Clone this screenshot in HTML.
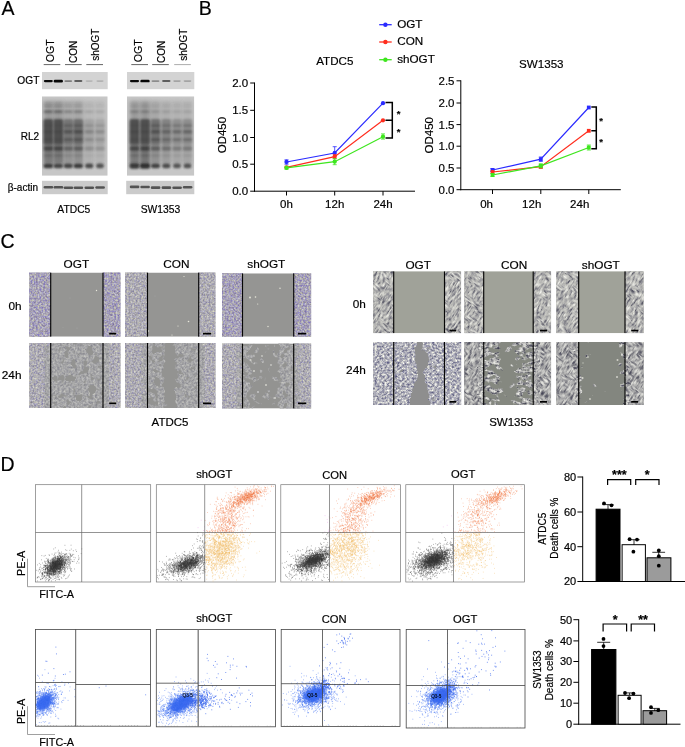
<!DOCTYPE html>
<html lang="en"><head><meta charset="utf-8"><title>Figure</title>
<style>
html,body{margin:0;padding:0;background:#fff;}
body{width:685px;height:747px;overflow:hidden;}
svg{display:block;will-change:transform;font-family:'Liberation Sans', sans-serif;}
text{stroke:#000;stroke-width:.18px}
</style></head><body>
<svg width="685" height="747" viewBox="0 0 685 747">
<rect width="685" height="747" fill="#fff"/>
<defs>
<filter id="b05" x="-50%" y="-50%" width="200%" height="200%"><feGaussianBlur stdDeviation="0.5"/></filter>
<filter id="b08" x="-50%" y="-50%" width="200%" height="200%"><feGaussianBlur stdDeviation="0.8"/></filter>
<filter id="b12" x="-50%" y="-50%" width="200%" height="200%"><feGaussianBlur stdDeviation="1.2"/></filter>
<filter id="b2" x="-50%" y="-50%" width="200%" height="200%"><feGaussianBlur stdDeviation="2.0"/></filter>
<filter id="b3" x="-50%" y="-50%" width="200%" height="200%"><feGaussianBlur stdDeviation="3.0"/></filter>
<filter id="txA" x="0" y="0" width="100%" height="100%" color-interpolation-filters="sRGB">
<feTurbulence type="fractalNoise" baseFrequency="0.55" numOctaves="2" seed="3"/>
<feColorMatrix type="matrix" values="0.52 0 0 0 0.395  0.6 0 0 0 0.335  0.14 0.34 0 0 0.480  0 0 0 0 1"/>
</filter>
<filter id="txAg" x="0" y="0" width="100%" height="100%" color-interpolation-filters="sRGB">
<feTurbulence type="fractalNoise" baseFrequency="0.55" numOctaves="2" seed="17"/>
<feColorMatrix type="matrix" values="0.48 0 0 0 0.440  0.5 0 0 0 0.422  0.26 0.22 0 0 0.465  0 0 0 0 1"/>
</filter>
<filter id="txS" x="0" y="0" width="100%" height="100%" color-interpolation-filters="sRGB">
<feTurbulence type="fractalNoise" baseFrequency="0.30 0.40" numOctaves="3" seed="5"/>
<feColorMatrix type="matrix" values="1 0 0 0 0  1 0 0 0 0  1 0 0 0 0  0 0 0 0 1"/><feComponentTransfer><feFuncR type="table" tableValues="0.27 0.27 0.31 0.42 0.58 0.71 0.80 0.88 0.94 0.98 1.00"/><feFuncG type="table" tableValues="0.27 0.27 0.31 0.42 0.58 0.71 0.80 0.88 0.94 0.98 1.00"/><feFuncB type="table" tableValues="0.33 0.33 0.37 0.46 0.60 0.70 0.78 0.86 0.92 0.96 0.98"/></feComponentTransfer>
</filter>
<filter id="txS2" x="0" y="0" width="100%" height="100%" color-interpolation-filters="sRGB">
<feTurbulence type="fractalNoise" baseFrequency="0.40 0.50" numOctaves="3" seed="9"/>
<feColorMatrix type="matrix" values="1.0 0 0 0 0.190  1.0 0 0 0 0.190  0.7 0.08 0 0 0.340  0 0 0 0 1"/>
</filter>
<filter id="txS3" x="0" y="0" width="100%" height="100%" color-interpolation-filters="sRGB">
<feTurbulence type="fractalNoise" baseFrequency="0.30 0.40" numOctaves="3" seed="19"/>
<feColorMatrix type="matrix" values="1 0 0 0 0  1 0 0 0 0  1 0 0 0 0  0 0 0 0 1"/><feComponentTransfer><feFuncR type="table" tableValues="0.25 0.25 0.29 0.38 0.53 0.67 0.78 0.86 0.93 0.97 1.00"/><feFuncG type="table" tableValues="0.25 0.25 0.29 0.38 0.53 0.67 0.78 0.86 0.93 0.97 1.00"/><feFuncB type="table" tableValues="0.31 0.31 0.35 0.43 0.55 0.67 0.77 0.84 0.91 0.95 0.98"/></feComponentTransfer>
</filter>
<filter id="stS1" x="0" y="0" width="100%" height="100%" color-interpolation-filters="sRGB">
<feTurbulence type="fractalNoise" baseFrequency="0.17 0.55" numOctaves="2" seed="5"/>
<feColorMatrix type="matrix" values="1 0 0 0 0  1 0 0 0 0  1 0 0 0 0  0 0 0 0 1"/><feComponentTransfer><feFuncR type="table" tableValues="0.27 0.27 0.31 0.42 0.58 0.71 0.80 0.88 0.94 0.98 1.00"/><feFuncG type="table" tableValues="0.27 0.27 0.31 0.42 0.58 0.71 0.80 0.88 0.94 0.98 1.00"/><feFuncB type="table" tableValues="0.33 0.33 0.37 0.46 0.60 0.70 0.78 0.86 0.92 0.96 0.98"/></feComponentTransfer>
</filter>
<filter id="stS3" x="0" y="0" width="100%" height="100%" color-interpolation-filters="sRGB">
<feTurbulence type="fractalNoise" baseFrequency="0.17 0.55" numOctaves="2" seed="19"/>
<feColorMatrix type="matrix" values="1 0 0 0 0  1 0 0 0 0  1 0 0 0 0  0 0 0 0 1"/><feComponentTransfer><feFuncR type="table" tableValues="0.25 0.25 0.29 0.38 0.53 0.67 0.78 0.86 0.93 0.97 1.00"/><feFuncG type="table" tableValues="0.25 0.25 0.29 0.38 0.53 0.67 0.78 0.86 0.93 0.97 1.00"/><feFuncB type="table" tableValues="0.31 0.31 0.35 0.43 0.55 0.67 0.77 0.84 0.91 0.95 0.98"/></feComponentTransfer>
</filter>
<filter id="stS1b" x="0" y="0" width="100%" height="100%" color-interpolation-filters="sRGB">
<feTurbulence type="fractalNoise" baseFrequency="0.09 0.12" numOctaves="1" seed="3" result="m"/>
<feColorMatrix in="m" type="matrix" values="0 0 0 0 0  0 0 0 0 0  0 0 0 0 0  0 0 0 9 -4.5" result="mask"/>
<feTurbulence type="fractalNoise" baseFrequency="0.17 0.55" numOctaves="2" seed="8" result="t"/>
<feColorMatrix in="t" type="matrix" values="1 0 0 0 0  1 0 0 0 0  1 0 0 0 0  0 0 0 0 1"/><feComponentTransfer result="tc"><feFuncR type="table" tableValues="0.27 0.27 0.31 0.42 0.58 0.71 0.80 0.88 0.94 0.98 1.00"/><feFuncG type="table" tableValues="0.27 0.27 0.31 0.42 0.58 0.71 0.80 0.88 0.94 0.98 1.00"/><feFuncB type="table" tableValues="0.33 0.33 0.37 0.46 0.60 0.70 0.78 0.86 0.92 0.96 0.98"/></feComponentTransfer>
<feComposite in="tc" in2="mask" operator="in"/>
</filter>
<filter id="stS3b" x="0" y="0" width="100%" height="100%" color-interpolation-filters="sRGB">
<feTurbulence type="fractalNoise" baseFrequency="0.09 0.12" numOctaves="1" seed="13" result="m"/>
<feColorMatrix in="m" type="matrix" values="0 0 0 0 0  0 0 0 0 0  0 0 0 0 0  0 0 0 9 -4.5" result="mask"/>
<feTurbulence type="fractalNoise" baseFrequency="0.17 0.55" numOctaves="2" seed="28" result="t"/>
<feColorMatrix in="t" type="matrix" values="1 0 0 0 0  1 0 0 0 0  1 0 0 0 0  0 0 0 0 1"/><feComponentTransfer result="tc"><feFuncR type="table" tableValues="0.25 0.25 0.29 0.38 0.53 0.67 0.78 0.86 0.93 0.97 1.00"/><feFuncG type="table" tableValues="0.25 0.25 0.29 0.38 0.53 0.67 0.78 0.86 0.93 0.97 1.00"/><feFuncB type="table" tableValues="0.31 0.31 0.35 0.43 0.55 0.67 0.77 0.84 0.91 0.95 0.98"/></feComponentTransfer>
<feComposite in="tc" in2="mask" operator="in"/>
</filter>
<filter id="covA" x="0" y="0" width="100%" height="100%" color-interpolation-filters="sRGB">
<feColorMatrix in="SourceGraphic" type="matrix" values="0 0 0 0 0  0 0 0 0 0  0 0 0 0 0  1 0 0 0 0" result="cv"/>
<feTurbulence type="fractalNoise" baseFrequency="0.17" numOctaves="2" seed="21" result="m"/>
<feComposite in="m" in2="cv" operator="arithmetic" k1="0" k2="1" k3="0.6" k4="-0.3" result="c"/>
<feColorMatrix in="c" type="matrix" values="0 0 0 0 0  0 0 0 0 0  0 0 0 0 0  0 0 0 9 -4.5" result="mask"/>
<feTurbulence type="fractalNoise" baseFrequency="0.45" numOctaves="2" seed="4" result="t"/>
<feColorMatrix in="t" type="matrix" values="0.36 0 0 0 0.468  0.36 0 0 0 0.468  0.3 0.04 0 0 0.485  0 0 0 0 1" result="tc"/>
<feComposite in="tc" in2="mask" operator="in"/>
</filter>
<filter id="covS" x="0" y="0" width="100%" height="100%" color-interpolation-filters="sRGB">
<feColorMatrix in="SourceGraphic" type="matrix" values="0 0 0 0 0  0 0 0 0 0  0 0 0 0 0  1 0 0 0 0" result="cv"/>
<feTurbulence type="fractalNoise" baseFrequency="0.13 0.17" numOctaves="2" seed="52" result="m"/>
<feComposite in="m" in2="cv" operator="arithmetic" k1="0" k2="1" k3="0.6" k4="-0.3" result="c"/>
<feColorMatrix in="c" type="matrix" values="0 0 0 0 0  0 0 0 0 0  0 0 0 0 0  0 0 0 9 -4.5" result="mask"/>
<feTurbulence type="fractalNoise" baseFrequency="0.30 0.40" numOctaves="3" seed="12" result="t"/>
<feColorMatrix in="t" type="matrix" values="1 0 0 0 0  1 0 0 0 0  1 0 0 0 0  0 0 0 0 1"/><feComponentTransfer result="tc"><feFuncR type="table" tableValues="0.25 0.25 0.29 0.38 0.53 0.67 0.78 0.86 0.93 0.97 1.00"/><feFuncG type="table" tableValues="0.25 0.25 0.29 0.38 0.53 0.67 0.78 0.86 0.93 0.97 1.00"/><feFuncB type="table" tableValues="0.31 0.31 0.35 0.43 0.55 0.67 0.77 0.84 0.91 0.95 0.98"/></feComponentTransfer>
<feComposite in="tc" in2="mask" operator="in"/>
</filter>
<filter id="covS2" x="0" y="0" width="100%" height="100%" color-interpolation-filters="sRGB">
<feColorMatrix in="SourceGraphic" type="matrix" values="0 0 0 0 0  0 0 0 0 0  0 0 0 0 0  1 0 0 0 0" result="cv"/>
<feTurbulence type="fractalNoise" baseFrequency="0.16 0.2" numOctaves="2" seed="31" result="m"/>
<feComposite in="m" in2="cv" operator="arithmetic" k1="0" k2="1" k3="0.6" k4="-0.3" result="c"/>
<feColorMatrix in="c" type="matrix" values="0 0 0 0 0  0 0 0 0 0  0 0 0 0 0  0 0 0 9 -4.5" result="mask"/>
<feTurbulence type="fractalNoise" baseFrequency="0.40 0.50" numOctaves="3" seed="9" result="t"/>
<feColorMatrix in="t" type="matrix" values="1.0 0 0 0 0.190  1.0 0 0 0 0.190  0.7 0.08 0 0 0.340  0 0 0 0 1" result="tc"/>
<feComposite in="tc" in2="mask" operator="in"/>
</filter>
</defs>
<text x="1.50" y="15.30" font-size="19.5" text-anchor="start" fill="#000">A</text>
<line x1="43.70" y1="64.60" x2="60.30" y2="64.60" stroke="#222" stroke-width="0.7"/>
<line x1="65.00" y1="64.60" x2="81.70" y2="64.60" stroke="#222" stroke-width="0.7"/>
<line x1="86.30" y1="64.60" x2="103.00" y2="64.60" stroke="#222" stroke-width="0.7"/>
<line x1="131.30" y1="64.60" x2="148.00" y2="64.60" stroke="#222" stroke-width="0.7"/>
<line x1="152.20" y1="64.60" x2="168.80" y2="64.60" stroke="#222" stroke-width="0.7"/>
<line x1="174.20" y1="64.60" x2="190.80" y2="64.60" stroke="#888" stroke-width="0.7"/>
<text transform="translate(54.00 62.30) rotate(-90)" font-size="10.6" text-anchor="start" fill="#000">OGT</text>
<text transform="translate(77.40 63.00) rotate(-90)" font-size="10" text-anchor="start" fill="#000">CON</text>
<text transform="translate(99.20 60.80) rotate(-90)" font-size="10" text-anchor="start" fill="#000">shOGT</text>
<rect x="42" y="72" width="65.7" height="17.2" fill="#d3d3d3"/>
<rect x="43.8" y="79.95" width="9.0" height="2.30" rx="1.2" fill="#050505" opacity="0.95" filter="url(#b05)"/>
<rect x="53.7" y="79.80" width="9.2" height="2.60" rx="1.2" fill="#050505" opacity="0.97" filter="url(#b05)"/>
<rect x="64.4" y="80.20" width="7.8" height="1.80" rx="1.2" fill="#050505" opacity="0.4" filter="url(#b05)"/>
<rect x="74.2" y="80.10" width="8.2" height="2.00" rx="1.2" fill="#050505" opacity="0.55" filter="url(#b05)"/>
<rect x="85.6" y="80.30" width="7.2" height="1.60" rx="1.2" fill="#050505" opacity="0.13" filter="url(#b05)"/>
<rect x="96.4" y="80.30" width="7.2" height="1.60" rx="1.2" fill="#050505" opacity="0.15" filter="url(#b05)"/>
<clipPath id="clipRL42"><rect x="42" y="96.3" width="65.7" height="79.5"/></clipPath>
<g clip-path="url(#clipRL42)">
<rect x="42" y="96.3" width="65.7" height="79.5" fill="#c7c7c7"/>
<rect x="43.6" y="101" width="9.4" height="64" fill="#333" opacity="0.30" filter="url(#b2)"/>
<rect x="43.6" y="143" width="9.4" height="20" fill="#333" opacity="0.30" filter="url(#b12)"/>
<rect x="43.4" y="119" width="9.8" height="25.5" rx="2" fill="#4c4c4c" opacity="0.93" filter="url(#b12)"/>
<rect x="43.8" y="102.5" width="9.0" height="1.4" rx="1" fill="#262626" opacity="0.16" filter="url(#b08)"/>
<rect x="43.8" y="104.9" width="9.0" height="1.8" rx="1" fill="#262626" opacity="0.22" filter="url(#b08)"/>
<rect x="43.8" y="110.5" width="9.0" height="2.4" rx="1" fill="#262626" opacity="0.46" filter="url(#b08)"/>
<rect x="43.8" y="124.2" width="9.0" height="2.8" rx="1" fill="#262626" opacity="0.11" filter="url(#b08)"/>
<rect x="43.8" y="129.9" width="9.0" height="3.6" rx="1" fill="#262626" opacity="0.17" filter="url(#b08)"/>
<rect x="43.8" y="138.3" width="9.0" height="2.8" rx="1" fill="#262626" opacity="0.15" filter="url(#b08)"/>
<rect x="43.8" y="146.3" width="9.0" height="4.4" rx="1" fill="#262626" opacity="0.62" filter="url(#b08)"/>
<rect x="43.8" y="154.0" width="9.0" height="3.0" rx="1" fill="#262626" opacity="0.18" filter="url(#b08)"/>
<rect x="53.6" y="101" width="9.4" height="64" fill="#333" opacity="0.30" filter="url(#b2)"/>
<rect x="53.6" y="143" width="9.4" height="20" fill="#333" opacity="0.30" filter="url(#b12)"/>
<rect x="53.4" y="119" width="9.8" height="25.5" rx="2" fill="#4c4c4c" opacity="0.93" filter="url(#b12)"/>
<rect x="53.8" y="102.5" width="9.0" height="1.4" rx="1" fill="#262626" opacity="0.16" filter="url(#b08)"/>
<rect x="53.8" y="104.9" width="9.0" height="1.8" rx="1" fill="#262626" opacity="0.22" filter="url(#b08)"/>
<rect x="53.8" y="110.5" width="9.0" height="2.4" rx="1" fill="#262626" opacity="0.46" filter="url(#b08)"/>
<rect x="53.8" y="124.2" width="9.0" height="2.8" rx="1" fill="#262626" opacity="0.11" filter="url(#b08)"/>
<rect x="53.8" y="129.9" width="9.0" height="3.6" rx="1" fill="#262626" opacity="0.17" filter="url(#b08)"/>
<rect x="53.8" y="138.3" width="9.0" height="2.8" rx="1" fill="#262626" opacity="0.15" filter="url(#b08)"/>
<rect x="53.8" y="146.3" width="9.0" height="4.4" rx="1" fill="#262626" opacity="0.62" filter="url(#b08)"/>
<rect x="53.8" y="154.0" width="9.0" height="3.0" rx="1" fill="#262626" opacity="0.18" filter="url(#b08)"/>
<rect x="63.6" y="101" width="9.4" height="64" fill="#333" opacity="0.20" filter="url(#b2)"/>
<rect x="63.6" y="143" width="9.4" height="20" fill="#333" opacity="0.16" filter="url(#b12)"/>
<rect x="63.4" y="119" width="9.8" height="25.5" rx="2" fill="#4c4c4c" opacity="0.54" filter="url(#b12)"/>
<rect x="63.8" y="102.5" width="9.0" height="1.4" rx="1" fill="#262626" opacity="0.11" filter="url(#b08)"/>
<rect x="63.8" y="104.9" width="9.0" height="1.8" rx="1" fill="#262626" opacity="0.15" filter="url(#b08)"/>
<rect x="63.8" y="110.5" width="9.0" height="2.4" rx="1" fill="#262626" opacity="0.30" filter="url(#b08)"/>
<rect x="63.8" y="124.2" width="9.0" height="2.8" rx="1" fill="#262626" opacity="0.29" filter="url(#b08)"/>
<rect x="63.8" y="129.9" width="9.0" height="3.6" rx="1" fill="#262626" opacity="0.42" filter="url(#b08)"/>
<rect x="63.8" y="138.3" width="9.0" height="2.8" rx="1" fill="#262626" opacity="0.38" filter="url(#b08)"/>
<rect x="63.8" y="146.3" width="9.0" height="4.4" rx="1" fill="#262626" opacity="0.44" filter="url(#b08)"/>
<rect x="63.8" y="154.0" width="9.0" height="3.0" rx="1" fill="#262626" opacity="0.12" filter="url(#b08)"/>
<rect x="73.6" y="101" width="9.4" height="64" fill="#333" opacity="0.22" filter="url(#b2)"/>
<rect x="73.6" y="143" width="9.4" height="20" fill="#333" opacity="0.18" filter="url(#b12)"/>
<rect x="73.4" y="119" width="9.8" height="25.5" rx="2" fill="#4c4c4c" opacity="0.61" filter="url(#b12)"/>
<rect x="73.8" y="102.5" width="9.0" height="1.4" rx="1" fill="#262626" opacity="0.12" filter="url(#b08)"/>
<rect x="73.8" y="104.9" width="9.0" height="1.8" rx="1" fill="#262626" opacity="0.16" filter="url(#b08)"/>
<rect x="73.8" y="110.5" width="9.0" height="2.4" rx="1" fill="#262626" opacity="0.33" filter="url(#b08)"/>
<rect x="73.8" y="124.2" width="9.0" height="2.8" rx="1" fill="#262626" opacity="0.31" filter="url(#b08)"/>
<rect x="73.8" y="129.9" width="9.0" height="3.6" rx="1" fill="#262626" opacity="0.46" filter="url(#b08)"/>
<rect x="73.8" y="138.3" width="9.0" height="2.8" rx="1" fill="#262626" opacity="0.41" filter="url(#b08)"/>
<rect x="73.8" y="146.3" width="9.0" height="4.4" rx="1" fill="#262626" opacity="0.48" filter="url(#b08)"/>
<rect x="73.8" y="154.0" width="9.0" height="3.0" rx="1" fill="#262626" opacity="0.13" filter="url(#b08)"/>
<rect x="84.5" y="101" width="9.4" height="64" fill="#333" opacity="0.09" filter="url(#b2)"/>
<rect x="84.5" y="143" width="9.4" height="20" fill="#333" opacity="0.05" filter="url(#b12)"/>
<rect x="84.3" y="119" width="9.8" height="25.5" rx="2" fill="#4c4c4c" opacity="0.19" filter="url(#b12)"/>
<rect x="84.7" y="102.5" width="9.0" height="1.4" rx="1" fill="#262626" opacity="0.05" filter="url(#b08)"/>
<rect x="84.7" y="104.9" width="9.0" height="1.8" rx="1" fill="#262626" opacity="0.07" filter="url(#b08)"/>
<rect x="84.7" y="110.5" width="9.0" height="2.4" rx="1" fill="#262626" opacity="0.14" filter="url(#b08)"/>
<rect x="84.7" y="124.2" width="9.0" height="2.8" rx="1" fill="#262626" opacity="0.17" filter="url(#b08)"/>
<rect x="84.7" y="129.9" width="9.0" height="3.6" rx="1" fill="#262626" opacity="0.25" filter="url(#b08)"/>
<rect x="84.7" y="138.3" width="9.0" height="2.8" rx="1" fill="#262626" opacity="0.22" filter="url(#b08)"/>
<rect x="84.7" y="146.3" width="9.0" height="4.4" rx="1" fill="#262626" opacity="0.24" filter="url(#b08)"/>
<rect x="84.7" y="154.0" width="9.0" height="3.0" rx="1" fill="#262626" opacity="0.05" filter="url(#b08)"/>
<rect x="95.3" y="101" width="9.4" height="64" fill="#333" opacity="0.08" filter="url(#b2)"/>
<rect x="95.3" y="143" width="9.4" height="20" fill="#333" opacity="0.04" filter="url(#b12)"/>
<rect x="95.1" y="119" width="9.8" height="25.5" rx="2" fill="#4c4c4c" opacity="0.16" filter="url(#b12)"/>
<rect x="95.5" y="102.5" width="9.0" height="1.4" rx="1" fill="#262626" opacity="0.04" filter="url(#b08)"/>
<rect x="95.5" y="104.9" width="9.0" height="1.8" rx="1" fill="#262626" opacity="0.06" filter="url(#b08)"/>
<rect x="95.5" y="110.5" width="9.0" height="2.4" rx="1" fill="#262626" opacity="0.12" filter="url(#b08)"/>
<rect x="95.5" y="124.2" width="9.0" height="2.8" rx="1" fill="#262626" opacity="0.15" filter="url(#b08)"/>
<rect x="95.5" y="129.9" width="9.0" height="3.6" rx="1" fill="#262626" opacity="0.22" filter="url(#b08)"/>
<rect x="95.5" y="138.3" width="9.0" height="2.8" rx="1" fill="#262626" opacity="0.20" filter="url(#b08)"/>
<rect x="95.5" y="146.3" width="9.0" height="4.4" rx="1" fill="#262626" opacity="0.22" filter="url(#b08)"/>
<rect x="95.5" y="154.0" width="9.0" height="3.0" rx="1" fill="#262626" opacity="0.05" filter="url(#b08)"/>
<rect x="43.5" y="163.5" width="9.6" height="4.8" rx="2.2" fill="#262626" opacity="0.86" filter="url(#b08)"/>
<rect x="53.6" y="163.5" width="9.4" height="4.8" rx="2.2" fill="#262626" opacity="0.8" filter="url(#b08)"/>
<rect x="63.8" y="163.5" width="9.0" height="4.8" rx="2.2" fill="#262626" opacity="0.8" filter="url(#b08)"/>
<rect x="73.6" y="163.5" width="9.4" height="4.8" rx="2.2" fill="#262626" opacity="0.86" filter="url(#b08)"/>
<rect x="85.1" y="163.5" width="8.2" height="4.8" rx="2.2" fill="#262626" opacity="0.78" filter="url(#b08)"/>
<rect x="96.1" y="163.5" width="7.8" height="4.8" rx="2.2" fill="#262626" opacity="0.72" filter="url(#b08)"/>
</g>
<rect x="42" y="180.8" width="65.7" height="13.4" fill="#cbcbcb"/>
<rect x="43.6" y="185.9" width="9.6" height="2.6" rx="1.2" fill="#2c2c2c" opacity="0.74" filter="url(#b05)"/>
<rect x="53.6" y="186.0" width="9.6" height="2.6" rx="1.2" fill="#2c2c2c" opacity="0.74" filter="url(#b05)"/>
<rect x="63.6" y="186.4" width="9.6" height="2.6" rx="1.2" fill="#2c2c2c" opacity="0.74" filter="url(#b05)"/>
<rect x="73.6" y="186.4" width="9.6" height="2.6" rx="1.2" fill="#2c2c2c" opacity="0.74" filter="url(#b05)"/>
<rect x="84.5" y="186.4" width="9.6" height="2.6" rx="1.2" fill="#2c2c2c" opacity="0.74" filter="url(#b05)"/>
<rect x="95.3" y="186.2" width="9.6" height="2.6" rx="1.2" fill="#2c2c2c" opacity="0.74" filter="url(#b05)"/>
<text x="73.80" y="213.00" font-size="10.3" text-anchor="middle" fill="#000">ATDC5</text>
<text transform="translate(142.40 62.30) rotate(-90)" font-size="10.6" text-anchor="start" fill="#000">OGT</text>
<text transform="translate(165.00 63.00) rotate(-90)" font-size="10" text-anchor="start" fill="#000">CON</text>
<text transform="translate(186.80 60.80) rotate(-90)" font-size="10" text-anchor="start" fill="#000">shOGT</text>
<rect x="127" y="72" width="67.30000000000001" height="17.2" fill="#d3d3d3"/>
<rect x="129.9" y="79.95" width="9.2" height="2.30" rx="1.2" fill="#050505" opacity="0.95" filter="url(#b05)"/>
<rect x="140.4" y="79.85" width="9.2" height="2.50" rx="1.2" fill="#050505" opacity="0.97" filter="url(#b05)"/>
<rect x="151.5" y="80.20" width="8.0" height="1.80" rx="1.2" fill="#050505" opacity="0.33" filter="url(#b05)"/>
<rect x="162.1" y="80.10" width="8.4" height="2.00" rx="1.2" fill="#050505" opacity="0.55" filter="url(#b05)"/>
<rect x="173.2" y="80.30" width="7.6" height="1.60" rx="1.2" fill="#050505" opacity="0.22" filter="url(#b05)"/>
<rect x="183.6" y="80.30" width="7.8" height="1.60" rx="1.2" fill="#050505" opacity="0.22" filter="url(#b05)"/>
<clipPath id="clipRL127"><rect x="127" y="96.3" width="67.30000000000001" height="79.5"/></clipPath>
<g clip-path="url(#clipRL127)">
<rect x="127" y="96.3" width="67.30000000000001" height="79.5" fill="#c7c7c7"/>
<rect x="129.8" y="101" width="9.4" height="64" fill="#333" opacity="0.30" filter="url(#b2)"/>
<rect x="129.8" y="143" width="9.4" height="20" fill="#333" opacity="0.30" filter="url(#b12)"/>
<rect x="129.6" y="119" width="9.8" height="25.5" rx="2" fill="#4c4c4c" opacity="0.93" filter="url(#b12)"/>
<rect x="130.0" y="102.5" width="9.0" height="1.4" rx="1" fill="#262626" opacity="0.06" filter="url(#b08)"/>
<rect x="130.0" y="104.9" width="9.0" height="1.8" rx="1" fill="#262626" opacity="0.10" filter="url(#b08)"/>
<rect x="130.0" y="110.5" width="9.0" height="2.4" rx="1" fill="#262626" opacity="0.25" filter="url(#b08)"/>
<rect x="130.0" y="124.2" width="9.0" height="2.8" rx="1" fill="#262626" opacity="0.11" filter="url(#b08)"/>
<rect x="130.0" y="129.9" width="9.0" height="3.6" rx="1" fill="#262626" opacity="0.17" filter="url(#b08)"/>
<rect x="130.0" y="138.3" width="9.0" height="2.8" rx="1" fill="#262626" opacity="0.15" filter="url(#b08)"/>
<rect x="130.0" y="146.3" width="9.0" height="4.4" rx="1" fill="#262626" opacity="0.62" filter="url(#b08)"/>
<rect x="130.0" y="154.0" width="9.0" height="3.0" rx="1" fill="#262626" opacity="0.18" filter="url(#b08)"/>
<rect x="140.3" y="101" width="9.4" height="64" fill="#333" opacity="0.32" filter="url(#b2)"/>
<rect x="140.3" y="143" width="9.4" height="20" fill="#333" opacity="0.34" filter="url(#b12)"/>
<rect x="140.1" y="119" width="9.8" height="25.5" rx="2" fill="#4c4c4c" opacity="0.93" filter="url(#b12)"/>
<rect x="140.5" y="102.5" width="9.0" height="1.4" rx="1" fill="#262626" opacity="0.06" filter="url(#b08)"/>
<rect x="140.5" y="104.9" width="9.0" height="1.8" rx="1" fill="#262626" opacity="0.11" filter="url(#b08)"/>
<rect x="140.5" y="110.5" width="9.0" height="2.4" rx="1" fill="#262626" opacity="0.27" filter="url(#b08)"/>
<rect x="140.5" y="124.2" width="9.0" height="2.8" rx="1" fill="#262626" opacity="0.11" filter="url(#b08)"/>
<rect x="140.5" y="129.9" width="9.0" height="3.6" rx="1" fill="#262626" opacity="0.17" filter="url(#b08)"/>
<rect x="140.5" y="138.3" width="9.0" height="2.8" rx="1" fill="#262626" opacity="0.15" filter="url(#b08)"/>
<rect x="140.5" y="146.3" width="9.0" height="4.4" rx="1" fill="#262626" opacity="0.66" filter="url(#b08)"/>
<rect x="140.5" y="154.0" width="9.0" height="3.0" rx="1" fill="#262626" opacity="0.19" filter="url(#b08)"/>
<rect x="150.8" y="101" width="9.4" height="64" fill="#333" opacity="0.21" filter="url(#b2)"/>
<rect x="150.8" y="143" width="9.4" height="20" fill="#333" opacity="0.18" filter="url(#b12)"/>
<rect x="150.6" y="119" width="9.8" height="25.5" rx="2" fill="#4c4c4c" opacity="0.59" filter="url(#b12)"/>
<rect x="151.0" y="102.5" width="9.0" height="1.4" rx="1" fill="#262626" opacity="0.04" filter="url(#b08)"/>
<rect x="151.0" y="104.9" width="9.0" height="1.8" rx="1" fill="#262626" opacity="0.07" filter="url(#b08)"/>
<rect x="151.0" y="110.5" width="9.0" height="2.4" rx="1" fill="#262626" opacity="0.17" filter="url(#b08)"/>
<rect x="151.0" y="124.2" width="9.0" height="2.8" rx="1" fill="#262626" opacity="0.31" filter="url(#b08)"/>
<rect x="151.0" y="129.9" width="9.0" height="3.6" rx="1" fill="#262626" opacity="0.44" filter="url(#b08)"/>
<rect x="151.0" y="138.3" width="9.0" height="2.8" rx="1" fill="#262626" opacity="0.40" filter="url(#b08)"/>
<rect x="151.0" y="146.3" width="9.0" height="4.4" rx="1" fill="#262626" opacity="0.47" filter="url(#b08)"/>
<rect x="151.0" y="154.0" width="9.0" height="3.0" rx="1" fill="#262626" opacity="0.13" filter="url(#b08)"/>
<rect x="161.6" y="101" width="9.4" height="64" fill="#333" opacity="0.17" filter="url(#b2)"/>
<rect x="161.6" y="143" width="9.4" height="20" fill="#333" opacity="0.13" filter="url(#b12)"/>
<rect x="161.4" y="119" width="9.8" height="25.5" rx="2" fill="#4c4c4c" opacity="0.43" filter="url(#b12)"/>
<rect x="161.8" y="102.5" width="9.0" height="1.4" rx="1" fill="#262626" opacity="0.03" filter="url(#b08)"/>
<rect x="161.8" y="104.9" width="9.0" height="1.8" rx="1" fill="#262626" opacity="0.06" filter="url(#b08)"/>
<rect x="161.8" y="110.5" width="9.0" height="2.4" rx="1" fill="#262626" opacity="0.14" filter="url(#b08)"/>
<rect x="161.8" y="124.2" width="9.0" height="2.8" rx="1" fill="#262626" opacity="0.24" filter="url(#b08)"/>
<rect x="161.8" y="129.9" width="9.0" height="3.6" rx="1" fill="#262626" opacity="0.35" filter="url(#b08)"/>
<rect x="161.8" y="138.3" width="9.0" height="2.8" rx="1" fill="#262626" opacity="0.32" filter="url(#b08)"/>
<rect x="161.8" y="146.3" width="9.0" height="4.4" rx="1" fill="#262626" opacity="0.39" filter="url(#b08)"/>
<rect x="161.8" y="154.0" width="9.0" height="3.0" rx="1" fill="#262626" opacity="0.10" filter="url(#b08)"/>
<rect x="172.3" y="101" width="9.4" height="64" fill="#333" opacity="0.14" filter="url(#b2)"/>
<rect x="172.3" y="143" width="9.4" height="20" fill="#333" opacity="0.09" filter="url(#b12)"/>
<rect x="172.1" y="119" width="9.8" height="25.5" rx="2" fill="#4c4c4c" opacity="0.32" filter="url(#b12)"/>
<rect x="172.5" y="102.5" width="9.0" height="1.4" rx="1" fill="#262626" opacity="0.03" filter="url(#b08)"/>
<rect x="172.5" y="104.9" width="9.0" height="1.8" rx="1" fill="#262626" opacity="0.05" filter="url(#b08)"/>
<rect x="172.5" y="110.5" width="9.0" height="2.4" rx="1" fill="#262626" opacity="0.11" filter="url(#b08)"/>
<rect x="172.5" y="124.2" width="9.0" height="2.8" rx="1" fill="#262626" opacity="0.26" filter="url(#b08)"/>
<rect x="172.5" y="129.9" width="9.0" height="3.6" rx="1" fill="#262626" opacity="0.37" filter="url(#b08)"/>
<rect x="172.5" y="138.3" width="9.0" height="2.8" rx="1" fill="#262626" opacity="0.34" filter="url(#b08)"/>
<rect x="172.5" y="146.3" width="9.0" height="4.4" rx="1" fill="#262626" opacity="0.33" filter="url(#b08)"/>
<rect x="172.5" y="154.0" width="9.0" height="3.0" rx="1" fill="#262626" opacity="0.08" filter="url(#b08)"/>
<rect x="182.8" y="101" width="9.4" height="64" fill="#333" opacity="0.14" filter="url(#b2)"/>
<rect x="182.8" y="143" width="9.4" height="20" fill="#333" opacity="0.10" filter="url(#b12)"/>
<rect x="182.6" y="119" width="9.8" height="25.5" rx="2" fill="#4c4c4c" opacity="0.34" filter="url(#b12)"/>
<rect x="183.0" y="102.5" width="9.0" height="1.4" rx="1" fill="#262626" opacity="0.03" filter="url(#b08)"/>
<rect x="183.0" y="104.9" width="9.0" height="1.8" rx="1" fill="#262626" opacity="0.05" filter="url(#b08)"/>
<rect x="183.0" y="110.5" width="9.0" height="2.4" rx="1" fill="#262626" opacity="0.12" filter="url(#b08)"/>
<rect x="183.0" y="124.2" width="9.0" height="2.8" rx="1" fill="#262626" opacity="0.27" filter="url(#b08)"/>
<rect x="183.0" y="129.9" width="9.0" height="3.6" rx="1" fill="#262626" opacity="0.39" filter="url(#b08)"/>
<rect x="183.0" y="138.3" width="9.0" height="2.8" rx="1" fill="#262626" opacity="0.35" filter="url(#b08)"/>
<rect x="183.0" y="146.3" width="9.0" height="4.4" rx="1" fill="#262626" opacity="0.34" filter="url(#b08)"/>
<rect x="183.0" y="154.0" width="9.0" height="3.0" rx="1" fill="#262626" opacity="0.08" filter="url(#b08)"/>
<rect x="129.5" y="163.0" width="10.0" height="5.8" rx="2.2" fill="#262626" opacity="0.86" filter="url(#b08)"/>
<rect x="139.9" y="163.0" width="10.2" height="5.8" rx="2.2" fill="#262626" opacity="0.92" filter="url(#b08)"/>
<rect x="151.0" y="163.5" width="9.0" height="4.8" rx="2.2" fill="#262626" opacity="0.82" filter="url(#b08)"/>
<rect x="162.2" y="163.5" width="8.2" height="4.8" rx="2.2" fill="#262626" opacity="0.76" filter="url(#b08)"/>
<rect x="173.1" y="163.5" width="7.8" height="4.8" rx="2.2" fill="#262626" opacity="0.7" filter="url(#b08)"/>
<rect x="183.6" y="163.5" width="7.8" height="4.8" rx="2.2" fill="#262626" opacity="0.72" filter="url(#b08)"/>
</g>
<rect x="126.2" y="180.8" width="68.10000000000001" height="13.4" fill="#cbcbcb"/>
<rect x="129.8" y="185.6" width="9.6" height="2.6" rx="1.2" fill="#2c2c2c" opacity="0.74" filter="url(#b05)"/>
<rect x="140.3" y="185.7" width="9.6" height="2.6" rx="1.2" fill="#2c2c2c" opacity="0.74" filter="url(#b05)"/>
<rect x="150.8" y="186.3" width="9.6" height="2.6" rx="1.2" fill="#2c2c2c" opacity="0.74" filter="url(#b05)"/>
<rect x="161.6" y="186.3" width="9.6" height="2.6" rx="1.2" fill="#2c2c2c" opacity="0.74" filter="url(#b05)"/>
<rect x="172.3" y="186.4" width="9.6" height="2.6" rx="1.2" fill="#2c2c2c" opacity="0.74" filter="url(#b05)"/>
<rect x="182.8" y="185.9" width="9.6" height="2.6" rx="1.2" fill="#2c2c2c" opacity="0.74" filter="url(#b05)"/>
<text x="160.40" y="213.00" font-size="10.3" text-anchor="middle" fill="#000">SW1353</text>
<text x="39.40" y="84.30" font-size="10.2" text-anchor="end" fill="#000">OGT</text>
<text x="39.20" y="140.20" font-size="10" text-anchor="end" fill="#000">RL2</text>
<text x="38.00" y="190.80" font-size="10" text-anchor="end" fill="#000">β-actin</text>
<text x="198.70" y="15.20" font-size="19.5" text-anchor="start" fill="#000">B</text>
<line x1="379.20" y1="24.70" x2="391.70" y2="24.70" stroke="#2b2bff" stroke-width="1.3"/>
<circle cx="385.4" cy="24.7" r="2.2" fill="#2b2bff"/>
<text x="397.20" y="27.90" font-size="11.7" text-anchor="start" fill="#000">OGT</text>
<line x1="379.20" y1="42.00" x2="391.70" y2="42.00" stroke="#ff2d1e" stroke-width="1.3"/>
<circle cx="385.4" cy="42.0" r="2.2" fill="#ff2d1e"/>
<text x="397.20" y="45.20" font-size="11.7" text-anchor="start" fill="#000">CON</text>
<line x1="379.20" y1="59.70" x2="391.70" y2="59.70" stroke="#3ee61e" stroke-width="1.3"/>
<circle cx="385.4" cy="59.7" r="2.2" fill="#3ee61e"/>
<text x="397.20" y="62.90" font-size="11.7" text-anchor="start" fill="#000">shOGT</text>
<line x1="254.50" y1="82.50" x2="254.50" y2="191.70" stroke="#000" stroke-width="1"/>
<line x1="254.00" y1="191.20" x2="415.00" y2="191.20" stroke="#000" stroke-width="1"/>
<line x1="250.20" y1="83.00" x2="254.50" y2="83.00" stroke="#000" stroke-width="1"/>
<text x="248.20" y="87.00" font-size="11.5" text-anchor="end" fill="#000">2.0</text>
<line x1="250.20" y1="110.30" x2="254.50" y2="110.30" stroke="#000" stroke-width="1"/>
<text x="248.20" y="114.30" font-size="11.5" text-anchor="end" fill="#000">1.5</text>
<line x1="250.20" y1="137.50" x2="254.50" y2="137.50" stroke="#000" stroke-width="1"/>
<text x="248.20" y="141.50" font-size="11.5" text-anchor="end" fill="#000">1.0</text>
<line x1="250.20" y1="164.20" x2="254.50" y2="164.20" stroke="#000" stroke-width="1"/>
<text x="248.20" y="168.20" font-size="11.5" text-anchor="end" fill="#000">0.5</text>
<line x1="250.20" y1="191.20" x2="254.50" y2="191.20" stroke="#000" stroke-width="1"/>
<text x="248.20" y="195.20" font-size="11.5" text-anchor="end" fill="#000">0.0</text>
<line x1="286.50" y1="191.20" x2="286.50" y2="195.50" stroke="#000" stroke-width="1"/>
<text x="286.50" y="208.10" font-size="11.5" text-anchor="middle" fill="#000">0h</text>
<line x1="334.70" y1="191.20" x2="334.70" y2="195.50" stroke="#000" stroke-width="1"/>
<text x="334.70" y="208.10" font-size="11.5" text-anchor="middle" fill="#000">12h</text>
<line x1="383.00" y1="191.20" x2="383.00" y2="195.50" stroke="#000" stroke-width="1"/>
<text x="383.00" y="208.10" font-size="11.5" text-anchor="middle" fill="#000">24h</text>
<text transform="translate(226.20 135.10) rotate(-90)" font-size="11.5" text-anchor="middle" fill="#000">OD450</text>
<text x="334.80" y="65.00" font-size="11.6" text-anchor="middle" fill="#000">ATDC5</text>
<polyline points="286.5,162.0 334.7,153.0 383.0,103.2" fill="none" stroke="#2b2bff" stroke-width="1.2"/>
<line x1="286.50" y1="159.80" x2="286.50" y2="164.20" stroke="#2b2bff" stroke-width="0.8"/>
<line x1="284.50" y1="159.80" x2="288.50" y2="159.80" stroke="#2b2bff" stroke-width="0.8"/>
<line x1="284.50" y1="164.20" x2="288.50" y2="164.20" stroke="#2b2bff" stroke-width="0.8"/>
<circle cx="286.5" cy="162.0" r="2.15" fill="#2b2bff"/>
<line x1="334.70" y1="146.70" x2="334.70" y2="153.00" stroke="#2b2bff" stroke-width="0.8"/>
<line x1="332.70" y1="146.70" x2="336.70" y2="146.70" stroke="#2b2bff" stroke-width="0.8"/>
<circle cx="334.7" cy="153.0" r="2.15" fill="#2b2bff"/>
<circle cx="383.0" cy="103.2" r="2.15" fill="#2b2bff"/>
<polyline points="286.5,167.4 334.7,156.7 383.0,120.3" fill="none" stroke="#ff2d1e" stroke-width="1.2"/>
<circle cx="286.5" cy="167.4" r="2.15" fill="#ff2d1e"/>
<line x1="334.70" y1="154.70" x2="334.70" y2="158.70" stroke="#ff2d1e" stroke-width="0.8"/>
<line x1="332.70" y1="154.70" x2="336.70" y2="154.70" stroke="#ff2d1e" stroke-width="0.8"/>
<line x1="332.70" y1="158.70" x2="336.70" y2="158.70" stroke="#ff2d1e" stroke-width="0.8"/>
<circle cx="334.7" cy="156.7" r="2.15" fill="#ff2d1e"/>
<circle cx="383.0" cy="120.3" r="2.15" fill="#ff2d1e"/>
<polyline points="286.5,167.8 334.7,161.7 383.0,136.7" fill="none" stroke="#3ee61e" stroke-width="1.2"/>
<line x1="286.50" y1="166.30" x2="286.50" y2="169.30" stroke="#3ee61e" stroke-width="0.8"/>
<line x1="284.50" y1="166.30" x2="288.50" y2="166.30" stroke="#3ee61e" stroke-width="0.8"/>
<line x1="284.50" y1="169.30" x2="288.50" y2="169.30" stroke="#3ee61e" stroke-width="0.8"/>
<circle cx="286.5" cy="167.8" r="2.15" fill="#3ee61e"/>
<line x1="334.70" y1="158.70" x2="334.70" y2="164.70" stroke="#3ee61e" stroke-width="0.8"/>
<line x1="332.70" y1="158.70" x2="336.70" y2="158.70" stroke="#3ee61e" stroke-width="0.8"/>
<line x1="332.70" y1="164.70" x2="336.70" y2="164.70" stroke="#3ee61e" stroke-width="0.8"/>
<circle cx="334.7" cy="161.7" r="2.15" fill="#3ee61e"/>
<line x1="383.00" y1="133.90" x2="383.00" y2="139.10" stroke="#3ee61e" stroke-width="0.8"/>
<line x1="381.00" y1="133.90" x2="385.00" y2="133.90" stroke="#3ee61e" stroke-width="0.8"/>
<line x1="381.00" y1="139.10" x2="385.00" y2="139.10" stroke="#3ee61e" stroke-width="0.8"/>
<circle cx="383.0" cy="136.7" r="2.15" fill="#3ee61e"/>
<path d="M385.5 102.6H392.3V137.9H385.5M385.5 120.3H392.3" fill="none" stroke="#000" stroke-width="1.5"/>
<text x="398.60" y="117.05" font-size="9.5" text-anchor="middle" fill="#000" font-weight="bold">*</text>
<text x="398.60" y="134.50" font-size="9.5" text-anchor="middle" fill="#000" font-weight="bold">*</text>
<line x1="460.80" y1="80.30" x2="460.80" y2="190.20" stroke="#000" stroke-width="1"/>
<line x1="460.30" y1="189.70" x2="620.80" y2="189.70" stroke="#000" stroke-width="1"/>
<line x1="456.50" y1="80.80" x2="460.80" y2="80.80" stroke="#000" stroke-width="1"/>
<text x="454.50" y="84.80" font-size="11.5" text-anchor="end" fill="#000">2.5</text>
<line x1="456.50" y1="103.00" x2="460.80" y2="103.00" stroke="#000" stroke-width="1"/>
<text x="454.50" y="107.00" font-size="11.5" text-anchor="end" fill="#000">2.0</text>
<line x1="456.50" y1="124.60" x2="460.80" y2="124.60" stroke="#000" stroke-width="1"/>
<text x="454.50" y="128.60" font-size="11.5" text-anchor="end" fill="#000">1.5</text>
<line x1="456.50" y1="146.20" x2="460.80" y2="146.20" stroke="#000" stroke-width="1"/>
<text x="454.50" y="150.20" font-size="11.5" text-anchor="end" fill="#000">1.0</text>
<line x1="456.50" y1="168.00" x2="460.80" y2="168.00" stroke="#000" stroke-width="1"/>
<text x="454.50" y="172.00" font-size="11.5" text-anchor="end" fill="#000">0.5</text>
<line x1="456.50" y1="189.70" x2="460.80" y2="189.70" stroke="#000" stroke-width="1"/>
<text x="454.50" y="193.70" font-size="11.5" text-anchor="end" fill="#000">0.0</text>
<line x1="492.50" y1="189.70" x2="492.50" y2="194.00" stroke="#000" stroke-width="1"/>
<text x="493.00" y="208.10" font-size="11.5" text-anchor="end" fill="#000">0h</text>
<line x1="540.80" y1="189.70" x2="540.80" y2="194.00" stroke="#000" stroke-width="1"/>
<text x="541.30" y="208.10" font-size="11.5" text-anchor="end" fill="#000">12h</text>
<line x1="588.80" y1="189.70" x2="588.80" y2="194.00" stroke="#000" stroke-width="1"/>
<text x="589.30" y="208.10" font-size="11.5" text-anchor="end" fill="#000">24h</text>
<text transform="translate(432.80 135.25) rotate(-90)" font-size="11.5" text-anchor="middle" fill="#000">OD450</text>
<text x="541.30" y="67.50" font-size="11.6" text-anchor="middle" fill="#000">SW1353</text>
<polyline points="492.5,170.0 540.8,159.2 588.8,107.5" fill="none" stroke="#2b2bff" stroke-width="1.2"/>
<line x1="492.50" y1="168.50" x2="492.50" y2="171.50" stroke="#2b2bff" stroke-width="0.8"/>
<line x1="490.50" y1="168.50" x2="494.50" y2="168.50" stroke="#2b2bff" stroke-width="0.8"/>
<line x1="490.50" y1="171.50" x2="494.50" y2="171.50" stroke="#2b2bff" stroke-width="0.8"/>
<rect x="490.6" y="168.1" width="3.8" height="3.8" fill="#2b2bff"/>
<line x1="540.80" y1="157.00" x2="540.80" y2="161.40" stroke="#2b2bff" stroke-width="0.8"/>
<line x1="538.80" y1="157.00" x2="542.80" y2="157.00" stroke="#2b2bff" stroke-width="0.8"/>
<line x1="538.80" y1="161.40" x2="542.80" y2="161.40" stroke="#2b2bff" stroke-width="0.8"/>
<rect x="538.9" y="157.3" width="3.8" height="3.8" fill="#2b2bff"/>
<rect x="586.9" y="105.6" width="3.8" height="3.8" fill="#2b2bff"/>
<polyline points="492.5,172.0 540.8,166.7 588.8,130.8" fill="none" stroke="#ff2d1e" stroke-width="1.2"/>
<rect x="490.6" y="170.1" width="3.8" height="3.8" fill="#ff2d1e"/>
<line x1="540.80" y1="165.10" x2="540.80" y2="168.30" stroke="#ff2d1e" stroke-width="0.8"/>
<line x1="538.80" y1="165.10" x2="542.80" y2="165.10" stroke="#ff2d1e" stroke-width="0.8"/>
<line x1="538.80" y1="168.30" x2="542.80" y2="168.30" stroke="#ff2d1e" stroke-width="0.8"/>
<rect x="538.9" y="164.8" width="3.8" height="3.8" fill="#ff2d1e"/>
<rect x="586.9" y="128.9" width="3.8" height="3.8" fill="#ff2d1e"/>
<polyline points="492.5,175.0 540.8,165.8 588.8,147.5" fill="none" stroke="#3ee61e" stroke-width="1.2"/>
<line x1="492.50" y1="173.50" x2="492.50" y2="176.50" stroke="#3ee61e" stroke-width="0.8"/>
<line x1="490.50" y1="173.50" x2="494.50" y2="173.50" stroke="#3ee61e" stroke-width="0.8"/>
<line x1="490.50" y1="176.50" x2="494.50" y2="176.50" stroke="#3ee61e" stroke-width="0.8"/>
<rect x="490.6" y="173.1" width="3.8" height="3.8" fill="#3ee61e"/>
<line x1="540.80" y1="163.80" x2="540.80" y2="167.80" stroke="#3ee61e" stroke-width="0.8"/>
<line x1="538.80" y1="163.80" x2="542.80" y2="163.80" stroke="#3ee61e" stroke-width="0.8"/>
<line x1="538.80" y1="167.80" x2="542.80" y2="167.80" stroke="#3ee61e" stroke-width="0.8"/>
<rect x="538.9" y="163.9" width="3.8" height="3.8" fill="#3ee61e"/>
<line x1="588.80" y1="145.00" x2="588.80" y2="150.00" stroke="#3ee61e" stroke-width="0.8"/>
<line x1="586.80" y1="145.00" x2="590.80" y2="145.00" stroke="#3ee61e" stroke-width="0.8"/>
<line x1="586.80" y1="150.00" x2="590.80" y2="150.00" stroke="#3ee61e" stroke-width="0.8"/>
<rect x="586.9" y="145.6" width="3.8" height="3.8" fill="#3ee61e"/>
<path d="M591.3 106.9H596.3V148.7H591.3M591.3 130.8H596.3" fill="none" stroke="#000" stroke-width="1.5"/>
<text x="601.20" y="124.45" font-size="9.5" text-anchor="middle" fill="#000" font-weight="bold">*</text>
<text x="601.20" y="145.15" font-size="9.5" text-anchor="middle" fill="#000" font-weight="bold">*</text>
<text x="0.40" y="248.20" font-size="19.5" text-anchor="start" fill="#000">C</text>
<clipPath id="mc1"><rect x="29.2" y="272.5" width="91.30" height="64.20"/></clipPath>
<g clip-path="url(#mc1)">
<rect x="29.2" y="272.5" width="91.30" height="64.20" fill="#959593"/>
<rect x="29.2" y="272.5" width="21.50" height="64.20" filter="url(#txA)"/>
<rect x="103.0" y="272.5" width="17.50" height="64.20" filter="url(#txA)"/>
<circle cx="96.5" cy="290.5" r="0.7" fill="#e8e8dc"/>
<circle cx="70" cy="298" r="0.5" fill="#a5a5a5"/>
<circle cx="77" cy="328" r="0.5" fill="#a8a8a8"/>
<circle cx="63" cy="327.5" r="0.5" fill="#a0a0a0"/>
<line x1="50.70" y1="272.50" x2="50.70" y2="336.70" stroke="#050505" stroke-width="1.15"/>
<line x1="103.00" y1="272.50" x2="103.00" y2="336.70" stroke="#050505" stroke-width="1.15"/>
<rect x="109.2" y="332.8" width="7.0" height="1.7" fill="#000"/>
</g>
<clipPath id="mc2"><rect x="125.0" y="272.5" width="90.50" height="64.20"/></clipPath>
<g clip-path="url(#mc2)">
<rect x="125.0" y="272.5" width="90.50" height="64.20" fill="#959593"/>
<rect x="125.0" y="272.5" width="22.50" height="64.20" filter="url(#txAg)"/>
<rect x="198.7" y="272.5" width="16.80" height="64.20" filter="url(#txAg)"/>
<circle cx="184" cy="276.5" r="0.6" fill="#e8e8dc"/>
<circle cx="188.5" cy="321.5" r="0.8" fill="#e8e8dc"/>
<circle cx="178" cy="326" r="0.6" fill="#e8e8dc"/>
<circle cx="172" cy="335" r="0.6" fill="#e8e8dc"/>
<circle cx="148.5" cy="331" r="0.7" fill="#e8e8dc"/>
<circle cx="155" cy="296" r="0.5" fill="#a5a5a5"/>
<line x1="147.50" y1="272.50" x2="147.50" y2="336.70" stroke="#050505" stroke-width="1.15"/>
<line x1="198.70" y1="272.50" x2="198.70" y2="336.70" stroke="#050505" stroke-width="1.15"/>
<rect x="203.0" y="332.8" width="8.2" height="1.7" fill="#000"/>
</g>
<clipPath id="mc3"><rect x="222.0" y="273.3" width="89.20" height="63.40"/></clipPath>
<g clip-path="url(#mc3)">
<rect x="222.0" y="273.3" width="89.20" height="63.40" fill="#959593"/>
<rect x="222.0" y="273.3" width="20.50" height="63.40" filter="url(#txA)"/>
<rect x="293.7" y="273.3" width="17.50" height="63.40" filter="url(#txA)"/>
<circle cx="280" cy="288.3" r="0.7" fill="#e8e8dc"/>
<circle cx="250" cy="297.5" r="0.9" fill="#e8e8dc"/>
<circle cx="255.5" cy="297" r="0.8" fill="#e8e8dc"/>
<circle cx="257.7" cy="304" r="0.6" fill="#e8e8dc"/>
<circle cx="268" cy="326.5" r="0.7" fill="#e8e8dc"/>
<line x1="242.50" y1="273.30" x2="242.50" y2="336.70" stroke="#050505" stroke-width="1.15"/>
<line x1="293.70" y1="273.30" x2="293.70" y2="336.70" stroke="#050505" stroke-width="1.15"/>
<rect x="298.0" y="332.8" width="8.2" height="1.7" fill="#000"/>
</g>
<clipPath id="mc4"><rect x="29.2" y="343.0" width="91.30" height="65.00"/></clipPath>
<g clip-path="url(#mc4)">
<rect x="29.2" y="343.0" width="91.30" height="65.00" fill="#939391"/>
<rect x="29.2" y="343.0" width="21.50" height="65.00" filter="url(#txAg)"/>
<rect x="103.0" y="343.0" width="17.50" height="65.00" filter="url(#txAg)"/>
<g filter="url(#covA)"><rect x="44.7" y="337.0" width="64.3" height="77.0" fill="#000"/><rect x="44.7" y="337.0" width="64.3" height="77.0" fill="rgb(224,224,224)"/><ellipse cx="90.0" cy="350.9" rx="2.9" ry="4.4" fill="rgb(33,33,33)" filter="url(#b08)"/><ellipse cx="74.0" cy="361.9" rx="2.6" ry="2.4" fill="rgb(33,33,33)" filter="url(#b08)"/><ellipse cx="71.1" cy="378.2" rx="4.4" ry="3.4" fill="rgb(33,33,33)" filter="url(#b08)"/><ellipse cx="92.2" cy="388.9" rx="3.2" ry="5.2" fill="rgb(33,33,33)" filter="url(#b08)"/><ellipse cx="61.9" cy="376.8" rx="2.0" ry="2.0" fill="rgb(33,33,33)" filter="url(#b08)"/><ellipse cx="96.6" cy="359.7" rx="2.4" ry="2.4" fill="rgb(33,33,33)" filter="url(#b08)"/><ellipse cx="86.4" cy="369.9" rx="2.6" ry="2.6" fill="rgb(33,33,33)" filter="url(#b08)"/><ellipse cx="79.1" cy="398.4" rx="2.8" ry="2.0" fill="rgb(33,33,33)" filter="url(#b08)"/><ellipse cx="66.0" cy="356.1" rx="1.8" ry="2.8" fill="rgb(33,33,33)" filter="url(#b08)"/></g>
<line x1="50.70" y1="343.00" x2="50.70" y2="408.00" stroke="#050505" stroke-width="1.15"/>
<line x1="103.00" y1="343.00" x2="103.00" y2="408.00" stroke="#050505" stroke-width="1.15"/>
<rect x="109.2" y="402.5" width="7.0" height="1.7" fill="#000"/>
</g>
<clipPath id="mc5"><rect x="125.0" y="343.0" width="90.50" height="65.00"/></clipPath>
<g clip-path="url(#mc5)">
<rect x="125.0" y="343.0" width="90.50" height="65.00" fill="#939391"/>
<rect x="125.0" y="343.0" width="22.50" height="65.00" filter="url(#txAg)"/>
<rect x="198.7" y="343.0" width="16.80" height="65.00" filter="url(#txAg)"/>
<g filter="url(#covA)"><rect x="141.5" y="337.0" width="63.2" height="77.0" fill="#000"/><rect x="141.5" y="337.0" width="28.0" height="77.0" fill="rgb(191,191,191)" filter="url(#b12)"/><rect x="173.0" y="337.0" width="31.7" height="77.0" fill="rgb(224,224,224)" filter="url(#b12)"/><path d="M166.1 335.1L173.1 335.1L174.9 355.5L176.4 376.0L174.3 393.5L177.2 411.0L166.7 411.0L165.0 393.5L163.5 373.0L165.3 355.5Z" fill="rgb(11,11,11)" filter="url(#b08)"/><ellipse cx="154.5" cy="349.7" rx="2.5" ry="4.0" fill="rgb(93,93,93)" filter="url(#b08)"/><ellipse cx="157.4" cy="381.8" rx="2.5" ry="5.0" fill="rgb(85,85,85)" filter="url(#b08)"/><ellipse cx="152.1" cy="400.8" rx="3.0" ry="3.0" fill="rgb(93,93,93)" filter="url(#b08)"/></g>
<line x1="147.50" y1="343.00" x2="147.50" y2="408.00" stroke="#050505" stroke-width="1.15"/>
<line x1="198.70" y1="343.00" x2="198.70" y2="408.00" stroke="#050505" stroke-width="1.15"/>
<rect x="203.0" y="402.5" width="8.2" height="1.7" fill="#000"/>
</g>
<clipPath id="mc6"><rect x="222.0" y="343.4" width="89.20" height="65.20"/></clipPath>
<g clip-path="url(#mc6)">
<rect x="222.0" y="343.4" width="89.20" height="65.20" fill="#939391"/>
<rect x="222.0" y="343.4" width="20.50" height="65.20" filter="url(#txAg)"/>
<rect x="293.7" y="343.4" width="17.50" height="65.20" filter="url(#txAg)"/>
<g filter="url(#covA)"><rect x="236.5" y="337.4" width="63.2" height="77.2" fill="#000"/><rect x="236.5" y="337.0" width="63.2" height="77.0" fill="rgb(78,78,78)"/><rect x="236.5" y="337.0" width="15.0" height="77.0" fill="rgb(169,169,169)" filter="url(#b2)"/><rect x="278.0" y="337.0" width="21.7" height="77.0" fill="rgb(200,200,200)" filter="url(#b2)"/><ellipse cx="262.0" cy="352.0" rx="5.0" ry="4.0" fill="rgb(140,140,140)" filter="url(#b2)"/><ellipse cx="270.0" cy="392.0" rx="6.0" ry="4.0" fill="rgb(133,133,133)" filter="url(#b2)"/></g>
<circle cx="250.5" cy="360" r="1.0" fill="#cfcfc8"/>
<circle cx="254" cy="371" r="1.0" fill="#d2d2cc"/>
<circle cx="262" cy="356" r="0.9" fill="#cacac4"/>
<circle cx="266" cy="385" r="1.0" fill="#d0d0ca"/>
<circle cx="258" cy="392" r="0.9" fill="#cccccc"/>
<circle cx="271" cy="365" r="0.9" fill="#c8c8c4"/>
<circle cx="275" cy="398" r="1.0" fill="#d0d0cc"/>
<circle cx="247" cy="384" r="0.9" fill="#c8c8c8"/>
<line x1="242.50" y1="343.40" x2="242.50" y2="408.60" stroke="#050505" stroke-width="1.15"/>
<line x1="293.70" y1="343.40" x2="293.70" y2="408.60" stroke="#050505" stroke-width="1.15"/>
<rect x="298.0" y="402.5" width="8.2" height="1.7" fill="#000"/>
</g>
<text x="76.40" y="268.00" font-size="11.8" text-anchor="middle" fill="#000">OGT</text>
<text x="176.30" y="268.00" font-size="11.8" text-anchor="middle" fill="#000">CON</text>
<text x="266.30" y="268.00" font-size="11.8" text-anchor="middle" fill="#000">shOGT</text>
<text x="21.50" y="310.00" font-size="11.8" text-anchor="end" fill="#000">0h</text>
<text x="21.50" y="378.70" font-size="11.8" text-anchor="end" fill="#000">24h</text>
<text x="170.00" y="426.40" font-size="11.5" text-anchor="middle" fill="#000">ATDC5</text>
<clipPath id="mc7"><rect x="373.2" y="271.2" width="88.00" height="62.00"/></clipPath>
<g clip-path="url(#mc7)">
<rect x="373.2" y="271.2" width="88.00" height="62.00" fill="#a0a299"/>
<clipPath id="mc8"><rect x="373.20" y="271.2" width="20.50" height="62.00"/></clipPath>
<g clip-path="url(#mc8)">
<rect x="338.4" y="257.2" width="90" height="90" transform="rotate(-58 383.4 302.2)" filter="url(#stS1)"/>
<rect x="338.4" y="257.2" width="90" height="90" transform="rotate(40 383.4 302.2)" filter="url(#stS1b)"/>
</g>
<clipPath id="mc9"><rect x="444.50" y="271.2" width="16.70" height="62.00"/></clipPath>
<g clip-path="url(#mc9)">
<rect x="407.9" y="257.2" width="90" height="90" transform="rotate(-58 452.9 302.2)" filter="url(#stS1)"/>
<rect x="407.9" y="257.2" width="90" height="90" transform="rotate(40 452.9 302.2)" filter="url(#stS1b)"/>
</g>
<line x1="393.70" y1="271.20" x2="393.70" y2="333.20" stroke="#050505" stroke-width="1.15"/>
<line x1="444.50" y1="271.20" x2="444.50" y2="333.20" stroke="#050505" stroke-width="1.15"/>
<rect x="449.5" y="329.7" width="6.7" height="1.7" fill="#000"/>
</g>
<clipPath id="mc10"><rect x="464.2" y="271.2" width="87.00" height="62.00"/></clipPath>
<g clip-path="url(#mc10)">
<rect x="464.2" y="271.2" width="87.00" height="62.00" fill="#a0a299"/>
<clipPath id="mc11"><rect x="464.20" y="271.2" width="19.50" height="62.00"/></clipPath>
<g clip-path="url(#mc11)">
<rect x="428.9" y="257.2" width="90" height="90" transform="rotate(-58 473.9 302.2)" filter="url(#stS1)"/>
<rect x="428.9" y="257.2" width="90" height="90" transform="rotate(40 473.9 302.2)" filter="url(#stS1b)"/>
</g>
<clipPath id="mc12"><rect x="533.20" y="271.2" width="18.00" height="62.00"/></clipPath>
<g clip-path="url(#mc12)">
<rect x="497.2" y="257.2" width="90" height="90" transform="rotate(-58 542.2 302.2)" filter="url(#stS1)"/>
<rect x="497.2" y="257.2" width="90" height="90" transform="rotate(40 542.2 302.2)" filter="url(#stS1b)"/>
</g>
<line x1="483.70" y1="271.20" x2="483.70" y2="333.20" stroke="#050505" stroke-width="1.15"/>
<line x1="533.20" y1="271.20" x2="533.20" y2="333.20" stroke="#050505" stroke-width="1.15"/>
<rect x="540.0" y="329.7" width="7.0" height="1.7" fill="#000"/>
</g>
<clipPath id="mc13"><rect x="556.2" y="271.2" width="87.50" height="62.00"/></clipPath>
<g clip-path="url(#mc13)">
<rect x="556.2" y="271.2" width="87.50" height="62.00" fill="#a0a299"/>
<clipPath id="mc14"><rect x="556.20" y="271.2" width="22.50" height="62.00"/></clipPath>
<g clip-path="url(#mc14)">
<rect x="522.5" y="257.2" width="90" height="90" transform="rotate(-58 567.5 302.2)" filter="url(#stS1)"/>
<rect x="522.5" y="257.2" width="90" height="90" transform="rotate(40 567.5 302.2)" filter="url(#stS1b)"/>
</g>
<clipPath id="mc15"><rect x="625.00" y="271.2" width="18.70" height="62.00"/></clipPath>
<g clip-path="url(#mc15)">
<rect x="589.4" y="257.2" width="90" height="90" transform="rotate(-58 634.4 302.2)" filter="url(#stS1)"/>
<rect x="589.4" y="257.2" width="90" height="90" transform="rotate(40 634.4 302.2)" filter="url(#stS1b)"/>
</g>
<line x1="578.70" y1="271.20" x2="578.70" y2="333.20" stroke="#050505" stroke-width="1.15"/>
<line x1="625.00" y1="271.20" x2="625.00" y2="333.20" stroke="#050505" stroke-width="1.15"/>
<rect x="631.2" y="329.7" width="6.8" height="1.7" fill="#000"/>
</g>
<clipPath id="mc16"><rect x="373.2" y="342.0" width="88.00" height="63.00"/></clipPath>
<g clip-path="url(#mc16)">
<rect x="373.2" y="342.0" width="88.00" height="63.00" fill="#8e8e8e"/>
<rect x="373.2" y="342.0" width="20.50" height="63.00" filter="url(#txS2)"/>
<rect x="444.5" y="342.0" width="16.70" height="63.00" filter="url(#txS2)"/>
<g filter="url(#covS2)"><rect x="387.7" y="336.0" width="62.8" height="75.0" fill="#000"/><rect x="387.7" y="336.0" width="62.8" height="75.0" fill="rgb(255,255,255)"/><path d="M416.1 339.4L416.5 347.3L415.8 355.1L416.1 362.1L418.3 370.9L418.4 376.2L415.2 383.2L412.3 391.0L410.2 398.0L409.9 405.9L429.7 405.9L429.2 398.0L427.9 391.0L425.8 383.2L423.5 376.2L423.7 370.9L427.5 363.0L427.9 356.9L424.2 350.8L421.1 347.3L421.3 339.4Z" fill="rgb(0,0,0)" filter="url(#b08)"/></g>
<line x1="393.70" y1="342.00" x2="393.70" y2="405.00" stroke="#050505" stroke-width="1.15"/>
<line x1="444.50" y1="342.00" x2="444.50" y2="405.00" stroke="#050505" stroke-width="1.15"/>
<rect x="449.5" y="401.0" width="6.7" height="1.7" fill="#000"/>
</g>
<clipPath id="mc17"><rect x="464.2" y="342.0" width="87.00" height="63.00"/></clipPath>
<g clip-path="url(#mc17)">
<rect x="464.2" y="342.0" width="87.00" height="63.00" fill="#858880"/>
<clipPath id="mc18"><rect x="464.20" y="342.0" width="19.50" height="63.00"/></clipPath>
<g clip-path="url(#mc18)">
<rect x="428.9" y="328.5" width="90" height="90" transform="rotate(-58 473.9 373.5)" filter="url(#stS3)"/>
<rect x="428.9" y="328.5" width="90" height="90" transform="rotate(40 473.9 373.5)" filter="url(#stS3b)"/>
</g>
<clipPath id="mc19"><rect x="533.20" y="342.0" width="18.00" height="63.00"/></clipPath>
<g clip-path="url(#mc19)">
<rect x="497.2" y="328.5" width="90" height="90" transform="rotate(-58 542.2 373.5)" filter="url(#stS3)"/>
<rect x="497.2" y="328.5" width="90" height="90" transform="rotate(40 542.2 373.5)" filter="url(#stS3b)"/>
</g>
<g filter="url(#covS)"><rect x="477.7" y="336.0" width="61.5" height="75.0" fill="#000"/><rect x="477.7" y="336.0" width="61.5" height="75.0" fill="rgb(50,50,50)"/><rect x="477.7" y="336.0" width="24.0" height="75.0" fill="rgb(156,156,156)" filter="url(#b2)"/><rect x="515.0" y="336.0" width="24.2" height="75.0" fill="rgb(165,165,165)" filter="url(#b2)"/><ellipse cx="512.0" cy="350.0" rx="6.0" ry="6.0" fill="rgb(140,140,140)" filter="url(#b2)"/><ellipse cx="503.0" cy="388.0" rx="5.0" ry="5.0" fill="rgb(114,114,114)" filter="url(#b2)"/></g>
<line x1="483.70" y1="342.00" x2="483.70" y2="405.00" stroke="#050505" stroke-width="1.15"/>
<line x1="533.20" y1="342.00" x2="533.20" y2="405.00" stroke="#050505" stroke-width="1.15"/>
<rect x="540.0" y="401.0" width="7.0" height="1.7" fill="#000"/>
</g>
<clipPath id="mc20"><rect x="556.2" y="342.0" width="87.50" height="63.00"/></clipPath>
<g clip-path="url(#mc20)">
<rect x="556.2" y="342.0" width="87.50" height="63.00" fill="#83867f"/>
<clipPath id="mc21"><rect x="556.20" y="342.0" width="22.50" height="63.00"/></clipPath>
<g clip-path="url(#mc21)">
<rect x="522.5" y="328.5" width="90" height="90" transform="rotate(-58 567.5 373.5)" filter="url(#stS3)"/>
<rect x="522.5" y="328.5" width="90" height="90" transform="rotate(40 567.5 373.5)" filter="url(#stS3b)"/>
</g>
<clipPath id="mc22"><rect x="625.00" y="342.0" width="18.70" height="63.00"/></clipPath>
<g clip-path="url(#mc22)">
<rect x="589.4" y="328.5" width="90" height="90" transform="rotate(-58 634.4 373.5)" filter="url(#stS3)"/>
<rect x="589.4" y="328.5" width="90" height="90" transform="rotate(40 634.4 373.5)" filter="url(#stS3b)"/>
</g>
<g filter="url(#covS)"><rect x="572.7" y="336.0" width="58.3" height="75.0" fill="#000"/><rect x="572.7" y="336.0" width="58.3" height="75.0" fill="rgb(19,19,19)"/><rect x="572.7" y="336.0" width="10.0" height="75.0" fill="rgb(114,114,114)" filter="url(#b2)"/><rect x="620.0" y="336.0" width="11.0" height="75.0" fill="rgb(121,121,121)" filter="url(#b2)"/></g>
<circle cx="582.5" cy="378" r="1.1" fill="#d8d8d0"/>
<circle cx="588" cy="357" r="0.9" fill="#c0c2ba"/>
<circle cx="617.5" cy="360" r="1.0" fill="#d0d0c8"/>
<circle cx="617" cy="377" r="1.0" fill="#cfcfc8"/>
<circle cx="590" cy="399" r="1.0" fill="#c8c8c0"/>
<circle cx="583" cy="363" r="0.8" fill="#b8bab2"/>
<line x1="578.70" y1="342.00" x2="578.70" y2="405.00" stroke="#050505" stroke-width="1.15"/>
<line x1="625.00" y1="342.00" x2="625.00" y2="405.00" stroke="#050505" stroke-width="1.15"/>
<rect x="631.2" y="401.0" width="6.8" height="1.7" fill="#000"/>
</g>
<text x="418.20" y="269.20" font-size="11.8" text-anchor="middle" fill="#000">OGT</text>
<text x="514.10" y="269.20" font-size="11.8" text-anchor="middle" fill="#000">CON</text>
<text x="600.80" y="269.20" font-size="11.8" text-anchor="middle" fill="#000">shOGT</text>
<text x="365.80" y="307.50" font-size="11.8" text-anchor="end" fill="#000">0h</text>
<text x="365.80" y="374.30" font-size="11.8" text-anchor="end" fill="#000">24h</text>
<text x="511.20" y="426.40" font-size="11.5" text-anchor="middle" fill="#000">SW1353</text>
<text x="0.60" y="471.20" font-size="19.5" text-anchor="start" fill="#000">D</text>
<clipPath id="q3_35"><rect x="35.5" y="532.5" width="46.2" height="49.5"/></clipPath>
<clipPath id="q3_156"><rect x="156.3" y="532.5" width="48.4" height="49.5"/></clipPath>
<clipPath id="q3_280"><rect x="280.8" y="532.5" width="48.7" height="49.5"/></clipPath>
<clipPath id="q3_405"><rect x="405.8" y="532.5" width="47.7" height="49.5"/></clipPath>
<rect x="35.5" y="484.7" width="115.2" height="97.3" fill="#fff" stroke="#777" stroke-width="0.7"/>
<ellipse cx="56.0" cy="565.3" rx="7.2" ry="3.6" transform="rotate(-38 56.0 565.3)" fill="#3a3a3a" opacity="0.45" filter="url(#b2)" clip-path="url(#q3_35)"/>
<path d="M37.1 564.9h.7m-1.4 5.4h.7m.8 .7h.7m-1.5 6.1h.7m-.5 .4h.7m-1.2 .5h.7m-.5 2.9h.7m1.2-17.5h.7m-.6 4.5h.7m-.8 1.5h.7m-.7 .2h.7m-.3 3.5h.7m-1.8 3.6h.7m-.1 .5h.7m2-21.6h.7m-1.2 4.2h.7m-1.3 4.9h.7m-.9 2.3h.7m.7 1.1h.7m-.5 .4h.7m-1.9 1.4h.7m-.9 1.2h.7m-1 1h.7m.9 .6h.7m-.6 .5h.7m-1 .3h.7m-.3 .3h.7m-1.7 1.2h.7m.3 .8h.7m-1.6 .9h.7m.1 1.9h.7m-2.4 .5h.7m.7 .1h.7m-1.9 .4h.7m2.7-23.5h.7m-2.2 6.9h.7m.8 1.9h.7m-.9 .5h.7m-.5 1.5h.7m-.6 .5h.7m-1.4 .3h.7m-.3 .1h.7m-.8 1.6h.7m-.8 .2h.7m-1.5 .8h.7m.3 1h.7m-1.4 .9h.7m-1.2 .5h.7m-.6 .4h.7m.7 .3h.7m-2.2 .2h.7m-.8 .3h.7m-.6 .4h.7m-1 .1h.7m.7 .4h.7m-2.1 1.1h.7m.6 .3h.7m-.8 1.3h.7m-1.5 .5h.7m-.7 .3h.7m1.8-23h.7m.3 3h.7m-2.4 2.8h.7m.6 .2h.7m-1.7 .7h.7m.1 .9h.7m-1 .3h.7m-.9 2h.7m-.3 0h.7m-1.9 .2h.7m.1 .1h.7m-.4 0h.7m-.2 .1h.7m-1.9 .4h.7m-.1 .3h.7m-.4 .2h.7m-.3 .2h.7m-1.5 .1h.7m.1 .3h.7m-.6 .8h.7m-1.3 .6h.7m-.5 0h.7m-1.1 .4h.7m-.7 .1h.7m-.7 .1h.7m-.8 .3h.7m-.6 .2h.7m-.4 0h.7m-1.6 .1h.7m.4 .6h.7m-1.3 .8h.7m-.8 .2h.7m-.8 .3h.7m-1.1 .7h.7m.4 0h.7m-1.6 .1h.7m-.6 0h.7m-1.1 .2h.7m0 .2h.7m-.7 .2h.7m-1.6 2.5h.7m1 0h.7m-2.1 .5h.7m-1 0h.7m-.6 .2h.7m1.1 .7h.7m-1.5 .2h.7m-1 .8h.7m-.8 1h.7m0 1.8h.7m1.5-21.8h.7m-1.1 .8h.7m-.3 .5h.7m-1.1 .5h.7m-.2 .3h.7m-1.7 .2h.7m.4 .2h.7m-1.1 1.2h.7m-.4 .1h.7m-1.9 .9h.7m.3 .6h.7m-1 .5h.7m-1.6 .4h.7m.7 0h.7m-2 .1h.7m.5 .1h.7m-1.8 .2h.7m-.2 .3h.7m-.2 .1h.7m-.5 .4h.7m-1.1 .2h.7m-1.5 .5h.7m-.7 .2h.7m-.1 .3h.7m-.1 0h.7m-.9 0h.7m-1.1 .2h.7m-1 0h.7m-1.1 .3h.7m0 .2h.7m-.6 0h.7m-1.1 .1h.7m-.3 .1h.7m-.2 .2h.7m-1.8 .1h.7m-.5 .2h.7m-.9 0h.7m-.4 .1h.7m-.2 0h.7m-1.1 .6h.7m-.4 .1h.7m-1 .1h.7m0 0h.7m-1.2 .3h.7m-.7 .3h.7m-.2 .7h.7m-1.7 0h.7m.3 .1h.7m-1.1 .2h.7m-.4 .2h.7m-.6 .1h.7m-2.2 .2h.7m-.4 .1h.7m-.3 .3h.7m.3 .1h.7m-1.8 .2h.7m-1.3 .1h.7m.6 0h.7m-1.9 0h.7m.3 .1h.7m-.4 .2h.7m-1.3 .2h.7m-.9 0h.7m-.7 .2h.7m-.1 0h.7m-.7 0h.7m-2.1 .2h.7m1.1 .4h.7m-1.5 0h.7m-1.5 .7h.7m.1 0h.7m-.3 .2h.7m-.8 .2h.7m-.1 .3h.7m-2.1 .1h.7m.3 .5h.7m-2.1 1.7h.7m.5 .9h.7m-1.7 .7h.7m1.7-24.6h.7m-.2 .6h.7m-1.8 3.9h.7m-.3 1h.7m.7 .1h.7m-2.1 .6h.7m-1.1 .5h.7m-.3 .5h.7m-1 .1h.7m.6 .5h.7m-.3 .1h.7m-1.6 0h.7m.1 0h.7m-2.2 0h.7m-.7 .3h.7m.6 .1h.7m-1.6 .3h.7m.5 .1h.7m-.8 .1h.7m-1.5 .5h.7m-.3 .6h.7m-.4 .3h.7m-.8 .4h.7m-1 .2h.7m-1.8 .1h.7m.2 0h.7m-.7 .2h.7m0 0h.7m-.6 .2h.7m-1.2 .1h.7m-.4 .4h.7m-.7 .2h.7m-2 .1h.7m-1 0h.7m-.2 0h.7m-1 .1h.7m.4 0h.7m-.3 .1h.7m-.6 0h.7m-2.2 .6h.7m.8 0h.7m-1.2 .2h.7m-.2 .1h.7m-.8 0h.7m-.6 0h.7m-2 .1h.7m-.4 .3h.7m-.6 0h.7m0 .2h.7m-1.7 .5h.7m.3 .2h.7m-.8 .3h.7m-1.5 .1h.7m-.2 .1h.7m-1.6 0h.7m-.8 0h.7m-.7 .1h.7m.9 0h.7m-2.4 .1h.7m-.3 .1h.7m-.4 .1h.7m-1.2 .1h.7m.3 .1h.7m-.8 .1h.7m-.2 .2h.7m-.9 .2h.7m-1.1 .1h.7m-.5 0h.7m-.5 0h.7m-2.1 .2h.7m-.1 .1h.7m.1 .1h.7m-1.8 .3h.7m.3 0h.7m-1.4 0h.7m-1.2 .1h.7m.9 0h.7m-1.7 .4h.7m-.9 .2h.7m.2 .3h.7m-.5 .3h.7m-.7 .2h.7m-1.3 0h.7m-1 .1h.7m-.1 0h.7m-1.8 .2h.7m-.1 .1h.7m-1.1 .1h.7m-.2 .1h.7m-.1 .2h.7m-2.4 .1h.7m1.2 .4h.7m-1.7 0h.7m-.7 .1h.7m-.2 .3h.7m-1.6 .7h.7m-.5 .4h.7m.1 .1h.7m-.9 0h.7m-.7 .1h.7m-2 .7h.7m.3 .1h.7m-.9 .3h.7m0 .1h.7m-.6 .3h.7m-.4 0h.7m-2.2 1.3h.7m.1 .7h.7m-.7 0h.7m-1.3 .1h.7m-1.1 .9h.7m-.9 .1h.7m3-26.7h.7m-1.1 5h.7m-.2 .6h.7m-2.4 .4h.7m.6 .1h.7m-.2 .2h.7m-.8 .6h.7m-1.1 .1h.7m-1.9 .2h.7m.9 .5h.7m-1 .3h.7m-2 0h.7m0 .2h.7m-.2 .1h.7m-.7 .3h.7m-.6 .9h.7m-2.1 .1h.7m.8 .1h.7m-.6 0h.7m-1.4 .1h.7m-1 .1h.7m-1.3 0h.7m1 .1h.7m-.9 0h.7m-1.9 .1h.7m-.5 .1h.7m-1 .1h.7m.4 0h.7m-1 .4h.7m-1.3 0h.7m.3 .4h.7m-.5 .3h.7m-2.3 0h.7m-.5 .1h.7m0 0h.7m.2 .1h.7m-1.7 .2h.7m-.1 0h.7m-2.1 0h.7m-.8 .1h.7m.9 0h.7m-1.4 .2h.7m.1 .1h.7m-1.4 .1h.7m-1.1 0h.7m.2 .1h.7m-2 0h.7m-.7 .1h.7m0 .2h.7m-.6 .1h.7m-.9 0h.7m.1 .1h.7m-.7 .2h.7m-1.5 0h.7m-1.2 0h.7m-.9 .2h.7m.8 .1h.7m-.9 .1h.7m-.9 .1h.7m-.9 0h.7m-.4 .1h.7m-1.2 0h.7m-.6 .1h.7m-1.2 .1h.7m-.6 .2h.7m.3 0h.7m-1 .2h.7m-.4 0h.7m-2.1 .1h.7m-.1 0h.7m.1 .1h.7m-.9 0h.7m-1.6 0h.7m0 .2h.7m-.2 0h.7m-1.5 .1h.7m-.6 0h.7m-1.2 .1h.7m.6 0h.7m-2.3 .2h.7m.7 0h.7m-1.9 .1h.7m-.5 .1h.7m-.1 0h.7m-.2 .1h.7m-.4 .1h.7m-1.2 0h.7m-.4 .2h.7m-1.5 .1h.7m-1 0h.7m-1.3 .1h.7m-.4 0h.7m.7 .1h.7m-1.9 .1h.7m.2 .1h.7m-2 .1h.7m-.6 .1h.7m-.1 .3h.7m-1.1 .1h.7m-.7 0h.7m-.7 .4h.7m.3 0h.7m-.9 .1h.7m-.5 0h.7m-.5 .2h.7m-2 .1h.7m-.1 .2h.7m-1 .3h.7m-.1 .5h.7m-.7 .1h.7m-1.9 .3h.7m-.6 .5h.7m.7 0h.7m-.8 .1h.7m-.7 .1h.7m-1.1 .1h.7m-1 .1h.7m.4 0h.7m-1.9 .3h.7m.6 .2h.7m-1.6 .1h.7m-.9 .1h.7m-1.4 0h.7m.3 .4h.7m-.2 .5h.7m-1.1 2.5h.7m-1.8 .5h.7m.3 2.3h.7m1.6-31.9h.7m-.5 6.4h.7m-1.1 2h.7m-1.7 .8h.7m.4 .2h.7m-.4 .1h.7m-1.1 .1h.7m-1.9 .2h.7m-.7 .6h.7m.4 .1h.7m-.2 .1h.7m-1.8 .1h.7m-.6 .1h.7m-.2 .4h.7m-.5 .1h.7m-1.2 .4h.7m-.6 .2h.7m-1.3 .1h.7m-.1 .1h.7m-.1 .3h.7m-1 0h.7m-1.5 .2h.7m-1 .1h.7m.9 .2h.7m-2.4 0h.7m0 .1h.7m.1 0h.7m-.6 .2h.7m-2.2 0h.7m-.2 .1h.7m-.2 0h.7m-1 .1h.7m-.8 0h.7m-.7 0h.7m.4 .1h.7m-1 0h.7m-.9 0h.7m-2 .1h.7m-.2 0h.7m.3 0h.7m-.7 .1h.7m-2 0h.7m.5 .1h.7m-.6 0h.7m-.7 0h.7m-1.5 .1h.7m.2 0h.7m-1 0h.7m-.2 0h.7m-2.2 .1h.7m-.2 0h.7m-1 0h.7m-.2 .1h.7m-1.4 0h.7m-.8 0h.7m-.7 0h.7m-.7 .3h.7m.9 0h.7m-1.8 0h.7m.1 0h.7m-.7 .1h.7m-.4 0h.7m-2.4 0h.7m-.3 .1h.7m-.6 0h.7m.6 0h.7m-1.4 .2h.7m-.5 0h.7m-1.5 0h.7m0 0h.7m-1 0h.7m-.3 .2h.7m-.4 .1h.7m-.6 .1h.7m-.8 0h.7m-.7 0h.7m-.5 .1h.7m-1.4 0h.7m-.9 .1h.7m-1.1 .1h.7m-.3 0h.7m0 0h.7m-2.3 .1h.7m-.4 .1h.7m-.9 .1h.7m-.8 0h.7m.4 .1h.7m-1.6 0h.7m.1 0h.7m0 .1h.7m-.9 0h.7m-.6 0h.7m-.6 .2h.7m-.8 0h.7m-1.2 0h.7m-1.8 .2h.7m.7 0h.7m-.3 .1h.7m-2.2 0h.7m-.1 .1h.7m-.2 0h.7m-1 0h.7m-1.3 0h.7m-.9 .1h.7m0 0h.7m-1.7 .1h.7m-.8 0h.7m-.4 0h.7m-.7 .1h.7m-.4 .2h.7m0 0h.7m-.6 .2h.7m-1.3 0h.7m-.6 0h.7m-1.4 .2h.7m-.7 .1h.7m-.1 0h.7m.1 .1h.7m-.6 0h.7m-1 .1h.7m-1.8 0h.7m.5 .1h.7m-.9 .1h.7m-.3 0h.7m-1.1 .1h.7m-1.4 0h.7m-.5 0h.7m-.5 0h.7m-.9 .1h.7m0 .1h.7m-1 0h.7m-.4 .1h.7m-1.8 .1h.7m.1 .1h.7m-.5 0h.7m-1.8 0h.7m.8 .1h.7m-1.3 0h.7m-.9 0h.7m-.8 .2h.7m-.1 0h.7m-.3 .1h.7m-2.4 .1h.7m.4 .1h.7m-.1 0h.7m-1.6 0h.7m-1.3 .1h.7m-.3 .1h.7m0 0h.7m-.5 .1h.7m-2 0h.7m.2 0h.7m-1.2 .1h.7m-1.2 .1h.7m.3 0h.7m-.6 0h.7m-1.4 0h.7m-1.3 0h.7m-.4 0h.7m-1.1 0h.7m-.1 .3h.7m-.1 0h.7m-1.3 .1h.7m-.7 0h.7m.3 .2h.7m-1.9 0h.7m.6 .2h.7m-1.2 .1h.7m-1.8 .1h.7m-.4 0h.7m-1 .1h.7m-.6 0h.7m-.5 .1h.7m-.3 .1h.7m-.7 0h.7m-1 0h.7m-.7 0h.7m.2 .2h.7m-1.4 0h.7m-.7 .4h.7m0 0h.7m-.8 0h.7m-.5 .1h.7m-1.6 .1h.7m-.9 .1h.7m.1 .1h.7m-1 0h.7m-1.3 .1h.7m-.5 .1h.7m-.6 .1h.7m0 0h.7m-.4 .2h.7m-2.3 .1h.7m.6 .1h.7m-1.2 0h.7m-.5 0h.7m-.9 .1h.7m.4 0h.7m-1.4 .1h.7m-.8 .1h.7m-1.5 .1h.7m-.2 0h.7m-.5 .1h.7m0 0h.7m-1.9 .1h.7m.6 0h.7m-1 0h.7m-1.3 .5h.7m-.5 .3h.7m-1.6 0h.7m.6 .1h.7m-1.4 .6h.7m-.5 0h.7m-.3 .1h.7m-1.4 .1h.7m.3 .1h.7m-.5 0h.7m-1.2 .2h.7m-.7 .5h.7m-.6 .3h.7m-.7 0h.7m-1.6 .2h.7m-.8 .6h.7m-.4 1.1h.7m-.8 2.3h.7m1.5-31.5h.7m0 5.1h.7m-1.8 .3h.7m-1.2 1.3h.7m.2 1.4h.7m-.6 1.1h.7m-1.1 0h.7m-.6 .2h.7m-1.1 .1h.7m-.2 .2h.7m-.5 .2h.7m-.9 .6h.7m-.3 .3h.7m-1.4 .1h.7m.5 0h.7m-.6 .2h.7m-1.1 .4h.7m-1.5 .1h.7m-1 .4h.7m-.6 .3h.7m.1 0h.7m-1.8 .2h.7m-.7 .1h.7m1.1 .1h.7m-1.9 .3h.7m-.4 0h.7m.2 .2h.7m-1.2 0h.7m-.3 0h.7m-.7 .2h.7m-.7 .1h.7m-2.1 .1h.7m-1.1 0h.7m.2 .1h.7m.1 0h.7m-1.4 0h.7m-1.7 .1h.7m0 0h.7m.3 0h.7m-.6 .1h.7m-1.2 .1h.7m-1.9 0h.7m1 .1h.7m-1.6 .1h.7m.1 0h.7m-1.2 .1h.7m0 .1h.7m-1.5 .1h.7m-1.6 .1h.7m.5 0h.7m-1.4 0h.7m-.7 .1h.7m.1 .2h.7m-1.6 0h.7m.3 .1h.7m-.5 0h.7m-1.2 0h.7m-.4 0h.7m-.7 .1h.7m-.9 0h.7m-.5 .1h.7m-1.5 0h.7m-1 .1h.7m.3 0h.7m-1.2 .1h.7m-.5 0h.7m-.9 0h.7m-.2 .1h.7m-.8 .1h.7m-1.3 0h.7m-.4 .3h.7m-.8 0h.7m-1.2 0h.7m-1.1 .1h.7m-.5 .1h.7m.8 0h.7m-1.1 0h.7m-.6 .1h.7m-.7 0h.7m-1.8 .1h.7m-.2 0h.7m-1.6 0h.7m0 0h.7m-1.1 0h.7m.6 .1h.7m-1.5 0h.7m-.4 .1h.7m-.9 0h.7m-.5 0h.7m0 0h.7m-2.2 0h.7m.5 0h.7m-.8 .1h.7m-.2 .1h.7m-2.2 0h.7m.1 .1h.7m-1.2 0h.7m-.4 0h.7m-.1 .1h.7m-1.2 0h.7m-.5 .1h.7m-.4 0h.7m-1.2 0h.7m-.2 .1h.7m-.4 0h.7m-2.2 0h.7m.3 .1h.7m-.7 0h.7m-1 0h.7m-.8 0h.7m-.1 0h.7m-1.7 0h.7m-1.2 0h.7m-.5 .1h.7m-.1 .1h.7m-.6 0h.7m-.2 .1h.7m-2.1 0h.7m.3 0h.7m-1.8 .1h.7m0 0h.7m-.7 .1h.7m-.7 0h.7m.3 0h.7m-1.2 0h.7m-.9 .1h.7m-1.2 0h.7m-.3 0h.7m-.3 0h.7m-1.1 .1h.7m.2 0h.7m-1.5 0h.7m-.6 0h.7m-.4 .1h.7m-1.2 .1h.7m-.5 0h.7m-.1 0h.7m-.6 0h.7m-.9 0h.7m-1.5 .1h.7m-.1 0h.7m-1.9 0h.7m-.5 0h.7m-1.1 0h.7m.9 0h.7m-1.9 .1h.7m-.6 .1h.7m.7 .1h.7m-1.5 0h.7m-1.4 .1h.7m.3 0h.7m-.9 0h.7m-1.6 0h.7m.8 .1h.7m-2.5 0h.7m-.5 0h.7m.3 0h.7m-1.8 .1h.7m1.1 .1h.7m-1.4 .1h.7m-1.5 0h.7m-.7 .1h.7m.5 0h.7m-1.6 .2h.7m-.6 0h.7m-.7 .2h.7m-.4 0h.7m-.9 0h.7m-1 .2h.7m-1 0h.7m-.7 0h.7m-.9 .1h.7m.3 0h.7m-.5 0h.7m-1.4 0h.7m.1 .1h.7m-1.7 0h.7m-.1 0h.7m.1 .1h.7m-.6 0h.7m-2.3 0h.7m.5 .3h.7m-1.9 0h.7m-.2 0h.7m-1.3 .1h.7m.7 .1h.7m-1.5 0h.7m.3 .1h.7m-.7 0h.7m-1.5 0h.7m-.7 .2h.7m-.9 0h.7m-.5 0h.7m-.9 0h.7m-1.5 .1h.7m1.1 0h.7m-1 .3h.7m-.9 0h.7m-1.8 .4h.7m-.2 0h.7m-1.3 0h.7m-.3 0h.7m-.6 .1h.7m.2 .2h.7m-.4 .1h.7m-2.3 0h.7m-.8 .1h.7m-.5 .1h.7m0 .2h.7m-.9 0h.7m-.9 .1h.7m-.8 .1h.7m.2 0h.7m-1.1 .2h.7m-1.2 .1h.7m-1.2 .2h.7m-.6 0h.7m.9 .1h.7m-2.2 0h.7m-.7 0h.7m-.9 .1h.7m-.3 0h.7m.8 .2h.7m-1.6 0h.7m-1 .1h.7m-.3 0h.7m-1.6 0h.7m.5 .1h.7m-.8 .2h.7m-.6 .1h.7m-.6 0h.7m-.8 .2h.7m-.8 .1h.7m-.7 .3h.7m-2 .1h.7m0 .2h.7m-1.2 0h.7m.4 .7h.7m-.9 .2h.7m-1.3 .5h.7m-.1 .2h.7m-.4 0h.7m-2.1 .2h.7m-.1 .1h.7m-1.2 .3h.7m.9 .7h.7m-1.5 .9h.7m0 1.5h.7m-.9 .2h.7m-2 .2h.7m.4 2.2h.7m1.8-28.6h.7m-1.1 4.2h.7m-.7 .2h.7m-.5 .1h.7m-.4 .2h.7m-2 .2h.7m.6 .8h.7m-1.7 0h.7m-.3 .2h.7m-.4 .2h.7m-.8 .4h.7m-.9 .1h.7m-.4 0h.7m-1 .1h.7m-1.8 .4h.7m.3 0h.7m-1.3 .1h.7m.2 .2h.7m-.3 .1h.7m-.6 .1h.7m-1.4 .1h.7m-.3 .3h.7m-1.5 .1h.7m.1 0h.7m-1.1 .2h.7m-.8 .1h.7m-.3 0h.7m-.5 .1h.7m-1.9 0h.7m.2 .1h.7m-.3 .1h.7m-1.4 .2h.7m0 0h.7m-.6 .2h.7m-1.5 .1h.7m-.7 0h.7m-1.5 0h.7m-.5 .1h.7m-1.1 .1h.7m.8 0h.7m-1.7 0h.7m.4 0h.7m-.5 .1h.7m-1.2 0h.7m-.4 0h.7m-2.4 .1h.7m1.1 .1h.7m-.6 .1h.7m-2.6 0h.7m.3 .1h.7m0 0h.7m-1.6 .1h.7m-.1 0h.7m-2.1 .2h.7m.9 0h.7m-1.6 .1h.7m-.1 .1h.7m-1.9 0h.7m.3 0h.7m-.6 .1h.7m0 0h.7m-1.5 .1h.7m-1.8 .1h.7m.3 .2h.7m-1.3 .1h.7m0 0h.7m-1.8 .1h.7m.8 .1h.7m-1.4 0h.7m-.5 .1h.7m-.3 .3h.7m-1.1 .2h.7m-1.3 0h.7m.5 0h.7m-2.1 0h.7m-.5 .1h.7m-.6 0h.7m-.8 0h.7m-.9 .1h.7m.9 0h.7m-1.1 0h.7m-1.2 .1h.7m.3 0h.7m-1.3 0h.7m-.1 0h.7m-2.5 0h.7m.2 .1h.7m-1.5 .1h.7m.2 0h.7m-1.3 .1h.7m-.4 0h.7m-.3 0h.7m0 .2h.7m-2.3 0h.7m.5 0h.7m-.9 0h.7m-1.6 .2h.7m-1 0h.7m-.1 .2h.7m-.1 0h.7m-1.5 .1h.7m-.7 .1h.7m-1.2 .1h.7m-.1 0h.7m-.8 0h.7m-.3 0h.7m-.2 .1h.7m-.7 0h.7m-.4 .1h.7m-1.4 0h.7m-1 .1h.7m-.7 0h.7m-.6 0h.7m-1.4 0h.7m-.5 .1h.7m.7 0h.7m-2.2 .1h.7m-.9 0h.7m-.2 .1h.7m-.7 0h.7m.5 0h.7m-2.3 0h.7m-.4 .1h.7m-.9 .1h.7m-.6 .1h.7m-.6 .1h.7m.5 0h.7m-.6 .1h.7m-1.2 0h.7m-1.9 .1h.7m-.3 0h.7m-.8 0h.7m-.6 .1h.7m-.3 0h.7m-.1 .1h.7m-1.2 0h.7m-.6 0h.7m-1.6 .1h.7m.3 .1h.7m0 0h.7m-2 .1h.7m.7 .1h.7m-1.7 0h.7m-.4 0h.7m-1.5 .2h.7m.3 .1h.7m-2.1 0h.7m.3 0h.7m-1.2 0h.7m.5 .4h.7m-1.3 0h.7m-1.6 0h.7m.9 0h.7m-2.3 .1h.7m.2 .1h.7m-.9 0h.7m-.9 0h.7m-.6 .1h.7m-.8 0h.7m.5 .1h.7m-2 .1h.7m-.1 .2h.7m-.2 0h.7m-1.8 .1h.7m-1.1 0h.7m.9 .2h.7m-1.7 0h.7m.2 0h.7m-.6 .1h.7m-2.2 .1h.7m.5 0h.7m-2 .3h.7m-.2 .1h.7m-1.4 0h.7m-.3 .1h.7m.7 .1h.7m-2 .1h.7m-.9 0h.7m0 .1h.7m-1.5 .1h.7m.5 0h.7m-1.2 .2h.7m-1.3 .6h.7m.2 .2h.7m-1 .2h.7m-.1 .3h.7m-1.6 .2h.7m.1 .8h.7m-2.1 .1h.7m0 .5h.7m-1 .1h.7m.8 .2h.7m-1.7 .2h.7m-1.5 .7h.7m0 0h.7m.3 .5h.7m-.6 .1h.7m-1.6 1.1h.7m-.9 .7h.7m-.7 .8h.7m-.8 2h.7m.7-29.1h.7m0 2.1h.7m-.1 .7h.7m-.8 .5h.7m-1.9 .4h.7m1.1 .9h.7m-2 .2h.7m.3 .3h.7m-1.3 0h.7m-.7 .7h.7m-1 .2h.7m.3 .6h.7m-2.2 .2h.7m-.5 .5h.7m.5 .4h.7m-1.2 .2h.7m-.1 .3h.7m-1.5 0h.7m-1 0h.7m-1.2 0h.7m-.7 .1h.7m.7 0h.7m-.9 .2h.7m-1.4 .1h.7m-.5 0h.7m.1 .1h.7m-2.1 .1h.7m.1 .1h.7m-.3 0h.7m-.9 .2h.7m-.7 0h.7m-1.9 0h.7m-.2 .1h.7m.2 0h.7m-1.3 .2h.7m-.7 .2h.7m0 .1h.7m-1.7 .2h.7m.7 .2h.7m-1.3 0h.7m-.4 .1h.7m-1.5 0h.7m-.6 .1h.7m-.2 0h.7m-1 .1h.7m-1 0h.7m.4 .4h.7m-1.9 .1h.7m-.6 0h.7m-.4 .4h.7m-1.5 0h.7m.5 0h.7m-2 .1h.7m-.8 .1h.7m.4 .1h.7m-1.7 .1h.7m-.1 0h.7m-.5 0h.7m-1 .1h.7m-1 .1h.7m.6 .1h.7m-.9 0h.7m-.8 0h.7m-.9 .1h.7m-1.3 0h.7m.3 .1h.7m-.5 0h.7m-1.1 .2h.7m-1.3 .1h.7m-1.2 .1h.7m.2 0h.7m-1.8 .1h.7m.7 .3h.7m-1 0h.7m-.9 .1h.7m-.9 0h.7m-.7 .1h.7m-.7 0h.7m-1.1 .1h.7m-.5 0h.7m.5 .1h.7m-.9 0h.7m-1.2 .1h.7m-1.8 0h.7m-.7 .1h.7m.4 .1h.7m-1.1 .1h.7m0 .1h.7m-1.3 0h.7m-1 0h.7m-.4 .1h.7m-1.2 .1h.7m-.8 0h.7m.3 0h.7m-1.7 0h.7m.6 .1h.7m-1.1 0h.7m-.8 0h.7m-.4 0h.7m-1.3 0h.7m-.9 0h.7m-1 .1h.7m-.1 0h.7m-.4 0h.7m.1 .1h.7m-1.6 0h.7m-.1 .1h.7m-.5 0h.7m-.8 .2h.7m-1.8 0h.7m-1.1 .1h.7m-.8 .1h.7m.5 0h.7m-1.1 0h.7m-1 0h.7m-.8 .1h.7m-.9 .2h.7m-.6 .1h.7m.6 .2h.7m-1.3 .1h.7m-1.7 0h.7m.5 0h.7m-1 .1h.7m-1.4 .1h.7m.7 0h.7m-.8 .1h.7m-.7 .1h.7m-.7 .1h.7m-2.1 .1h.7m.3 .1h.7m-.2 .1h.7m-1.7 0h.7m-1.3 .2h.7m-.4 0h.7m.3 .3h.7m-1.1 0h.7m.2 0h.7m-2.6 .1h.7m.1 .1h.7m.2 .2h.7m-1.7 .2h.7m.5 .1h.7m-.9 .1h.7m-1.8 .1h.7m-.3 0h.7m-1 .1h.7m-.6 .2h.7m-1.4 0h.7m.8 .1h.7m-1.9 0h.7m-.4 .1h.7m-.6 .1h.7m-.3 .1h.7m-1.4 0h.7m-1 0h.7m1 .1h.7m-1.9 .2h.7m.4 .1h.7m-1.4 0h.7m-.9 .1h.7m-.1 .1h.7m-1.1 .2h.7m-1.7 .2h.7m.5 .6h.7m-.3 .1h.7m-.5 .4h.7m-1.7 .4h.7m-1.5 .1h.7m-.3 .2h.7m-.3 0h.7m-.5 .1h.7m-1.2 .1h.7m-.5 0h.7m-1.2 0h.7m-.8 .1h.7m.1 .1h.7m-.5 .3h.7m-1.6 .5h.7m.5 .4h.7m-.5 0h.7m-.9 .1h.7m-1.3 .2h.7m-.8 .4h.7m-1.2 2.1h.7m.4 .3h.7m-1.8 1.2h.7m-.3 1.5h.7m-.8 .5h.7m-.2 .2h.7m1.4-27.6h.7m-1.4 1.3h.7m.6 .3h.7m-1.5 .7h.7m-.9 1.6h.7m-1.1 .1h.7m-.8 .3h.7m-.8 0h.7m.3 .2h.7m-1.5 .2h.7m.1 .4h.7m-1.7 .2h.7m-.7 .1h.7m-.1 0h.7m-1.1 .1h.7m.2 .1h.7m-1.1 0h.7m-1.4 .3h.7m.2 .1h.7m-.2 0h.7m-2.1 .4h.7m0 .3h.7m-.8 .1h.7m-.9 .2h.7m-.4 .5h.7m-.1 .1h.7m-1.5 0h.7m.5 .2h.7m-1.8 .1h.7m-.7 0h.7m-.2 .1h.7m-.7 .1h.7m-1.7 .3h.7m.5 0h.7m-2.2 .1h.7m.9 .1h.7m-.9 .1h.7m-1.6 .1h.7m-.5 .1h.7m-1.1 0h.7m.3 .1h.7m-1.7 0h.7m.4 .1h.7m-.5 .1h.7m-2.3 .1h.7m-.2 0h.7m.1 .1h.7m-1.4 0h.7m-1.3 .1h.7m-.4 .1h.7m.9 .3h.7m-.8 .1h.7m-2 0h.7m0 .1h.7m-.7 .1h.7m-.1 0h.7m-.7 .1h.7m-1.5 .1h.7m-1.6 .1h.7m.6 0h.7m-.8 0h.7m-1.9 .1h.7m.4 .1h.7m-.6 .1h.7m-.6 .2h.7m-1.3 .1h.7m-.4 .1h.7m-.2 .1h.7m-1.7 .2h.7m-.8 0h.7m-1.1 0h.7m-.6 .1h.7m.8 0h.7m-2.4 0h.7m-.1 .2h.7m0 0h.7m-.7 .1h.7m-1.4 .1h.7m.4 .1h.7m-.5 0h.7m-1.9 0h.7m-1 .1h.7m-1 0h.7m-.1 0h.7m-.2 0h.7m-1.5 .2h.7m-.6 0h.7m.1 .1h.7m-1.6 0h.7m0 .1h.7m-1.6 .2h.7m1 0h.7m-1.8 .1h.7m-1.1 0h.7m-1.1 0h.7m-.5 .1h.7m1 .1h.7m-1.5 0h.7m-.1 .2h.7m-1.8 .3h.7m.2 0h.7m-1.7 .1h.7m.3 .1h.7m-1.4 .1h.7m-.9 0h.7m-.8 .1h.7m-1.1 .7h.7m-.8 0h.7m-.1 0h.7m-.3 .1h.7m-1.7 0h.7m-.4 .2h.7m.2 .1h.7m-1.7 .2h.7m-.8 .1h.7m-.5 0h.7m.3 .1h.7m-.1 .1h.7m-1.7 .3h.7m.3 0h.7m-2.6 0h.7m-.6 .2h.7m-.7 .1h.7m-.5 .1h.7m-.3 .7h.7m-1.1 .4h.7m-.3 0h.7m-.2 .3h.7m-1.3 .2h.7m-.4 .2h.7m-1.2 .1h.7m.3 .5h.7m-2.1 .3h.7m-.5 .1h.7m-.2 .5h.7m-.7 .2h.7m-.2 .7h.7m-1.9 .1h.7m.5 .3h.7m-1.2 1.2h.7m-.5 3.2h.7m-.1 .9h.7m1.3-24.8h.7m-1.4 2.1h.7m-1.3 .2h.7m.9 .6h.7m-2.5 .1h.7m1 .1h.7m-2 0h.7m-.7 .2h.7m-.7 .6h.7m-.1 .1h.7m.1 .2h.7m-1.2 .5h.7m-1.1 .4h.7m-1.2 0h.7m-.8 0h.7m-.5 .4h.7m-.8 .1h.7m-.8 .1h.7m.2 .3h.7m-.9 .1h.7m-1.4 .5h.7m.3 .1h.7m-1.2 .2h.7m-.3 .3h.7m-1.3 0h.7m-.9 .2h.7m-.6 .1h.7m.7 0h.7m-2.1 0h.7m.5 .1h.7m-1.7 .1h.7m-1.4 .1h.7m.3 .3h.7m-1.5 .2h.7m.7 .2h.7m-1.6 .1h.7m-.8 .3h.7m-.1 .3h.7m-1.2 .2h.7m-.9 .1h.7m.7 0h.7m-.8 .1h.7m-1.2 .3h.7m-1.9 .1h.7m-.3 .2h.7m-.3 .3h.7m-1.4 .6h.7m.9 0h.7m-1.9 0h.7m-.9 0h.7m0 .1h.7m-1.6 .1h.7m.9 .2h.7m-2.5 .1h.7m-.4 .2h.7m-1 .5h.7m1.2 0h.7m-1.7 .1h.7m0 .3h.7m-2.3 .2h.7m.1 .3h.7m-.8 .3h.7m.1 .2h.7m-1.9 .1h.7m.9 0h.7m-1.5 0h.7m-.2 .3h.7m-.6 .2h.7m-2.1 .3h.7m-.6 .5h.7m-1 .4h.7m.1 .1h.7m-.1 .3h.7m-.3 0h.7m-2.4 .4h.7m0 1.9h.7m.2 .3h.7m-1.7 2.7h.7m-.4 1.4h.7m.8-30.8h.7m-.3 4.5h.7m0 3.8h.7m-1.1 .7h.7m-.3 .2h.7m-2.1 .2h.7m-.5 0h.7m-.6 .4h.7m-.7 .1h.7m.4 1.2h.7m-.8 .1h.7m-2.1 .4h.7m-.2 .7h.7m.1 .1h.7m-1.6 .2h.7m.5 .9h.7m-2 .1h.7m.5 .2h.7m-2 .1h.7m.5 .1h.7m-1.1 .2h.7m-1.8 .2h.7m.1 .3h.7m.2 .1h.7m-1.5 .7h.7m-.6 .1h.7m-1 0h.7m-.9 .6h.7m-.6 .4h.7m-.4 .3h.7m-.4 .1h.7m-1.7 0h.7m-.5 .1h.7m-.7 .2h.7m-.7 .1h.7m-.1 .3h.7m-1.5 .2h.7m-.3 .2h.7m-.1 .2h.7m-.2 0h.7m-1.8 .2h.7m-.8 0h.7m-.9 .5h.7m-.7 .6h.7m.8 .2h.7m-2.6 0h.7m-.7 .1h.7m-.7 .1h.7m-.4 .1h.7m.3 .6h.7m-1.3 .9h.7m-.9 .9h.7m-.1 .2h.7m-1.5 .4h.7m.2 .5h.7m-1.3 .9h.7m-1.3 .6h.7m-.4 .1h.7m.5 .5h.7m-.9 .8h.7m-2 .2h.7m.3 .2h.7m-1.2 2h.7m-1 1.4h.7m.3 3.1h.7m.6-28.3h.7m-.8 3.3h.7m-.3 1.6h.7m.4 1.3h.7m-1 .1h.7m-1.8 .3h.7m.7 .1h.7m-.7 .3h.7m-1.2 .2h.7m-1 .4h.7m.1 1.1h.7m-1.1 .3h.7m-1.4 .4h.7m.1 .1h.7m-2.3 .1h.7m-.5 .1h.7m-.7 .3h.7m.6 .5h.7m-1.3 .7h.7m-1.2 .4h.7m.6 .8h.7m-1.6 .1h.7m-.8 .9h.7m0 .3h.7m-2 .8h.7m-.1 1.7h.7m.1 .3h.7m-2.2 .5h.7m.5 .8h.7m-.9 .9h.7m-.1 8.1h.7m-1.8 1.2h.7m2.3-28h.7m-1.4 2.9h.7m.2 1.4h.7m-1.8 1.9h.7m.5 .7h.7m-1.5 .9h.7m.2 0h.7m-2.5 .2h.7m.5 1.3h.7m-1.5 .2h.7m-.5 .7h.7m-.4 .4h.7m0 .2h.7m-2.2 .8h.7m1 .1h.7m-2 .5h.7m-.2 .4h.7m0 .4h.7m-2.2 1.2h.7m.5 .1h.7m-1.4 .3h.7m-.8 .8h.7m-.6 1.1h.7m.4 .2h.7m-1.8 1.3h.7m-.3 6.6h.7m-1.9 1.1h.7m2-30.9h.7m-.5 3.9h.7m-1.2 4.9h.7m-1 .4h.7m1 1h.7m-2.3 .1h.7m.8 .3h.7m-1.3 .3h.7m-.9 .1h.7m-1.5 0h.7m-.8 3.5h.7m.1 .1h.7m.4 1.6h.7m-.7 .1h.7m-2.3 1.5h.7m-.2 5.6h.7m-1.1 .3h.7m-.6 .5h.7m-1 1.2h.7m.6 .5h.7m-1.1 .2h.7m1.1-20.6h.7m-1.3 3.7h.7m.4 0h.7m-.6 2.9h.7m-.4 2.4h.7m-.9 1.9h.7m1.2-11.7h.7m-1.3 7.9h.7m-1.5 11.2h.7m1.3-17.5h.7m.4 9.9h.7m-1.5 1.8h.7m1-7.3h.7m-.2 1.9h.7m-.7 1.2h.7m-1 .7h.7m-.4 3.3h.7m2.2-14.1h.7m-1.4 4.7h.7" stroke="#3c3c3c" stroke-width="0.7" fill="none" opacity="0.75"/>
<line x1="81.70" y1="484.70" x2="81.70" y2="582.00" stroke="#666" stroke-width="0.7"/>
<line x1="35.50" y1="532.50" x2="150.70" y2="532.50" stroke="#666" stroke-width="0.7"/>
<rect x="156.3" y="484.7" width="119.2" height="97.3" fill="#fff" stroke="#777" stroke-width="0.7"/>
<ellipse cx="187.5" cy="563.7" rx="10.0" ry="3.6" transform="rotate(-20 187.5 563.7)" fill="#3a3a3a" opacity="0.3" filter="url(#b2)" clip-path="url(#q3_156)"/>
<path d="M157.5 569.4h.7m-.8 6.2h.7m-.9 1.8h.7m1.1-16h.7m-1.6 9.6h.7m.5 4.2h.7m-1.8 3.6h.7m2.2-11.3h.7m-.5 2.9h.7m-1.2 1.3h.7m-1.2 .8h.7m.8 1.4h.7m-1.2 1.4h.7m0-13.3h.7m.9 1.7h.7m-2.1 5.3h.7m.1 .3h.7m-1.6 .8h.7m.2 .2h.7m-.7 1h.7m-.3 2.6h.7m-1.2 .4h.7m-1.5 .4h.7m-.1 0h.7m-1 .7h.7m.5 1.4h.7m1.6-14.6h.7m-2.4 1.9h.7m-.1 1h.7m-1 .2h.7m-.8 4.6h.7m.3 .5h.7m-.9 4.3h.7m-.7 2.5h.7m-1.7 0h.7m.9 2h.7m-1.4 .4h.7m.2-23.2h.7m-.5 7.2h.7m-.8 .5h.7m.5 1.3h.7m-1.3 .1h.7m-1 1.3h.7m-1.1 1.3h.7m.5 .1h.7m0 1h.7m-2.3 .3h.7m-.2 .6h.7m-.8 1.6h.7m-.2 .2h.7m-.4 .4h.7m-1.6 .2h.7m-.8 .5h.7m-1.1 4.8h.7m.3 1.5h.7m1.1-20.3h.7m.2 .1h.7m-.9 1h.7m-1.9 0h.7m.6 3.3h.7m-.8 .5h.7m-.4 .7h.7m-2.2 .2h.7m.1 .4h.7m-.5 .3h.7m-1.9 .9h.7m1 .2h.7m-1.5 .4h.7m-1.1 .3h.7m-.3 .7h.7m-1.5 0h.7m.7 .5h.7m-1.2 .8h.7m-.9 .9h.7m-.8 1.2h.7m-1.6 2.7h.7m.3 .2h.7m-.8 3.3h.7m-1.6 2.4h.7m3.2-20.4h.7m-1.3 3h.7m-.7 .3h.7m-.5 1.6h.7m-1.5 1h.7m-.9 1.5h.7m-.7 .6h.7m0 1h.7m-1 0h.7m-1.5 1.6h.7m-.1 .2h.7m-.5 .3h.7m-1.2 .5h.7m-.3 .3h.7m-.1 0h.7m-1.6 .6h.7m-.1 .4h.7m-.1 .5h.7m-.5 2.1h.7m.9-15.8h.7m-1.8 .5h.7m0 1.3h.7m0 1h.7m-.7 .3h.7m-1.2 1.2h.7m-.4 .6h.7m-2 .2h.7m.4 .6h.7m-1.8 0h.7m-.3 .3h.7m-1 .1h.7m0 .3h.7m-1.3 .2h.7m-.8 .1h.7m-.3 0h.7m-.2 .4h.7m-.1 1.1h.7m-1.6 0h.7m-.1 .2h.7m-1.7 .2h.7m0 .1h.7m-1.9 .7h.7m-.1 .7h.7m-1.3 .4h.7m.1 .8h.7m-.5 .3h.7m-.4 .1h.7m-.6 .2h.7m-1.6 .1h.7m.3 .5h.7m-1.9 0h.7m-.4 .3h.7m-.5 .3h.7m-.1 .3h.7m-.9 .1h.7m-1.2 .6h.7m.1 1.4h.7m-1.9 .2h.7m.2 .2h.7m-.9 1h.7m-.6 3.3h.7m1.5-26.3h.7m-1.7 4.6h.7m.1 .8h.7m-1.2 2.5h.7m-.4 1.7h.7m-.5 .6h.7m-1.3 .3h.7m.3 .5h.7m-2.2 0h.7m1 .3h.7m-2.2 .3h.7m.3 0h.7m-.2 .1h.7m-2 .1h.7m.6 .3h.7m-1 .2h.7m-1.9 0h.7m-.8 .1h.7m.2 .4h.7m-1.5 .5h.7m.1 .4h.7m-1.2 .1h.7m-1.3 .2h.7m1.1 0h.7m-1.9 1.2h.7m-1.3 .3h.7m.1 .2h.7m-.1 .2h.7m-1.9 0h.7m0 .3h.7m-1.6 .1h.7m-.7 .5h.7m-.1 .2h.7m-1 .1h.7m.7 .2h.7m-1.6 .5h.7m-.6 .2h.7m-1.2 .7h.7m.6 0h.7m-1 1.5h.7m-1.5 2.9h.7m.8-20.8h.7m0 1.3h.7m-.9 1h.7m-.1 1.1h.7m-.6 1.9h.7m-1.3 .3h.7m.5 .2h.7m-1.8 .5h.7m.1 .5h.7m-1.3 .7h.7m-1.4 0h.7m-.4 .1h.7m-1.2 0h.7m.5 .3h.7m-.9 .7h.7m-.6 .7h.7m-.6 0h.7m-.7 .7h.7m-1.1 .3h.7m-1.2 .2h.7m-1 .1h.7m-.6 .4h.7m-.1 .2h.7m.1 0h.7m-.9 .1h.7m-1.8 .2h.7m-.8 .2h.7m-.2 .4h.7m.1 .2h.7m-1.4 .2h.7m-.8 .3h.7m-.6 .3h.7m-1.5 .1h.7m.4 .2h.7m-1.8 .1h.7m.8 .3h.7m-.3 0h.7m-.9 .1h.7m-.5 1h.7m-.9 .2h.7m-.9 .4h.7m-1.7 .2h.7m-.3 .2h.7m.1 0h.7m-2.3 .2h.7m.4 .2h.7m-.9 .1h.7m-.6 1h.7m-.7 1.1h.7m-1.4 6h.7m.1 .7h.7m1.1-25.2h.7m-1.2 1h.7m.4 .7h.7m-.4 1.5h.7m-2.1 .2h.7m-.1 1.9h.7m0 .7h.7m-.7 .1h.7m-1.8 .8h.7m.3 .1h.7m-1.8 .1h.7m-1.1 .1h.7m-.1 .1h.7m.4 .1h.7m-2.1 .1h.7m0 .1h.7m-1.3 .1h.7m.1 .1h.7m-.4 .4h.7m-.8 .4h.7m-2.3 .2h.7m1.1 .2h.7m-1.7 .1h.7m-1.1 .5h.7m-1 .1h.7m-.5 0h.7m0 .1h.7m-.5 0h.7m-1.2 0h.7m.3 .1h.7m-.7 0h.7m-.5 .1h.7m-1.7 .1h.7m-1.4 .1h.7m.4 .1h.7m-.8 0h.7m-1.5 0h.7m-.8 .1h.7m-.2 .1h.7m.1 .1h.7m-1.4 .1h.7m-.7 .1h.7m-.2 0h.7m-.4 .2h.7m-1.6 .1h.7m-.9 .2h.7m-.4 .1h.7m-1.3 .2h.7m-1 .1h.7m.6 .1h.7m-1.9 0h.7m.9 0h.7m-2 .9h.7m.6 .1h.7m-2.1 .3h.7m-.1 0h.7m-1.2 .1h.7m.8 0h.7m-1.8 .1h.7m-1 .2h.7m.6 .1h.7m-.6 .1h.7m-2.1 0h.7m.7 0h.7m-.9 .1h.7m-2 .4h.7m-.7 .1h.7m-.9 .3h.7m.7 .1h.7m-2.2 .2h.7m-.2 .6h.7m-1.1 .4h.7m.9 .2h.7m-1.6 .1h.7m-1.3 .8h.7m-.1 .1h.7m-.8 1.1h.7m-1 .1h.7m-1.2 .6h.7m-.3 .5h.7m-.8 1.3h.7m-.7 .2h.7m.5 2.3h.7m-.4 1.1h.7m1.3-26.5h.7m-.7 2.6h.7m-1.9 1.3h.7m.3 1h.7m-1.3 .2h.7m-.3 .9h.7m-.6 0h.7m-1.5 .4h.7m.1 .2h.7m-1 .7h.7m-1.1 0h.7m-1.2 .6h.7m-.7 .2h.7m-.9 .3h.7m-.7 .3h.7m-.6 0h.7m.8 .3h.7m-2 0h.7m-.3 0h.7m-1.4 .4h.7m.2 .4h.7m-1.6 .1h.7m.5 0h.7m-.7 .1h.7m-.4 .1h.7m-.6 .1h.7m-.6 0h.7m-1.9 .1h.7m-.5 .1h.7m.4 .4h.7m-1.9 .2h.7m.5 .1h.7m-2.1 0h.7m-.3 0h.7m-1.5 0h.7m.5 .1h.7m-.3 .1h.7m-2.2 0h.7m.3 .2h.7m-.9 .2h.7m-1.6 .2h.7m0 .1h.7m-.5 0h.7m-.9 0h.7m-.1 .1h.7m-1 0h.7m-1 0h.7m-1.1 .2h.7m-1 .1h.7m.2 0h.7m-1.5 .2h.7m-.3 .3h.7m-1.1 .1h.7m.1 0h.7m-.3 .1h.7m-1.1 .1h.7m-1.3 .2h.7m-.4 0h.7m0 .2h.7m-.7 0h.7m-1.2 .1h.7m.2 .1h.7m-1.5 .1h.7m-1.7 .1h.7m.3 0h.7m-1.1 .1h.7m-.7 .1h.7m-.7 0h.7m.4 0h.7m-1.1 .2h.7m-1.5 .2h.7m.5 .1h.7m-1.2 .1h.7m-1.2 0h.7m-1 0h.7m.2 .1h.7m-.3 0h.7m-.8 .1h.7m-.7 .2h.7m-1.5 .6h.7m-1.4 0h.7m.2 .2h.7m-1.5 0h.7m.1 0h.7m-.7 .1h.7m-1.7 .2h.7m.3 .1h.7m-.4 0h.7m-2 .1h.7m1.2 .3h.7m-1.8 .1h.7m.2 .3h.7m-1 .1h.7m-1.7 .4h.7m-.9 .1h.7m.8 .3h.7m-.8 .1h.7m-1.4 .4h.7m.2 2.1h.7m-1.8 .8h.7m-.3 1.8h.7m-.7 4.1h.7m-.9 .1h.7m2.3-29.2h.7m-1 2.9h.7m-.9 .2h.7m-.2 0h.7m-2.5 2.2h.7m-.2 .5h.7m.6 1.1h.7m-2.2 .2h.7m-.8 .5h.7m-1 .2h.7m-.6 1.3h.7m.4 .3h.7m-1.1 0h.7m-.2 .2h.7m-.4 .4h.7m-.6 0h.7m-.5 .2h.7m-.9 .5h.7m-.7 .2h.7m-2.2 0h.7m0 .1h.7m-.3 .1h.7m-.4 0h.7m-2.3 .1h.7m-.2 0h.7m.3 .1h.7m-1.4 .1h.7m.2 0h.7m-.7 .1h.7m-2.1 0h.7m-1 .3h.7m.6 .1h.7m-.7 0h.7m-1 .3h.7m-.2 0h.7m-.9 0h.7m-.4 0h.7m-.5 0h.7m-2.4 .1h.7m1.1 0h.7m-1.1 .1h.7m-.8 0h.7m-1.3 0h.7m.2 0h.7m-2.4 .1h.7m.1 .1h.7m-.9 0h.7m-.4 .1h.7m-.4 .3h.7m-1.3 .1h.7m.4 0h.7m-.6 .1h.7m-1.1 .1h.7m-.4 0h.7m-1 .6h.7m-.5 .1h.7m-.6 .1h.7m-1.5 .1h.7m-1.3 0h.7m.9 .2h.7m-1.4 0h.7m-.4 .2h.7m-2 .1h.7m.1 0h.7m-.4 .3h.7m-1.1 .2h.7m-1.2 0h.7m.3 .2h.7m-.2 .2h.7m-1.8 .1h.7m.3 .1h.7m-1.5 0h.7m-1.1 .1h.7m-.3 0h.7m-1.4 0h.7m-.1 .1h.7m-1.1 .1h.7m-1.2 .3h.7m-.7 .1h.7m.9 .2h.7m-1.7 0h.7m-.7 .1h.7m.4 .2h.7m-1.7 .3h.7m-.8 .2h.7m0 0h.7m-1.8 .2h.7m.9 .2h.7m-1.3 0h.7m0 .3h.7m-1.6 .2h.7m-1.1 .1h.7m-.6 .3h.7m-1.1 0h.7m.2 .1h.7m-.9 .2h.7m-1.4 .2h.7m-.6 .3h.7m-.2 .5h.7m-.6 .4h.7m-.7 .7h.7m-1.3 .1h.7m-.6 .1h.7m-.5 .9h.7m-1 .1h.7m-1 .5h.7m1 .1h.7m-1.4 1.7h.7m-.4 2.5h.7m.4-26.9h.7m-.1 3.5h.7m0 .1h.7m-2 .1h.7m-1 .1h.7m.9 .8h.7m-1.3 .7h.7m-1.7 .4h.7m.2 .6h.7m-.4 .2h.7m-1.2 0h.7m-.2 .3h.7m-.7 .7h.7m-1.4 0h.7m-.9 .1h.7m-1.2 0h.7m.8 .1h.7m-.3 .5h.7m-1.4 .2h.7m0 .3h.7m-1.1 .1h.7m-1.1 0h.7m-1.4 0h.7m.1 0h.7m-.6 .3h.7m-.3 .1h.7m-.7 .1h.7m-1.1 .1h.7m-1.7 0h.7m-.6 0h.7m.4 0h.7m-1.4 .1h.7m-1.1 0h.7m-.4 .4h.7m.5 .1h.7m-.9 0h.7m-1.9 .3h.7m-.9 .1h.7m.7 0h.7m-.6 0h.7m-1.1 0h.7m-.5 .1h.7m-1.1 .1h.7m-.3 .1h.7m-1.7 .2h.7m-1.3 .1h.7m-.3 0h.7m-.5 .1h.7m.3 .1h.7m-.5 0h.7m-1 .1h.7m-1.8 0h.7m.1 .2h.7m-1.7 .1h.7m-.2 0h.7m.2 0h.7m-1.4 .1h.7m.2 .1h.7m-1.7 .2h.7m-.6 0h.7m-1.2 0h.7m.5 .2h.7m-.4 .1h.7m-2.5 0h.7m-.5 .1h.7m-.1 .2h.7m0 .2h.7m-2.3 .1h.7m.6 0h.7m-1.8 .2h.7m-.9 0h.7m0 0h.7m0 .1h.7m-1.3 0h.7m.4 0h.7m-2.6 0h.7m-.2 0h.7m.6 0h.7m-1.6 .1h.7m.1 0h.7m-1.5 .1h.7m0 0h.7m-1 .1h.7m-.9 0h.7m.1 0h.7m-1 .4h.7m-.9 0h.7m-.2 0h.7m-2.4 .1h.7m.3 .1h.7m-.2 0h.7m-.5 0h.7m-2 0h.7m0 0h.7m-1 .1h.7m-1.3 0h.7m-.4 .1h.7m.4 .1h.7m-.7 .1h.7m-1.6 .1h.7m-1.4 0h.7m-.3 0h.7m-.8 .1h.7m-.9 .1h.7m.2 0h.7m-1.8 .1h.7m.8 .2h.7m-.5 0h.7m-1.8 .1h.7m.4 .1h.7m-1.7 0h.7m.4 .1h.7m-.8 0h.7m-.6 0h.7m-1.6 .1h.7m-.2 0h.7m-.9 .1h.7m-1.9 .4h.7m-.4 .1h.7m-.2 0h.7m-1 .1h.7m.5 0h.7m-2 .1h.7m.6 .1h.7m-2.4 .1h.7m.6 .1h.7m-.6 .2h.7m-1.7 0h.7m-.4 .2h.7m-1.4 0h.7m.5 .1h.7m-2 .1h.7m.2 .2h.7m.2 .6h.7m-2.2 .3h.7m-.2 .1h.7m-.9 .1h.7m-.2 .2h.7m0 .1h.7m-2 1.4h.7m-.9 .1h.7m.1 .7h.7m-1.3 .5h.7m-1.1 .9h.7m-.6 1.1h.7m.9 3.6h.7m1.2-24.5h.7m-1.4 .8h.7m-.3 .6h.7m-1.3 1h.7m-1 .2h.7m-1 0h.7m.9 .4h.7m-1.2 0h.7m-1.4 .6h.7m.2 .5h.7m-1.1 0h.7m-1.6 .2h.7m.8 .2h.7m-1.2 .2h.7m-.5 .4h.7m-.2 .1h.7m-2.1 .1h.7m.4 .1h.7m-.4 .3h.7m-1.6 0h.7m-.9 .1h.7m-.4 0h.7m-.4 .1h.7m-1.3 0h.7m.3 .3h.7m-1 .3h.7m-.8 .1h.7m-1.9 .3h.7m.5 0h.7m-1.4 0h.7m-.9 .1h.7m-.6 0h.7m.3 .2h.7m-.5 0h.7m-.6 .1h.7m-2.1 .2h.7m-1.1 .1h.7m.5 0h.7m-.9 .1h.7m-1.3 .2h.7m-.1 .1h.7m-.3 .1h.7m-.9 0h.7m-.5 .1h.7m-.9 .1h.7m-.9 .1h.7m-.6 0h.7m-.6 0h.7m-.7 .1h.7m-.2 .1h.7m-1.4 0h.7m-.4 .3h.7m-2 .1h.7m.8 .1h.7m-1.7 .1h.7m.2 0h.7m-1.4 0h.7m-1.1 .3h.7m.7 0h.7m-1.2 .1h.7m-1.4 .2h.7m-1.2 0h.7m.1 0h.7m0 0h.7m-.9 .1h.7m-1.1 0h.7m-1.4 .1h.7m-.9 .3h.7m.5 0h.7m-1.3 .1h.7m.4 .1h.7m-2 .2h.7m0 0h.7m-1.6 .1h.7m.4 .1h.7m-.2 .1h.7m-2.1 .2h.7m-.2 0h.7m-1.6 .2h.7m.3 .1h.7m-.6 .1h.7m0 0h.7m-2.5 .2h.7m.3 0h.7m-.5 .1h.7m-1.3 .1h.7m-.1 .2h.7m-1.8 .2h.7m-.6 .1h.7m.3 0h.7m-1.8 .3h.7m-.3 .1h.7m-1 0h.7m-.9 .1h.7m.7 .2h.7m-.6 .1h.7m-1.4 .2h.7m-1.6 .1h.7m-.6 0h.7m.2 .2h.7m-.4 0h.7m-1.3 .3h.7m-1.4 .4h.7m.7 .1h.7m-.7 .1h.7m-.6 .2h.7m-.8 .2h.7m-.4 .6h.7m-2 .2h.7m.7 .3h.7m-.9 .4h.7m-1.7 .2h.7m.5 .1h.7m-2.2 .5h.7m.9 .6h.7m-.7 0h.7m-.9 1.4h.7m-1.9 2.7h.7m-.3 2.6h.7m1.7-27.4h.7m-1.1 1.4h.7m.3 .3h.7m-1.9 1.5h.7m.1 .4h.7m-1.5 .1h.7m-.3 .6h.7m-1.5 .6h.7m.2 0h.7m-.2 .9h.7m-.6 .2h.7m-1.2 .2h.7m-1.3 0h.7m-.4 0h.7m-.4 .5h.7m-.6 .2h.7m-.7 .2h.7m-.3 .3h.7m-1.3 .1h.7m-1.6 .2h.7m.7 0h.7m-.7 .3h.7m-2.3 .1h.7m-.1 0h.7m-1 0h.7m-.9 .2h.7m.8 .1h.7m-.6 0h.7m-1.3 .2h.7m-.5 .1h.7m-.2 .2h.7m-.7 .4h.7m-.8 0h.7m-2.2 .1h.7m.3 .3h.7m-.2 .2h.7m-2 .3h.7m-.4 0h.7m.3 .1h.7m-1.2 .1h.7m-.9 0h.7m.1 .1h.7m-1.1 .1h.7m-.4 .2h.7m-.6 0h.7m-2 0h.7m.6 0h.7m-2.4 0h.7m.5 0h.7m-1.2 .2h.7m.2 .1h.7m-.6 0h.7m-2.4 .1h.7m1 0h.7m-1.3 0h.7m-.5 0h.7m-1.7 0h.7m-.5 .1h.7m.4 .2h.7m-2.3 0h.7m.3 0h.7m-1.3 .1h.7m-.3 .1h.7m-.7 .2h.7m-.6 .1h.7m-.7 0h.7m-.1 0h.7m-1.6 .2h.7m-1.4 0h.7m0 .2h.7m-.6 0h.7m-1.3 0h.7m-.5 .1h.7m.5 .1h.7m-.7 .1h.7m-2.2 .3h.7m-.5 .1h.7m-.7 0h.7m-.8 0h.7m-.7 0h.7m-.3 .1h.7m-.6 0h.7m-.9 0h.7m-.6 0h.7m-.9 .1h.7m-.1 .3h.7m.1 .2h.7m-1.8 .3h.7m-.8 .1h.7m-.3 .1h.7m-.7 .3h.7m-1.2 0h.7m-.1 0h.7m-1.6 .2h.7m.2 .1h.7m-.7 .2h.7m-1.3 .5h.7m.6 .3h.7m-.9 0h.7m-1 .1h.7m-.8 .1h.7m-1.8 .1h.7m.6 0h.7m-1.1 .1h.7m-.9 0h.7m.3 0h.7m-1 .4h.7m-.8 .2h.7m-.7 .1h.7m-.8 0h.7m-.7 .1h.7m-.6 0h.7m-1.7 .3h.7m-.3 1.2h.7m-1 .2h.7m-.1 .2h.7m-1.5 .2h.7m-.5 .2h.7m-.2 .7h.7m-1.5 .1h.7m2.2-22.3h.7m0 5.5h.7m-2 .6h.7m-1.2 .3h.7m-.7 .1h.7m.3 .4h.7m-.3 .1h.7m-1.1 .3h.7m-.1 .7h.7m-.7 .5h.7m-.9 0h.7m-1.4 .2h.7m.2 .5h.7m-2.1 0h.7m.7 .2h.7m-1.1 .4h.7m-.8 .1h.7m-.9 .1h.7m-.8 0h.7m.1 0h.7m-2.2 .1h.7m.6 0h.7m-2.1 .1h.7m1 0h.7m-1 .1h.7m-.3 .1h.7m-1.3 .1h.7m-.5 .1h.7m-1.8 .2h.7m-.1 0h.7m-1.2 0h.7m.1 .2h.7m-1 0h.7m-.7 0h.7m.2 .1h.7m-1.4 0h.7m-.7 .1h.7m-.5 .2h.7m-1.5 0h.7m-.5 .1h.7m-.3 .2h.7m-1.5 0h.7m.8 .2h.7m-2.6 .1h.7m-.4 0h.7m-.9 .1h.7m-.3 .2h.7m0 .2h.7m-1.2 .1h.7m-.7 0h.7m-.1 .1h.7m-2 .1h.7m.5 .1h.7m-1.6 .2h.7m-.8 0h.7m-.7 .1h.7m-.3 0h.7m-.6 .1h.7m-.4 0h.7m-1.5 0h.7m.3 0h.7m-.2 .1h.7m-.5 .1h.7m-.7 .1h.7m-1.1 .1h.7m-1.6 .1h.7m-1 0h.7m-.2 0h.7m-.5 .1h.7m-.6 0h.7m-.1 .2h.7m-1.7 0h.7m-1.4 0h.7m.1 0h.7m-1.5 .1h.7m0 .2h.7m.4 0h.7m-2.5 .4h.7m.6 .2h.7m-1.5 0h.7m-.1 0h.7m-.9 .1h.7m-.2 .1h.7m-1.4 0h.7m.4 .1h.7m-1.8 0h.7m-.5 .3h.7m0 .1h.7m-1.3 .1h.7m.2 0h.7m-1.4 0h.7m-1.2 .1h.7m-.2 0h.7m-.6 .1h.7m-.8 0h.7m-1.8 .3h.7m-.3 .2h.7m.6 0h.7m-1.1 .2h.7m-1.9 .1h.7m.8 .1h.7m-1.4 .2h.7m-1.1 .1h.7m-.4 0h.7m-1 .2h.7m-1.3 .1h.7m1.1 0h.7m-2.5 .3h.7m0 .2h.7m-.3 .2h.7m-.8 .5h.7m-1.5 .2h.7m-.3 .8h.7m.6 .1h.7m-2.6 .7h.7m.7 .4h.7m-1 .1h.7m-.4 .1h.7m-1 .3h.7m-1.5 .1h.7m0 1h.7m0 5h.7m1.4-33.2h.7m-2.4 1.7h.7m.3 2.3h.7m-.6 4.7h.7m-1.6 .2h.7m.3 .8h.7m-.3 .5h.7m-1.1 0h.7m-1.2 .4h.7m0 .3h.7m-.4 .7h.7m-2.3 .1h.7m0 .1h.7m-1.6 .6h.7m-.4 .6h.7m.1 .4h.7m-.1 .2h.7m-1.6 0h.7m-.7 0h.7m-.4 .1h.7m-.5 0h.7m-1.2 .1h.7m-1.1 0h.7m-.6 0h.7m-.5 0h.7m-1.4 .4h.7m.1 0h.7m-.7 .2h.7m-.3 .2h.7m-.8 0h.7m-.3 .1h.7m-.8 .1h.7m-1.1 0h.7m-.4 .1h.7m-.1 .6h.7m-1.7 0h.7m.3 0h.7m-.8 .1h.7m-2.5 .1h.7m-.4 0h.7m-.7 0h.7m-1 .9h.7m-.7 0h.7m.3 0h.7m-.2 .1h.7m-1.6 0h.7m-1.2 .1h.7m.1 0h.7m-.5 .1h.7m-.8 0h.7m-1 .1h.7m-.4 .2h.7m0 .4h.7m-1.4 .1h.7m-1.2 0h.7m-.3 .1h.7m-1 0h.7m-1.2 .2h.7m.5 .2h.7m-2 0h.7m-.6 .2h.7m-.3 .1h.7m-.4 .1h.7m.2 .1h.7m-2 0h.7m.1 .2h.7m-1.2 .1h.7m-.4 0h.7m-1.4 .1h.7m.2 .1h.7m-.1 .1h.7m-2.5 .1h.7m0 .1h.7m0 .1h.7m-.6 .1h.7m-.7 .1h.7m-1 0h.7m-1.9 .2h.7m.4 .1h.7m-1.3 .1h.7m-.5 .1h.7m0 0h.7m-.8 .1h.7m-1.7 0h.7m.7 0h.7m-2.4 .3h.7m.9 .1h.7m-.6 .3h.7m-.5 .1h.7m-1.8 .2h.7m-.7 .1h.7m-.8 0h.7m.2 .2h.7m-.9 .1h.7m-1.5 .2h.7m-.4 .2h.7m0 0h.7m-1.2 .1h.7m-.1 1.1h.7m-.5 .2h.7m-2 0h.7m-1 .4h.7m.5 .2h.7m-1.1 .5h.7m-1.4 0h.7m-.4 .6h.7m-.8 1.1h.7m.5 1.3h.7m-2.5 2.4h.7m.5 .5h.7m-.9 0h.7m-1.2 2.1h.7m.4 .6h.7m.2-25.5h.7m.5 1.4h.7m-2.3 .6h.7m.8 .1h.7m-1.7 .8h.7m-.8 .9h.7m.3 .8h.7m-.8 .5h.7m-.9 .3h.7m-.2 .6h.7m-1.4 .2h.7m-1 .2h.7m.4 0h.7m-1.7 .1h.7m.4 .1h.7m-.7 .4h.7m-1.7 .1h.7m0 0h.7m-1.1 .1h.7m-.3 .2h.7m-.7 .1h.7m-1.5 .1h.7m-.4 .3h.7m0 .2h.7m-1.6 .2h.7m-.4 .2h.7m-1.8 .2h.7m-.7 .1h.7m.7 .1h.7m-2.1 0h.7m.2 .1h.7m-1.1 0h.7m-.9 .1h.7m-.4 .1h.7m-.6 .1h.7m-.5 .2h.7m-.4 .2h.7m-.5 .1h.7m-.3 .1h.7m-1.4 .1h.7m-.8 .1h.7m-.1 0h.7m-1.7 .1h.7m.2 .1h.7m-2.2 .1h.7m-.3 .1h.7m-1 0h.7m1 0h.7m-2.4 0h.7m0 .2h.7m-.4 0h.7m-.2 .1h.7m-2.1 .1h.7m-1 0h.7m.9 .1h.7m-1.2 .1h.7m-1 0h.7m-.1 .2h.7m-1 0h.7m-.3 0h.7m-2.1 .1h.7m-.2 .2h.7m-.3 0h.7m-1.6 .3h.7m-.3 0h.7m.5 .1h.7m-1.5 0h.7m-1.6 0h.7m1 .3h.7m-2.4 .1h.7m.9 .1h.7m-.6 0h.7m-1.7 .4h.7m.3 .3h.7m-1 .1h.7m-.6 0h.7m-1.6 .1h.7m-1.3 0h.7m1.2 .2h.7m-1.9 .1h.7m-1.3 .3h.7m0 .1h.7m-1 .1h.7m-.2 .3h.7m-.7 .2h.7m-1.3 .4h.7m.2 .1h.7m-1.3 .1h.7m-.2 .4h.7m-.8 0h.7m-.7 .4h.7m-1.4 0h.7m.7 2.3h.7m-.9 3.8h.7m-1.8 3.7h.7m1.8-45.1h.7m.1 3.4h.7m-2.4 3h.7m.5 .5h.7m-1.1 2.1h.7m-.6 6.7h.7m-1.6 4.2h.7m-.3 0h.7m-.7 .5h.7m-.5 .4h.7m-.2 1.3h.7m-.2 0h.7m-1.9 .2h.7m.4 0h.7m-1.4 .1h.7m-1.1 .3h.7m-.5 .1h.7m-.3 .1h.7m-.2 .1h.7m-1.5 .1h.7m.3 0h.7m-2.1 .1h.7m-.5 .2h.7m-1 .1h.7m0 .1h.7m-1.3 0h.7m-.5 .2h.7m0 .1h.7m-2 .1h.7m0 .7h.7m.2 .1h.7m-1.6 0h.7m-.3 .1h.7m-1.4 0h.7m-.5 .1h.7m-1 .5h.7m.1 .2h.7m-.4 .4h.7m-.9 .3h.7m-1.8 .2h.7m.4 .1h.7m-1 .3h.7m-.4 .2h.7m-1.7 .1h.7m0 0h.7m.1 .3h.7m-2.1 0h.7m.4 .7h.7m-.6 .1h.7m-.7 0h.7m-.5 0h.7m-2.2 .2h.7m-.6 .1h.7m-.6 .1h.7m.2 .1h.7m-1.1 0h.7m-1.3 .1h.7m-.3 .2h.7m0 0h.7m-1.2 .1h.7m-1.3 .2h.7m-.1 .1h.7m-.4 .4h.7m-1.9 0h.7m-.5 .1h.7m-.4 .2h.7m-1.1 .1h.7m-.3 .1h.7m.6 .2h.7m-2 .1h.7m-1 0h.7m0 .2h.7m.2 .3h.7m-1.3 .7h.7m-.9 .2h.7m-.3 0h.7m-2 .2h.7m.3 .1h.7m-1.2 .6h.7m-.6 0h.7m.5 .7h.7m-1.2 1.2h.7m-1.3 .5h.7m-1.2 2.7h.7m-.7 2.9h.7m.5 .9h.7m1.1-33.8h.7m-.3 4.7h.7m-1.5 1.3h.7m-.7 1h.7m-1 .5h.7m-.3 1.8h.7m-1 4.1h.7m0 .7h.7m-.2 1h.7m-1.7 0h.7m-1.4 .2h.7m.5 .6h.7m-.3 .5h.7m-1.5 0h.7m-1.2 .1h.7m-1.1 .1h.7m-.4 .7h.7m-1.1 .1h.7m.8 .4h.7m-.6 0h.7m-1.6 .1h.7m.2 .1h.7m-1.9 .9h.7m-1.1 .2h.7m1.2 0h.7m-2.1 .2h.7m-1.2 .1h.7m0 .3h.7m-.9 .6h.7m-1 0h.7m1 0h.7m-2.3 .2h.7m.3 .1h.7m-2 .8h.7m.2 .1h.7m-.5 .3h.7m-1.2 .6h.7m-1.1 .4h.7m-.7 .2h.7m.7 .7h.7m-1.8 .8h.7m-.5 .4h.7m-.6 .3h.7m.1 1.7h.7m-2.3 .1h.7m0 .4h.7m.1 .6h.7m-.9 1h.7m-1.2 .8h.7m-.3 .9h.7m-1.1 7.1h.7m.9-40.8h.7m-1 .6h.7m-.6 2.4h.7m1 .6h.7m-1.7 5.4h.7m-1.5 1.5h.7m-.1 .3h.7m-.8 1.3h.7m-.1 .3h.7m-.5 .1h.7m-.8 2.3h.7m-.3 2.9h.7m-1.9 .2h.7m.3 .1h.7m-1.4 .2h.7m-.6 .1h.7m-1.6 .4h.7m1.1 .1h.7m-1.2 .5h.7m-.2 0h.7m-.9 .1h.7m-.8 .3h.7m-1.9 .1h.7m-1 .3h.7m.9 .1h.7m-1.3 .1h.7m-1.4 .1h.7m-1 .1h.7m-.7 1.3h.7m.4 .7h.7m-1.8 .3h.7m.5 .3h.7m0 .2h.7m-1.8 .4h.7m-1.2 .3h.7m-.3 .1h.7m-.2 .9h.7m-1.4 .1h.7m.1 .7h.7m-1.6 .9h.7m-.2 1.9h.7m-.8 .7h.7m-1.2 .4h.7m-1 1h.7m-.2 1.7h.7m.7 2.9h.7m-2.6 .8h.7m-.6 3.9h.7m1.5-43.8h.7m.5 .1h.7m-2.2 1.6h.7m-.7 5.2h.7m-.1 .1h.7m-1.3 1.5h.7m1 .3h.7m-1 1.3h.7m-2 1.7h.7m.2 .3h.7m-.4 1h.7m-1 .7h.7m-.9 .1h.7m-1.1 3.3h.7m-.7 .6h.7m.4 .8h.7m-1.7 1.3h.7m-.9 .8h.7m-.6 .5h.7m-.9 .6h.7m-.5 .4h.7m-.3 .5h.7m.3 .2h.7m-1.3 .4h.7m0 .5h.7m-2.5 .2h.7m.1 .4h.7m-1.2 .6h.7m-.9 .2h.7m-.1 .2h.7m-.9 1h.7m-.3 .3h.7m-1.2 .1h.7m-.7 1.3h.7m-.9 0h.7m.9 .4h.7m-1.1 .3h.7m-.4 .1h.7m-1.6 .2h.7m-.9 .2h.7m0 1.2h.7m-1.1 0h.7m-1.5 1.2h.7m.3 .4h.7m-.9 2h.7m-.1 1.3h.7m-2.1 1h.7m.3 .1h.7m-.4 .5h.7m-.8 2.1h.7m.5-29.8h.7m-.9 6.6h.7m-.8 1.3h.7m-.5 4.4h.7m-.9 .2h.7m-.4 .2h.7m-1 .9h.7m-.7 1.3h.7m-.9 .3h.7m-.8 .8h.7m-.7 .4h.7m-.5 .8h.7m-.6 .8h.7m-.6 1.3h.7m-.4 .5h.7m-1.1 3.1h.7m-.9 .8h.7m-.6 1.2h.7m-.8 .6h.7m-.1 .7h.7m-1.4 1.6h.7m-.1 1h.7" stroke="#3c3c3c" stroke-width="0.7" fill="none" opacity="0.75"/>
<path d="M204.8 535.1h.7m-.6 .6h.7m.1 .1h.7m-1.1 .7h.7m-1.3 1h.7m.2 4.4h.7m-1.1 .1h.7m-.9 .8h.7m-.8 0h.7m.2 1.4h.7m-1.3 1.6h.7m0 .1h.7m-1.7 1.4h.7m.1 1.4h.7m-1.2 .3h.7m-.8 .4h.7m.1 .5h.7m-1 .3h.7m-.6 2.5h.7m-.5 .3h.7m-.8 1.4h.7m-1.5 .2h.7m.2 .6h.7m-1.6 1.2h.7m-.6 .4h.7m.1 .1h.7m-1 .7h.7m-.9 0h.7m-.3 1.6h.7m-.9 .5h.7m-1.4 .2h.7m-.9 .8h.7m.1 3.2h.7m-.3 5.7h.7m-1.8 .1h.7m-.1 2.3h.7m.1-37.5h.7m.4 .4h.7m-.7 2.5h.7m-1.4 .3h.7m-1 .7h.7m-.4 2.3h.7m0 .7h.7m-1.6 1.4h.7m.5 .2h.7m-1.5 2.1h.7m-.7 0h.7m-1.1 .8h.7m.7 1.6h.7m-1.7 1.6h.7m.1 .2h.7m-2.2 .2h.7m0 .6h.7m-.1 .3h.7m-1.6 .1h.7m-.3 .8h.7m-1.1 .2h.7m-1.2 1.5h.7m1 .5h.7m-1.3 1h.7m-.6 .5h.7m-1 1.6h.7m-1.3 .1h.7m.9 .1h.7m-1.9 .2h.7m-.9 .1h.7m-.9 .3h.7m.3 .5h.7m-.7 .2h.7m-.4 .7h.7m-1.8 .6h.7m-.8 .2h.7m-1.1 .1h.7m1 .3h.7m-.5 0h.7m-1 .2h.7m-.4 0h.7m-.9 .1h.7m-1.8 .1h.7m-1.3 .3h.7m1.2 .3h.7m-2.3 0h.7m-.7 1.2h.7m-.7 .1h.7m.3 2h.7m-.6 .3h.7m-1.6 2h.7m-1.2 1.1h.7m.2 .4h.7m-.3 3.8h.7m-1.2 3.2h.7m-1.2 .2h.7m-.6 3.9h.7m1.5-45.1h.7m0 .1h.7m-.7 .3h.7m-.3 3.2h.7m-1.8 .4h.7m-.4 0h.7m-.7 .3h.7m-.4 .3h.7m-.3 1.7h.7m-1.6 .1h.7m.4 3.4h.7m-.9 .7h.7m-1.4 .7h.7m-1 .1h.7m-1 .1h.7m.8 .7h.7m-2.5 .2h.7m1.1 .2h.7m-.9 .7h.7m-1.7 0h.7m-.7 1.1h.7m.5 .5h.7m-.9 .5h.7m-1.6 .3h.7m.2 .2h.7m-1.7 0h.7m-.5 .3h.7m-.4 .1h.7m-1.4 1.2h.7m.3 .1h.7m-.4 .1h.7m-2.2 .2h.7m1 0h.7m-2.3 .2h.7m.2 .6h.7m-1.2 .9h.7m-.1 .1h.7m-1 .2h.7m-1.5 .8h.7m-.1 1.6h.7m-.9 .1h.7m-.8 .3h.7m-.8 .8h.7m-.8 .1h.7m.8 .1h.7m-1.3 .3h.7m-1.1 .1h.7m-.4 0h.7m-.9 .4h.7m.3 .4h.7m-1.3 .4h.7m-.8 .4h.7m-.5 .1h.7m-.3 .7h.7m-.8 .3h.7m-1.7 .1h.7m-.5 .2h.7m-.9 .6h.7m-1.3 .8h.7m-.5 0h.7m-.6 .2h.7m.5 1.2h.7m-.9 .1h.7m-1.6 .3h.7m-.7 .5h.7m-.7 .1h.7m-1.1 5.7h.7m2.8-37.4h.7m-1.6 1.7h.7m-.7 .9h.7m.3 1.7h.7m-1 1.5h.7m-1 .3h.7m-1.4 .9h.7m-1.1 .3h.7m.6 2.7h.7m-1.5 .8h.7m-.7 1.8h.7m-.9 .2h.7m.2 .1h.7m-.8 .3h.7m-.5 .6h.7m-2 .6h.7m.4 1.4h.7m-1.4 .3h.7m-.7 .1h.7m-.7 .7h.7m-.6 .2h.7m.3 .3h.7m-1.3 0h.7m.2 .4h.7m-1.3 .6h.7m-1 .5h.7m-1.3 .1h.7m.6 .1h.7m-1.7 .1h.7m-.4 .3h.7m.3 .6h.7m-1.3 .4h.7m-1.4 .3h.7m.4 1.1h.7m-1.9 .2h.7m-.1 .2h.7m-.6 0h.7m-1.4 .8h.7m.5 .3h.7m-.8 2.3h.7m-.5 .2h.7m-2 .1h.7m-.4 .3h.7m-1.5 .1h.7m.8 1.2h.7m-.3 .2h.7m-.9 .6h.7m-1.4 .5h.7m-.7 .3h.7m-.5 0h.7m-.2 .3h.7m-.9 .5h.7m-.5 .7h.7m-1.3 1h.7m-.6 .5h.7m-1 .1h.7m-1 .5h.7m-.5 1.4h.7m-1.4 .1h.7m.4 .5h.7m-.9 .2h.7m.2 .8h.7m-1.6 .4h.7m-.6 1.2h.7m-.4 .1h.7m-.3 .2h.7m-.7 1.5h.7m-.1-37.3h.7m-.6 .9h.7m.4 0h.7m-.9 1.6h.7m-1.5 .3h.7m-.2 .2h.7m-1.4 .5h.7m.3 0h.7m-1.6 .1h.7m.5 .1h.7m-1.1 .3h.7m-.5 .1h.7m-.5 .5h.7m-2.4 .2h.7m.8 .1h.7m-1.1 .9h.7m-.9 .5h.7m-1.5 .6h.7m.2 1h.7m-1.7 .8h.7m1.1 .3h.7m-1.5 0h.7m.1 1.1h.7m-2.1 .4h.7m.7 .3h.7m-.9 .6h.7m-2.2 0h.7m-.3 .4h.7m.6 .3h.7m-.7 .4h.7m-1.4 .2h.7m-1.2 0h.7m-1.1 0h.7m-.4 1.3h.7m.1 .1h.7m-.9 .3h.7m-1.7 .5h.7m-.7 .1h.7m.8 .7h.7m-1 .5h.7m-1.7 0h.7m.9 .6h.7m-1.2 .2h.7m-.5 0h.7m-.9 .2h.7m-.7 .3h.7m-.8 .3h.7m-1.5 .3h.7m-.4 .3h.7m.4 .1h.7m-.7 .1h.7m-1.3 .1h.7m-.2 .8h.7m-1.8 .2h.7m-.6 1.2h.7m.1 1.4h.7m-2 .1h.7m0 .3h.7m-.6 1.3h.7m-.4 1.1h.7m-1.4 0h.7m-.2 .2h.7m-.6 2.7h.7m-.5 .3h.7m-2 .2h.7m.3 .1h.7m-1.4 .5h.7m-.8 .8h.7m-.8 1.7h.7m-.3 .1h.7m-.1 .8h.7m-.7 .4h.7m-1.9 .1h.7m.9 .4h.7m-.8 .2h.7m-1.1 .1h.7m-1.7 .8h.7m-.5 3.2h.7m-.6 .7h.7m.1 1.6h.7m-2 .8h.7m-.7 .4h.7m-.3 1.8h.7m-.4 2.9h.7m1.4-48.5h.7m-.8 0h.7m-1.1 .9h.7m.7 .3h.7m-.5 1.1h.7m-1.9 .5h.7m-.7 .3h.7m.2 .4h.7m-1.5 .2h.7m-1.1 .8h.7m-1 2.5h.7m.2 .5h.7m-1.4 0h.7m.3 .1h.7m-1.4 .4h.7m.1 0h.7m-1.8 .2h.7m.2 .6h.7m-.2 .1h.7m-1.8 0h.7m.6 .1h.7m-1.9 .3h.7m-.8 .4h.7m-1.1 .1h.7m-.6 .1h.7m-.9 .1h.7m.5 0h.7m-.4 .1h.7m-.8 .5h.7m-2 .1h.7m-.6 .1h.7m.6 .2h.7m-2 .3h.7m-1 .4h.7m-.4 .2h.7m.3 .1h.7m-.8 .1h.7m-.2 .2h.7m-1.1 .4h.7m-1.4 1h.7m.2 0h.7m-2.1 .3h.7m-.4 .3h.7m-1.1 .5h.7m.3 .4h.7m-1.7 .4h.7m-.6 .3h.7m-.6 .4h.7m0 1.1h.7m-.1 .1h.7m-2.1 .1h.7m-.4 .2h.7m-1.1 .2h.7m.7 .7h.7m-.2 .2h.7m-1 .4h.7m-1.9 .6h.7m-1 .1h.7m.6 .7h.7m-.8 .2h.7m-.1 .2h.7m-1.7 .2h.7m.1 0h.7m-1.9 .1h.7m-.5 .4h.7m-1.3 0h.7m.7 0h.7m-2 .2h.7m-.5 .5h.7m-.2 1.6h.7m0 .6h.7m-1.4 .2h.7m-1.5 .2h.7m.7 .3h.7m-1.6 .2h.7m.3 1.1h.7m-1.2 .2h.7m-.1 .3h.7m-1.6 1.2h.7m0 2.1h.7m-2 .2h.7m.8 .6h.7m-1.4 .2h.7m-1.1 0h.7m-.9 .2h.7m-.1 .6h.7m-1.3 .3h.7m0 0h.7m-1.5 .2h.7m-1 .3h.7m-.4 .7h.7m0 .5h.7m-1.3 .5h.7m.6 2.3h.7m-2.1 .2h.7m.2 .4h.7m-.8 .4h.7m-1 4h.7m-.7 .3h.7m-.1 4.4h.7m-1.6 .4h.7m2.7-46.9h.7m-2.4 1h.7m-.9 .2h.7m.5 .4h.7m-.7 .3h.7m-.4 .2h.7m-1.5 .1h.7m-1.2 .1h.7m1 1h.7m-1.3 .4h.7m-.1 .7h.7m-1.8 0h.7m-1.2 1.2h.7m.9 1.7h.7m-2.4 1.1h.7m.6 .1h.7m-2 .3h.7m-.6 0h.7m-.1 .6h.7m-1.2 1.5h.7m.7 1h.7m-1.1 .1h.7m-1.2 .1h.7m-1.2 .6h.7m-.1 .4h.7m-.6 .3h.7m-.8 .2h.7m-1.3 .4h.7m-.8 .2h.7m.2 .6h.7m-1.6 .1h.7m.3 .1h.7m-1.3 .4h.7m-.6 .9h.7m-.1 .7h.7m-.7 .3h.7m-.9 .3h.7m0 0h.7m-1.2 .1h.7m-.6 .1h.7m-2.2 .3h.7m.9 .3h.7m-2.2 .1h.7m-.2 0h.7m-.5 .5h.7m-.3 .1h.7m-.9 .1h.7m-1.4 .2h.7m-.5 .5h.7m.7 .1h.7m-1.1 .5h.7m-.8 .2h.7m-1.1 .5h.7m.2 .3h.7m-2 .2h.7m.3 .1h.7m-1.8 .4h.7m.3 .4h.7m-1.9 .2h.7m-.2 .4h.7m.1 .3h.7m-1 .1h.7m-1.9 0h.7m.4 .4h.7m-.4 .3h.7m-.6 0h.7m-.4 0h.7m-1.7 .6h.7m-.8 .1h.7m-1.4 .5h.7m.5 0h.7m-1.4 1.4h.7m-.3 .1h.7m-1.1 .4h.7m.4 .6h.7m-2 .1h.7m-1 1h.7m1 .1h.7m-1.8 .8h.7m-1.1 .4h.7m-.1 .6h.7m-.4 .2h.7m-1.1 .3h.7m-1.2 .7h.7m-.7 .5h.7m-.8 1.1h.7m1 .5h.7m-2.5 0h.7m-.2 .9h.7m-1 .8h.7m.6 .4h.7m-2 .1h.7m0 1.9h.7m-1.3 1.4h.7m2.8-39h.7m-2.3 1.6h.7m-.1 .7h.7m-.2 .4h.7m-1.1 .1h.7m-.2 .4h.7m-.9 0h.7m-1.5 .2h.7m.7 0h.7m-1.6 .3h.7m-1 .3h.7m-.1 .2h.7m-1.3 .1h.7m-1.3 .2h.7m.1 .1h.7m-1.2 .1h.7m-1.1 .7h.7m-.2 2.3h.7m.5 .6h.7m-1.6 .5h.7m-1.5 .1h.7m-.3 .2h.7m.5 .2h.7m-1.8 .1h.7m0 .1h.7m0 .1h.7m-2.5 0h.7m-.5 0h.7m.4 .1h.7m-2 .6h.7m.7 0h.7m-.9 .1h.7m-.1 .4h.7m-1.3 .2h.7m-1.3 .1h.7m.5 0h.7m-1.8 .3h.7m-.1 .6h.7m-1 .1h.7m-1.2 .2h.7m.6 .6h.7m-2.1 .2h.7m-.5 0h.7m-1 .2h.7m-.1 .3h.7m-.3 .2h.7m-.5 .4h.7m-2.1 0h.7m.4 .1h.7m-1.6 .4h.7m.8 0h.7m-1.8 .2h.7m-.1 .1h.7m-1.3 .4h.7m-.2 0h.7m-1.5 .1h.7m-.3 .1h.7m-.9 .3h.7m.5 .4h.7m-.7 0h.7m-2.3 0h.7m.4 .5h.7m-2.1 .3h.7m.6 .1h.7m-1.4 .1h.7m-.1 .3h.7m-1.9 .3h.7m.2 .6h.7m-.6 .4h.7m-1.5 .6h.7m.2 .3h.7m-.7 .2h.7m-.9 .1h.7m-.4 0h.7m-1.6 .1h.7m-.2 0h.7m.3 0h.7m-1.8 .5h.7m-.2 .3h.7m-1.6 .2h.7m.3 .1h.7m-1.3 .1h.7m.3 .2h.7m-.7 .3h.7m-2 .1h.7m-.8 .3h.7m-.3 .4h.7m.4 .2h.7m-1.9 .1h.7m-.9 .9h.7m.3 .3h.7m-.5 .4h.7m-1.5 0h.7m-.1 .1h.7m-1.4 1.2h.7m-1.4 .2h.7m-.7 .3h.7m0 .2h.7m-1.2 .2h.7m.9 0h.7m-2.2 .4h.7m.2 .6h.7m-.1 .3h.7m-1.9 .6h.7m-.4 1.8h.7m-1.5 0h.7m.5 0h.7m-.2 .3h.7m-1.2 .9h.7m-1.1 .9h.7m.2 .9h.7m-1.3 1.4h.7m-.1 3.6h.7m-2.3 3.8h.7m.4 .2h.7m-.8 1.6h.7m-1 .3h.7m1.2-45.4h.7m-.4 .4h.7m-1.7 .6h.7m.4 .1h.7m-1.2 .5h.7m-.5 .1h.7m-.2 .3h.7m-.3 1.8h.7m-2 1.2h.7m.3 .1h.7m-1.3 .7h.7m-.7 1.5h.7m-1.3 .5h.7m-.1 .8h.7m-1.3 .3h.7m.8 .1h.7m-2.3 .4h.7m-.6 1h.7m-1 0h.7m1 0h.7m-1 .1h.7m-1.9 .1h.7m-.5 .9h.7m-.2 .2h.7m-.1 .2h.7m-2.2 .2h.7m-.1 .3h.7m.5 .4h.7m-.9 0h.7m-1.8 .1h.7m-.1 .1h.7m-1 .1h.7m.4 .3h.7m-1 .1h.7m-.7 .7h.7m-1.7 .1h.7m-1.1 .6h.7m-.4 .2h.7m.2 .4h.7m-.5 .5h.7m-.7 .3h.7m-.4 .5h.7m-1.4 .1h.7m-1.3 .4h.7m.3 .3h.7m-.8 1h.7m-1.2 .3h.7m.1 0h.7m-1 .3h.7m-.8 .3h.7m-2 0h.7m-.3 .6h.7m-.2 .6h.7m-1.7 .1h.7m.2 .1h.7m-.9 .2h.7m-.9 .2h.7m-.1 .1h.7m-1 .1h.7m-.6 .3h.7m-.8 .3h.7m0 .9h.7m-.7 0h.7m-1.7 1.2h.7m.5 .4h.7m-2.4 0h.7m1.2 .1h.7m-1.1 .3h.7m-1.8 .1h.7m.4 .5h.7m-.4 .1h.7m-1 .9h.7m-1.7 .1h.7m-.4 0h.7m.4 .2h.7m-1.9 .1h.7m-.3 .3h.7m-.1 .2h.7m-.8 0h.7m-1.4 .2h.7m-1.5 .3h.7m-.6 0h.7m-.9 .9h.7m1.1 .2h.7m-1.9 .5h.7m-.5 .1h.7m.2 .2h.7m-2.1 .5h.7m.1 .9h.7m-.1 .2h.7m-2.2 .1h.7m-.2 .5h.7m-.1 1.6h.7m-1.5 .1h.7m.5 .4h.7m-1.3 .7h.7m-.4 .3h.7m-2.1 .4h.7m.5 .2h.7m-1.7 1.3h.7m-.8 3.6h.7m.1 4.9h.7m2.3-45.6h.7m-1.6 .7h.7m-.8 .4h.7m-.7 .5h.7m.1 .3h.7m-1.8 .1h.7m.4 .9h.7m-.9 .2h.7m-.6 .2h.7m-1.6 .2h.7m-.5 .4h.7m-.1 1.7h.7m-1.5 .2h.7m-.9 2.4h.7m-.2 .3h.7m-.8 0h.7m-.9 .1h.7m-1.2 .1h.7m-.5 .1h.7m-.1 0h.7m0 .3h.7m-1.7 .2h.7m.4 .1h.7m-.6 .1h.7m-1.8 .5h.7m-.8 .8h.7m-1.2 .2h.7m-.4 .8h.7m-.2 .1h.7m-.2 .4h.7m-2 .3h.7m.1 .3h.7m-.7 .1h.7m-.2 .2h.7m-.5 0h.7m-1.4 .2h.7m-.8 .2h.7m-1.6 .2h.7m-.1 .5h.7m-.6 .1h.7m-.6 .7h.7m.1 .5h.7m-2.3 .6h.7m.4 .1h.7m-1.5 .8h.7m.9 .2h.7m-2 .1h.7m.4 .5h.7m-1.9 1h.7m-.1 .6h.7m-1.7 0h.7m-.2 .2h.7m-1 .3h.7m.1 .1h.7m-1.5 .2h.7m-1 .2h.7m-.4 .2h.7m-.8 0h.7m.5 .1h.7m-2.1 0h.7m-.3 .2h.7m-.3 .2h.7m-.9 .3h.7m.3 0h.7m-1.1 1h.7m-1.7 .1h.7m.3 .2h.7m-.6 .4h.7m-2 .4h.7m-.5 .9h.7m.7 .3h.7m-2.1 .4h.7m1 .1h.7m-2.6 .5h.7m-.5 .1h.7m.9 .1h.7m-1.5 .4h.7m-.8 .1h.7m.1 .1h.7m-1.6 1.5h.7m-.9 .6h.7m-.5 .3h.7m.3 .2h.7m-.8 .2h.7m-2.2 .1h.7m.6 .5h.7m-.9 .8h.7m-.7 .9h.7m-1.8 .5h.7m-.8 .5h.7m-.5 .4h.7m-.2 .6h.7m-1.1 1.1h.7m-1 3.7h.7m.3 1h.7m-.7 .7h.7m-1.6 .7h.7m0 0h.7m.3 1.2h.7m-1.6 .8h.7m-1.4 2.3h.7m2.7-44.3h.7m-1.7 .5h.7m-1.1 1.2h.7m0 1.8h.7m-.4 .6h.7m-2 .7h.7m-.4 .2h.7m.6 .1h.7m-1.5 .2h.7m.1 .2h.7m-.8 .2h.7m-.9 .3h.7m-.7 .1h.7m-1 .5h.7m-1.7 .8h.7m.6 .1h.7m-.4 .2h.7m-1.2 .1h.7m-.1 .1h.7m-2 .1h.7m-.3 .7h.7m-1 .3h.7m.2 0h.7m-.2 .6h.7m-1.1 0h.7m-1.6 .1h.7m.5 .1h.7m-1.4 .8h.7m-1.1 .1h.7m-.6 .1h.7m.3 .4h.7m-1.4 0h.7m-1 .2h.7m0 .1h.7m-1.8 .6h.7m.2 .1h.7m-.1 .1h.7m-.9 .2h.7m-.7 .4h.7m-1.6 .2h.7m-.7 .4h.7m-1.2 .1h.7m-.7 .1h.7m-.1 .1h.7m-1.2 .7h.7m.4 .4h.7m-1.6 .1h.7m-.1 .1h.7m-1.5 .1h.7m-1 .5h.7m.4 .1h.7m-.7 .1h.7m-1 .1h.7m-.7 .1h.7m-.6 .5h.7m-1 .2h.7m-.9 .8h.7m-.8 .2h.7m.4 0h.7m-2.1 .2h.7m.9 .3h.7m-1.2 .4h.7m-.6 .3h.7m-1.1 0h.7m-.4 .4h.7m-.6 .4h.7m-1.1 0h.7m-1.1 .1h.7m-.1 .2h.7m-1 .1h.7m-1 .1h.7m-.2 .4h.7m-1.3 .2h.7m-.7 0h.7m-1.1 .6h.7m1.1 .2h.7m-2.2 .1h.7m.6 .7h.7m-1.1 .1h.7m-1.8 .1h.7m-.3 .4h.7m.2 .5h.7m-.4 .3h.7m-2.1 .1h.7m.2 .6h.7m-1.8 .4h.7m.2 .7h.7m-1.3 .5h.7m0 1.3h.7m-.3 .9h.7m-1.5 .1h.7m.1 .2h.7m-.7 .3h.7m-1.5 .8h.7m-1.2 .1h.7m.6 .1h.7m-1.9 .3h.7m-.4 .7h.7m-1.3 1.7h.7m-.4 0h.7m-.2 1.2h.7m-1 1h.7m.7 .4h.7m-1.5 3.1h.7m.1 .2h.7m.4-38h.7m-.9 .3h.7m.4 .2h.7m-1.8 .1h.7m-.3 .4h.7m0 .3h.7m-1.4 1h.7m-1.9 1.1h.7m0 .4h.7m-.5 .7h.7m0 .1h.7m-.9 .6h.7m-.5 .2h.7m-2.3 .6h.7m-.3 0h.7m-1.1 .1h.7m.3 .4h.7m-1.4 .3h.7m-.2 .3h.7m.2 0h.7m-2.1 .2h.7m-.1 .3h.7m-.2 .5h.7m-.2 .5h.7m-.7 .7h.7m-2 .2h.7m.1 .4h.7m-.5 .2h.7m-2.2 .9h.7m0 .2h.7m0 .4h.7m-2.1 .2h.7m.5 .3h.7m-.3 .2h.7m-2.4 .1h.7m-.3 0h.7m.7 .8h.7m-1.5 .3h.7m-.9 .3h.7m-.7 .2h.7m-1.2 .1h.7m.6 .1h.7m-.4 .2h.7m-2.2 0h.7m-.5 .3h.7m-.9 .2h.7m.8 .4h.7m-2.6 .8h.7m.8 0h.7m-.8 .2h.7m-1.6 .1h.7m-1 0h.7m.6 0h.7m-1.9 1.5h.7m-.1 .2h.7m0 .1h.7m-1.7 0h.7m-1.1 .2h.7m-.8 .1h.7m0 .2h.7m-1.3 .4h.7m-.9 .1h.7m.5 0h.7m-.6 .7h.7m-.1 .2h.7m-2.6 .2h.7m.2 .1h.7m-1.5 1h.7m1 .7h.7m-1.8 .1h.7m-.5 1.3h.7m-1.6 .2h.7m-.5 1.2h.7m.5 .3h.7m-.2 .7h.7m-1.7 .2h.7m-.5 .3h.7m-1.2 .2h.7m-.5 .1h.7m-.8 .5h.7m-1.4 .1h.7m.6 0h.7m-1.4 .2h.7m-1.1 .3h.7m-.9 .5h.7m-.1 .9h.7m.6 .2h.7m-.8 .1h.7m-1.9 .4h.7m-.8 .2h.7m-.3 .2h.7m-1.3 2h.7m-.4 .3h.7m-1.2 1.5h.7m.1 8.5h.7m-.4 2.1h.7m1.1-46h.7m-1.3 1.1h.7m-.7 .7h.7m.5 .1h.7m-.8 .1h.7m-.6 .8h.7m-1.6 1.5h.7m-.5 .4h.7m-.2 .3h.7m-.8 .3h.7m-.1 .7h.7m-.9 .3h.7m-1.1 .1h.7m-.7 .6h.7m-1.1 .9h.7m-.1 .4h.7m-1.5 .3h.7m-.2 .3h.7m-1.5 .1h.7m.2 .1h.7m-2 .3h.7m-.5 .5h.7m-.1 1h.7m-.6 .3h.7m-.7 .2h.7m.1 .3h.7m-1.8 .3h.7m-1.3 .5h.7m.4 .2h.7m-1.1 0h.7m-1.3 .1h.7m-.5 .5h.7m-.2 .1h.7m.3 .2h.7m-2.3 .5h.7m.8 .1h.7m-1.1 .5h.7m-2 .6h.7m-.6 0h.7m-.1 .2h.7m0 .4h.7m-1.7 .4h.7m.3 .4h.7m-1.4 .2h.7m-.6 .1h.7m-.2 .2h.7m-1.5 0h.7m.2 .4h.7m-1.1 1.1h.7m-1.6 .8h.7m.3 .2h.7m-1 .1h.7m-.7 0h.7m-.3 .1h.7m-1.1 0h.7m-1.3 .1h.7m.2 .3h.7m-.6 0h.7m-.5 .2h.7m-.9 .2h.7m-1.6 .1h.7m.4 .8h.7m-1.9 .4h.7m-.3 .3h.7m-.6 .7h.7m-.7 .1h.7m-1.2 1.3h.7m-.9 .7h.7m-.4 .1h.7m-.5 .2h.7m.2 .3h.7m-.2 .6h.7m-1.1 .8h.7m-1 .1h.7m-.5 .8h.7m-2.1 1.2h.7m.2 .7h.7m-.4 1.3h.7m-.6 .1h.7m-.9 .7h.7m-.3 4.2h.7m-1.9 6.3h.7m1.6-41.1h.7m.5 .4h.7m-1.5 .8h.7m-.9 .5h.7m-1 0h.7m0 0h.7m-1.1 .7h.7m-1.2 .4h.7m.8 .8h.7m-1.7 .9h.7m.3 .3h.7m-1.2 1.7h.7m-2 0h.7m.9 .5h.7m-2 0h.7m0 .4h.7m.1 .2h.7m-2.3 .2h.7m-.3 .4h.7m0 .4h.7m-.8 .3h.7m-.8 .2h.7m-1.2 0h.7m-1.2 .2h.7m-.4 .2h.7m-.3 .3h.7m.1 .2h.7m-1.3 .2h.7m.2 .1h.7m-2.4 1.1h.7m.1 .8h.7m-.2 .4h.7m-2 0h.7m.5 .3h.7m-.8 .2h.7m-1.7 .1h.7m0 .4h.7m0 1.4h.7m-1.5 .5h.7m-.4 .5h.7m-1.5 .1h.7m-.4 .9h.7m-.4 .3h.7m-.1 0h.7m-2.2 .1h.7m1.1 .4h.7m-1.6 .9h.7m-.2 .5h.7m-1.2 .6h.7m.2 .1h.7m-1.9 .3h.7m-.8 1.4h.7m-.3 .4h.7m-.5 .8h.7m-1.6 .2h.7m.1 .6h.7m-.8 .2h.7m-.9 .5h.7m-1.3 .1h.7m.8 .3h.7m-.7 1.1h.7m-1.7 .1h.7m-.1 .7h.7m-1.7 .9h.7m.8 .5h.7m-1.4 0h.7m-.9 .4h.7m-.8 .2h.7m.3 .4h.7m-2.1 .3h.7m-.4 1.5h.7m-1.4 2.6h.7m0 2.8h.7m-1.3 .5h.7m.3 2.5h.7m.7-40.7h.7m-.6 1h.7m-.4 .3h.7m-1.6 .4h.7m.3 .4h.7m-.1 1.8h.7m-1 .9h.7m-1.1 .6h.7m-1.3 .1h.7m-.1 .2h.7m.2 .1h.7m-1.3 .4h.7m0 .5h.7m-1.7 .1h.7m-.2 .4h.7m-1 .4h.7m-.2 .5h.7m-1.6 1.3h.7m.5 .5h.7m-2.2 .7h.7m-.7 0h.7m-.4 .2h.7m-.9 .7h.7m-.7 0h.7m.2 .9h.7m-2 .2h.7m.4 1.7h.7m-1.8 .1h.7m0 .5h.7m-.7 .4h.7m-1.3 .4h.7m.5 .2h.7m-.7 1.5h.7m-1 .6h.7m-.7 .2h.7m-1.8 0h.7m1.1 .1h.7m-1.3 .3h.7m-.1 0h.7m-.8 .5h.7m-1.2 .3h.7m-1.4 1.5h.7m.1 .1h.7m-.5 1.4h.7m-.3 .9h.7m-1.1 .5h.7m-1.8 .2h.7m-.8 .1h.7m-.6 .2h.7m.2 .6h.7m-.6 .3h.7m-.9 1.3h.7m-1.5 .3h.7m.2 0h.7m-1.5 .5h.7m.7 .5h.7m-.9 1.2h.7m-1.1 1.3h.7m-.9 1h.7m-1.2 0h.7m-.6 1.4h.7m-.1 8.9h.7m-1.4 1.4h.7m-1.1 .6h.7m2.1-42.9h.7m-1.1 2h.7m-1 .5h.7m-.6 .4h.7m.7 1.6h.7m-2.4 0h.7m.3 .2h.7m-.6 .1h.7m-1.5 .1h.7m-.2 .6h.7m-1.1 1.1h.7m-.6 .8h.7m-1 1.6h.7m-.4 .4h.7m-.5 .1h.7m-1.5 2h.7m.7 .3h.7m-.7 .3h.7m-1.9 .3h.7m.4 .3h.7m-.8 .5h.7m-1.4 .6h.7m-.6 0h.7m-.4 1.1h.7m0 .8h.7m-.7 .4h.7m-1 .1h.7m-.7 .4h.7m-1.8 .1h.7m-.6 .2h.7m.4 .1h.7m-.8 .5h.7m-.4 .5h.7m-1 1.1h.7m-1.4 .5h.7m-.7 .1h.7m-.6 .8h.7m-.1 0h.7m-1.3 .7h.7m-1.1 2.1h.7m-1 .1h.7m-.7 .7h.7m.2 1.1h.7m-.2 3.6h.7m-1.1 .7h.7m-1.2 4.1h.7m0 3.7h.7m-1.3 1.3h.7m2.1-38.9h.7m-2.1 1.8h.7m.5 .4h.7m-1.3 .2h.7m0 .1h.7m-1.8 1.2h.7m-.6 .7h.7m-.3 .1h.7m.4 1.2h.7m-1.9 .7h.7m-.4 1.1h.7m-.2 .4h.7m-1.6 .1h.7m.1 1.3h.7m-.5 .5h.7m-1.7 .1h.7m0 1.1h.7m0 1.5h.7m-2.4 .1h.7m.1 .1h.7m-.9 .9h.7m-1.5 .6h.7m0 .4h.7m.4 .8h.7m-2 .2h.7m-1 3h.7m.6 .2h.7m-1.1 .2h.7m-1.3 1.7h.7m0 .2h.7m-.4 .7h.7m-.6 .3h.7m-.5 1.6h.7m-1.6 .5h.7m0 2.1h.7m-1.4 7.9h.7m.1 .8h.7m-.5 5.3h.7m-2.5 6.8h.7m3.1-45.6h.7m-2.4 3.4h.7m.4 1.1h.7m-1.2 0h.7m-1.2 .3h.7m.2 .9h.7m-.5 .1h.7m-.8 .7h.7m-1.1 2.7h.7m-1.6 1.4h.7m-.7 1h.7m.2 .4h.7m0 .6h.7m-2.2 .4h.7m-.5 .3h.7m.4 .1h.7m-.5 0h.7m-2 2.2h.7m-.1 .4h.7m-1.1 1.2h.7m-.2 .5h.7m-.6 .9h.7m-1.1 8.3h.7m-.6 .7h.7m-1.3 6.7h.7m-.7 1.5h.7m1.4-34.8h.7m-.9 6h.7m.4 1h.7m-.6 .1h.7m-1.4 0h.7m-1 .9h.7m-.2 1.4h.7m.1 3.8h.7m-.9 .6h.7m-1.8 .1h.7m-.4 6.5h.7m-1 5.7h.7m1.7-27.1h.7m0 .2h.7m-1.6 2h.7m-.4 .8h.7m-1.1 .3h.7m-.5 4.2h.7m-.3 4.4h.7m.1 12.6h.7m-1.6 1h.7m-1.6 7.5h.7m1.1 7.5h.7m-1.5 1.8h.7m.4-39.4h.7m-.5 5.4h.7m-.1 24.4h.7m-.1 3.2h.7m.6-30.9h.7m-.2 .9h.7m-.8 2.6h.7m1.4-7.5h.7m-.8 6.6h.7m-1.8 1.4h.7m-.2 .6h.7m-1 4.1h.7m1.2-14.3h.7m.3 7.8h.7m2.5 .1h.7m1.4 11.4h.7m2-1.7h.7" stroke="#f3bb62" stroke-width="0.7" fill="none" opacity="0.72"/>
<path d="M204.8 520.4h.7m1.6-7.9h.7m-.7 12.2h.7m0 .9h.7m-2 4.8h.7m-.8 .4h.7m.1 .6h.7m-.4 .5h.7m1.7-27.6h.7m-1.2 18.1h.7m-1.2 1h.7m-.4 1.1h.7m-1 6.6h.7m.3 .1h.7m-1.2 .3h.7m-1.2 .7h.7m2.1-16.1h.7m-1 2.1h.7m-2.1 9.9h.7m.6 1.8h.7m-.9 .2h.7m-.1 .3h.7m-.5 1h.7m-.7 .7h.7m.6-20.8h.7m-.9 9.5h.7m-1.4 .5h.7m.7 1h.7m-1 .8h.7m-1.2 1.7h.7m-1.4 4.4h.7m.5 1.3h.7m-1.7 1.1h.7m2.6-30.1h.7m-.6 .3h.7m-2.1 2.6h.7m.6 .7h.7m-.5 3.8h.7m-.7 2.8h.7m-1.8 .1h.7m-.7 1.8h.7m-.4 .1h.7m-1.4 1.7h.7m.2 1h.7m-1.6 .3h.7m-.8 .2h.7m-.3 1.6h.7m.1 1.5h.7m-1 .3h.7m-1.3 .1h.7m.6 .2h.7m-1.4 .7h.7m-.6 .1h.7m-.4 2.9h.7m-1.5 .6h.7m.1 .3h.7m-2.2 .9h.7m-.5 1h.7m-.4 .5h.7m-.5 .6h.7m0 1.8h.7m-.8 .3h.7m-.6 .6h.7m-1.9 .2h.7m-.2 .1h.7m-.2 1.1h.7m.9-35.1h.7m-.8 1.1h.7m-.5 .9h.7m0 .2h.7m-1.1 6.9h.7m-1.6 .8h.7m-.9 .9h.7m-.4 1.2h.7m-1.1 .2h.7m.2 1.9h.7m-.6 1.8h.7m-1 1.3h.7m-1 1.4h.7m-.1 .4h.7m-1.7 2.2h.7m1.1 1.6h.7m-.8 .8h.7m-2 .9h.7m.2 1.1h.7m-1.8 1.2h.7m-1 1.8h.7m1 1h.7m-1 3h.7m-.8 .5h.7m-.1 .9h.7m-1.2 .4h.7m-1 0h.7m.6-28h.7m.3 1.7h.7m-.4 4.4h.7m-1.6 .3h.7m-1.3 .7h.7m-.9 .1h.7m.2 .3h.7m-.7 1.5h.7m-1.1 .8h.7m-1.2 .1h.7m-.7 1.1h.7m.2 1.4h.7m-.9 .2h.7m-.2 .9h.7m-1.3 .2h.7m-1.1 .3h.7m.8 1.6h.7m-2.1 .5h.7m.1 1.8h.7m-.9 3.2h.7m-.3 .7h.7m-2 .3h.7m.3 .9h.7m-1 1.4h.7m-1.3 .1h.7m-.2 .1h.7m-.7 .9h.7m0 .1h.7m-1.6 .6h.7m.4 .8h.7m-.3 .2h.7m-.7 .1h.7m-1.8 1.1h.7m1.6-32.9h.7m-.8 .4h.7m-1.5 3.7h.7m.3 1.2h.7m-1.4 .9h.7m-1.1 .7h.7m.9 1.9h.7m-1.9 .1h.7m-1.1 .4h.7m-.2 .2h.7m-.8 .3h.7m-.6 1.3h.7m-.7 .1h.7m.6 .2h.7m-1.8 .7h.7m-1.5 1.2h.7m.8 .4h.7m-.5 .3h.7m-1 .6h.7m-.3 2.2h.7m-2.1 .4h.7m.7 0h.7m-2 1.6h.7m-1 .8h.7m.6 .1h.7m-.7 1.1h.7m-2.1 0h.7m-.7 .1h.7m.9 1.1h.7m-.8 .3h.7m-2 .2h.7m-.6 1.1h.7m.8 1.4h.7m-1.6 .5h.7m-.2 .1h.7m-.5 .1h.7m-1.1 .1h.7m-.9 .9h.7m-1.6 .4h.7m-.3 .9h.7m.3 .2h.7m-.5 .3h.7m-1.6 .1h.7m-.9 .1h.7m-1.4 .8h.7m1 .2h.7m-1 .9h.7m-.6 .3h.7m-.3 .1h.7m-2.5 1.7h.7m0 .5h.7m1.4-32.4h.7m-1.3 .9h.7m.8 .6h.7m-2.5 .2h.7m-.5 3.8h.7m-.7 2.6h.7m-.4 0h.7m.1 0h.7m-.7 .1h.7m-1.2 1h.7m-.5 1.5h.7m-.6 .3h.7m-1.8 .6h.7m.2 .2h.7m.2 .5h.7m-.9 .2h.7m-1.3 .3h.7m-1.7 .2h.7m.4 0h.7m-.6 .1h.7m-.1 2.2h.7m-.9 1.3h.7m-2.2 1h.7m.7 .3h.7m-2.1 .7h.7m.8 .5h.7m-.6 .1h.7m-.9 .1h.7m-2.1 .1h.7m-.3 .8h.7m-.4 .2h.7m-.5 .1h.7m.2 .7h.7m-2.4 .1h.7m.7 .7h.7m-1.6 .1h.7m-.2 .6h.7m-1.3 .4h.7m-.1 .3h.7m-.8 1.9h.7m0 .9h.7m-1 .3h.7m-1.2 1.8h.7m-.9 .2h.7m-.9 0h.7m-1.2 1.3h.7m.8 .2h.7m-2.2 .6h.7m.7 .2h.7m-1.6 0h.7m.4 .1h.7m-1.9 .2h.7m-1.1 .7h.7m3-38.8h.7m-1.4 3h.7m-1.8 2.5h.7m1.1 3.5h.7m-1.8 4.1h.7m-.3 1h.7m-.7 .4h.7m0 .5h.7m-.7 .2h.7m-.6 .2h.7m-1.5 .6h.7m-.2 .1h.7m-.6 .1h.7m-.5 .5h.7m-1.7 2.6h.7m-.8 .5h.7m-1 0h.7m-.6 1.1h.7m-.8 .1h.7m.4 1.4h.7m-1 .2h.7m-1.5 .3h.7m-.8 1.4h.7m-.1 .3h.7m-1 .2h.7m.2 .1h.7m-2.2 .2h.7m.7 .3h.7m-.3 .7h.7m-2.2 .2h.7m-.7 .1h.7m-.2 1.4h.7m-.4 .6h.7m-1.2 .1h.7m-.9 1h.7m.2 .3h.7m-.9 1h.7m-1.5 .6h.7m.1 .1h.7m-.4 .5h.7m-.9 .2h.7m-.6 .5h.7m-.3 1.1h.7m-.7 .7h.7m-2.1 .6h.7m.7 0h.7m-2.3 1h.7m.2 .7h.7m-.5 .1h.7m-.9 .1h.7m-.1 .5h.7m-1 .3h.7m-.4 .7h.7m-2.3 .6h.7m.6 0h.7m-2.1 .4h.7m.6 0h.7m-1.5 0h.7m2.6-37.7h.7m-.7 3.2h.7m-2.5 4.1h.7m.9 .3h.7m-1.7 .4h.7m.5 1.2h.7m-2.1 .8h.7m-.9 .5h.7m-.6 .6h.7m.2 .3h.7m-.4 .2h.7m-1.1 1.3h.7m-1.4 1.5h.7m.6 .5h.7m-.6 .1h.7m-.9 .2h.7m-1.4 1.1h.7m-1.5 .5h.7m1.1 .3h.7m-1.1 .1h.7m-.5 1.3h.7m-1.7 .7h.7m.5 1h.7m-1.7 .3h.7m.2 1.1h.7m-1.8 .4h.7m-1.4 .8h.7m1.1 .5h.7m-.6 1.7h.7m-2.5 .7h.7m-.8 .3h.7m.7 .5h.7m-.4 .3h.7m-.9 .3h.7m-.5 .5h.7m-.8 .2h.7m-1.2 0h.7m-1.4 .3h.7m-1 2.9h.7m.4 .1h.7m-.4 .9h.7m-.5 .3h.7m-1.5 .1h.7m-1.5 .3h.7m-.4 1.2h.7m.3 .5h.7m-.8 .3h.7m-.1 .2h.7m-.8 .1h.7m-1.8 0h.7m-1 .5h.7m-.9 .4h.7m-.2 .1h.7m.3 .6h.7m-2 .2h.7m-.9 .6h.7m.2 .2h.7m2.1-39.8h.7m-1.1 3.5h.7m-1.8 2h.7m0 .8h.7m0 1h.7m-2 .8h.7m-.6 .9h.7m-1.2 .2h.7m0 .1h.7m.4 .2h.7m-1.3 .9h.7m-.6 .1h.7m-.3 .9h.7m-.8 .6h.7m-.7 .1h.7m-1.4 1.1h.7m-.8 .7h.7m-.5 1h.7m-.3 .1h.7m-1.3 .6h.7m-.6 .5h.7m-1.1 1.3h.7m.6 .2h.7m-2 .3h.7m.3 0h.7m-.5 .6h.7m-1.4 .7h.7m-.8 .3h.7m-1.4 .8h.7m-1 .9h.7m.2 .3h.7m-.1 .2h.7m-.3 .4h.7m-1.1 2h.7m-2 1.4h.7m.4 0h.7m-1.7 .8h.7m.4 .4h.7m-1.9 .1h.7m.4 .1h.7m-.8 .4h.7m-.2 .4h.7m-1.8 .2h.7m-.6 .1h.7m-.1 .2h.7m-1.6 .4h.7m-.2 .1h.7m-1 .8h.7m.4 .2h.7m-.8 1h.7m-.9 .2h.7m-.6 .3h.7m-.3 .1h.7m-1.6 .2h.7m-1.3 0h.7m.4 .2h.7m-1.2 .9h.7m-1.4 1.9h.7m-.7 .5h.7m.5 1.1h.7m-.6 .2h.7m-1.1 .4h.7m-.8 .7h.7m-.3 1.2h.7m-.8 .6h.7m-1.4 .1h.7m-.5 0h.7m1.2-39.3h.7m-.2 .4h.7m-1 3h.7m-1.4 1.8h.7m-.4 1h.7m-1.1 .4h.7m0 .9h.7m-1.1 0h.7m-.3 .9h.7m-1 .7h.7m-1.1 .2h.7m.4 1.6h.7m-1.2 .6h.7m-.1 .7h.7m-.8 .9h.7m-.5 .5h.7m-.9 .6h.7m-.5 .1h.7m-.5 .1h.7m-1.1 .2h.7m-.6 .1h.7m-.4 .8h.7m-2.1 .4h.7m-.5 .4h.7m.2 .4h.7m-1.3 .1h.7m-1.2 1.2h.7m-.3 .1h.7m-.1 .1h.7m-.4 .7h.7m-2.2 0h.7m-.2 .3h.7m.2 1.2h.7m-1.3 0h.7m-1 .6h.7m-.2 .2h.7m.1 .5h.7m-1.1 1.1h.7m-.7 .1h.7m-.7 .1h.7m-.9 .7h.7m-.7 .7h.7m-1.2 .3h.7m-.4 .1h.7m-1.8 .5h.7m.4 .9h.7m-.5 0h.7m-.1 2.2h.7m-2.2 .4h.7m-.5 .6h.7m-1.3 .1h.7m-.1 0h.7m-1.3 .5h.7m1.1 .5h.7m-1.6 2.1h.7m.2 .8h.7m-1.4 1.5h.7m-.6 .1h.7m-1.9 .5h.7m-.6 0h.7m0 .5h.7m-.1 .3h.7m-1.6 1.4h.7m-.2 .4h.7m.1 .3h.7m-1.4 .7h.7m-1.2 .3h.7m.2 .4h.7m1.6-37.9h.7m-.7 1.8h.7m-.7 .9h.7m-.7 .1h.7m-2 .2h.7m-1.1 .4h.7m-.2 1.4h.7m.6 .3h.7m-.9 1.6h.7m-1.4 .3h.7m0 0h.7m-.5 .6h.7m-1.1 .1h.7m-1.7 .2h.7m-.1 .1h.7m-.6 .2h.7m-1.6 .1h.7m.3 .6h.7m-.5 .1h.7m-.3 .1h.7m-1.4 0h.7m-1.3 .5h.7m.1 .5h.7m-.8 .2h.7m-.8 0h.7m-1.6 .4h.7m-.6 .1h.7m.5 .1h.7m-1 .2h.7m-1.2 .2h.7m-1.2 .2h.7m.2 .1h.7m-.4 .4h.7m-.9 .1h.7m-1 .1h.7m-.4 .2h.7m-1.7 .8h.7m-.8 1.7h.7m1 .4h.7m-1.4 .5h.7m-1.2 .1h.7m-.5 .1h.7m-1.1 .8h.7m.1 .1h.7m-.4 .1h.7m-.7 1.2h.7m-1.9 .2h.7m-1 1.8h.7m-.2 1.9h.7m-.2 0h.7m-1.2 .3h.7m-1 1.1h.7m-.1 1.2h.7m-1.5 0h.7m.2 .3h.7m-1.6 .5h.7m-.4 1h.7m.2 .5h.7m-.7 .9h.7m-2 .4h.7m0 .4h.7m-1.1 .9h.7m-.3 0h.7m-.6 .8h.7m-.3 .2h.7m-.8 .3h.7m-.2 .1h.7m-1.2 .2h.7m-1.5 0h.7m.9 .1h.7m-.9 1.4h.7m-1.4 1.1h.7m-.4 .6h.7m-1.2 2.5h.7m-.2 .1h.7m.7-44.3h.7m-.3 3.8h.7m-.1 5.2h.7m-1.4 .5h.7m-.5 .3h.7m-1.8 0h.7m-.5 .5h.7m-.3 1.4h.7m.2 .1h.7m-.4 .2h.7m-2.6 0h.7m.1 .2h.7m-.3 .1h.7m-.9 .8h.7m.1 1.8h.7m-2.3 .2h.7m.3 .1h.7m-1.2 .3h.7m.1 .1h.7m-1.4 0h.7m-1.1 .1h.7m.7 .5h.7m-1.9 .2h.7m.6 .3h.7m-1.2 .7h.7m-1.9 2.1h.7m1 .3h.7m-1.6 .1h.7m-.9 .3h.7m-1.5 0h.7m.6 .4h.7m-1.6 .7h.7m.4 .3h.7m-1.2 1.6h.7m-1.6 .5h.7m-.2 .1h.7m-.8 .5h.7m.6 2.3h.7m-1.3 .3h.7m-.2 .4h.7m-1.7 .7h.7m-.8 .3h.7m-.6 1.4h.7m.5 .2h.7m-1.8 1h.7m-1.3 2.3h.7m.2 1.4h.7m-1.4 .6h.7m.2 1h.7m-1.9 .1h.7m-.2 .4h.7m0 .1h.7m-.8 1.3h.7m-1.6 0h.7m-.8 .7h.7m-.9 .2h.7m.2 .4h.7m-1 1.4h.7m-1.2 1.8h.7m-.2 1.1h.7m1.6-42.4h.7m-.1 1.9h.7m-.9 2.4h.7m-.8 1.3h.7m-.5 .2h.7m-1.4 1.8h.7m-.3 .3h.7m-.7 .5h.7m0 .3h.7m-.8 .2h.7m-2.2 .7h.7m1 0h.7m-1.3 .5h.7m-.5 .3h.7m-.5 .2h.7m-.7 .7h.7m-1.7 .2h.7m-.6 0h.7m-.5 .2h.7m-.1 .2h.7m-1.4 .2h.7m-.4 .1h.7m-1.5 .1h.7m-.6 .3h.7m.1 0h.7m-1.1 .4h.7m-.7 0h.7m0 .3h.7m-1.2 .4h.7m.1 .4h.7m-.7 .4h.7m-2.1 .2h.7m-1 .1h.7m.9 .4h.7m-1.5 .1h.7m-.2 0h.7m-.6 .4h.7m-1.1 .1h.7m-1.7 .3h.7m-.6 .1h.7m-.8 .5h.7m.9 .5h.7m-.6 0h.7m-1.9 0h.7m.2 .9h.7m-.7 .3h.7m-1.2 0h.7m-.8 1.7h.7m-.7 4h.7m-.3 .1h.7m-1.9 1.4h.7m-.6 3.3h.7m.1 .5h.7m-1.3 .3h.7m0 .4h.7m-1.4 .2h.7m-.5 .7h.7m-.4 2h.7m-1.4 1.2h.7m.6 1.6h.7m-2.2 1.2h.7m.3 4.8h.7m2.1-38.9h.7m-1 .3h.7m-1.7 1.5h.7m-1.1 .5h.7m-.3 .2h.7m0 .3h.7m-1.8 .4h.7m-.8 2.1h.7m.6 .1h.7m-.9 .5h.7m-1.9 0h.7m.3 .3h.7m.2 .8h.7m-2.2 .1h.7m.4 .1h.7m-1.2 .2h.7m-.6 .6h.7m-.2 0h.7m-1.5 0h.7m.1 .4h.7m-.6 .2h.7m-2.3 .3h.7m1 0h.7m-2.1 .3h.7m.4 .1h.7m-1.4 .3h.7m-1.5 0h.7m1.1 .5h.7m-1.5 0h.7m-1.1 .3h.7m.4 .1h.7m-1 .2h.7m-.5 .2h.7m-.6 .2h.7m-2.3 .2h.7m-.8 0h.7m.7 .4h.7m-1.5 .1h.7m-.5 .4h.7m-1.5 .1h.7m-.5 .3h.7m-.2 0h.7m.5 .1h.7m-2.3 .4h.7m-.4 .1h.7m0 .2h.7m-1.5 .2h.7m-.6 .8h.7m.4 .1h.7m-1.3 .1h.7m-1.5 1.1h.7m.3 .5h.7m-.1 1.8h.7m-1.4 1.6h.7m-1.6 .2h.7m.1 .8h.7m-1.2 .6h.7m.2 1.8h.7m-1 1h.7m-.3 1.5h.7m-1.6 0h.7m-1.1 .5h.7m-.7 3.3h.7m.9 .3h.7m-1.8 .5h.7m.3 3.6h.7m-1.7 .5h.7m-.9 1.2h.7m1.5-32.9h.7m-.6 .5h.7m.1 .1h.7m-1.7 .1h.7m-.6 .6h.7m-1.5 .3h.7m.2 .1h.7m.3 .3h.7m-2.5 .3h.7m0 .2h.7m-.2 .1h.7m-1.6 .5h.7m-.9 .1h.7m.8 .6h.7m-1.6 0h.7m.4 .2h.7m-1 0h.7m-2.3 .3h.7m0 .2h.7m.3 0h.7m-1.8 .4h.7m-.1 .3h.7m-.2 0h.7m-1.7 0h.7m.5 .3h.7m-2.3 .2h.7m.5 .1h.7m-2 .1h.7m-.3 .1h.7m-.6 .5h.7m-.1 .1h.7m-2 .3h.7m-.6 .2h.7m.7 .4h.7m-1.9 .3h.7m-.1 0h.7m-.1 0h.7m-.8 .1h.7m-2 .1h.7m1.1 .2h.7m-2.4 0h.7m.1 .1h.7m.1 .3h.7m-1.8 .2h.7m.3 .2h.7m-1.8 .4h.7m-1.1 .3h.7m-.3 .6h.7m.1 .2h.7m-1.1 1.8h.7m-1.7 .7h.7m-.1 .1h.7m-.4 3.3h.7m-.4 7.8h.7m-1.6 .8h.7m.4 5.7h.7m-.2 0h.7m-2.5 .4h.7m1 2.9h.7m-1.1 2.2h.7m-.2 .7h.7m-2.1 .9h.7m.9-39.5h.7m.8 .3h.7m-.6 1h.7m-1.9 .8h.7m0 .6h.7m-1.8 .3h.7m0 .8h.7m-1.1 .1h.7m.3 .1h.7m-.3 .2h.7m-1.9 .1h.7m-1.2 0h.7m-.2 .4h.7m-.4 .1h.7m-.2 .1h.7m-1.9 .2h.7m.2 .1h.7m-.2 .2h.7m-2.2 0h.7m1.1 .1h.7m-2.4 .1h.7m-.2 .6h.7m-.6 .3h.7m-.6 .2h.7m-.1 .2h.7m-1.6 .1h.7m-.2 0h.7m-.9 .1h.7m-.7 .4h.7m.3 0h.7m-1.1 .3h.7m-1.2 .2h.7m.2 0h.7m-2.1 .7h.7m-1.2 .6h.7m-.3 .4h.7m-.3 .6h.7m-1 .1h.7m-1.2 .6h.7m.3 0h.7m.2 .2h.7m-.8 .8h.7m-.6 .5h.7m-.9 2.1h.7m-1.7 .7h.7m.3 .3h.7m-2.3 .6h.7m0 .2h.7m-.3 .4h.7m-1.6 2.8h.7m-.1 1.9h.7m-1.3 2.2h.7m.4 1.1h.7m-1.1 2h.7m-1.6 .8h.7m1 2.6h.7m-2.4 9.8h.7m2.3-42.3h.7m-.4 1.2h.7m-1.4 .1h.7m.3 .3h.7m-2.2 .8h.7m0 .5h.7m.1 .6h.7m-1.2 .4h.7m-1.2 0h.7m-.8 .1h.7m-1.3 0h.7m1.1 .4h.7m-1.6 .1h.7m-.1 .2h.7m-2.1 .1h.7m-.3 .3h.7m.4 .1h.7m-1.5 0h.7m-.1 .1h.7m-1 .2h.7m-.6 .3h.7m0 .2h.7m-1.4 .1h.7m-1.6 0h.7m-1 .2h.7m.8 .3h.7m-1.8 .2h.7m-.5 .1h.7m-1 .1h.7m.1 .5h.7m.1 .1h.7m-1 .1h.7m-2 0h.7m-.8 .1h.7m.8 .2h.7m-1.8 .2h.7m0 .3h.7m-.3 0h.7m-2 .3h.7m.1 0h.7m-1.1 .1h.7m-.7 .1h.7m-1.3 0h.7m-.7 .1h.7m.7 0h.7m-1.9 .3h.7m-.8 .1h.7m.3 .1h.7m-.1 .2h.7m-.7 .1h.7m-2.6 .4h.7m-.3 .1h.7m-.9 0h.7m-.1 .1h.7m-.3 .2h.7m-.5 .4h.7m-.7 .2h.7m-1.3 .1h.7m.4 0h.7m-1.8 .5h.7m-1.2 .3h.7m.2 .6h.7m-1.7 1.2h.7m0 5.5h.7m-.7 .8h.7m0 2.5h.7m-2.3 .5h.7m.9 3.7h.7m-1.5 14h.7m1.3-43h.7m-.1 1.6h.7m-1.4 .7h.7m-1.1 1.5h.7m-.3 .4h.7m-.5 .6h.7m-1.3 .1h.7m-.2 .4h.7m-.7 .1h.7m-1 .2h.7m-.7 .4h.7m-1.2 .3h.7m.4 .7h.7m-1.5 0h.7m.5 .3h.7m-2.2 0h.7m.2 .1h.7m-.1 0h.7m-.8 .1h.7m-1.1 .2h.7m.1 .1h.7m-2.4 .1h.7m.8 0h.7m-.6 0h.7m-2.4 .1h.7m1.1 .1h.7m-1.6 .1h.7m-1.4 .1h.7m.4 .2h.7m-.1 .1h.7m-.7 0h.7m-1.8 .5h.7m-1.2 .1h.7m-.3 0h.7m0 .1h.7m-.7 .2h.7m-.7 .1h.7m-1.7 .1h.7m-.1 0h.7m-.8 0h.7m-.6 .1h.7m-.7 .2h.7m.2 0h.7m-2.1 .1h.7m.6 .3h.7m-1.2 .2h.7m-1.4 0h.7m-1.1 .3h.7m-.2 .2h.7m-.5 .4h.7m-.4 0h.7m-1.3 .2h.7m-1 .2h.7m-.8 .4h.7m1 .1h.7m-2.6 .1h.7m-.1 .2h.7m-1.1 .1h.7m.9 .4h.7m-1.4 .9h.7m-1.8 .3h.7m1.2 .2h.7m-.8 .7h.7m-1.6 .4h.7m-1.1 .2h.7m-.2 .5h.7m-1.5 .3h.7m.3 7.8h.7m-.2 4.4h.7m-2.1 11.9h.7m2.4-39.7h.7m-1.5 1.3h.7m-.3 .7h.7m.2 .7h.7m-1 .3h.7m-1.9 .1h.7m-.5 .5h.7m-1.1 .1h.7m.4 .6h.7m-1.4 .3h.7m-1.1 0h.7m.9 .2h.7m-1.3 .1h.7m-1.5 0h.7m-.8 0h.7m.4 .1h.7m-2.1 .2h.7m.2 .2h.7m-1.6 .2h.7m-.7 .1h.7m.4 .1h.7m.1 .1h.7m-1.3 .1h.7m-.8 .1h.7m-1.7 .1h.7m.2 0h.7m0 .5h.7m-1.2 .3h.7m-.2 .2h.7m-.7 .1h.7m-.8 .1h.7m-1.3 .1h.7m-1.6 .3h.7m.5 0h.7m-1.7 .3h.7m-.2 .2h.7m-.5 0h.7m-1.4 .4h.7m.2 .2h.7m-1.8 .1h.7m-.6 0h.7m.5 .1h.7m-1.2 0h.7m-1.7 .1h.7m.8 .1h.7m-1 .1h.7m-1 .6h.7m-.2 .1h.7m-2.1 .1h.7m1.1 .4h.7m-1.3 .3h.7m-1.5 .1h.7m-.7 .2h.7m.3 .3h.7m-1.4 0h.7m-1.4 .1h.7m1.1 .1h.7m-1 1.1h.7m-1.3 0h.7m-.9 0h.7m.5 1h.7m-1.3 0h.7m-.1 1.3h.7m-1.9 3.3h.7m.2 1h.7m-1.6 8.7h.7m-1.3 11.6h.7m1.2-41.8h.7m1.2 2.3h.7m-1.7 .9h.7m-.2 .2h.7m-1.9 .7h.7m-.7 .6h.7m-.3 .1h.7m-.8 .2h.7m.1 0h.7m-1.6 .7h.7m.7 .1h.7m-1.3 .2h.7m-1.2 .1h.7m.1 .5h.7m-1.4 .2h.7m-1.5 .3h.7m-.6 0h.7m.9 .3h.7m-1.1 .1h.7m-.8 .1h.7m-.1 0h.7m-2.2 .2h.7m.8 0h.7m-1.6 0h.7m-.4 .1h.7m-1.9 .1h.7m.8 .2h.7m-2 0h.7m.6 .3h.7m-1.2 .1h.7m-1.4 .1h.7m-.1 .5h.7m-1.4 .1h.7m0 .1h.7m-.5 .1h.7m.1 0h.7m-2.1 0h.7m.3 .2h.7m-.9 0h.7m-.5 .3h.7m-.9 .1h.7m-1.9 .1h.7m-.7 0h.7m.5 .2h.7m-.1 .2h.7m-1.9 .1h.7m-.5 .4h.7m-1.6 .7h.7m1.1 .6h.7m-1.8 0h.7m.1 0h.7m-1.5 .1h.7m-1.1 0h.7m-.4 .5h.7m.4 0h.7m-1.7 .7h.7m-1.3 0h.7m0 .4h.7m-1.5 .3h.7m1.2 2.4h.7m-2.6 20.1h.7m2.3-37.6h.7m-.3 1.2h.7m-.6 1.8h.7m-.4 .3h.7m-1.5 1h.7m-1.2 1h.7m.3 .5h.7m-.9 .5h.7m-.5 0h.7m-.6 .2h.7m-.5 .1h.7m-1 .4h.7m-1.5 .1h.7m-.4 0h.7m.1 .4h.7m-1.4 0h.7m-.8 0h.7m-.7 .1h.7m-1.2 0h.7m-.4 .1h.7m-.9 0h.7m-1.1 .5h.7m-.7 0h.7m-.8 .1h.7m.1 .1h.7m.1 .8h.7m-2.1 .4h.7m-.2 .3h.7m-1 .2h.7m-1.1 0h.7m-.4 .4h.7m-.2 .1h.7m-.5 1.1h.7m-1 .4h.7m.4 .1h.7m-2.5 .1h.7m-.5 .1h.7m.6 1.4h.7m-2 .5h.7m0 .2h.7m-1.2 .2h.7m-1 1.1h.7m-.5 1h.7m-.7 1.8h.7m-.1 5.5h.7m-.8 .1h.7m-.6 5.6h.7m.4-30.2h.7m.3 2.8h.7m-.1 1h.7m-1.2 .1h.7m-1.6 .9h.7m-1 .5h.7m.8 0h.7m-.3 0h.7m-2.3 .7h.7m-.5 .4h.7m.5 0h.7m-2 0h.7m.1 .8h.7m-1.8 .7h.7m-.7 .1h.7m.7 1h.7m-2.1 .2h.7m-.7 .1h.7m.5 0h.7m-1.6 .4h.7m.3 .1h.7m-1.8 .1h.7m.7 .1h.7m-1 .8h.7m-.3 .1h.7m-1.6 .1h.7m-1.1 .1h.7m-.2 0h.7m-1.6 .2h.7m-.6 .1h.7m.3 0h.7m-1.3 .4h.7m.4 .5h.7m-.5 2.8h.7m-2.2 0h.7m1.9-14.8h.7m-.8 2.7h.7m-1.1 .3h.7m-.9 .4h.7m-.3 .8h.7m-1.1 .9h.7m.4 .2h.7m-1.5 .1h.7m-1.3 .4h.7m.6 .5h.7m-.3 .1h.7m-2.3 0h.7m-.2 .3h.7m-.1 .2h.7m-1.9 .2h.7m-.4 0h.7m.5 .2h.7m-.4 0h.7m-1.3 .4h.7m-.8 0h.7m-1.7 1.1h.7m.4 .5h.7m-.9 1h.7m-.8 .6h.7m-.7 .2h.7m-1.4 .5h.7m-.7 1.2h.7m-.2 .1h.7m.2 5.4h.7m.3-17.5h.7m-1.3 .3h.7m.8 2h.7m-2.2 .9h.7m-.2 .2h.7m.1 .6h.7m-1.2 .1h.7m-.9 0h.7m.3 .8h.7m-1.4 .1h.7m-1.2 1h.7m-.8 .4h.7m-.4 .4h.7m.1 .3h.7m-.4 .7h.7m-.5 1h.7m-1 .6h.7m-2.1 1h.7m-.3 1.2h.7m-.6 .6h.7m-.7 .4h.7m-.9 .3h.7m1.6-11.8h.7m-.7 1.7h.7m.3 1h.7m-2.4 .6h.7m-.8 .6h.7m-.5 .2h.7m-.9 .4h.7m-.4 .2h.7m-.2 0h.7m-.9 .1h.7m-.3 .3h.7m-.1 2.6h.7m-.7 .4h.7m-1.5 .3h.7m.2 9.7h.7m1.1-16h.7m-.3 1.1h.7m-2.5 .6h.7m.1 .1h.7m-.2 1.7h.7m0-6.4h.7m.5 .4h.7m-1.1 .1h.7m-.8 .5h.7m-.6 1.1h.7m-1.3 .4h.7m.9 .1h.7m-2 1.3h.7m-.5 .5h.7m-.9 .6h.7m-1.2 2.3h.7m-.8 1.9h.7m.6 3.4h.7m.9-12.5h.7m0 1.7h.7m-2.3 2.4h.7m.9 2h.7m-2.1 .9h.7m4.1-8.3h.7m-.5 .7h.7m-1.9 4.6h.7m2.6-4.8h.7" stroke="#f16a30" stroke-width="0.7" fill="none" opacity="0.6"/>
<path d="M197.7 527.6h.7m2.4-7.4h.7m1.5 10.3h.7m.4-3.7h.7" stroke="#e070e0" stroke-width="0.7" fill="none" opacity="0.6"/>
<line x1="204.70" y1="484.70" x2="204.70" y2="582.00" stroke="#666" stroke-width="0.7"/>
<line x1="156.30" y1="532.50" x2="275.50" y2="532.50" stroke="#666" stroke-width="0.7"/>
<rect x="280.8" y="484.7" width="119.7" height="97.3" fill="#fff" stroke="#777" stroke-width="0.7"/>
<ellipse cx="313.0" cy="560.3" rx="9.4" ry="3.8" transform="rotate(-25 313.0 560.3)" fill="#3a3a3a" opacity="0.45" filter="url(#b2)" clip-path="url(#q3_280)"/>
<path d="M281.8 563.2h.7m.7 4.1h.7m.7-4.7h.7m-1 5.8h.7m.4 6.3h.7m-.7 1h.7m.9-24h.7m-1.6 9.7h.7m.7 3.4h.7m-2 2.4h.7m-.9 9.3h.7m.4 .8h.7m1.3-22.9h.7m-.1 10.8h.7m-.6 .2h.7m-2.1 .3h.7m.8 1.2h.7m-1.5 4.8h.7m-1 1.5h.7m-.9 .1h.7m.3 1.3h.7m-.9 1.5h.7m-1.4 2.9h.7m1.4-22.5h.7m0 7.7h.7m-2 .2h.7m.3 .1h.7m-1.9 1.8h.7m.1 3.7h.7m0 .3h.7m-1.7 3.9h.7m.2 .9h.7m-.3 2.1h.7m-1.3 1h.7m-1.5 2h.7m1.4-24.4h.7m.2 2.7h.7m-1.1 7.2h.7m-1.6 1.6h.7m-.5 .8h.7m-.2 .8h.7m-.7 .2h.7m-.8 .7h.7m.3 2.2h.7m-1.5 4.2h.7m-1.4 1.3h.7m1.7-22.4h.7m0 1.2h.7m-.9 1.4h.7m-.1 .8h.7m-.7 1.2h.7m-1.1 0h.7m-1 1.4h.7m-.8 .5h.7m.3 1.5h.7m-1.2 1.4h.7m-.3 0h.7m-1.9 .4h.7m.5 .7h.7m-.6 .2h.7m-2.2 .2h.7m-.9 .1h.7m-.6 1.9h.7m-1 .7h.7m.5 1h.7m-1.4 .4h.7m-.8 1h.7m.7 2.9h.7m-1.1 .9h.7m-1.9 .6h.7m.5 3.4h.7m.9-28.9h.7m-1.7 1.6h.7m.9 3.6h.7m-.9 1.2h.7m-1.4 3.1h.7m-1 .1h.7m.6 .3h.7m-.8 1.2h.7m-.4 .6h.7m-2.5 .1h.7m1 .9h.7m-.8 .2h.7m-2.3 0h.7m0 1.8h.7m-.2 .4h.7m-1.7 .1h.7m-.5 .2h.7m.3 0h.7m-.8 .3h.7m-.4 .1h.7m-1.1 .3h.7m-.1 .4h.7m-.8 0h.7m-.9 .2h.7m-1.6 0h.7m-.1 .1h.7m-1 .2h.7m-.5 .6h.7m-.8 .1h.7m-.1 .2h.7m-.8 .4h.7m-1.6 .9h.7m-1 .1h.7m.5 .2h.7m-2.1 .1h.7m.3 .9h.7m-.2 .1h.7m-.8 .1h.7m-.7 .1h.7m-.5 .5h.7m-2.2 .4h.7m-.4 3.3h.7m1-24.6h.7m.9 .4h.7m-2.1 6.2h.7m0 .3h.7m0 .2h.7m-1.7 .7h.7m-1.2 .6h.7m-.9 .9h.7m.8 0h.7m-.9 1.3h.7m-.6 0h.7m-1 .4h.7m-1 1h.7m-1.3 .4h.7m.7 1.3h.7m-1.1 0h.7m-1.5 0h.7m-.7 .2h.7m-.6 .3h.7m.1 0h.7m-2.2 .5h.7m.6 .1h.7m-1.2 .6h.7m.4 .1h.7m-.9 .8h.7m-1.4 0h.7m-.6 0h.7m-1.4 .3h.7m-1 .1h.7m.7 .1h.7m-1 .2h.7m-1.1 .7h.7m-.7 .7h.7m-1.2 .3h.7m.7 .2h.7m-1.5 .3h.7m-1 .1h.7m.3 1.6h.7m-.8 .7h.7m-.8 .9h.7m-1 .2h.7m-.5 5.7h.7m1.2-24.6h.7m-.2 .9h.7m-1 1.1h.7m-1.9 .1h.7m-.2 .6h.7m0 .8h.7m-1 .4h.7m-1.3 .3h.7m-.7 .4h.7m.4 .6h.7m-2.1 .5h.7m.8 .6h.7m-1.3 .5h.7m-1.3 0h.7m-.7 .4h.7m.2 .9h.7m-.6 .2h.7m-.3 0h.7m-2.3 .1h.7m-.5 .3h.7m.3 .1h.7m-.7 0h.7m-.5 .3h.7m-1.8 .3h.7m-.2 .3h.7m-.4 .2h.7m-1.2 .2h.7m0 0h.7m-1.5 .3h.7m-.5 0h.7m-1.7 .1h.7m1.2 .1h.7m-2.4 .1h.7m-.1 .1h.7m-1 .3h.7m-.9 .1h.7m.2 .1h.7m-.2 .2h.7m-2.1 .1h.7m-.9 .4h.7m-.1 0h.7m-1 .1h.7m-.4 0h.7m.2 .1h.7m-1.2 .1h.7m0 .1h.7m-2.4 .6h.7m-.3 .1h.7m-1 .3h.7m.5 1.3h.7m-1.3 .1h.7m-1 .2h.7m-1.1 .2h.7m-.3 .2h.7m-.2 0h.7m-.9 .3h.7m-.5 .2h.7m.2 0h.7m-.8 .2h.7m-.6 .1h.7m-1.5 0h.7m-.2 .2h.7m-1.1 .2h.7m-1 .5h.7m-1.6 0h.7m.5 1.5h.7m-.9 .5h.7m-.5 .2h.7m-.3 .3h.7m-.7 .8h.7m-1.2 1.2h.7m-.5 5.1h.7m.4-31.3h.7m-.3 5.3h.7m.1 .1h.7m-1.4 .1h.7m-.2 .2h.7m-2 0h.7m.4 2.2h.7m-1.5 .3h.7m-.8 .5h.7m.1 .3h.7m-1.5 .2h.7m.3 1.1h.7m-.6 .3h.7m-.9 0h.7m-.9 .7h.7m-1.7 0h.7m.1 0h.7m-.2 .7h.7m-1.5 .1h.7m-1.2 0h.7m.7 .3h.7m-.3 .2h.7m-.8 .1h.7m-1.2 .1h.7m-.4 .2h.7m-2.2 .4h.7m.1 .1h.7m-.7 0h.7m.1 .2h.7m-1.9 0h.7m.4 .2h.7m-1.3 0h.7m-.3 .1h.7m-1.5 .2h.7m.5 0h.7m-.9 .1h.7m-1 .1h.7m-1.4 .1h.7m-1 .4h.7m.1 0h.7m-.2 .3h.7m-2 .2h.7m1 .2h.7m-1.2 0h.7m-2.1 .1h.7m.6 0h.7m-.3 .1h.7m-1.8 .1h.7m-.8 .1h.7m-.3 .2h.7m.2 .1h.7m-1.8 .1h.7m-.4 0h.7m-1.5 .1h.7m.9 .1h.7m-.8 .1h.7m-1.9 0h.7m.5 .2h.7m-1.9 0h.7m-.2 .1h.7m-.4 .4h.7m-1.3 .2h.7m.4 0h.7m-2 .3h.7m-1.1 .3h.7m-.4 .1h.7m-.7 .1h.7m.2 .2h.7m-.9 .4h.7m-.7 .6h.7m-1.1 .3h.7m-.7 .9h.7m-1.2 .4h.7m-.3 .8h.7m-1.2 1.8h.7m1 .7h.7m-.8 .5h.7m-2.4 1.1h.7m.1 2.4h.7m1.9-25.7h.7m-.6 .7h.7m-1.7 2.1h.7m.6 .4h.7m-.8 .7h.7m-1.3 .2h.7m-.5 .1h.7m-1.8 0h.7m0 .3h.7m-.7 .4h.7m-.5 .5h.7m.1 .2h.7m-2.2 0h.7m-.1 .2h.7m.2 .3h.7m-2 .5h.7m-.4 .2h.7m-1.1 .1h.7m.6 .1h.7m-2 0h.7m-1.1 .3h.7m.6 .5h.7m-1.6 .4h.7m.2 .2h.7m-1.2 .2h.7m-.2 .1h.7m-.2 .1h.7m-1.6 0h.7m.2 .2h.7m-2 0h.7m.4 .2h.7m-1.3 .1h.7m-.3 .2h.7m-1.8 .4h.7m-.1 .2h.7m-.8 .2h.7m-1.2 .1h.7m.2 0h.7m-1.2 .1h.7m-.3 .1h.7m-.3 .1h.7m-.8 0h.7m-2 .1h.7m.9 0h.7m-2.5 .1h.7m1 .2h.7m-.7 .1h.7m-1 .1h.7m-.8 .2h.7m-.1 0h.7m-1 .2h.7m-1.8 0h.7m-.3 .1h.7m-.6 0h.7m0 0h.7m-2.2 0h.7m.9 .1h.7m-2 .1h.7m-.4 0h.7m-1 .1h.7m-.8 .1h.7m-.2 0h.7m-.5 .3h.7m-1.6 .2h.7m.4 0h.7m-2 .1h.7m.5 .1h.7m-.6 .1h.7m-1.2 .1h.7m-.6 0h.7m-1.5 .1h.7m.1 .3h.7m-1.3 0h.7m-.9 0h.7m-.8 .2h.7m1 0h.7m-.8 .1h.7m-1.9 0h.7m-.8 .1h.7m-.5 .1h.7m.4 0h.7m-.8 .4h.7m-.7 0h.7m-.4 .2h.7m-2.4 0h.7m.4 .2h.7m-.2 .2h.7m-1.3 .2h.7m0 .2h.7m-1.4 .2h.7m-.3 .1h.7m-1.9 .6h.7m.7 .1h.7m-1 .3h.7m-1.3 1.2h.7m-.9 .4h.7m.6 .6h.7m-1.1 .5h.7m-2 0h.7m.5 2h.7m-.9 .6h.7m-.3 1.8h.7m-.5 4.1h.7m.9-33.5h.7m-1.7 1.3h.7m-.8 2h.7m.6 .3h.7m-.4 .6h.7m-2.1 .3h.7m-.9 .2h.7m-.3 1.6h.7m-.6 2.1h.7m-.7 .6h.7m.1 0h.7m-.6 .1h.7m-.8 .8h.7m-1 0h.7m-1 .6h.7m-1.1 .1h.7m-1.3 .1h.7m.7 0h.7m-1.7 .4h.7m.6 .1h.7m-.8 .1h.7m-1.9 .2h.7m.8 .2h.7m-1.3 .2h.7m-.8 .1h.7m-.8 .2h.7m-1.3 .2h.7m-1 0h.7m.7 .2h.7m-1.7 .1h.7m-1.3 .1h.7m-.3 .4h.7m-.2 .1h.7m-.4 0h.7m-.6 .1h.7m-.8 .1h.7m-.3 .2h.7m-1.7 .1h.7m-1.3 .1h.7m1.1 0h.7m-1.5 .1h.7m-.2 0h.7m-.6 .5h.7m-.9 0h.7m-1.8 0h.7m.4 0h.7m-.3 .2h.7m-1.2 0h.7m-.5 0h.7m-1.7 0h.7m-.6 .1h.7m-.2 0h.7m.1 0h.7m-1.8 0h.7m-.3 0h.7m-1.1 0h.7m-1.4 .1h.7m-.3 .2h.7m-.3 .1h.7m-1.6 0h.7m1.1 0h.7m-1.5 .1h.7m-1.6 0h.7m.8 0h.7m-1.8 .2h.7m-.1 .2h.7m-.4 0h.7m-.7 0h.7m-2.1 .1h.7m.8 0h.7m-1 0h.7m-.4 0h.7m-.4 0h.7m-1.5 0h.7m-1 .1h.7m-.9 .1h.7m-1.1 .1h.7m-.2 .2h.7m-1.2 .1h.7m.3 .1h.7m-1.8 0h.7m.9 0h.7m-1.9 .2h.7m0 .1h.7m-1.2 .1h.7m.3 0h.7m-.8 .1h.7m-1.8 .2h.7m.1 0h.7m-.6 .2h.7m-.2 0h.7m-.7 .1h.7m-2.2 0h.7m-.8 .1h.7m-.4 .2h.7m-.8 .1h.7m.5 .1h.7m-1.2 .2h.7m-.9 .2h.7m-.8 0h.7m-.9 .4h.7m-1.1 .2h.7m-.8 .1h.7m.2 .1h.7m-1.6 .2h.7m-.8 .2h.7m.5 .1h.7m-1 .2h.7m-1.1 .4h.7m-.6 .2h.7m-1 .1h.7m.1 .4h.7m-1.1 .1h.7m-.6 .4h.7m-1.2 .1h.7m-.6 .1h.7m-.9 .1h.7m-.1 .3h.7m-.7 0h.7m.3 .1h.7m-1.9 .1h.7m-.4 .7h.7m-1.6 .1h.7m.6 .1h.7m-1.1 .1h.7m-.8 0h.7m-1.2 .1h.7m-.1 .6h.7m-.8 .2h.7m-1 .5h.7m-1 .2h.7m-.5 .7h.7m.6 1.1h.7m-.6 1.3h.7m-1.7 3.2h.7m-1.5 1.2h.7m1 .4h.7m.6-29.5h.7m-.3 .4h.7m-.9 .1h.7m-.8 1.4h.7m-1 1.3h.7m-.8 .4h.7m-.5 .1h.7m-.1 .9h.7m-.8 .7h.7m-.3 .3h.7m-2.3 .2h.7m1 .2h.7m-2.3 .1h.7m-.3 0h.7m.1 .4h.7m-.3 .1h.7m-1.2 0h.7m-.5 .1h.7m-.7 .3h.7m-1.4 .1h.7m-.2 0h.7m-.4 .3h.7m-1.3 0h.7m0 .1h.7m-.6 .3h.7m-1.5 .1h.7m-.3 .1h.7m-1.4 .1h.7m-1.5 .1h.7m-.4 .2h.7m.2 0h.7m-.7 .1h.7m-1.6 0h.7m.7 0h.7m-1.9 .1h.7m.7 .2h.7m-.9 0h.7m-1.1 0h.7m-1.4 .1h.7m-.7 .1h.7m-.7 .1h.7m-1.1 .1h.7m-.2 0h.7m.2 0h.7m-.7 .1h.7m-1.6 0h.7m-.8 .1h.7m.2 .2h.7m-1.5 .1h.7m-.3 0h.7m-.5 0h.7m-.1 0h.7m-2.4 .1h.7m.3 0h.7m-.6 .1h.7m-1.2 .1h.7m.1 0h.7m-1.6 0h.7m0 .2h.7m-.5 0h.7m-2.3 .1h.7m1.1 0h.7m-2.1 .1h.7m-1.1 0h.7m.3 0h.7m-1.7 0h.7m1.2 0h.7m-1.7 .1h.7m-.8 .1h.7m-.7 0h.7m-.5 .1h.7m-1.4 .1h.7m.4 .1h.7m-.5 .1h.7m-2.2 0h.7m.6 0h.7m-1.5 .1h.7m.3 0h.7m-1.9 0h.7m-.1 .1h.7m-.4 .1h.7m-.6 0h.7m-1.2 .1h.7m-.5 0h.7m-1.3 0h.7m.3 .1h.7m-1.6 0h.7m.6 0h.7m-2.2 .2h.7m.8 0h.7m-1 .2h.7m-2.3 0h.7m1.1 .1h.7m-1.4 .1h.7m-1.1 0h.7m-.2 0h.7m0 .1h.7m-1.5 0h.7m-.4 0h.7m-.9 .1h.7m-1.3 0h.7m-.1 0h.7m-1.3 .1h.7m0 0h.7m-1.5 0h.7m-.8 0h.7m-1.1 0h.7m1 .1h.7m-1 .1h.7m-2.1 0h.7m-.4 0h.7m.2 0h.7m-.2 .2h.7m-1.6 0h.7m-.3 0h.7m-.7 .1h.7m-.8 0h.7m-1.8 .1h.7m.7 .2h.7m-1.8 .2h.7m-.3 .2h.7m-1.2 .1h.7m.7 .1h.7m-1.6 0h.7m.4 0h.7m-1.6 0h.7m-1 .1h.7m.4 0h.7m-2.1 0h.7m.5 .1h.7m-1.9 0h.7m.2 .1h.7m-.8 .1h.7m-.4 .1h.7m-1.8 0h.7m.7 0h.7m-2.4 .1h.7m.4 .1h.7m-1.3 .2h.7m-.9 .1h.7m.1 .2h.7m-.6 0h.7m-.6 .2h.7m-1.6 .1h.7m-.9 0h.7m.6 .2h.7m-1.4 0h.7m-.2 .1h.7m-1.6 0h.7m-.6 .1h.7m-.6 .6h.7m-.7 .1h.7m-1.3 0h.7m-.3 .2h.7m.7 0h.7m-2.3 .1h.7m.4 0h.7m-1.1 0h.7m-.3 .1h.7m-.5 0h.7m-.9 0h.7m-.7 .3h.7m-1.9 0h.7m-.5 .1h.7m-.9 .9h.7m-.1 .1h.7m.3 0h.7m-.7 .9h.7m-1.8 .8h.7m-.5 .2h.7m-1.4 .3h.7m0 .6h.7m.3 .6h.7m-2.2 .7h.7m-.7 2.2h.7m1.9-28.7h.7m-1.1 3.2h.7m0 1h.7m-1.3 .1h.7m.6 .4h.7m-2.4 2.2h.7m1 .1h.7m-1.2 .5h.7m-.3 .3h.7m-.7 .1h.7m-1.6 .6h.7m-1 .1h.7m.3 .4h.7m-.9 .2h.7m-1.2 .4h.7m.3 .1h.7m-1.6 .1h.7m-1.7 .1h.7m.7 .1h.7m-.2 0h.7m-1 .4h.7m-2.2 0h.7m.2 0h.7m-.8 .2h.7m-1.6 .3h.7m-.3 0h.7m0 .4h.7m-1.2 0h.7m.6 .2h.7m-1.5 .3h.7m-1.6 0h.7m.8 .1h.7m-2.4 0h.7m0 .1h.7m-1.4 .1h.7m-.2 0h.7m-.2 .1h.7m-1.4 .1h.7m.8 0h.7m-1 0h.7m-.4 .1h.7m-2.4 0h.7m-.5 .1h.7m.2 .2h.7m-1.8 .1h.7m1.1 0h.7m-1.5 0h.7m-.2 .1h.7m-1.8 .1h.7m.1 0h.7m-.3 .1h.7m-1.8 0h.7m-.6 .1h.7m.2 .1h.7m-.6 0h.7m-2.2 .2h.7m.4 0h.7m-.4 0h.7m-1.7 0h.7m-.7 .1h.7m.3 .1h.7m-.8 0h.7m-2.2 .2h.7m.1 0h.7m-1.1 .2h.7m.2 0h.7m-.1 0h.7m-1.5 .1h.7m-1.1 0h.7m-.4 0h.7m-.2 .2h.7m-.6 0h.7m-2.1 0h.7m.8 0h.7m-1.6 .1h.7m-1.1 0h.7m-1.1 .1h.7m.8 0h.7m-1.5 .1h.7m-.2 .1h.7m-.7 0h.7m-.1 0h.7m-.7 .1h.7m-.8 0h.7m-.5 .1h.7m-1.2 .2h.7m-.4 0h.7m-1.3 0h.7m-1.4 .2h.7m.1 .1h.7m-1.5 0h.7m.5 0h.7m-1.9 0h.7m-.8 .1h.7m-.6 .1h.7m.3 .1h.7m-1.5 .2h.7m-.3 0h.7m-.4 .1h.7m-1.3 0h.7m-.3 .1h.7m-1.8 .1h.7m-.5 .2h.7m-.1 .1h.7m.4 0h.7m-1.8 .1h.7m-.8 0h.7m.1 .1h.7m-2 0h.7m.7 0h.7m-1.6 .1h.7m-.7 0h.7m-.1 0h.7m-.6 .2h.7m-1.4 0h.7m-.5 0h.7m-.4 0h.7m-.1 .1h.7m-1.9 .1h.7m.3 0h.7m-1.6 0h.7m-.8 .1h.7m.3 .1h.7m-1.8 .2h.7m.3 .1h.7m-1.8 .1h.7m.3 .1h.7m-1.2 .1h.7m-.7 .1h.7m-.2 0h.7m-.7 .1h.7m-.5 0h.7m-1.5 .1h.7m-.9 .1h.7m-.1 .1h.7m-1.9 .1h.7m1 .1h.7m-1.5 .1h.7m-.2 .1h.7m-.3 0h.7m-2 0h.7m-.1 .1h.7m-1.6 .1h.7m-.1 0h.7m-1.3 0h.7m-.6 .3h.7m-.1 0h.7m-.5 .9h.7m-.6 .1h.7m-1.3 .1h.7m-.4 .1h.7m-1.3 .2h.7m-.5 .1h.7m-.7 .4h.7m-.1 .3h.7m-1 .1h.7m.2 0h.7m-1.4 0h.7m-.6 .2h.7m-1.8 .1h.7m.7 .3h.7m-.2 0h.7m-.9 .1h.7m-1.1 .4h.7m-.9 .2h.7m-1.7 .5h.7m.4 .4h.7m-1.7 .1h.7m.3 .2h.7m-1.1 .1h.7m-.3 .4h.7m-.5 .1h.7m-1.7 .1h.7m-1.1 .5h.7m.5 .2h.7m-1.2 .2h.7m.3 .5h.7m-1.5 .2h.7m0 .4h.7m-2 1.1h.7m.4 2.1h.7m0-25.2h.7m-.7 1.7h.7m-.6 .4h.7m-.1 .5h.7m-.4 0h.7m-.7 .9h.7m-.4 .2h.7m-.4 0h.7m-1.9 .7h.7m.7 .1h.7m-2.2 0h.7m-.6 .1h.7m0 0h.7m-.3 0h.7m-.6 .1h.7m-.7 0h.7m-1.2 .1h.7m-.1 .1h.7m-.9 0h.7m-1 .1h.7m-.3 .5h.7m-1.4 0h.7m.2 .1h.7m-1.2 .3h.7m-.6 .1h.7m-1.3 .1h.7m-.1 0h.7m-1.6 .1h.7m-1 0h.7m.2 .1h.7m-.9 .1h.7m-.5 .3h.7m-.6 0h.7m-1.4 0h.7m-.5 .1h.7m-.8 0h.7m-1.3 .1h.7m-.5 0h.7m.7 .1h.7m-1.5 0h.7m-1.1 0h.7m-1.2 .1h.7m-.7 .1h.7m.9 0h.7m-2 .1h.7m-.4 0h.7m-1.2 0h.7m.9 .3h.7m-2.1 .1h.7m.4 0h.7m-.6 0h.7m-.5 0h.7m-1.9 .1h.7m-1.2 0h.7m-.3 .1h.7m-.8 .1h.7m-.9 0h.7m.6 .1h.7m-.8 0h.7m-1.2 0h.7m-.5 0h.7m-.7 .1h.7m-1.6 0h.7m.3 0h.7m-1.6 .1h.7m-.1 0h.7m.1 0h.7m-.7 0h.7m-.9 0h.7m-.4 .1h.7m-1.7 .1h.7m0 0h.7m-1.9 0h.7m-.7 .1h.7m-.1 0h.7m-.6 0h.7m-1.2 0h.7m-.8 .1h.7m.5 .1h.7m-2.2 0h.7m-.3 .1h.7m-1.1 .1h.7m-.5 0h.7m-.7 0h.7m-.5 .1h.7m.2 .1h.7m-.9 .1h.7m-1.7 0h.7m-.2 .1h.7m-.8 .1h.7m0 0h.7m-1.9 0h.7m-.4 0h.7m-.7 .1h.7m-.2 .1h.7m.3 .1h.7m-1.9 0h.7m-1 0h.7m.4 .1h.7m-1.4 0h.7m.1 0h.7m-1.1 .2h.7m-.5 .1h.7m-1.5 0h.7m-1.1 0h.7m-.8 .1h.7m1.1 .1h.7m-1.3 0h.7m0 .1h.7m-2.1 0h.7m.1 0h.7m-.9 .1h.7m-.9 0h.7m-.7 .2h.7m-1.5 .1h.7m-.7 0h.7m.2 .1h.7m-.4 0h.7m-1.4 0h.7m-.4 .1h.7m-1.4 0h.7m-.2 .1h.7m-.4 0h.7m-1.1 0h.7m-1.2 .1h.7m-.4 .1h.7m-1 .2h.7m-.3 .1h.7m.4 0h.7m-1.1 0h.7m-.1 .1h.7m-1.3 0h.7m-.6 0h.7m-.2 .2h.7m-2.4 0h.7m0 .3h.7m-1.1 .4h.7m-.2 0h.7m-1.4 0h.7m.4 0h.7m-.6 .1h.7m-.9 .1h.7m0 0h.7m-2.5 .3h.7m.6 .2h.7m-2 0h.7m-.1 0h.7m.3 .1h.7m-1.7 .1h.7m-.2 .1h.7m-.7 .2h.7m-.1 .2h.7m-2.4 0h.7m-.3 .1h.7m-.9 .1h.7m-.8 .2h.7m.4 0h.7m-.8 .2h.7m-.9 .1h.7m.1 .2h.7m-1.6 .5h.7m-1.3 0h.7m.5 .1h.7m-1.3 .1h.7m-1.2 0h.7m-.8 .1h.7m.7 .3h.7m-1.3 2.3h.7m-.2 1.2h.7m-1.2 .4h.7m-.4 1.3h.7m-1.7 1.1h.7m.8 1.2h.7m-.8 1.4h.7m-2.5 4.7h.7m2.7-32.7h.7m-1.2 1.3h.7m-1.2 1.2h.7m-1.1 1.5h.7m.3 0h.7m-1 .2h.7m-1.2 .5h.7m.4 .1h.7m-.1 .1h.7m-1.6 .7h.7m-.4 0h.7m-.2 .4h.7m-.7 0h.7m-.6 .3h.7m-.9 .2h.7m-1.4 .1h.7m-1.3 0h.7m.8 .2h.7m-1.1 .1h.7m-.4 .2h.7m-.7 .1h.7m-.8 .1h.7m-1.2 .1h.7m-.6 0h.7m-.8 .1h.7m-1 0h.7m-.4 0h.7m-.3 .3h.7m-.8 .2h.7m-2 0h.7m-.9 0h.7m-.2 .1h.7m-1.2 .1h.7m.9 0h.7m-1.4 0h.7m-.6 0h.7m-.5 .3h.7m-1.5 .1h.7m-.7 .1h.7m-.8 .2h.7m-1 0h.7m-.7 .1h.7m.2 .2h.7m-.8 0h.7m0 .2h.7m-1 0h.7m-.1 0h.7m-1 .1h.7m-.9 .1h.7m-.4 .1h.7m-1.8 0h.7m-.1 .1h.7m-.4 0h.7m-1.4 .1h.7m-.8 0h.7m-1 .1h.7m-.2 0h.7m-.5 .3h.7m-1.3 0h.7m.5 .2h.7m-.8 .1h.7m-1.6 0h.7m-1 .1h.7m-.1 .1h.7m-.9 0h.7m-.4 .2h.7m-.9 0h.7m-.5 .1h.7m-.8 0h.7m-1.6 0h.7m.1 .1h.7m-.5 0h.7m-.2 0h.7m-1.5 .1h.7m-.5 0h.7m-.4 .1h.7m-1.3 0h.7m.3 .1h.7m-.4 0h.7m-1.6 0h.7m-.2 .1h.7m-.3 0h.7m-2.2 0h.7m.6 .1h.7m-2 0h.7m-.9 0h.7m0 0h.7m-1.2 .1h.7m-.5 0h.7m-.8 .1h.7m-.9 0h.7m.2 0h.7m-.6 .1h.7m-.9 0h.7m-1.4 0h.7m-.7 .1h.7m-.5 0h.7m-1 .1h.7m.2 .1h.7m-.4 0h.7m-1.6 .2h.7m-1 .1h.7m.1 0h.7m-.9 .1h.7m0 0h.7m-.5 .2h.7m-.8 0h.7m-2.1 0h.7m.7 .1h.7m-2 .2h.7m-.1 0h.7m-1.7 0h.7m.2 0h.7m-.7 0h.7m-1.2 .2h.7m-1 0h.7m-.2 .1h.7m.6 0h.7m-1.2 .1h.7m-.5 0h.7m-2.3 0h.7m-.1 .1h.7m0 .2h.7m-.2 0h.7m-1.1 0h.7m-1.6 .1h.7m.5 .2h.7m-1.9 0h.7m.6 0h.7m-2.1 0h.7m.2 .1h.7m-.4 0h.7m-.4 0h.7m-2 .1h.7m-.9 .1h.7m-.9 0h.7m.1 0h.7m-1.1 .1h.7m-.2 0h.7m-.4 0h.7m-1.3 .2h.7m-1.5 0h.7m.3 0h.7m-1.3 .5h.7m-.9 0h.7m-.2 .1h.7m-.1 .1h.7m-.7 0h.7m-.1 0h.7m-2.5 0h.7m.9 0h.7m-1 .2h.7m-.5 0h.7m-1.4 0h.7m-1.3 .1h.7m0 .1h.7m-1.3 0h.7m.6 .1h.7m-2.3 .1h.7m1 .1h.7m-1.1 .1h.7m-.7 .4h.7m-1.6 .4h.7m.4 .1h.7m-2.2 .1h.7m.5 0h.7m-.9 .1h.7m-1 0h.7m-1.5 .1h.7m.3 0h.7m.1 0h.7m-1.1 .1h.7m-2.1 .3h.7m-.1 .5h.7m.1 .1h.7m-.2 .1h.7m-.9 .1h.7m-1.4 .1h.7m-.9 0h.7m-.8 1.2h.7m0 .2h.7m-1.8 .3h.7m.5 .1h.7m-2.2 .1h.7m-.6 1h.7m-.1 .2h.7m0 .1h.7m-2.1 1.2h.7m-.1 1.7h.7m-.2 5.8h.7m1.4-27.9h.7m-1.6 .2h.7m-.3 1h.7m.1 .4h.7m-1.9 .2h.7m.1 .5h.7m-.5 0h.7m-.8 .3h.7m-.8 .1h.7m-.3 .2h.7m-1.6 .4h.7m-.2 0h.7m0 .2h.7m-2.3 .1h.7m.7 .1h.7m-1.7 0h.7m.5 .1h.7m-1.9 0h.7m.6 0h.7m-.7 .1h.7m-2.1 .1h.7m.1 .1h.7m-.7 0h.7m-1 .1h.7m-1.5 .1h.7m0 0h.7m-.6 0h.7m-.4 0h.7m-.3 .3h.7m-.9 .5h.7m-1.3 0h.7m-.1 .1h.7m-2 0h.7m-.8 .2h.7m-.3 0h.7m.6 .2h.7m-1.3 0h.7m-1 0h.7m-.7 .1h.7m.1 .1h.7m-1.9 0h.7m-1.1 0h.7m.4 0h.7m-.8 0h.7m-.7 .1h.7m-1.4 .1h.7m.7 .1h.7m-1.1 0h.7m-.3 0h.7m-1 .3h.7m-2.1 0h.7m-.2 0h.7m0 .3h.7m-.9 0h.7m-.7 0h.7m-.5 .1h.7m-2 0h.7m.5 0h.7m-.7 .1h.7m-1.1 0h.7m.1 .1h.7m-2 0h.7m-.1 .1h.7m-1.5 .1h.7m-.6 .1h.7m-.2 0h.7m-1.4 .1h.7m-.5 0h.7m-.4 0h.7m-.6 0h.7m-.8 .3h.7m-.1 .1h.7m-.2 0h.7m-1.3 .1h.7m-.9 .1h.7m.4 0h.7m-1.5 0h.7m-1.4 0h.7m.5 0h.7m-1.7 0h.7m-.2 .1h.7m0 0h.7m-1.4 .1h.7m-1.8 0h.7m-.7 0h.7m1 .1h.7m-1.7 0h.7m.3 0h.7m-2.1 .2h.7m.4 0h.7m-2.1 0h.7m.6 0h.7m-1.2 0h.7m.1 .1h.7m-1.7 0h.7m.2 0h.7m-1.4 .2h.7m.4 .1h.7m-2.2 0h.7m-.8 0h.7m-.4 .1h.7m-.8 0h.7m-.6 0h.7m-.4 0h.7m-1.3 0h.7m-.7 .2h.7m-.1 .1h.7m-.7 0h.7m.1 .1h.7m-.9 .1h.7m-1.6 0h.7m-.6 0h.7m-.1 .1h.7m-.8 .1h.7m-.7 0h.7m-1.7 .1h.7m.1 .2h.7m-1 0h.7m-1 0h.7m-.9 0h.7m-.7 .1h.7m-.9 .1h.7m-.1 .3h.7m-.3 .1h.7m-.2 .2h.7m-1.1 0h.7m-1.6 .1h.7m-.8 0h.7m-.1 .1h.7m-.8 0h.7m.6 0h.7m-2.2 0h.7m-1 0h.7m.4 .1h.7m-1.6 0h.7m-.3 .1h.7m-.9 0h.7m-1.2 .1h.7m-.3 .5h.7m.5 0h.7m-2.3 .1h.7m-.2 .1h.7m-1.2 .1h.7m-.2 0h.7m-.9 .1h.7m0 .5h.7m-1.5 .1h.7m.5 .3h.7m-2.1 .1h.7m.2 0h.7m.1 .3h.7m-1.1 0h.7m-.8 .4h.7m-.2 .3h.7m-2.3 .1h.7m.7 .3h.7m-.4 .5h.7m-2.4 .1h.7m-.7 0h.7m-.4 .6h.7m.4 0h.7m-1.1 .2h.7m-.7 1h.7m-1.8 1.3h.7m-.6 2.1h.7m1 6h.7m0-29.6h.7m-.1 .9h.7m-1 .9h.7m-.7 .4h.7m.2 .7h.7m-1.9 .1h.7m.6 .2h.7m-1 .4h.7m-1.7 .1h.7m.5 .4h.7m-.7 0h.7m-1.6 .7h.7m-1.4 0h.7m.4 .8h.7m-.6 .8h.7m-.9 0h.7m-.7 .1h.7m-.2 .1h.7m-.6 .1h.7m-.7 0h.7m-.6 .1h.7m-1.5 .1h.7m-1.7 .2h.7m.6 .1h.7m-1.8 0h.7m.9 .1h.7m-1.2 .2h.7m-1.8 0h.7m1 0h.7m-.7 .3h.7m-1 0h.7m-2.1 .1h.7m.1 .2h.7m-1.3 .2h.7m-.5 .3h.7m-1.1 0h.7m-.1 .1h.7m-1.3 .2h.7m1 0h.7m-1.9 .1h.7m.4 .1h.7m-.6 0h.7m-1.9 0h.7m-1.4 .3h.7m.7 0h.7m-.7 .1h.7m-1.4 0h.7m.4 .2h.7m-2.4 0h.7m0 .3h.7m-.7 0h.7m-.5 0h.7m-1.3 .1h.7m.5 .1h.7m-1.8 .1h.7m-.9 0h.7m-.4 0h.7m-.5 .1h.7m-1.4 .1h.7m.5 .1h.7m-.4 .2h.7m-2 0h.7m.3 0h.7m-1.9 0h.7m-.2 .1h.7m-.2 0h.7m-.6 0h.7m-1.7 0h.7m.2 .1h.7m-.2 .1h.7m-1 0h.7m-.1 0h.7m-1.5 0h.7m-.9 0h.7m-1.1 .2h.7m0 .1h.7m-.1 0h.7m-2 0h.7m-.2 0h.7m-1.5 .2h.7m-.3 0h.7m0 .1h.7m-1.1 .2h.7m-.4 .1h.7m-1.9 .1h.7m-.2 .1h.7m-.1 .2h.7m-.3 0h.7m-1.2 0h.7m-.8 0h.7m-.2 .2h.7m-1.3 0h.7m-.6 .1h.7m-.7 0h.7m-.8 .1h.7m-1.4 0h.7m.5 .1h.7m-.1 .1h.7m-1.9 .2h.7m-1.4 0h.7m.6 .2h.7m-1.5 0h.7m.5 0h.7m-1.8 0h.7m-.5 .1h.7m-.8 0h.7m-.8 .1h.7m0 .2h.7m-1.8 0h.7m.5 .1h.7m-2.1 .2h.7m-.6 .2h.7m.6 .1h.7m-1.6 0h.7m-.1 .2h.7m-.7 .2h.7m-.5 .1h.7m-.9 .2h.7m-.6 .1h.7m-.7 .1h.7m-1.5 0h.7m0 0h.7m-1.6 0h.7m.1 .3h.7m.2 .2h.7m-.9 .2h.7m-1 .3h.7m-1.8 0h.7m.2 0h.7m0 .1h.7m-1.7 0h.7m-.4 .3h.7m-1.5 0h.7m-.2 .1h.7m.2 .3h.7m-2.4 1h.7m.8 0h.7m-2.3 0h.7m1.2 .4h.7m-1.8 0h.7m.3 .5h.7m-1.7 .3h.7m-1.4 0h.7m.3 .5h.7m-.7 .3h.7m0 0h.7m-1.8 .4h.7m-.5 1.2h.7m-.9 .1h.7m-1.1 1h.7m-.4 .6h.7m-.6 .3h.7m-1.1 4.3h.7m1.1-32.3h.7m-.3 .9h.7m0 .4h.7m-.2 2.3h.7m-1 .4h.7m-.5 .9h.7m-2.3 1.3h.7m.4 0h.7m.1 .1h.7m-2.3 0h.7m.1 .9h.7m-.7 0h.7m-.3 .7h.7m-2.1 .5h.7m.2 .3h.7m-1.1 .3h.7m-1.3 .1h.7m.8 .1h.7m-1 1h.7m-1.4 .1h.7m0 .3h.7m0 .1h.7m-2.6 .5h.7m-.4 .1h.7m.9 .1h.7m-1.3 0h.7m-1.1 .1h.7m-1.4 .2h.7m.1 0h.7m-1.6 0h.7m-.1 0h.7m-1.4 .1h.7m-.2 .2h.7m.2 0h.7m-1.4 .2h.7m-1.1 .2h.7m-.9 .1h.7m1 .4h.7m-.6 .1h.7m-2.3 0h.7m0 .1h.7m-.7 0h.7m-.3 0h.7m-1.2 .1h.7m-.3 0h.7m-.7 0h.7m-1.7 .4h.7m-.7 0h.7m-.4 0h.7m.4 .1h.7m-1.8 .2h.7m-.6 .1h.7m0 .1h.7m-1.8 .1h.7m-.2 .1h.7m-1.3 0h.7m-.3 .3h.7m.2 .1h.7m-1.6 0h.7m0 .1h.7m-1.4 .1h.7m.3 .2h.7m-.5 .1h.7m-1.1 0h.7m-1.2 0h.7m-.5 .2h.7m-1.2 0h.7m-.5 0h.7m-1 .1h.7m-1 0h.7m.9 .1h.7m-2.4 .1h.7m-.2 .1h.7m.6 .2h.7m-1.9 0h.7m-.5 0h.7m-1.6 0h.7m1.2 .1h.7m-1 .1h.7m-.5 0h.7m-1.6 0h.7m-.9 .1h.7m-.4 0h.7m-1.6 .1h.7m.7 0h.7m-.8 0h.7m-1.7 .1h.7m.5 0h.7m-1.4 0h.7m-1.3 .2h.7m-.2 0h.7m-.1 .2h.7m-.8 .3h.7m-.6 0h.7m-1.2 0h.7m-.2 .1h.7m-1 0h.7m0 .1h.7m-1.1 .1h.7m-1.3 0h.7m-.5 .2h.7m-.3 0h.7m-.5 .2h.7m-2 .3h.7m.4 .1h.7m-1.5 .3h.7m0 .1h.7m-1.4 .1h.7m-.8 .4h.7m-.8 .4h.7m-.9 0h.7m-.6 .4h.7m-1 .4h.7m-.7 .1h.7m0 .1h.7m-1.4 .5h.7m.1 .6h.7m.1 .1h.7m-1.3 .2h.7m-.8 .1h.7m-1.2 .1h.7m-1 .7h.7m-.7 .3h.7m.1 0h.7m-.1 1.3h.7m-.7 .5h.7m-1.2 .1h.7m-1.1 3.6h.7m-.2 8.2h.7m.7-47.1h.7m0 5.6h.7m-.3 3.9h.7m-.8 3.7h.7m-2.2 1.2h.7m1 2.8h.7m-1.6 .7h.7m.4 .1h.7m-2 .4h.7m-.1 .2h.7m-1.7 0h.7m.5 .1h.7m-1.9 .2h.7m-.8 .8h.7m.3 .3h.7m-.4 .7h.7m-2.1 .1h.7m-.6 .1h.7m-.8 .3h.7m-.1 0h.7m-.8 0h.7m-.4 0h.7m.2 .1h.7m-2 .2h.7m-.7 .3h.7m-.6 .1h.7m-.5 .1h.7m-.7 0h.7m-.5 .1h.7m-.4 .1h.7m-.6 .1h.7m-1.8 .2h.7m.3 .1h.7m-1.3 .1h.7m-1.3 0h.7m-.5 .3h.7m-.9 0h.7m.4 0h.7m-.6 .1h.7m-.8 .1h.7m-1.5 .2h.7m-.2 .3h.7m-.1 .1h.7m-.5 0h.7m-2.3 0h.7m1.1 .1h.7m-1.3 .2h.7m-1.3 .4h.7m.2 .3h.7m-1 .2h.7m-.8 .4h.7m-1.6 0h.7m.1 .1h.7m-1.1 .1h.7m-.1 0h.7m-1.5 .2h.7m.1 0h.7m-.7 .1h.7m-1.5 .2h.7m-.4 .5h.7m.1 0h.7m-1.9 .1h.7m-.9 .3h.7m.4 0h.7m-1.4 .1h.7m-.9 0h.7m-.5 .1h.7m-1.1 0h.7m.5 .3h.7m-1.9 .3h.7m.1 .6h.7m-1 .1h.7m-.8 .9h.7m-1 .8h.7m-.8 .7h.7m-.4 .2h.7m-.2 .7h.7m.3 0h.7m-1.6 .7h.7m-1.3 .1h.7m-.9 1.6h.7m-.1 2.3h.7m-.1 4.8h.7m-.8 1.9h.7m-.2 1.4h.7m-2.2 2.9h.7m2.3-42.3h.7m-.5 .8h.7m-.8 .1h.7m-1.8 .1h.7m.9 .3h.7m-.8 5.6h.7m-1 1.8h.7m-.9 .1h.7m-1.5 2h.7m.4 0h.7m-.4 .2h.7m-1.1 .4h.7m-1.4 .2h.7m.2 .6h.7m-1.3 .2h.7m.1 .4h.7m-1.7 .3h.7m-1 0h.7m-.5 0h.7m-1.1 .3h.7m.5 .2h.7m-2.2 0h.7m-.4 .1h.7m-.2 0h.7m-1.6 .1h.7m0 .2h.7m.2 .4h.7m-.9 1h.7m-.4 0h.7m-2 0h.7m.2 .1h.7m-1.8 .1h.7m.8 0h.7m-1.4 0h.7m-.1 0h.7m-1.6 .3h.7m-.9 .2h.7m-.2 0h.7m-.5 .9h.7m-.7 0h.7m0 .1h.7m-2.2 .2h.7m.1 .2h.7m-.3 1h.7m-.5 .1h.7m-2.3 .3h.7m-.8 .2h.7m0 .3h.7m.3 .1h.7m-.9 .3h.7m-.7 0h.7m-1.8 .1h.7m-1.1 .1h.7m-.4 0h.7m0 .4h.7m-1.8 .2h.7m-.2 .4h.7m-.4 0h.7m-1.4 .1h.7m-.8 0h.7m.9 0h.7m-1.2 .1h.7m-1.3 .3h.7m-1.1 .3h.7m0 .5h.7m-1 .3h.7m-.7 .9h.7m-1 .1h.7m.5 .1h.7m-.7 .1h.7m-.5 .7h.7m-1.6 2.2h.7m-1 1.3h.7m-.3 1.5h.7m-1.1 .2h.7m-.7 .2h.7m.7 .1h.7m-1.2 .2h.7m-1.9 2.3h.7m2.4-37.3h.7m-.2 .5h.7m-2.1 .8h.7m.8 1.4h.7m-1.1 6.6h.7m-.9 2.2h.7m-1.7 2.3h.7m.9 .1h.7m-.9 .2h.7m-2 .2h.7m.6 .2h.7m-.6 2.5h.7m-1.3 .4h.7m-.3 .7h.7m-.4 .4h.7m-2.2 .2h.7m-.8 .3h.7m-.1 .3h.7m-.7 .5h.7m-.7 .1h.7m-.1 .1h.7m-1.1 .1h.7m-1.2 0h.7m-.1 .4h.7m-1.2 .1h.7m-.5 .2h.7m-.7 .2h.7m.4 .1h.7m-1.4 .1h.7m0 0h.7m-2.6 0h.7m0 .2h.7m-.6 0h.7m-.3 .5h.7m-1.9 1.1h.7m.9 .4h.7m-2.1 .2h.7m.7 0h.7m-2.3 .4h.7m-.4 .2h.7m0 2.9h.7m-.3 .6h.7m-1.3 .7h.7m-.9 .3h.7m-1.1 .4h.7m-.4 1.8h.7m-.2 .1h.7m-.9 0h.7m.3 .3h.7m-1.9 .1h.7m.2 .2h.7m-1.2 .4h.7m0 0h.7m-2.1 1.1h.7m-.6 1.8h.7m-.4 6.2h.7m-.4 3h.7m1.7-30.6h.7m-1.3 .2h.7m-.4 .4h.7m-.7 1.2h.7m-.7 .2h.7m-1.7 1.2h.7m.1 .1h.7m-.4 1.5h.7m-1.6 .6h.7m0 1.1h.7m-1.2 .2h.7m-1.2 .1h.7m.3 .1h.7m-.7 1h.7m-1.1 0h.7m-.1 .3h.7m-1.8 0h.7m-.2 .1h.7m-.4 .1h.7m-.3 .3h.7m-.6 0h.7m-1.1 1.3h.7m-1.6 .3h.7m-.7 0h.7m.2 1.7h.7m-1.3 .7h.7m-.7 .4h.7m-.5 2.3h.7m-1 1.1h.7m-.2 .1h.7m-.2 1.2h.7m-1 1.1h.7m-.6 .6h.7m-.9 .3h.7m-1.6 12.8h.7" stroke="#3c3c3c" stroke-width="0.7" fill="none" opacity="0.75"/>
<path d="M329.6 534.7h.7m-.4 4.2h.7m-.9 6.5h.7m-.9 .3h.7m-.3 4.8h.7m-.9 .7h.7m-.5 .4h.7m-1.1 .1h.7m-.6 .9h.7m-.8 .4h.7m-.5 .1h.7m-.9 1.3h.7m-.3 2.8h.7m-.7 .5h.7m-.7 13h.7m1.2-36.8h.7m-1.7 1.3h.7m-.1 3.3h.7m-1.4 5.1h.7m-.1 1.5h.7m-1.2 .7h.7m-1.2 1.2h.7m.9 .6h.7m-2 1.5h.7m-.5 .2h.7m-1.4 .4h.7m-.7 .3h.7m.6 .5h.7m-.9 .5h.7m-1.7 .1h.7m-.8 .1h.7m-.8 .4h.7m-.3 .4h.7m-1 .2h.7m-.7 .3h.7m-.4 .4h.7m-.3 .3h.7m-.1 .3h.7m-.4 .2h.7m-2 .2h.7m.3 .3h.7m-.3 .2h.7m-.7 .5h.7m-2.4 3.2h.7m.5 1.7h.7m-1 2.5h.7m-.3 .6h.7m-1.7 .9h.7m.6 .4h.7m-1.9 .8h.7m.5 .9h.7m-1.5 .7h.7m-1 .3h.7m-.7 4.6h.7m-.1 .8h.7m-.4 1.5h.7m1.4-39h.7m-.6 .3h.7m-2 1.7h.7m0 1.2h.7m-.8 2.3h.7m-.4 .1h.7m-2 .2h.7m-.2 .2h.7m-.5 .5h.7m.2 .6h.7m-.9 1.2h.7m-1.3 .1h.7m.4 .7h.7m-1.7 .6h.7m-1.5 .1h.7m.3 1.5h.7m-.5 .2h.7m-2 2.1h.7m1.1 1.2h.7m-1.9 .3h.7m-.9 0h.7m.8 .4h.7m-1.5 .6h.7m-1.5 .4h.7m-.8 .1h.7m-.9 .3h.7m-.1 0h.7m-1 0h.7m-.9 .3h.7m-.4 0h.7m-.5 .5h.7m.5 0h.7m-1.6 .1h.7m.1 .9h.7m-1.1 .2h.7m-1.9 .7h.7m0 .4h.7m-.6 .3h.7m-.2 .5h.7m-1.1 .1h.7m-.1 1h.7m-.8 2h.7m-1.9 0h.7m.1 .6h.7m0 0h.7m-1.1 .7h.7m-.6 1.7h.7m-1.5 .1h.7m.4 1.1h.7m-2.4 .2h.7m.7 1.2h.7m-.6 .9h.7m-1.9 2.2h.7m-.9 .4h.7m.1 1.1h.7m-.2 1.6h.7m-.9 9.8h.7m1.3-46h.7m-.9 .4h.7m-1.4 3.6h.7m-.7 .6h.7m.4 .2h.7m-.8 .3h.7m-.8 0h.7m-1.2 .6h.7m.3 .6h.7m-2 1.4h.7m.2 .4h.7m-1.7 .1h.7m-.5 .8h.7m-1.1 .5h.7m-.5 1.2h.7m-.5 .2h.7m-.6 .2h.7m-1.3 .2h.7m.7 .6h.7m-1 .3h.7m-.4 1.4h.7m-.9 .2h.7m-1.6 .3h.7m.6 0h.7m-1.5 0h.7m.1 1.3h.7m-2.4 .2h.7m.6 1.8h.7m-1.5 .2h.7m-.5 .5h.7m-.6 .3h.7m-.8 .4h.7m-1.1 0h.7m.6 .5h.7m-1.9 .7h.7m-1.1 .9h.7m-.1 1h.7m-.4 .2h.7m-1.6 .9h.7m.6 0h.7m-1.1 1.5h.7m.2 .9h.7m-.6 0h.7m-.8 .4h.7m-1.6 .7h.7m-.8 .8h.7m-.7 1.2h.7m-.9 1.9h.7m.5 1h.7m-.6 1.6h.7m-1.7 .2h.7m-.5 1.9h.7m-1.2 .4h.7m-.9 .9h.7m-.5 4h.7m-.3 3.3h.7m2.2-42.9h.7m-.7 2h.7m-1.8 .3h.7m-.3 .7h.7m-1.2 .5h.7m-.4 0h.7m-.3 .2h.7m-2 .2h.7m1.1 .4h.7m-1.2 .1h.7m-.7 .9h.7m-1.8 1h.7m.6 1h.7m-1 .6h.7m-.6 .1h.7m-1.3 .1h.7m-.3 .1h.7m-1.9 1.7h.7m1 .2h.7m-2 .1h.7m0 1.1h.7m-.9 .1h.7m-1.3 .5h.7m-.4 .9h.7m-.3 .1h.7m-.8 .2h.7m-.6 .9h.7m-1 .3h.7m-1.1 .3h.7m-.7 .9h.7m-.6 0h.7m-.6 .3h.7m-.1 .6h.7m-1.2 1.3h.7m-.2 0h.7m-1.1 .2h.7m-1 .1h.7m-.1 .4h.7m-.5 .2h.7m-1.8 .4h.7m-.8 1h.7m1 .5h.7m-1.8 1.6h.7m-.3 .1h.7m-1.4 .1h.7m.1 .4h.7m0 1.5h.7m-1.4 .8h.7m-1.1 .4h.7m-1.2 .2h.7m.8 .5h.7m-1 .4h.7m-1.7 .6h.7m.6 .6h.7m-.5 .2h.7m-1.9 .2h.7m.2 1.1h.7m-1.1 .2h.7m-.7 2.7h.7m-1.1 1.4h.7m-.7 .3h.7m-1.5 .6h.7m0 4.5h.7m-.7 .3h.7m-.3 2.8h.7m.7-44.6h.7m-.8 .1h.7m.6 .3h.7m-.5 .3h.7m-1.3 .7h.7m-.7 .6h.7m-.1 0h.7m-2.2 .2h.7m.1 2.2h.7m-1.5 .4h.7m.6 1.2h.7m-.5 .8h.7m-1.1 .8h.7m-.9 .3h.7m-1.3 1h.7m-1.3 .6h.7m.6 .8h.7m-.4 .7h.7m-1.6 .2h.7m-1.1 .6h.7m-.8 .4h.7m.9 .5h.7m-1.6 .6h.7m-.2 .1h.7m-1.2 .1h.7m-.2 .1h.7m-.4 .7h.7m-1.2 .3h.7m-1 .1h.7m.2 .7h.7m-1.9 .7h.7m-.1 1.1h.7m-1.8 .2h.7m.1 .2h.7m-1.2 0h.7m-.8 .5h.7m.2 .2h.7m-1 .3h.7m-.6 .2h.7m-1.3 0h.7m.4 .8h.7m-1.5 1.3h.7m-.4 1.4h.7m-.6 .9h.7m-1.4 .2h.7m-1.2 .3h.7m1.1 .1h.7m-1.5 .2h.7m-.6 .1h.7m-1.3 .4h.7m.4 .6h.7m-.8 .2h.7m-.9 .8h.7m-1 2.9h.7m-1.3 .7h.7m.7 1.5h.7m-2.1 2h.7m.6 .4h.7m-.6 .3h.7m-2.1 .5h.7m-1.1 .6h.7m-.2 1.7h.7m-.9 .3h.7m.3 .4h.7m-1.1 .7h.7m.3 .2h.7m-1.8 .4h.7m-.6 2.5h.7m2.1-40.7h.7m-1.1 .1h.7m-.8 1.5h.7m-.7 .3h.7m-1 2.3h.7m-.3 .6h.7m-.9 .9h.7m-.8 1h.7m-.4 .3h.7m-1.2 .3h.7m-.7 2.1h.7m-1.4 1.2h.7m1.1 .9h.7m-2.6 .3h.7m-.6 .5h.7m-.1 0h.7m.4 .1h.7m-2.1 .3h.7m.1 .4h.7m-1.7 .1h.7m-.5 .1h.7m-.4 1.4h.7m-.3 .2h.7m-1.1 .2h.7m-.3 .4h.7m-1.6 .5h.7m.4 .4h.7m-.8 .5h.7m-.9 .1h.7m-.3 .6h.7m-.9 .1h.7m-1 .2h.7m-.9 .1h.7m-.5 .4h.7m-1.6 .7h.7m.9 .7h.7m-.4 .1h.7m-1.5 .2h.7m-1.4 .6h.7m-.6 .5h.7m-.7 .8h.7m-1.2 .2h.7m-.2 .7h.7m-1 .1h.7m.2 1.1h.7m-.6 0h.7m-.9 0h.7m.2 .4h.7m-1.4 1.5h.7m-1.2 .1h.7m-.8 1.5h.7m.6 .2h.7m-2.5 .8h.7m.4 .5h.7m-.4 1.6h.7m-1.4 .4h.7m-.9 .9h.7m-1.2 .9h.7m.8 .7h.7m-1.7 .8h.7m-.6 5.7h.7m0 .1h.7m-1.1 3.9h.7m-.1 3.8h.7m.8-48.4h.7m.1 .1h.7m-2 2.1h.7m.3 .2h.7m-1.9 .6h.7m.8 .4h.7m-1.6 .6h.7m-1.7 0h.7m.7 1.8h.7m-.5 .3h.7m-.8 .7h.7m-.5 .5h.7m-1.2 .5h.7m-1.3 .2h.7m-.8 .4h.7m-1.1 .1h.7m-.8 .2h.7m-.6 .3h.7m.3 .4h.7m0 .2h.7m-2.1 .2h.7m-1 0h.7m.4 .1h.7m-.9 .4h.7m-.1 .6h.7m-.5 .9h.7m-1.7 1.1h.7m.1 0h.7m-1.3 0h.7m.2 .1h.7m-2.6 .1h.7m.8 .1h.7m-.5 .7h.7m-.9 0h.7m-1.5 .1h.7m-1.1 .3h.7m.3 0h.7m-.6 .4h.7m-1.1 .6h.7m-1.5 .5h.7m.6 .1h.7m-.9 .6h.7m-1.1 .1h.7m-1 .4h.7m-.9 .1h.7m-.8 .5h.7m-.5 3.8h.7m.6 .3h.7m-.7 1h.7m-2.4 .6h.7m.7 .3h.7m-.3 1h.7m-1.8 .1h.7m-1.2 1.2h.7m-.6 0h.7m-1 .9h.7m-.7 .4h.7m.9 .4h.7m-1 .2h.7m-1.2 1.4h.7m-.8 .3h.7m-.9 1.3h.7m-.3 1.2h.7m-1 .2h.7m-.6 .6h.7m-.5 .7h.7m.2 .4h.7m-1.8 1.7h.7m-1.4 1.7h.7m.7 1.8h.7m-1.4 .5h.7m-.3 0h.7m-1.8 .4h.7m-.4 3.4h.7m1.7-42.7h.7m-1.2 .1h.7m-.8 .4h.7m-.1 .8h.7m-1.3 .1h.7m.2 1.1h.7m-1.8 .2h.7m-.6 .6h.7m-.1 .1h.7m.2 .3h.7m-.4 .3h.7m-1.7 .7h.7m-1.3 1.5h.7m-.9 .2h.7m-.5 .2h.7m.4 0h.7m-.4 1.1h.7m-.6 1.6h.7m-2 .4h.7m-.7 .9h.7m-.5 .2h.7m-1.2 0h.7m.2 .5h.7m-.3 .6h.7m-1 .6h.7m-1.3 1.9h.7m-.7 0h.7m-1.3 .3h.7m.9 .3h.7m-1.7 .9h.7m-1.2 .2h.7m-.5 .2h.7m.5 1.1h.7m-.4 .3h.7m-1.7 .1h.7m-1 1.5h.7m-.8 .2h.7m-.6 1.1h.7m-1.1 .1h.7m1.1 1.2h.7m-1.3 .1h.7m-1.4 .1h.7m-1 .2h.7m.4 .2h.7m-.5 .5h.7m-1.2 .4h.7m-.9 .3h.7m-.8 2h.7m-1.4 .5h.7m.1 1.8h.7m-1.6 .6h.7m.2 .4h.7m-1.6 .4h.7m1.1 .4h.7m-1 1.1h.7m-1.9 1.9h.7m-.5 .6h.7m-.8 .7h.7m-1 .1h.7m.2 .2h.7m-.4 .7h.7m-1.7 .8h.7m-.2 .4h.7m.3 .6h.7m-1.8 2.9h.7m.2 .9h.7m-1.2 1.2h.7m.8-41.8h.7m.2 1h.7m-.6 .2h.7m-2.2 .1h.7m.6 .1h.7m-.6 .1h.7m-.3 .9h.7m-2 .2h.7m-.7 .9h.7m.4 1.6h.7m-1 1.4h.7m-1.8 1h.7m.3 .8h.7m-.1 .6h.7m-1.8 .2h.7m-1.3 .3h.7m.7 .5h.7m-1.3 .3h.7m-1.4 .2h.7m.7 .7h.7m-1.5 .4h.7m-1.3 .1h.7m-.7 .2h.7m.3 .1h.7m-1.7 .1h.7m-.5 1.1h.7m-.5 .6h.7m-.1 .1h.7m-1.1 .5h.7m-.6 0h.7m.1 .5h.7m-2 .2h.7m-.5 0h.7m-.1 .2h.7m-1.3 .3h.7m-.3 .8h.7m.1 .5h.7m-1.7 .6h.7m.1 .1h.7m-.7 .1h.7m-2.4 .7h.7m-.3 .8h.7m.3 1.1h.7m-.7 .5h.7m-1.2 .1h.7m-.1 .7h.7m-1.9 1.1h.7m-.8 .2h.7m-.2 1h.7m-1 .1h.7m.2 .7h.7m-1.3 .8h.7m-.6 .6h.7m.4 0h.7m-1.6 .5h.7m-1 0h.7m-1.2 .3h.7m.9 .1h.7m-.8 .2h.7m-2 .6h.7m-.3 2.3h.7m-.3 .8h.7m-.5 1.2h.7m-1.8 .5h.7m.9 .7h.7m-2.3 .2h.7m0 .4h.7m-1.7 1.5h.7m-.2 3.4h.7m.1 2.3h.7m-.7 1.2h.7m.1-42.7h.7m.9 1.2h.7m-.7 .6h.7m-.6 .2h.7m-1.5 2.4h.7m-1.2 .1h.7m.1 1h.7m-.3 .1h.7m-2.4 .1h.7m-.7 .1h.7m-.3 .2h.7m.2 .7h.7m-.9 .1h.7m-1 .6h.7m-1.5 1h.7m-.7 .7h.7m.6 .1h.7m-1.6 .5h.7m.8 .1h.7m-1.7 .3h.7m-1.5 .4h.7m.5 .7h.7m-.3 .2h.7m-1.6 .3h.7m-.7 .1h.7m-.4 1h.7m0 1h.7m-2.2 0h.7m.4 .2h.7m-1.7 0h.7m-.7 1.3h.7m.6 .3h.7m-1.5 .1h.7m-1.3 .5h.7m.1 .3h.7m-1.5 0h.7m.4 .3h.7m-.6 .1h.7m-1.3 .2h.7m.3 .5h.7m-.9 .3h.7m-2.2 .2h.7m.8 2.4h.7m-2.3 .1h.7m.7 .1h.7m-.6 .6h.7m-1.9 1h.7m-1.1 .3h.7m.4 .8h.7m-1.5 .4h.7m.2 .2h.7m-.9 1.9h.7m-1 .9h.7m.1 .8h.7m-.9 .2h.7m-1.3 .2h.7m-1.4 .2h.7m-.7 2.8h.7m1.2 .2h.7m-2.5 3.8h.7m.8 1h.7m-.4 2.8h.7m-1.2 .4h.7m-.9 1.3h.7m-1.7 4.3h.7m.4 1.4h.7m0-45.9h.7m-.6 1.2h.7m.8 .9h.7m-2.2 .2h.7m-.2 .3h.7m.5 1.2h.7m-1.6 0h.7m.1 .3h.7m-1.5 .4h.7m-.1 .2h.7m-1.4 0h.7m-.8 .6h.7m-1 .1h.7m-.6 .3h.7m-.8 0h.7m.8 .2h.7m-1.3 .2h.7m-.6 .6h.7m-.3 .5h.7m-1.1 .2h.7m-.4 0h.7m-1.3 .9h.7m-.5 0h.7m-1.1 .1h.7m-.3 .2h.7m-.2 0h.7m-.9 .4h.7m-1.7 0h.7m.1 .8h.7m-1.4 .5h.7m-1.2 1.1h.7m-.3 .2h.7m.3 .9h.7m-.7 0h.7m-.5 .3h.7m-1 .8h.7m-.8 .1h.7m-.4 .2h.7m-1 0h.7m-1.6 .4h.7m-1.2 .8h.7m.7 .6h.7m-1.1 1h.7m-.4 .3h.7m-1.3 .5h.7m-1.1 .2h.7m-.7 0h.7m.3 .6h.7m-.6 .3h.7m-1.6 .2h.7m-.5 .8h.7m.3 .5h.7m-2.2 .2h.7m.4 .9h.7m-.4 .2h.7m-1.8 .2h.7m.5 .1h.7m-1 .1h.7m-.5 .1h.7m-2 .1h.7m.8 .1h.7m-.9 .4h.7m-1.6 0h.7m-1.3 .7h.7m.1 .9h.7m-.1 .4h.7m-1.1 2.3h.7m-1.1 .1h.7m-1 0h.7m.5 1.3h.7m-1.7 .1h.7m-.6 .1h.7m-.1 .7h.7m-1.4 .4h.7m-.8 .9h.7m-.3 2.7h.7m-1.1 .1h.7m-.1 .1h.7m-1.5 .7h.7m-.2 .2h.7m-.2 1.5h.7m-1.8 1.5h.7m.1 .4h.7m-.9 1.5h.7m-1.2 .2h.7m-.5 .8h.7m.2 3.4h.7m1-44h.7m-1.1 1h.7m-1.2 .6h.7m.1 .1h.7m-.8 2.8h.7m-.2 .4h.7m-1.7 .3h.7m-.7 .7h.7m.5 .8h.7m-.8 .3h.7m-.8 .1h.7m-.6 .6h.7m-.4 0h.7m-1.9 .1h.7m-1.2 .2h.7m1 .3h.7m-1.6 .2h.7m-.9 .1h.7m-1.3 .1h.7m-.4 .1h.7m-.4 .6h.7m-.8 1.1h.7m.4 0h.7m-1.9 .7h.7m0 0h.7m0 .4h.7m-2.6 .1h.7m.9 .2h.7m-1.7 .1h.7m-.3 .1h.7m0 1.8h.7m-2.3 .1h.7m0 .4h.7m0 .6h.7m-.9 1.2h.7m-1.3 0h.7m-.4 .4h.7m-.1 .5h.7m-.4 .1h.7m-2.3 .1h.7m.2 0h.7m-1.3 .6h.7m-.5 0h.7m-1.2 .6h.7m-.7 .2h.7m-.7 0h.7m.6 .1h.7m-1 .4h.7m-1.4 .3h.7m.6 .1h.7m-2.6 .7h.7m0 .3h.7m-.9 1.1h.7m-.7 .3h.7m-1.1 .2h.7m.6 2.9h.7m-2 .1h.7m.9 .2h.7m-.9 .1h.7m-1.6 1.6h.7m-1.3 .1h.7m-.5 .1h.7m1 .1h.7m-2.6 1.4h.7m.5 2.1h.7m0 0h.7m-1.9 .3h.7m.4 .2h.7m-2.2 .8h.7m.9 3.8h.7m-1.7 .7h.7m-1.3 .3h.7m-.9 1.7h.7m.5 3.1h.7m-1 3.4h.7m1.2-45.2h.7m-1.3 .1h.7m-.9 .1h.7m.7 .5h.7m-1.6 .1h.7m-.3 .3h.7m-1.1 1.3h.7m-.7 1.9h.7m.3 .2h.7m-1.8 .3h.7m0 .5h.7m-.5 1.6h.7m-.4 .5h.7m-1.8 2.7h.7m-.9 .2h.7m0 .1h.7m-.1 0h.7m-1.8 .1h.7m-.8 .9h.7m-1.2 .3h.7m-.2 0h.7m.7 1h.7m-2.3 .1h.7m-.3 0h.7m0 .2h.7m-.8 0h.7m-.7 .5h.7m-1.7 .7h.7m-.5 .5h.7m-.2 .2h.7m-.5 .9h.7m-1.4 .4h.7m-.6 .3h.7m0 .1h.7m-1.8 1h.7m-.1 .4h.7m-.2 .1h.7m-.8 .9h.7m-.5 .6h.7m-1 .2h.7m-.3 .4h.7m-1.8 .1h.7m-.7 .4h.7m-.6 .4h.7m-1.1 .2h.7m-.1 .5h.7m-.1 .2h.7m-.6 .6h.7m-.3 .1h.7m-2.4 2h.7m-.7 .9h.7m.3 1h.7m-.4 .3h.7m-1 1.8h.7m-1.6 4.6h.7m.2 1.4h.7m.2-34.5h.7m0 .1h.7m.2 .8h.7m-2.2 .4h.7m.6 .5h.7m-2.1 .2h.7m.5 .1h.7m-.2 .8h.7m-2.1 .3h.7m-.3 .3h.7m.4 .7h.7m-.9 .7h.7m-1.1 1.8h.7m0 .2h.7m-1.8 .3h.7m-.4 .2h.7m-1.2 1.2h.7m-.2 .5h.7m-1.1 2.5h.7m-1.3 .7h.7m1.1 .4h.7m-1.6 .1h.7m-1.6 .2h.7m-.7 .6h.7m-.4 .4h.7m-.8 0h.7m-.9 0h.7m.9 .3h.7m-1.1 .3h.7m-1.7 0h.7m.9 .5h.7m-2.3 .1h.7m.9 1.2h.7m-1.9 .7h.7m-.3 .4h.7m-.3 .3h.7m-1.3 1.3h.7m-.8 3.8h.7m-1 0h.7m-.9 2.3h.7m.7 3h.7m-.8 2.6h.7m-.6 .9h.7m-2.1 .8h.7m-.6 .4h.7m-.7 1.3h.7m.7 .2h.7m-1.5 .9h.7m-.9 1h.7m-.2 .5h.7m-1.7 1.1h.7m.2 3.3h.7m1-41.4h.7m-.3 .9h.7m-1.7 1.4h.7m-.1 0h.7m-1.3 0h.7m.8 3h.7m-2.5 .2h.7m1.2 1h.7m-1.5 .1h.7m-.2 .2h.7m-1.9 .7h.7m-.9 1.9h.7m.4 .2h.7m-.1 .7h.7m-1.8 .2h.7m-1.2 1h.7m.7 1.3h.7m-2.2 2.8h.7m.8 1.4h.7m-1.3 .7h.7m-1.8 .9h.7m-.6 0h.7m-.7 .1h.7m1.1 1h.7m-1.2 1h.7m-1.8 2.6h.7m0 1.5h.7m-.2 .6h.7m-.3 .8h.7m-2.4 .6h.7m.2 .7h.7m-.2 3.3h.7m-.8 .7h.7m-1.3 1.3h.7m-1.3 5.3h.7m2.5-37.5h.7m-1.7 .3h.7m.2 .4h.7m-.6 3.2h.7m-2.2 1.3h.7m.2 1.8h.7m-.2 .3h.7m-2 .5h.7m1.1 .8h.7m-.8 .5h.7m-1.2 .3h.7m-1.3 .5h.7m-1.4 .7h.7m.6 1.6h.7m-1.9 .4h.7m.6 .2h.7m-.6 .7h.7m-.4 .4h.7m-1.7 .1h.7m.1 .1h.7m-.6 .3h.7m-1.1 2h.7m-1.1 .6h.7m-.7 .2h.7m.3 .4h.7m-1.1 2.1h.7m-1.1 .6h.7m0 2.2h.7m-2.5 .2h.7m.2 .2h.7m-1.3 1.2h.7m-.2 .2h.7m-1.5 .9h.7m-.7 .7h.7m0 0h.7m-.7 .2h.7m-1.2 3.8h.7m.4 1.6h.7m-1.4 3.2h.7m-.4 2.6h.7m-1.2 6.1h.7m1.2-42.9h.7m-.8 1.4h.7m-.8 .6h.7m.2 .2h.7m-.8 0h.7m-1.1 2.4h.7m.7 .2h.7m-1.2 .3h.7m-.2 .1h.7m-.9 1.5h.7m-2.2 .2h.7m0 .2h.7m-1 .4h.7m-1 .7h.7m0 .8h.7m-1.1 1.5h.7m-.6 .3h.7m-.9 3.2h.7m-.6 1.2h.7m.6 .2h.7m-.7 .8h.7m-1.1 .3h.7m-.4 .6h.7m-.8 1.2h.7m-1.8 0h.7m.5 3.5h.7m-1.5 6.5h.7m.1 16h.7m.6-44.3h.7m-.8 1.3h.7m-.4 2.5h.7m-1.7 .7h.7m.2 6.1h.7m-1.8 .2h.7m-.5 2.5h.7m-.7 .2h.7m-.2 1.1h.7m-.8 .2h.7m-.5 1.4h.7m-.6 1.5h.7m0 .1h.7m-2.4 .3h.7m-.7 .8h.7m-.1 .2h.7m-.5 1.6h.7m-1 3.2h.7m.5 3.9h.7m-1.7 2.3h.7m-.1 .6h.7m.8-31.6h.7m-1.1 6.6h.7m-.1 2.7h.7m-.8 2.2h.7m-.8 .1h.7m-.3 .9h.7m-.7 1.5h.7m-1.4 1.7h.7m.1 1.9h.7m-.7 3.9h.7m-1.9 .2h.7m.7 2h.7m-.8 2.2h.7m-.7 2.7h.7m.6-22.6h.7m-.2 3.1h.7m-1.9 4.7h.7m0 2.4h.7m0 11.2h.7m-.2 3.4h.7m-2.2 2.9h.7m1.2-29.6h.7m.6 31.3h.7m1.3-17.1h.7m3.8-10.7h.7m.5 24.8h.7" stroke="#f3bb62" stroke-width="0.7" fill="none" opacity="0.72"/>
<path d="M329.6 518.1h.7m-.7 10.1h.7m.3 2.5h.7m2.5-21.9h.7m-2.4 8.8h.7m.5 5.5h.7m-.3 4.1h.7m-1.5 2.8h.7m2-13.5h.7m-1.6 7h.7m.1 2.9h.7m-.7 1.7h.7m-.9 1.3h.7m-.6 1.1h.7m-.1-29.6h.7m.4 2.5h.7m-1 8h.7m-.6 10.1h.7m-1 2.7h.7m-.8 1.7h.7m.1 3.4h.7m-1.5 1.3h.7m.6 .5h.7m-1.3 1.4h.7m.5-33.4h.7m.7 9.3h.7m-.8 11.5h.7m-2 1.2h.7m-1 1.2h.7m0 .9h.7m-.6 1.9h.7m.3 1.3h.7m-1.5 .4h.7m-1 0h.7m-.8 3.5h.7m-.8 .3h.7m-.9 .8h.7m1.1-24.3h.7m.2 4.5h.7m-.7 4.2h.7m-.8 3.8h.7m-.6 1.6h.7m0 2.8h.7m-1 1.3h.7m-2.2 .1h.7m.9 .2h.7m-1.7 .7h.7m-.3 2.4h.7m-1.1 .8h.7m.6 .1h.7m-1.8 .5h.7m-1.3 2.2h.7m-.6 .2h.7m2.9-24.9h.7m-1.2 .3h.7m-2 1h.7m.2 3.8h.7m-1 .2h.7m-1.4 .2h.7m1 2.1h.7m-2.4 1.4h.7m0 1.7h.7m-.3 .4h.7m-1 2.4h.7m-1.5 4.2h.7m-.6 .1h.7m.4 .1h.7m-1.1 .7h.7m-.6 2.2h.7m-.4 .2h.7m-.6 .2h.7m-.9 0h.7m0 .1h.7m-1.6 1.5h.7m.1 .2h.7m-1.3 .2h.7m-.1 .6h.7m-.9 .4h.7m-1.4 0h.7m.1 .5h.7m-1.7 0h.7m-.9 .1h.7m2.7-29.2h.7m-1.8 .5h.7m.1 1.2h.7m-2 0h.7m-.6 1.9h.7m.6 .3h.7m-.7 1h.7m-2.3 2.4h.7m1.2 0h.7m-.8 .5h.7m-1.6 .2h.7m-1.3 1.6h.7m-.3 .2h.7m-1.2 .7h.7m.6 .1h.7m-1.5 .1h.7m.2 .6h.7m-1.6 .4h.7m.1 .2h.7m-.5 1.5h.7m-1.4 .2h.7m-.7 1.3h.7m-.5 1.7h.7m-1 0h.7m-.5 1.4h.7m.1 .8h.7m-1 2.4h.7m-1.4 .3h.7m-1.1 .1h.7m.7 .6h.7m-.8 2h.7m-1.6 .5h.7m-.5 0h.7m-1.1 .1h.7m-1.1 .2h.7m.7 1.3h.7m-1.1 .8h.7m-.4 .3h.7m-.8 .4h.7m-1.7 .2h.7m2.2-42.2h.7m-1.4 11h.7m-.4 6.1h.7m-1.6 3.9h.7m.9 2.5h.7m-1.8 1h.7m-.1 .9h.7m-.2 2h.7m-.7 .6h.7m-1.4 .1h.7m-1.3 .1h.7m-.1 0h.7m.1 0h.7m-.9 2h.7m-1.9 .4h.7m.1 .3h.7m-.5 0h.7m-.7 1.1h.7m-1.4 .7h.7m-1.2 .5h.7m-.1 .4h.7m-.2 .6h.7m-.7 0h.7m-.7 1.3h.7m-.5 2h.7m-.7 .4h.7m-.7 .3h.7m-.7 0h.7m-.5 1.7h.7m-1.3 .1h.7m-.7 .5h.7m-.6 .4h.7m-.2 .1h.7m-1.8 1.6h.7m-1.3 .5h.7m-.3 .2h.7m-.4 0h.7m1.8-36.2h.7m-1.6 2.7h.7m-.9 .8h.7m.4 6.3h.7m-1.9 1.7h.7m.7 .5h.7m-2 2.1h.7m.8 2.1h.7m-1 1h.7m-.9 .6h.7m0 .2h.7m-2.2 .4h.7m.8 .8h.7m-2 .5h.7m.7 .5h.7m-1.3 .9h.7m-.6 .8h.7m-1.9 .7h.7m.6 .7h.7m-1 .1h.7m-.7 .5h.7m-1 .2h.7m-.1 1.4h.7m-2.1 .4h.7m.7 2.3h.7m-1.1 .8h.7m-.9 0h.7m-1.1 .4h.7m-1.2 .8h.7m-.1 .3h.7m.4 .2h.7m-1 .5h.7m-1.1 1.4h.7m-1 1.1h.7m.4 .5h.7m-1.2 .1h.7m-1.1 .2h.7m-.4 0h.7m-.7 1h.7m-.7 .8h.7m1.9-39.6h.7m-1.1 1.6h.7m-1.2 1.9h.7m-1.5 1.8h.7m-.6 2.4h.7m-.5 .6h.7m0 1.7h.7m-1 .5h.7m-1.1 1.2h.7m.4 3h.7m-1.9 .6h.7m.5 .4h.7m-1.4 .7h.7m-1 .2h.7m-1.1 .2h.7m0 .1h.7m-.8 .3h.7m-1.4 1h.7m0 0h.7m-.7 .2h.7m-1.3 0h.7m.6 .2h.7m-1.5 .1h.7m-.6 .5h.7m-.1 .1h.7m-1.3 .1h.7m-1.3 1.5h.7m-.6 1.6h.7m.5 2.6h.7m-.3 .3h.7m-.6 .1h.7m-.7 .8h.7m-1.4 1.4h.7m-1.3 .3h.7m-.9 1h.7m.3 .8h.7m-.8 0h.7m-.8 .2h.7m-.4 1.1h.7m-.8 .5h.7m-.4 .3h.7m-.9 .2h.7m-.6 .4h.7m-1.6 .1h.7m.2 .6h.7m-2 .8h.7m0 .1h.7m-1.4 .6h.7m.5 .4h.7m-1.9 .4h.7m.1 .2h.7m-1.4 3.8h.7m2-36.5h.7m-1.6 5h.7m-.8 1h.7m0 .4h.7m-.4 .2h.7m0 .8h.7m-2.1 .3h.7m.2 .1h.7m-1.3 .8h.7m-.2 1.2h.7m-.2 .1h.7m-2 .5h.7m-.2 .8h.7m-.5 .1h.7m-1.5 .3h.7m.3 1.1h.7m-1.1 .6h.7m0 .5h.7m-.8 .7h.7m-.6 .2h.7m-2.1 0h.7m.6 .1h.7m-1.4 .1h.7m-.2 1.3h.7m-.9 1h.7m-1.8 0h.7m-.1 1.7h.7m-1.2 .7h.7m.3 3.3h.7m-1.7 0h.7m-.6 .2h.7m.3 0h.7m-.5 .1h.7m-.2 .2h.7m-1.5 .3h.7m-1.8 .8h.7m.2 .4h.7m.3 2.4h.7m-1.5 0h.7m-.5 .9h.7m-.2 .3h.7m-1 .2h.7m-1.7 1.1h.7m-.8 1.7h.7m.7 1h.7m-2.3 .1h.7m-.9 0h.7m.2 1.1h.7m-.4 .1h.7m0 0h.7m-1 .4h.7m-.8 .9h.7m-2.2 1.2h.7m.3 .3h.7m.7-39.2h.7m.8 6.5h.7m-1.8 .3h.7m-1.3 .5h.7m.5 .7h.7m-.4 .7h.7m-2.1 1.3h.7m.5 .3h.7m-.9 1.3h.7m-.5 0h.7m-1.6 2.9h.7m.3 .9h.7m-1.2 .5h.7m0 0h.7m-1.8 .9h.7m-.7 .1h.7m-1.3 .6h.7m.7 .7h.7m-2.1 1h.7m.8 .2h.7m-.8 2.7h.7m-1.8 .1h.7m-1.1 .4h.7m.7 .2h.7m-1.5 1.9h.7m-1.1 .1h.7m.7 .3h.7m-1.3 0h.7m-1.5 1.6h.7m0 .1h.7m-.9 .1h.7m-.1 .6h.7m-.5 1.1h.7m-1.4 .6h.7m.2 .3h.7m-.8 .3h.7m-1.5 .1h.7m.2 2h.7m-1.4 .3h.7m-1.1 .3h.7m-.5 .8h.7m-1.2 .4h.7m-.1 .4h.7m-.4 .3h.7m-.6 .3h.7m-1.2 1.6h.7m-.3 .7h.7m-.3 .3h.7m-1.2 .3h.7m-.9 1.2h.7m1.9-44.5h.7m-1.2 8.2h.7m-.6 1.5h.7m-.3 .7h.7m-.6 .3h.7m-1.3 1.7h.7m-1.6 .4h.7m1.1 .5h.7m-1.4 .1h.7m0 .7h.7m-2.5 1.5h.7m.2 0h.7m-1.2 .5h.7m0 1.7h.7m-.6 .2h.7m-1.7 .5h.7m-.3 .3h.7m-1 .1h.7m.6 .4h.7m-.9 .6h.7m-1.8 .2h.7m.2 .2h.7m-1.8 .5h.7m-.7 .6h.7m-.1 1.8h.7m.2 .4h.7m-1.5 .9h.7m-1.1 .5h.7m-.3 .1h.7m-1.4 .4h.7m-.1 2.8h.7m-1.4 .1h.7m.6 .2h.7m-.5 .2h.7m-.6 .2h.7m-1.2 .1h.7m-1.1 .3h.7m.4 1h.7m-2.6 1.3h.7m0 4h.7m-.6 .4h.7m-.1 1.5h.7m-2 1.2h.7m-.6 .2h.7m.9 1.2h.7m-1.4 .4h.7m-.4 .9h.7m-1.8 .3h.7m0 1.1h.7m-.2 .5h.7m-.4 .3h.7m-2.5 1.1h.7m1.6-38.4h.7m.8 .6h.7m-2.2 2.8h.7m-.2 .5h.7m-1.2 2.1h.7m0 .9h.7m-1.3 .6h.7m-.5 .5h.7m-.3 1.3h.7m-.2 .8h.7m-2.1 .2h.7m-.5 .1h.7m-.2 .2h.7m.1 .7h.7m-.5 .3h.7m-1.8 1.4h.7m-1.1 .3h.7m-.1 .5h.7m-.7 .7h.7m-.6 .5h.7m-1.3 2.2h.7m-.9 .2h.7m-.1 .3h.7m.3 .2h.7m-2.4 3h.7m.9 .6h.7m-1.4 .3h.7m-1.3 .2h.7m-.9 1.9h.7m-.6 1h.7m-.2 .7h.7m.1 .6h.7m-.6 0h.7m-2.1 .7h.7m-.2 .2h.7m-1.2 1.1h.7m.2 1.5h.7m-1.8 1h.7m.3 .8h.7m-.6 0h.7m-.6 1h.7m-.4 .5h.7m-2.2 1.4h.7m.2 .6h.7m-1.3 1.1h.7m.1 2.1h.7m-1.9 .2h.7m2.5-42.9h.7m-.5 4.4h.7m-.9 1.6h.7m-.6 1.6h.7m-1.6 .2h.7m.3 0h.7m-1.1 .6h.7m-.9 0h.7m-.3 .2h.7m-1.2 .3h.7m-.4 .5h.7m-.4 .4h.7m-1.6 .4h.7m.6 .4h.7m-.6 .2h.7m-1.1 .2h.7m-.3 .1h.7m-1.3 .1h.7m-.5 .2h.7m-.4 .2h.7m-1.8 0h.7m.5 .1h.7m-1.2 .5h.7m-.3 .4h.7m-1.8 .9h.7m-.8 .1h.7m-.9 .3h.7m-.7 .2h.7m-.2 .1h.7m.2 .2h.7m-1.2 0h.7m-.8 .3h.7m-1.7 0h.7m-.7 .1h.7m0 .4h.7m-1.4 .1h.7m.8 .1h.7m-1 .5h.7m-1.7 .3h.7m-.8 .1h.7m.3 0h.7m-1.9 1.3h.7m-.1 0h.7m-.9 .1h.7m-.1 1.5h.7m-.9 0h.7m0 .5h.7m-1.2 .1h.7m-1.5 .2h.7m-.8 .5h.7m.7 1.1h.7m-1.9 .2h.7m.9 .5h.7m-.9 .8h.7m-.9 .7h.7m-.8 .3h.7m-1.4 1.5h.7m.5 1h.7m-1.4 .2h.7m-.9 2.2h.7m-1.4 .6h.7m-.6 .5h.7m-.1 .7h.7m-1.4 .6h.7m.5 .6h.7m-.6 1.2h.7m-1.8 .4h.7m-.1 1h.7m-.2 3h.7m-2.3 3.8h.7m2.9-43.7h.7m-2.2 6.3h.7m.5 1.3h.7m-1.2 1.4h.7m-1 .4h.7m.5 .6h.7m-.9 0h.7m-.9 .8h.7m-1.7 .9h.7m-.6 .1h.7m0 1.8h.7m-1.2 .8h.7m-.4 .2h.7m-1.6 0h.7m.1 .1h.7m-1.3 .1h.7m-.1 .4h.7m.2 .9h.7m-1.4 .4h.7m-1.2 .5h.7m.3 .2h.7m-2 1.4h.7m1 .4h.7m-.9 .9h.7m-1 .1h.7m-1.8 .8h.7m-.3 .1h.7m-.4 1.3h.7m-.3 .5h.7m-1.6 .4h.7m-.6 .3h.7m.2 1.3h.7m-2 .3h.7m1 .1h.7m-.8 .4h.7m-1.7 .6h.7m-.8 .8h.7m.5 0h.7m-1.4 6.1h.7m-1.8 1h.7m-.3 3.7h.7m-.7 .6h.7m.1 1.9h.7m-.8 1h.7m-1 .9h.7m1-35.9h.7m-.7 .3h.7m.6 .7h.7m-.7 .2h.7m-2.4 .8h.7m-.5 .4h.7m-.5 .4h.7m-1.3 .1h.7m.2 0h.7m-.5 .5h.7m-.4 .5h.7m-1.8 .4h.7m.7 .3h.7m-2 .1h.7m-.1 .2h.7m-.7 .1h.7m-.2 0h.7m-2.1 .1h.7m-.4 0h.7m-.9 .1h.7m.7 0h.7m-.4 .1h.7m-1.2 .2h.7m-1.7 0h.7m-.9 0h.7m.9 .1h.7m-1.6 .1h.7m0 .3h.7m-.8 .1h.7m-2 0h.7m-.7 .4h.7m-.9 0h.7m-.3 .2h.7m-.9 .3h.7m.3 .1h.7m-1.1 .1h.7m-1.4 .3h.7m-.4 .2h.7m.5 .3h.7m-.5 .1h.7m-1.5 0h.7m-.3 .2h.7m-2 .2h.7m.6 0h.7m-2.1 0h.7m.3 .1h.7m-1 .1h.7m-.4 .1h.7m-.4 .3h.7m-1.5 .1h.7m-1.1 .8h.7m.8 0h.7m-.8 .1h.7m-2.1 .8h.7m-.5 .3h.7m.7 .1h.7m-.5 5.1h.7m-2 .4h.7m-.8 .3h.7m.5 3.2h.7m-2.2 .4h.7m.3 0h.7m-1 .6h.7m-.6 1.9h.7m-.6 2h.7m-.6 .6h.7m-.4 .9h.7m-2 1.6h.7m-.5 .4h.7m.8 .4h.7m-1.2 5h.7m-.5 4h.7m1.5-42.7h.7m-1 3.6h.7m-2 .4h.7m-.4 1.9h.7m-.9 0h.7m.1 .5h.7m-1 0h.7m-.9 .9h.7m.1 .1h.7m-1.5 .2h.7m.1 .1h.7m-1.5 1.2h.7m.6 .1h.7m-2.2 .3h.7m.7 .3h.7m-1.4 .2h.7m-1.7 .1h.7m.8 .5h.7m-.6 0h.7m-2 .2h.7m-.3 .3h.7m-1.5 0h.7m-.6 .1h.7m-.4 .1h.7m.7 .2h.7m-2.2 0h.7m-.9 .1h.7m.6 .2h.7m-.2 .1h.7m-1.2 0h.7m-1.9 0h.7m-.5 .2h.7m.2 .7h.7m-1.5 1.2h.7m-.7 .5h.7m-.7 .1h.7m-.3 .3h.7m-1.4 .2h.7m.7 .2h.7m-.5 .6h.7m-.6 .1h.7m-2.1 .1h.7m.7 .9h.7m-2 1.4h.7m-.1 1h.7m-1.6 4.1h.7m.5 7.4h.7m-.3 1.6h.7m-1.9 .3h.7m-1.1 3.2h.7m.2 .1h.7m-.6 .9h.7m1.9-33.3h.7m-2.6 .5h.7m-.3 1h.7m.4 .4h.7m-1 .3h.7m-.8 1h.7m-1.6 .2h.7m.2 .4h.7m.1 .1h.7m-1.7 .1h.7m-.9 .2h.7m-.3 0h.7m-.9 .3h.7m-1.3 0h.7m.3 .1h.7m-.4 0h.7m-.8 .3h.7m-2.2 .2h.7m.7 0h.7m-2.1 .1h.7m.9 0h.7m-.6 .5h.7m-.9 0h.7m-.7 .3h.7m-.3 .5h.7m-1.2 .1h.7m-.5 .1h.7m-.6 0h.7m-1.7 .1h.7m-.1 .3h.7m-.2 .4h.7m-2.5 .1h.7m.1 .1h.7m-1.3 .7h.7m-.4 .1h.7m.7 0h.7m-.8 .2h.7m-2.1 .3h.7m.7 .3h.7m-1.3 .3h.7m-.9 1.3h.7m-.8 0h.7m-.3 .2h.7m-1.4 .4h.7m-.4 .4h.7m-1.3 .6h.7m.4 1h.7m-.4 .3h.7m-1.9 .9h.7m-1.1 7.8h.7m-.1 2.4h.7m2.1-26.6h.7m-.3 .1h.7m-2.5 .7h.7m.9 .5h.7m-.9 .4h.7m-1.7 .4h.7m-.2 .7h.7m-1.5 .1h.7m.1 .1h.7m-1.3 .1h.7m.5 1.4h.7m-1.9 .3h.7m.7 .1h.7m-2.3 .7h.7m.7 .1h.7m-1.3 .3h.7m-1.4 .3h.7m-.8 0h.7m.1 .5h.7m-.2 .2h.7m-.6 0h.7m-1 0h.7m-.7 .1h.7m-1.2 0h.7m-1.5 .2h.7m.2 .2h.7m-.3 .3h.7m-.3 .4h.7m-1.4 .1h.7m-.4 .1h.7m-.2 .1h.7m-.9 .2h.7m-2.2 .4h.7m.6 .3h.7m-2.1 .6h.7m1 .2h.7m-1.8 .1h.7m.6 .9h.7m-.8 .7h.7m-1.5 .1h.7m-.5 0h.7m-.3 .9h.7m-.9 .9h.7m-1.9 4.1h.7m.5 4.7h.7m-2 0h.7m-.1 2.8h.7m.1 4.4h.7m1.1-27.7h.7m-1.4 .3h.7m-1.2 .3h.7m.3 0h.7m-1.4 0h.7m-1 .1h.7m.4 .7h.7m-.7 .2h.7m-1.5 .1h.7m-.6 .2h.7m.6 .1h.7m-1.3 .2h.7m-1.1 .2h.7m-.6 .1h.7m-.3 .2h.7m-.9 0h.7m-1 .1h.7m-.9 .5h.7m-1 .1h.7m-1 0h.7m.7 .1h.7m-1.4 .6h.7m.2 .1h.7m-2 .4h.7m-.2 .2h.7m.4 .1h.7m-1.1 .1h.7m-1.7 .1h.7m.5 0h.7m-.9 .5h.7m-1.5 0h.7m.2 .2h.7m-1.6 0h.7m-.4 0h.7m-1.4 .2h.7m.2 .2h.7m-.5 0h.7m-1.6 .3h.7m.3 .2h.7m-2.1 .1h.7m.2 .1h.7m-1.3 1.6h.7m.8 .1h.7m-1.4 2h.7m-.6 11.5h.7m-.9 .5h.7m-1.2 15.9h.7m.7-40.6h.7m.6 1.5h.7m-1.5 .2h.7m.2 .1h.7m-1.2 .8h.7m-.3 .3h.7m-1.2 .7h.7m-1 0h.7m-1.2 .2h.7m-.7 .4h.7m1.2 .3h.7m-1.6 1h.7m-.1 0h.7m-1.9 .2h.7m-1.1 0h.7m1.1 .2h.7m-1.2 0h.7m-.1 .3h.7m-1.8 .1h.7m-.7 .4h.7m-1.5 .1h.7m-.3 .4h.7m-.7 .2h.7m-1.1 .2h.7m-.5 .1h.7m.8 .5h.7m-1.3 .9h.7m-1.4 .5h.7m-1 2.1h.7m.8 1.1h.7m-.8 1.3h.7m-1.7 7.2h.7m1.5-24.5h.7m-.3 .8h.7m-.6 .2h.7m-.9 1h.7m-1.3 1.3h.7m-.9 .1h.7m-.5 .6h.7m-.4 .3h.7m-.2 .2h.7m0 .5h.7m-1.5 .2h.7m-1.3 .2h.7m-.1 .1h.7m-1.5 0h.7m.7 .4h.7m-1.8 .2h.7m-1.1 .4h.7m-.5 .1h.7m-.7 .1h.7m-.1 .7h.7m-1.2 0h.7m0 .1h.7m0 .2h.7m-1.3 0h.7m-.1 .2h.7m-1 .2h.7m-1.7 .1h.7m-.5 .2h.7m.2 .1h.7m-1.1 .1h.7m-.3 .1h.7m-2 .1h.7m-.6 .1h.7m.7 .1h.7m-1.4 .2h.7m-.4 .3h.7m-.5 .1h.7m-.5 .1h.7m-1.1 .3h.7m-1 .1h.7m-1 .1h.7m-1.1 .3h.7m-.3 1.7h.7m0 .3h.7m-1.7 1.2h.7m-1.3 2h.7m2.9-15.2h.7m-.5 .6h.7m-1.4 .4h.7m-.1 2h.7m-1 .7h.7m-1.2 .4h.7m-1.5 0h.7m.2 .1h.7m0 .1h.7m-.5 0h.7m-2.3 .2h.7m.7 .9h.7m-1 .1h.7m-.7 0h.7m-1.7 .3h.7m0 1.1h.7m-.7 .2h.7m-.5 .2h.7m-.6 .1h.7m-1.5 1h.7m.5 .2h.7m-1.4 .1h.7m-.6 .4h.7m-.5 0h.7m-1.4 .6h.7m-.1 .7h.7m-1.8 0h.7m-.2 4.3h.7m1.3-12.9h.7m.3 1.3h.7m-1.7 .3h.7m-.9 .6h.7m-.4 .3h.7m-.3 1.1h.7m-1.9 .2h.7m-.7 .1h.7m.8 .1h.7m-1.6 .2h.7m-.1 .3h.7m-.1 .2h.7m-1.6 .6h.7m-1 .1h.7m-1 .1h.7m-1 .2h.7m.4 2.3h.7m-.3 .5h.7m-.5 2.7h.7m.9-14.1h.7m-.3 2.6h.7m-1.3 .1h.7m-1.4 1.7h.7m.4 0h.7m-1.9 .6h.7m.5 2h.7m-.9 .1h.7m-1.2 .1h.7m0 .4h.7m-.4 1.6h.7m-.6 4.6h.7m1.1-13.2h.7m-2.3 .5h.7m.9 1h.7m-2 .5h.7m-.5 .8h.7m-.8 .8h.7m-.1 1.3h.7m-1.5 1.1h.7m.1 3h.7m-.4 .3h.7m1.3-6.3h.7m-1.7 .6h.7m.7 .6h.7m-2.5 .6h.7m.7 1.5h.7m-2 1h.7m.4 1.3h.7m.7-5.6h.7m-.1 .8h.7m1.1-2.8h.7m-.4 .2h.7m-1.8 1.8h.7m.2 1.5h.7m-1.6 .2h.7m-.2 2.4h.7m-1.4 2.6h.7m3.2-11.3h.7m-2.6 4.4h.7m-.2 .1h.7m-.1 .5h.7m0 0h.7m-.5-2.1h.7m-.5 7.5h.7m3.8-6.8h.7" stroke="#f16a30" stroke-width="0.7" fill="none" opacity="0.6"/>
<path d="M324.7 515.6h.7m-.9 16.3h.7m1.6-12.5h.7m-.4 2.9h.7m1-5.5h.7m-.1 10.4h.7m-1.7 2.8h.7m.1 1.1h.7m-1.7 .3h.7" stroke="#e070e0" stroke-width="0.7" fill="none" opacity="0.6"/>
<line x1="329.50" y1="484.70" x2="329.50" y2="582.00" stroke="#666" stroke-width="0.7"/>
<line x1="280.80" y1="532.50" x2="400.50" y2="532.50" stroke="#666" stroke-width="0.7"/>
<rect x="405.8" y="484.7" width="118.7" height="97.3" fill="#fff" stroke="#777" stroke-width="0.7"/>
<ellipse cx="433.5" cy="560.0" rx="9.4" ry="4.3" transform="rotate(-25 433.5 560.0)" fill="#3a3a3a" opacity="0.5" filter="url(#b2)" clip-path="url(#q3_405)"/>
<path d="M407.9 564h.7m-1.1 1.9h.7m-.4 3.3h.7m-1.9 .2h.7m-.3 1.4h.7m-1.1 1.4h.7m.5 2h.7m-.6 3.9h.7m-.5-18.1h.7m.5 1.2h.7m-1.9 1.5h.7m-.5 .7h.7m.4 2.8h.7m-.4 .7h.7m-2 .4h.7m-.5 1.5h.7m-1.1 1.9h.7m.9 1.8h.7m-1.6 1.9h.7m-.8 5.4h.7m2.4-25.8h.7m-1 6.2h.7m-.7 1.8h.7m-1.8 2.1h.7m-.2 2.7h.7m-1.3 .7h.7m.1 4.2h.7m-1.8 .3h.7m-.5 .5h.7m.2 1.1h.7m-.6 .7h.7m-.1 1.2h.7m-2.2 3.5h.7m2.1-27.2h.7m-.6 2.2h.7m-1.3 3.3h.7m.4 3.4h.7m-2.5 .2h.7m-.1 .4h.7m-1 1.6h.7m.2 .1h.7m-1.3 .3h.7m-.3 .3h.7m0 .6h.7m-2.3 .5h.7m.8 1.7h.7m-1.4 .4h.7m-.2 .2h.7m-1.5 .7h.7m.2 .6h.7m-.4 .1h.7m-.7 .6h.7m-1.8 0h.7m.2 1h.7m-.9 1.7h.7m-.2 .4h.7m-.9 3.8h.7m-.9 .2h.7m-2 5h.7m2.4-26.2h.7m-.8 1.4h.7m-1.7 2.4h.7m.9 .6h.7m-.9 .8h.7m-1.3 .9h.7m0 .7h.7m-.6 .2h.7m-1.1 .5h.7m-.6 .4h.7m-.4 .3h.7m-1 .3h.7m-1.6 .8h.7m-.5 .1h.7m-.2 .7h.7m-1.8 .4h.7m.4 1.1h.7m-1.2 .3h.7m-.6 .1h.7m-.6 .4h.7m-1.4 .8h.7m-.8 .5h.7m-.2 .8h.7m-.9 1.7h.7m-.1 1.6h.7m-1.6 .5h.7m.7 .3h.7m-.8 .4h.7m-1.3 .1h.7m.1 4.6h.7m1.2-30.7h.7m-2.2 4.2h.7m-.2 .4h.7m-.7 4.4h.7m0 .2h.7m-1 1.8h.7m-.2 0h.7m-1 .7h.7m-1.9 .4h.7m-.7 .8h.7m-.4 .4h.7m-.8 .9h.7m.2 .2h.7m-1.8 .2h.7m.6 .8h.7m-1.2 .7h.7m.2 .3h.7m-2.2 .2h.7m.1 .9h.7m0 .7h.7m-1.1 .5h.7m-1.4 .1h.7m.6 .1h.7m-1.3 .5h.7m-1.3 .5h.7m.2 .8h.7m-1.3 1.9h.7m0 1.5h.7m-2 .8h.7m-.1 2.1h.7m-1.2 3.1h.7m1.2-35.9h.7m.5 .6h.7m-2.2 5.4h.7m.9 1.2h.7m-1.5 4.8h.7m-.2 .2h.7m-1.5 .5h.7m.2 .3h.7m-1.9 .1h.7m.4 .3h.7m-.7 .7h.7m-1.6 1.4h.7m0 .5h.7m-.8 1.7h.7m-1.5 0h.7m.5 .2h.7m-1.1 .3h.7m-.5 .2h.7m-1.4 .1h.7m-1.2 .3h.7m-.6 .2h.7m.9 .6h.7m-1.5 .1h.7m-1.5 .4h.7m-.2 1h.7m0 .1h.7m-.9 .1h.7m-.2 .4h.7m-.9 .2h.7m-1.9 0h.7m-.7 0h.7m.7 .2h.7m-2.2 .7h.7m-.9 0h.7m.8 .6h.7m-1 .1h.7m-.1 .5h.7m-1.3 0h.7m-1.5 .2h.7m-.1 .3h.7m-1.6 .2h.7m-.3 .2h.7m-1.1 .5h.7m.8 .2h.7m-1.3 0h.7m-1.6 .1h.7m-.7 .6h.7m.9 1.5h.7m-1.4 .2h.7m-.2 .3h.7m-.5 0h.7m-.7 0h.7m-1.3 .7h.7m-1.4 .7h.7m.1 .1h.7m-1.8 .7h.7m.9 .6h.7m-1.2 .5h.7m0 2.9h.7m.5-24.1h.7m-1.6 .1h.7m.9 .9h.7m-1.6 1.1h.7m-.2 .2h.7m-1.4 .1h.7m-1.2 .5h.7m.5 1.3h.7m-.7 1.2h.7m-.7 .3h.7m-.3 .8h.7m-1.5 .2h.7m-1.5 .1h.7m-.1 .2h.7m-1.2 .6h.7m.2 .4h.7m-1.6 .1h.7m-.5 .4h.7m.2 .6h.7m-.9 .1h.7m-1.6 .1h.7m-.1 .1h.7m-1.1 .1h.7m-.6 .1h.7m-.1 .4h.7m0 0h.7m-2.3 .4h.7m.9 .3h.7m-1 .1h.7m-1.2 .3h.7m-.9 0h.7m-.9 0h.7m-.2 .8h.7m-.9 0h.7m-.6 .1h.7m-.8 .2h.7m-1.3 .1h.7m0 .1h.7m-.4 .2h.7m-2 .3h.7m1 .2h.7m-2.2 .2h.7m.2 .5h.7m-1.3 .5h.7m-.1 .1h.7m-.7 0h.7m0 .2h.7m-2 0h.7m.6 .1h.7m-1.1 0h.7m-1.1 0h.7m-.4 .1h.7m-1.7 .2h.7m.4 .6h.7m-1.9 .2h.7m-.1 .2h.7m-.9 .9h.7m.1 .3h.7m-1.3 .3h.7m0 .2h.7m-1.1 .2h.7m-.7 1h.7m-1 .9h.7m-.5 .9h.7m-1.3 .2h.7m-.2 .2h.7m-1 .3h.7m-.8 .4h.7m-.7 1.2h.7m-.5 1.1h.7m1.5-24.8h.7m-1.6 2.1h.7m-.1 1h.7m-.4 1.1h.7m.2 .5h.7m-1.7 0h.7m.3 .4h.7m-2.3 .5h.7m.4 .5h.7m-1.5 .3h.7m-1.1 .1h.7m.3 .7h.7m-1.7 0h.7m.6 .1h.7m-1.4 .3h.7m0 .3h.7m-1.9 .1h.7m-.4 .4h.7m.2 .3h.7m-1.5 .2h.7m-1.3 0h.7m.7 0h.7m-.5 .1h.7m-1.8 .1h.7m-.9 .1h.7m-.4 .1h.7m-1.3 .1h.7m1.1 .1h.7m-2.6 0h.7m1 .1h.7m-1.9 .1h.7m-.2 0h.7m0 .3h.7m-.5 .4h.7m-1.6 0h.7m-.2 .1h.7m-.4 0h.7m-1.5 .4h.7m-1.3 .3h.7m.1 .2h.7m-1.8 .7h.7m.7 0h.7m-2.2 .4h.7m-.5 .1h.7m.8 .1h.7m-1.6 0h.7m-.9 .2h.7m-.4 .3h.7m-.7 0h.7m-.5 .1h.7m-.5 .4h.7m-.1 .1h.7m-1.6 .2h.7m-.1 .1h.7m-1.1 .1h.7m-1.6 .1h.7m.2 0h.7m-.7 .1h.7m-.5 .1h.7m-.4 .2h.7m-2.3 .3h.7m-.4 .6h.7m-.4 .2h.7m.5 0h.7m-2.5 .3h.7m.9 .4h.7m-1.9 .4h.7m-.8 0h.7m-.5 .2h.7m-.5 .2h.7m-1 .2h.7m.6 .9h.7m-1.4 0h.7m-1.7 .5h.7m.8 .9h.7m-1.3 .1h.7m-1 .3h.7m-.1 0h.7m-1.2 1h.7m-1 .6h.7m-.1 1.1h.7m-1.1 .5h.7m-1 .1h.7m-.5 .2h.7m.5 .5h.7m-.8 1.2h.7m-2.4 1.8h.7m-.3 .9h.7m1-28.7h.7m.1 1.8h.7m.2 .4h.7m-1.3 .8h.7m-1.2 .3h.7m-1.3 .6h.7m.4 .2h.7m-1.9 .1h.7m.6 0h.7m-.8 0h.7m-.3 .8h.7m-1.4 .1h.7m-.6 .3h.7m-.8 .2h.7m.2 .1h.7m-.7 0h.7m-.7 .1h.7m-1.6 .2h.7m-1.4 0h.7m-.8 .2h.7m.6 .3h.7m-1.5 0h.7m.3 .5h.7m-.5 .1h.7m-1.5 .1h.7m-1.1 .5h.7m-.3 .1h.7m-.4 .2h.7m-1.4 .2h.7m.2 0h.7m-1.7 .1h.7m.1 .1h.7m-.9 0h.7m-1.8 .3h.7m1.2 .2h.7m-2.6 .2h.7m.4 .2h.7m-.5 .2h.7m-.6 .1h.7m-.7 0h.7m-.4 .2h.7m-1.6 0h.7m-.9 .1h.7m-1 .1h.7m.9 0h.7m-1.7 0h.7m-.5 .1h.7m-1.4 .1h.7m-.4 0h.7m-.7 .1h.7m-1 .1h.7m-.7 .2h.7m.1 0h.7m-.6 .2h.7m-.4 0h.7m-1.5 .1h.7m-.2 .1h.7m-.2 .1h.7m-.9 0h.7m-1.7 .1h.7m.4 .1h.7m-.8 .1h.7m-2.3 .1h.7m.8 .2h.7m-1.6 .2h.7m-.3 0h.7m-1.1 .2h.7m-.9 .1h.7m.5 0h.7m-2.2 0h.7m.7 .1h.7m-2 0h.7m-.1 .3h.7m-.3 0h.7m-.7 .3h.7m-1.8 .1h.7m-.2 0h.7m-1 .1h.7m-.9 .1h.7m-.2 0h.7m-.9 .1h.7m.2 .1h.7m-1.8 0h.7m.3 .1h.7m-.3 .3h.7m-2.3 .2h.7m-.3 .1h.7m-.9 0h.7m.9 .3h.7m-1.5 .1h.7m.1 0h.7m-1.9 .1h.7m-1.3 .1h.7m1.1 .1h.7m-1.4 .1h.7m-1.3 0h.7m.4 .1h.7m-1.5 .2h.7m.4 .2h.7m-.9 0h.7m-.7 .1h.7m-1.4 .1h.7m-.4 .1h.7m-.6 .2h.7m-.4 .1h.7m-.7 .1h.7m-1.4 0h.7m-1 .3h.7m.4 .1h.7m-2.3 .4h.7m.7 .1h.7m-1.5 0h.7m-1.1 .1h.7m.4 0h.7m-1.1 .3h.7m-1.5 .1h.7m-.4 .1h.7m.4 .1h.7m-.7 .4h.7m-.5 .3h.7m-2.1 .1h.7m.1 .8h.7m-1.8 .3h.7m.7 .1h.7m-1.6 .1h.7m-.6 1.8h.7m0 .6h.7m-.4 .9h.7m-1.2 .1h.7m-1.3 1.3h.7m-.2 1.2h.7m-.1 .1h.7m-.5-27.9h.7m-.7 .2h.7m1.1 .1h.7m-1.7 1.2h.7m0 .1h.7m-1.4 2.8h.7m-.4 .3h.7m.1 .6h.7m-1 .1h.7m-.5 .3h.7m-.8 .3h.7m-2 .3h.7m-.6 0h.7m-.7 .3h.7m0 .1h.7m-.5 .1h.7m-1.4 .4h.7m0 .2h.7m-1.7 0h.7m.8 .5h.7m-2.6 0h.7m.6 .1h.7m-1.3 .1h.7m-.7 .2h.7m.3 0h.7m-2.3 .4h.7m.8 .1h.7m-1.3 .1h.7m-.2 .2h.7m-1.5 0h.7m-.3 .1h.7m-1.8 .1h.7m1.1 0h.7m-2.1 .4h.7m-.3 .1h.7m-.2 0h.7m-.7 .1h.7m-1.7 0h.7m.3 .1h.7m-.9 0h.7m-.6 .2h.7m-.5 .2h.7m-.5 .3h.7m-1.1 .1h.7m-.5 0h.7m-1.8 .1h.7m.1 .1h.7m-.1 .3h.7m-2.1 .1h.7m.8 .1h.7m-.7 .1h.7m-1.3 0h.7m-.4 .2h.7m-.7 .2h.7m-2.2 .1h.7m-.2 0h.7m-1.1 .1h.7m.5 .1h.7m-1.9 0h.7m1.1 .2h.7m-2.4 .1h.7m.1 0h.7m-.1 0h.7m-1.5 .1h.7m-1.2 .1h.7m-.2 .1h.7m-1.1 0h.7m-.6 0h.7m-.5 .1h.7m-.5 0h.7m-.7 0h.7m-.5 0h.7m-.9 0h.7m.1 .1h.7m-1.6 .1h.7m-.7 0h.7m-.4 0h.7m-1.4 .1h.7m.7 0h.7m-.8 .1h.7m-1.4 0h.7m-.3 .2h.7m-1.2 0h.7m-.2 .1h.7m-.5 .1h.7m-1.6 0h.7m.2 0h.7m-1.6 .1h.7m-.2 0h.7m-.9 0h.7m.2 .1h.7m-2.4 .1h.7m.3 0h.7m-.4 .2h.7m-.6 .1h.7m-.8 0h.7m-.3 .2h.7m-2.5 0h.7m-.4 0h.7m.4 0h.7m-.7 .3h.7m-2.1 .4h.7m.2 .1h.7m-1.3 .4h.7m-1.1 0h.7m0 .1h.7m.2 0h.7m-.6 .1h.7m-.9 .2h.7m-.9 0h.7m-.2 .3h.7m-2.1 .1h.7m-.3 0h.7m-1.1 .2h.7m.8 .1h.7m-1.4 .2h.7m-1.9 .2h.7m1.2 .1h.7m-2.2 0h.7m.4 .2h.7m-1.2 .7h.7m-.9 .1h.7m-1.4 0h.7m-.5 0h.7m-.9 .1h.7m-.5 .3h.7m-.9 .1h.7m.5 0h.7m-1.9 .7h.7m.5 .8h.7m-1.9 1.7h.7m1.1 .4h.7m-2 .4h.7m.6 .2h.7m-1.9 .2h.7m-.3 .2h.7m.1 .1h.7m-1.6 .3h.7m.2 .3h.7m-2.4 .2h.7m.2 .8h.7m-.6 .7h.7m-1.6 .7h.7m-.3 2.2h.7m.5 .7h.7m-1.7 1.1h.7m1.7-33.5h.7m-1.4 .3h.7m.6 3.6h.7m-2.5 .1h.7m-.7 .1h.7m0 1h.7m-1.2 .4h.7m.4 .8h.7m-.7 .3h.7m-.5 .1h.7m-1.7 .3h.7m-1.2 .1h.7m-.1 .1h.7m-1.1 .2h.7m.2 .3h.7m-.2 .3h.7m-1.3 .4h.7m-.4 .4h.7m-.5 .2h.7m-2.2 .1h.7m-.7 .1h.7m-.3 0h.7m.4 .7h.7m-2.1 0h.7m-.2 .1h.7m-.1 .2h.7m-.8 0h.7m-1.2 .3h.7m-.2 .1h.7m-.8 .1h.7m-1.1 .1h.7m.5 .1h.7m-1.9 .1h.7m.1 .1h.7m-1.8 .1h.7m-.1 0h.7m-.5 .4h.7m-1.6 .1h.7m.6 0h.7m-1.4 .1h.7m0 .1h.7m-2.1 .1h.7m.4 0h.7m-.6 .2h.7m-.4 0h.7m-1.7 .1h.7m-.2 0h.7m-.7 0h.7m-1.2 .1h.7m.3 0h.7m-1.5 0h.7m-1.4 .3h.7m-.5 .2h.7m-.4 0h.7m.1 .1h.7m-1.9 0h.7m.6 .1h.7m-1.1 0h.7m-1.3 0h.7m-.4 .3h.7m-.1 0h.7m-1.3 .1h.7m-.9 .1h.7m.1 0h.7m-.6 .1h.7m-1.7 .1h.7m-.1 0h.7m-1.3 0h.7m-.8 .1h.7m-.7 0h.7m0 0h.7m-1.4 .1h.7m-1 .2h.7m.5 0h.7m-1.5 .1h.7m-.5 0h.7m-.9 0h.7m.3 0h.7m-.6 .1h.7m-.8 .1h.7m-.5 0h.7m-.7 0h.7m-.6 .1h.7m-1.6 0h.7m-.5 0h.7m0 .1h.7m-.7 .1h.7m-1.9 0h.7m-.8 .1h.7m-.7 0h.7m-.5 0h.7m.2 .1h.7m-.7 0h.7m-1.2 0h.7m-1.7 .1h.7m0 .1h.7m-.8 0h.7m.1 0h.7m-1.1 .1h.7m-1.8 0h.7m-.7 0h.7m.1 .1h.7m-1.3 0h.7m-.8 .1h.7m.4 0h.7m-.3 .4h.7m-1.5 0h.7m-.5 0h.7m-.6 0h.7m-1.4 .1h.7m-1.1 0h.7m1.1 0h.7m-.8 0h.7m-1.5 .1h.7m-1.7 .1h.7m1.2 0h.7m-1.3 0h.7m-2 .3h.7m-.4 0h.7m.2 0h.7m-.8 0h.7m-1.5 .1h.7m.4 .1h.7m-.8 .2h.7m-.7 .1h.7m-.9 0h.7m-.5 0h.7m-1.7 .1h.7m-.1 0h.7m-.1 .1h.7m-1.8 .1h.7m-.8 0h.7m.7 .1h.7m-1.6 .1h.7m-.5 0h.7m0 .2h.7m-2.1 0h.7m-.5 .1h.7m.5 0h.7m-2.2 .1h.7m0 .1h.7m-.2 0h.7m-1.4 .2h.7m.2 .1h.7m-1.1 .2h.7m-1.7 .1h.7m0 .1h.7m-.7 .1h.7m.1 0h.7m-.9 .1h.7m-1.7 0h.7m-1.2 0h.7m1 .2h.7m-.9 0h.7m-1.7 .2h.7m-.9 0h.7m-.8 .1h.7m-.9 0h.7m1.2 .1h.7m-1.4 0h.7m-.3 .1h.7m-.5 .1h.7m-1.7 .1h.7m.2 0h.7m-2.4 .1h.7m1.2 0h.7m-1.9 .2h.7m-.3 .4h.7m-1.5 .2h.7m0 0h.7m-.4 .1h.7m-1.2 .2h.7m.1 .1h.7m-1.6 0h.7m-.7 .2h.7m-1.4 .1h.7m1.1 0h.7m-1.7 .9h.7m-1.5 .3h.7m.8 .1h.7m-1.7 .1h.7m-1.2 .2h.7m1 .2h.7m-1.3 .7h.7m.1 .2h.7m-1.9 .5h.7m-.5 1.4h.7m-.4 .6h.7m-1.2 .8h.7m.1 .8h.7m-1.3 3.9h.7m1.5-32.5h.7m-1.5 1.2h.7m-.6 1.8h.7m-.1 .7h.7m-1.5 0h.7m.4 2.1h.7m-1.8 .1h.7m.1 1h.7m-.9 .6h.7m-.9 .5h.7m-.3 .2h.7m-1.1 .1h.7m-.9 0h.7m.8 .1h.7m-1.4 0h.7m-1 .1h.7m-.7 .2h.7m-.2 .2h.7m-2 0h.7m.6 .2h.7m-1.2 .1h.7m-.5 .6h.7m-.5 .1h.7m-1.5 0h.7m0 .1h.7m-.9 0h.7m-.1 .4h.7m-.7 .1h.7m-1.6 .1h.7m-.4 0h.7m-1.6 .1h.7m-.8 0h.7m.7 0h.7m-2.1 .1h.7m1.1 .1h.7m-.9 .1h.7m-.9 .1h.7m-1.6 .2h.7m.2 .2h.7m-1.1 0h.7m-.9 .1h.7m-.4 0h.7m-1.7 0h.7m-.4 .1h.7m-.6 .1h.7m-1 .1h.7m.4 0h.7m-.5 0h.7m-2.1 0h.7m.7 .1h.7m-.9 0h.7m-.6 .2h.7m-2 0h.7m-.4 .1h.7m.6 0h.7m-1.7 .1h.7m-.5 .1h.7m-1.2 0h.7m-.4 .1h.7m.5 0h.7m-1.1 .1h.7m-1.2 0h.7m0 0h.7m-1.9 0h.7m-.3 .1h.7m-.8 .1h.7m-.3 0h.7m-1.6 0h.7m-.7 .1h.7m.2 .1h.7m-.4 0h.7m-1 0h.7m0 .2h.7m-.9 0h.7m-2 .1h.7m-.2 0h.7m-.9 .1h.7m-.8 .1h.7m-1 0h.7m-.2 0h.7m0 .2h.7m-1.7 .2h.7m.2 0h.7m-1.1 .1h.7m.1 0h.7m-.7 .1h.7m-2.2 0h.7m.9 0h.7m-1.7 .1h.7m-.3 0h.7m-.4 .2h.7m-1.6 .1h.7m-.6 .3h.7m.3 .1h.7m-1.5 0h.7m0 .1h.7m-1.6 0h.7m-.3 .1h.7m-1.1 0h.7m-1.5 .1h.7m.1 0h.7m-1 0h.7m.3 .1h.7m-1 0h.7m-.8 .1h.7m-1.7 0h.7m.3 0h.7m-.4 .1h.7m-.4 0h.7m-1.5 0h.7m0 0h.7m-1.1 0h.7m-1.7 .3h.7m.1 0h.7m-1.4 .1h.7m-.8 0h.7m-.2 0h.7m-.3 0h.7m-1.7 0h.7m.8 .1h.7m-2.3 0h.7m-.3 .1h.7m-.1 0h.7m-.7 0h.7m-.5 .1h.7m-.1 0h.7m-.9 0h.7m-2.1 .1h.7m.6 .1h.7m-.9 0h.7m-1.4 0h.7m.4 .1h.7m-1 0h.7m-1.7 0h.7m-.3 .1h.7m.4 0h.7m-1.2 0h.7m-1.3 .1h.7m-1.1 0h.7m.4 0h.7m-1.6 .1h.7m-.7 .1h.7m-1.3 0h.7m.9 0h.7m-1.8 0h.7m.7 .1h.7m-1 0h.7m-1.2 0h.7m-1.4 .2h.7m.6 .1h.7m-2.3 0h.7m.6 .2h.7m-2.1 0h.7m.3 .2h.7m-1.5 .2h.7m.5 .1h.7m-1.2 0h.7m-.8 .3h.7m-.6 .1h.7m-1 .1h.7m-1 .1h.7m0 .2h.7m-1.6 0h.7m-.7 0h.7m-.7 .1h.7m-.5 0h.7m-.7 0h.7m.8 0h.7m-.8 .1h.7m-1.6 .2h.7m-1.3 0h.7m.9 0h.7m-1.6 0h.7m-.9 0h.7m-.4 .1h.7m-1.4 .1h.7m.8 .1h.7m-1 .2h.7m-1.3 0h.7m.3 0h.7m-.9 .1h.7m-2.2 .2h.7m-.9 .2h.7m.5 .1h.7m-1.2 .1h.7m-.7 .2h.7m-1.2 .1h.7m.1 0h.7m-.9 .6h.7m.1 0h.7m-2.2 .2h.7m.2 0h.7m-.8 .4h.7m-.2 .3h.7m-1.2 .2h.7m-1.5 .2h.7m-.3 .1h.7m-.2 .2h.7m-1 0h.7m.5 .5h.7m-2.5 .3h.7m-.8 .1h.7m.8 .2h.7m-1.2 .9h.7m-1 .4h.7m-.3 .6h.7m0 .1h.7m-1.6 .1h.7m-1.1 .3h.7m-1.1 .3h.7m.8 0h.7m-2 .2h.7m-.8 .9h.7m-.8 2.7h.7m1 .3h.7m-2.2 1.5h.7m-.7 .6h.7m-.2 .2h.7m1-39.9h.7m-.1 5.3h.7m-1.2 3.2h.7m-1 .2h.7m.2 .2h.7m-.6 1.3h.7m-.5 1.1h.7m-.6 .4h.7m-1.1 1.4h.7m-1.6 .4h.7m.8 .3h.7m-.9 .1h.7m-.7 .6h.7m-1.3 0h.7m-.1 .4h.7m-1.9 .2h.7m.2 .1h.7m-.7 .2h.7m-2 .1h.7m-.5 0h.7m-.6 .1h.7m-.2 0h.7m-.3 0h.7m-.8 .2h.7m-.6 .1h.7m-1.6 .1h.7m.9 .1h.7m-1.7 .4h.7m0 .1h.7m-2.1 0h.7m-.4 .1h.7m.4 .2h.7m-1 0h.7m-1.3 .1h.7m-1.2 0h.7m-.2 .1h.7m.1 0h.7m-.6 .1h.7m-1.9 0h.7m-.4 0h.7m.5 .1h.7m-1.3 0h.7m-1.1 .1h.7m-1.2 .2h.7m-.1 0h.7m-1.6 0h.7m0 .3h.7m-1.2 0h.7m-.6 0h.7m-.6 .1h.7m.5 0h.7m-.7 0h.7m-1.4 .1h.7m-1.2 0h.7m-.9 .1h.7m-.7 .1h.7m.7 .1h.7m-.6 0h.7m-1.1 .1h.7m-1.3 .1h.7m-.4 .1h.7m-1.5 .1h.7m.1 0h.7m-.5 .1h.7m-2 0h.7m.2 0h.7m0 .1h.7m-2.1 0h.7m-.7 0h.7m-.4 .1h.7m-1.1 0h.7m.2 0h.7m-1.7 .1h.7m-.7 0h.7m.8 0h.7m-1.7 .1h.7m-.9 0h.7m-.1 .1h.7m-.5 .1h.7m-1.2 .1h.7m.3 0h.7m-.8 .1h.7m-1.2 0h.7m-1.4 .1h.7m.3 0h.7m-.3 0h.7m-2 0h.7m-.6 .1h.7m-1.2 0h.7m.3 .1h.7m-.1 0h.7m-1.6 .1h.7m-1.2 0h.7m-.8 0h.7m.7 0h.7m-2 .3h.7m-.8 0h.7m.4 0h.7m-.7 .1h.7m-1 0h.7m-1.4 .1h.7m-.3 0h.7m-1.3 0h.7m.7 0h.7m-1.6 .1h.7m.3 0h.7m-1.4 .1h.7m-.4 0h.7m-1 .1h.7m-.8 0h.7m-.9 .1h.7m-.3 0h.7m-1.1 .1h.7m-.6 0h.7m-1 0h.7m-.6 0h.7m-.8 .2h.7m-.4 .1h.7m-.5 .1h.7m-.3 0h.7m-1.3 .1h.7m.6 .1h.7m-1.2 0h.7m-1.8 .1h.7m-.1 0h.7m.2 0h.7m-2.3 .1h.7m1 0h.7m-.9 0h.7m-.7 0h.7m-1.6 0h.7m-1.3 .1h.7m1 0h.7m-1.6 .1h.7m-1.2 0h.7m-.4 0h.7m-.6 0h.7m-.1 0h.7m-.3 0h.7m-2.2 .1h.7m-.4 .2h.7m.5 0h.7m-1.9 .2h.7m.3 0h.7m-2 0h.7m.7 .1h.7m-2 0h.7m.2 0h.7m-.2 .2h.7m-2.6 .2h.7m.3 0h.7m-1.7 .1h.7m0 .1h.7m-.7 0h.7m-.3 .1h.7m-1.8 .1h.7m-.7 0h.7m1.2 0h.7m-2.2 .2h.7m.7 0h.7m-1.7 0h.7m-.6 0h.7m-1.6 .1h.7m1.2 .1h.7m-2.2 .1h.7m.4 .1h.7m-1.5 .3h.7m-.6 .2h.7m-.5 0h.7m-1.1 .1h.7m-.9 0h.7m-.5 .1h.7m-.4 0h.7m-1.4 .3h.7m-.2 .1h.7m.5 .1h.7m-.7 .1h.7m-1.3 .2h.7m-.8 0h.7m0 .1h.7m-1.3 0h.7m-.1 0h.7m-2.6 .1h.7m.6 0h.7m-.4 .1h.7m-.5 0h.7m-1.6 .1h.7m.1 0h.7m-2 .5h.7m.7 0h.7m-1.9 .1h.7m.2 .2h.7m-1.1 .3h.7m-.3 0h.7m-1.8 .2h.7m0 0h.7m-1.4 .3h.7m.2 0h.7m-.6 .2h.7m-.7 .1h.7m-2 .1h.7m.1 .1h.7m-.8 .2h.7m-.5 0h.7m-.6 0h.7m-1.1 .2h.7m-.2 0h.7m-1 .2h.7m-.1 .1h.7m-.5 .1h.7m-.8 1.3h.7m-1.7 .1h.7m-.2 1h.7m0 .2h.7m-2.3 2h.7m1 1.1h.7m-2.5 .6h.7m.3 .1h.7m-1.1 1.1h.7m2-31.8h.7m-1.4 4.1h.7m-.8 .2h.7m.6 1.9h.7m-.8 .1h.7m-.8 .7h.7m-2.4 .9h.7m-.1 .2h.7m-.7 0h.7m0 .2h.7m-1.2 .2h.7m-1.5 .1h.7m1 .4h.7m-2.2 .1h.7m.9 .2h.7m-1.7 .4h.7m-1.3 0h.7m-.6 .1h.7m.3 0h.7m-1.5 .3h.7m.4 .1h.7m-1 0h.7m-1.4 .2h.7m-.3 .2h.7m-.3 0h.7m-1.1 .1h.7m-1.3 .2h.7m-.9 0h.7m.8 0h.7m-.7 .1h.7m-2.2 .1h.7m-.8 0h.7m1 0h.7m-.9 .1h.7m-2.2 0h.7m-.5 .3h.7m.8 0h.7m-.8 0h.7m-1.6 0h.7m.4 .1h.7m-1.8 0h.7m-.9 .1h.7m-1.3 .1h.7m-.1 0h.7m.2 .2h.7m-.4 0h.7m-1.9 .1h.7m.3 .1h.7m-1.8 .1h.7m.4 .3h.7m-1.5 0h.7m-.4 .1h.7m.1 .1h.7m-.7 .2h.7m-1.8 0h.7m.1 .1h.7m-1.6 0h.7m-.5 .1h.7m-.3 0h.7m-1.2 .1h.7m-1.2 .1h.7m.3 .1h.7m-.9 .1h.7m-.8 0h.7m-1.2 0h.7m-.2 0h.7m-1.3 .1h.7m.6 0h.7m-.8 .1h.7m-.7 0h.7m-.6 0h.7m-1.7 .2h.7m.3 .1h.7m-1.6 0h.7m-.7 0h.7m.4 0h.7m-2.6 .1h.7m-.2 0h.7m.1 .2h.7m-1.1 .1h.7m-.3 0h.7m-1 .1h.7m-1.7 0h.7m-.1 0h.7m-.3 0h.7m-.3 .1h.7m-1.7 0h.7m.5 .1h.7m-1.4 0h.7m-.2 .1h.7m-.3 .1h.7m-2.1 0h.7m-.2 0h.7m-.1 .1h.7m-.9 0h.7m-.3 .1h.7m-1.1 0h.7m-.2 0h.7m-2.2 .1h.7m.4 .1h.7m-.3 0h.7m-1.2 .1h.7m-1.1 .1h.7m-.2 .1h.7m-1.4 0h.7m.3 0h.7m-1.6 0h.7m.3 .1h.7m-2.2 .1h.7m.7 .1h.7m-2.3 0h.7m.8 0h.7m-1.5 .1h.7m-.1 .1h.7m-1.9 0h.7m1 0h.7m-1.7 0h.7m-.1 0h.7m-1.1 .1h.7m-1.1 0h.7m.2 .2h.7m-.6 .1h.7m-1.3 0h.7m-1.1 0h.7m-1.3 .1h.7m-.2 0h.7m-1 .1h.7m.9 .1h.7m-2.3 0h.7m.3 0h.7m-.4 .1h.7m-1.8 0h.7m-.1 0h.7m-1.2 0h.7m-.3 .2h.7m-1.1 0h.7m-.9 0h.7m-.8 .1h.7m-.7 0h.7m.1 .1h.7m-1.7 0h.7m.2 .1h.7m-1.5 0h.7m.3 0h.7m-1.2 0h.7m-.4 .1h.7m-1.6 .1h.7m.4 .1h.7m-.7 0h.7m-.3 .2h.7m-.9 0h.7m-1.2 0h.7m-.4 .1h.7m-.3 0h.7m-2.2 .1h.7m-.8 0h.7m1.1 .1h.7m-.7 0h.7m-.9 0h.7m-1.2 .1h.7m-.2 .1h.7m-1 0h.7m-.4 .1h.7m-2.1 0h.7m-.5 0h.7m.6 .1h.7m-1.8 0h.7m-1.2 .1h.7m-.5 0h.7m.1 .1h.7m-1.5 0h.7m-.1 .1h.7m.1 0h.7m-.8 .3h.7m-1.8 .1h.7m-.8 0h.7m-.4 .1h.7m-.3 0h.7m-.8 .2h.7m-1.7 .2h.7m.1 0h.7m-1.1 0h.7m-.5 .2h.7m-.5 0h.7m-.8 .1h.7m-.7 .1h.7m-1.4 .1h.7m-.2 0h.7m-.8 .1h.7m-.9 0h.7m1 .3h.7m-.8 .1h.7m-.9 .1h.7m-.9 0h.7m-1 .2h.7m-1.5 .1h.7m-.4 .3h.7m.5 .2h.7m-2 .1h.7m-1.2 0h.7m.7 .3h.7m-1.5 .3h.7m-1.3 .2h.7m1 .3h.7m-.7 .7h.7m-1.6 .4h.7m-1.3 0h.7m-.3 .6h.7m-.9 0h.7m-.7 .8h.7m.6 0h.7m-2.1 .2h.7m.7 1.1h.7m-1.2 2.2h.7m-1.1 .3h.7m.4 .2h.7m-1.8 2.7h.7m-1.5 .7h.7m2.5-31.9h.7m-1 .4h.7m-.1 3.3h.7m-1.5 .7h.7m-.3 .3h.7m-1.2 1h.7m.1 0h.7m-1.2 .4h.7m-.1 0h.7m-1.9 .4h.7m-.9 .1h.7m.3 .3h.7m-1.7 .2h.7m1.1 .2h.7m-2.2 0h.7m-.7 0h.7m-.1 0h.7m.1 .2h.7m-.9 .2h.7m-2.2 .3h.7m-.7 .3h.7m.7 .1h.7m-1.7 .3h.7m-.6 .2h.7m.2 .1h.7m-.5 0h.7m-1.1 0h.7m-.7 .1h.7m-.4 .2h.7m-1.5 .1h.7m-.1 0h.7m-1.1 .4h.7m-1.5 .1h.7m-.4 0h.7m.5 .1h.7m-1.7 0h.7m-.6 .1h.7m-.8 0h.7m-.4 0h.7m-.3 .1h.7m-1.4 .1h.7m.3 0h.7m-.9 0h.7m-1.8 0h.7m-.5 0h.7m-.5 .1h.7m-.9 0h.7m-.9 0h.7m-1.1 .1h.7m.1 0h.7m.3 .1h.7m-1.2 0h.7m-.1 0h.7m-2.4 0h.7m.8 .1h.7m-1.5 .1h.7m-.8 .1h.7m.1 0h.7m-1.4 .1h.7m.3 .1h.7m-1.7 .1h.7m.1 0h.7m-2.3 .1h.7m-.2 .1h.7m.4 0h.7m-2.4 0h.7m-.1 0h.7m-.1 .1h.7m0 .2h.7m-1 0h.7m-2.3 0h.7m.3 .1h.7m-.4 0h.7m-.5 0h.7m-2 0h.7m.7 .1h.7m-2.1 0h.7m.1 .1h.7m-.8 0h.7m.1 0h.7m-1.1 0h.7m-.1 .2h.7m-1.4 .1h.7m-.6 0h.7m-1.1 .1h.7m-1.4 0h.7m0 0h.7m-.3 .5h.7m-1.5 0h.7m.3 .3h.7m-1.1 0h.7m-.2 0h.7m-.6 0h.7m-2.2 .1h.7m0 0h.7m-.6 0h.7m-.7 0h.7m-.7 .2h.7m-.2 0h.7m-1 .2h.7m-1.9 0h.7m-.6 0h.7m0 .1h.7m-1.1 0h.7m.3 0h.7m-.9 0h.7m-.8 .1h.7m-1.8 .1h.7m-.6 .1h.7m-.2 0h.7m-.5 0h.7m-1.5 .1h.7m-.7 .1h.7m.1 .1h.7m-1 0h.7m-.6 0h.7m.1 .1h.7m-.5 0h.7m-1.6 .2h.7m-.5 0h.7m-1.1 .1h.7m.3 .1h.7m-1.2 0h.7m-1 .1h.7m-1.3 .1h.7m.1 0h.7m-1.1 0h.7m0 0h.7m-1.9 .1h.7m.5 .1h.7m-.7 .1h.7m-1.7 0h.7m-.9 0h.7m-.1 .1h.7m-.1 0h.7m-.8 0h.7m-.4 0h.7m-2 0h.7m.8 .1h.7m-1.6 0h.7m0 .1h.7m-1.1 0h.7m-1.5 0h.7m-.4 0h.7m-.8 .1h.7m-.7 0h.7m-1.1 .1h.7m1.1 .1h.7m-.8 .2h.7m-1.4 0h.7m-.4 0h.7m-1.4 0h.7m.1 0h.7m-1.5 .1h.7m-1.1 0h.7m-.6 .1h.7m-.6 0h.7m-.2 0h.7m.1 0h.7m-1.8 .1h.7m-.1 .1h.7m-.9 0h.7m-1.5 .2h.7m-.6 0h.7m-.5 .3h.7m-.7 .1h.7m-.4 0h.7m-.4 .1h.7m-.3 0h.7m-.8 0h.7m-1.8 0h.7m-.7 .2h.7m.8 0h.7m-1.3 .1h.7m-1.6 0h.7m0 .2h.7m-1.5 0h.7m.2 0h.7m-1.8 0h.7m-.5 .1h.7m-.1 0h.7m-.3 0h.7m-.7 .1h.7m-.6 .1h.7m-1.5 .2h.7m-1.2 0h.7m-.4 0h.7m-1 .3h.7m-.5 .1h.7m-.2 0h.7m-.2 .1h.7m-1.4 .2h.7m.1 .1h.7m-.9 .1h.7m-.9 0h.7m-1.1 .3h.7m-.8 0h.7m-.8 .1h.7m-1 .3h.7m1.1 0h.7m-1.3 .2h.7m-1.7 0h.7m-.9 .1h.7m.7 .2h.7m-.7 .3h.7m-1.2 .3h.7m-1.3 .2h.7m.3 .7h.7m-1.4 .2h.7m-.7 .6h.7m-1 .3h.7m-.1 .3h.7m0 .2h.7m-2.2 0h.7m.4 .2h.7m-1 .6h.7m-1.5 1.8h.7m.8 1.3h.7m-1.1 1.3h.7m-1.7 1.9h.7m-.2 2.4h.7m1.6-34.7h.7m-1.7 1h.7m1 2.8h.7m-.6 .1h.7m-1.5 .2h.7m-1.5 .4h.7m1 .6h.7m-1.9 1.3h.7m.1 .5h.7m-1.2 .7h.7m-1.3 .1h.7m.7 .3h.7m-.7 .4h.7m-2 .2h.7m-.2 .5h.7m-1.1 0h.7m-.6 0h.7m-1 .1h.7m.3 .4h.7m-1 0h.7m-.6 .1h.7m-1.7 .1h.7m.1 .2h.7m-.9 .3h.7m-.2 .7h.7m-.8 .1h.7m-1.5 .2h.7m.7 .2h.7m-2 .3h.7m-.2 0h.7m.2 0h.7m-1.9 0h.7m.2 .1h.7m-2.2 .1h.7m.2 .2h.7m-.7 0h.7m-1.1 0h.7m-.9 .2h.7m-1.1 .1h.7m-.6 .1h.7m-.7 0h.7m.2 .1h.7m-.1 0h.7m-1.6 .1h.7m.1 .1h.7m-2.2 .2h.7m.8 .1h.7m-.5 0h.7m-2.3 .1h.7m0 0h.7m-1 .1h.7m-.4 .1h.7m-.5 .2h.7m-.4 .4h.7m-1.7 0h.7m.1 .1h.7m-.8 0h.7m0 0h.7m-.7 .1h.7m-.8 0h.7m-2.1 .1h.7m-.2 0h.7m0 .1h.7m-1.9 .1h.7m.5 0h.7m-.3 0h.7m-1.1 .1h.7m-1.5 0h.7m-1.2 0h.7m.9 .1h.7m-1 .1h.7m-.4 0h.7m-1 .2h.7m-1.9 0h.7m-.3 0h.7m-.3 0h.7m-.1 0h.7m-2.3 .1h.7m-.4 .1h.7m.3 .1h.7m-1.7 0h.7m0 .1h.7m0 0h.7m-1.9 0h.7m-1.1 .1h.7m-.4 0h.7m-.2 .1h.7m-.8 0h.7m.2 0h.7m-2.3 0h.7m-.7 .2h.7m.5 0h.7m-1.7 .2h.7m.4 0h.7m-1.6 .1h.7m0 0h.7m-1.7 0h.7m-.9 .6h.7m-.4 .1h.7m.8 .1h.7m-1.3 0h.7m-.2 0h.7m-1.5 0h.7m-.8 0h.7m.1 .2h.7m-2 .1h.7m-.8 0h.7m-.1 .1h.7m-1.5 .1h.7m.8 .1h.7m-1.3 0h.7m-1.2 0h.7m0 0h.7m-1.5 .1h.7m-.4 .1h.7m-1.2 .1h.7m.8 0h.7m-2 .1h.7m.8 0h.7m-.6 0h.7m-2.4 .1h.7m.7 0h.7m-1.7 .2h.7m.3 0h.7m-.7 .2h.7m-2.1 0h.7m-.8 .1h.7m1 .2h.7m-.7 .1h.7m-1.2 .1h.7m-1.3 0h.7m-.8 .2h.7m-.8 .1h.7m-1 .3h.7m.2 0h.7m-.4 0h.7m-1.8 .3h.7m.9 0h.7m-2.1 0h.7m-.6 .1h.7m-.7 0h.7m0 .2h.7m-.2 0h.7m-2.2 .1h.7m-.9 0h.7m-.3 .1h.7m.1 .2h.7m-1.7 .2h.7m-.7 .2h.7m.3 .1h.7m-.8 .2h.7m-.8 0h.7m-.5 0h.7m-.9 .2h.7m-.4 .5h.7m-1.7 0h.7m-.8 .2h.7m-.8 0h.7m.2 .8h.7m-.7 .8h.7m-1.5 .4h.7m0 0h.7m-.2 .2h.7m-1.6 .3h.7m-.2 .2h.7m-.9 0h.7m-1.1 .1h.7m-.6 .4h.7m-1.3 .3h.7m.4 4.8h.7m1.7-40.2h.7m-1.9 10.1h.7m-.8 2h.7m-.7 1.5h.7m-.5 .6h.7m.6 .1h.7m-2.2 .5h.7m-.8 .1h.7m-.6 .6h.7m.3 .8h.7m-1.1 .2h.7m-.9 .3h.7m.4 .1h.7m-1.9 .3h.7m.7 .1h.7m-1.4 .3h.7m-.2 0h.7m-1.1 .3h.7m-.8 .1h.7m0 .1h.7m-1.1 .1h.7m-1.6 .5h.7m-.5 0h.7m-.1 .4h.7m-1 .1h.7m-1.4 .2h.7m-.7 .2h.7m.7 0h.7m-2.3 0h.7m1 0h.7m-2.4 0h.7m.5 .2h.7m-.5 .4h.7m-.4 0h.7m-1.3 .1h.7m-2 .1h.7m-.6 0h.7m1.1 0h.7m-2.1 .2h.7m.1 0h.7m-2 .1h.7m-.5 .5h.7m-.3 0h.7m.6 .1h.7m-1.4 0h.7m-.7 .1h.7m-.8 0h.7m-1.4 0h.7m.2 .9h.7m-1.8 0h.7m-.6 .1h.7m-.3 0h.7m-.8 0h.7m-.3 0h.7m-1 .1h.7m.2 .2h.7m-.5 .1h.7m-.7 0h.7m-1.9 0h.7m.6 .1h.7m-1.3 .1h.7m-.4 .1h.7m-.4 0h.7m-1.9 .1h.7m-1.3 .1h.7m.6 .2h.7m-.4 0h.7m-.9 .2h.7m-.9 .2h.7m-.9 0h.7m-1.1 .1h.7m-.9 0h.7m.1 0h.7m-.4 .1h.7m-1.6 0h.7m-1 .1h.7m-.6 .1h.7m-.3 .1h.7m-.4 .3h.7m-.3 0h.7m-1.7 .1h.7m0 0h.7m-2 .1h.7m-.7 .1h.7m.7 .1h.7m-1.4 0h.7m-1.2 .1h.7m1 .2h.7m-1.8 0h.7m-.9 .1h.7m-.2 .1h.7m-.4 0h.7m-.8 .1h.7m-.3 .2h.7m-1.3 .1h.7m-.5 .2h.7m-.7 .2h.7m-1.1 0h.7m-1 .1h.7m-1 .2h.7m.4 .2h.7m-2 .1h.7m-.4 .5h.7m.1 0h.7m-.4 .1h.7m-.8 .3h.7m-1.6 .1h.7m-.2 .1h.7m.2 0h.7m-2 0h.7m-.5 .2h.7m-1.4 0h.7m-.4 .2h.7m.8 .1h.7m-1.9 .1h.7m.4 0h.7m-1.2 .3h.7m-1 .3h.7m-1.5 .2h.7m-.6 .1h.7m-.5 .3h.7m.3 .1h.7m-1.4 .4h.7m-.5 0h.7m-1.6 .3h.7m-.2 0h.7m-.3 .3h.7m-.7 0h.7m-.9 .2h.7m.2 .2h.7m-2 .3h.7m-.7 .4h.7m-.8 .8h.7m.1 .4h.7m-1.1 2.9h.7m-1 .4h.7m.3 .2h.7m-.4 1h.7m-2.4 .6h.7m3.1-27.5h.7m-1.8 1.2h.7m-.4 1.7h.7m.1 1.4h.7m-.8 .9h.7m-.8 .7h.7m-.8 .2h.7m-1.4 1.1h.7m-1.3 .2h.7m0 .2h.7m-1.1 .3h.7m-.8 .3h.7m-.8 .1h.7m-1 .2h.7m-.1 0h.7m.5 0h.7m-1.3 0h.7m-.6 .2h.7m-1.4 .2h.7m-1.2 .3h.7m-.7 .1h.7m-.7 .5h.7m-.6 0h.7m1 .1h.7m-.9 .3h.7m-1.3 .1h.7m-1.5 .2h.7m0 .1h.7m-1.6 .1h.7m1.1 .1h.7m-2.4 .1h.7m0 .1h.7m-.9 .2h.7m-1.2 0h.7m0 .1h.7m-1.2 .2h.7m-.7 .2h.7m.6 0h.7m-1.8 .2h.7m-.8 .1h.7m.7 .1h.7m-2.6 .2h.7m.2 .3h.7m-.9 .1h.7m-.1 .1h.7m-1.8 .2h.7m-.7 .2h.7m-.2 0h.7m.5 .3h.7m-1.3 0h.7m-.6 .1h.7m-1.9 .1h.7m-.7 .3h.7m.6 0h.7m-1 0h.7m-.6 .1h.7m-.1 .2h.7m-.9 0h.7m-.6 .2h.7m-2.2 .1h.7m.6 0h.7m-2.1 .1h.7m.7 0h.7m-.8 0h.7m-.4 .1h.7m-1 0h.7m-1.7 .1h.7m-.3 0h.7m.2 .1h.7m-1.9 0h.7m-.1 .1h.7m-1.5 .1h.7m.1 .1h.7m-.5 .2h.7m-1.7 .1h.7m-.9 .5h.7m-.2 .3h.7m-1 .8h.7m.8 0h.7m-1.5 .3h.7m-1.2 .3h.7m-.4 .1h.7m-.8 .1h.7m-1.5 .3h.7m.7 .1h.7m-2.1 .4h.7m.4 .2h.7m0 .2h.7m-.7 .2h.7m-1 .4h.7m-.3 .3h.7m-1.4 .3h.7m-1.4 .1h.7m-.1 .9h.7m-.1 .4h.7m-.7 2.9h.7m-1.2 .3h.7m-1.2 .3h.7m-.2 .3h.7m-1.8 .9h.7m0 2.1h.7m.8-35.3h.7m.3 1.3h.7m-.6 1.4h.7m-1.4 .3h.7m.4 4.1h.7m-2.1 2.3h.7m-.8 1h.7m.5 1.9h.7m-.5 .6h.7m-.9 .4h.7m-1.3 .1h.7m-1.6 .4h.7m1 0h.7m-1.8 .2h.7m-1.2 .1h.7m-.5 .1h.7m-.3 .2h.7m-.4 0h.7m-1.6 .2h.7m.8 0h.7m-.9 .2h.7m-2.1 0h.7m-.5 0h.7m-.4 .1h.7m0 0h.7m-1 .3h.7m.3 .2h.7m-1.9 .1h.7m.2 0h.7m-1.2 .5h.7m-.1 0h.7m-2.2 .2h.7m-.3 0h.7m.1 .4h.7m-.2 .1h.7m-.9 .1h.7m-1 .1h.7m-1.8 0h.7m-.2 .1h.7m.1 0h.7m-1.8 0h.7m-.7 .1h.7m-1.1 .1h.7m.1 0h.7m-.4 .1h.7m-.5 0h.7m-1.2 .7h.7m-.1 .2h.7m-1 .2h.7m-1.8 .3h.7m.6 .1h.7m-.6 0h.7m-2.2 .2h.7m-.3 .1h.7m.5 .2h.7m-.8 0h.7m-1.7 .1h.7m.2 0h.7m-1.6 0h.7m-1.2 .7h.7m-.6 .1h.7m-.7 .4h.7m-.5 .1h.7m-.2 .3h.7m.2 .3h.7m-1.9 0h.7m.6 .1h.7m-1 .1h.7m-1.3 .1h.7m-1.6 .6h.7m-.5 0h.7m-.7 .1h.7m-.4 .1h.7m-.2 .3h.7m-1.7 0h.7m.6 0h.7m-2 .3h.7m.5 .3h.7m-1.8 0h.7m.9 .2h.7m-1 .5h.7m-.6 .1h.7m-.7 .4h.7m-1.8 0h.7m-.8 0h.7m.2 .7h.7m-1.3 .6h.7m-.8 .2h.7m.5 .5h.7m-1.9 1.1h.7m.4 2h.7m-.4 .8h.7m-2.1 .1h.7m-.1 0h.7m-.6 .1h.7m-1.2 .2h.7m-.9 1.1h.7m.7 .1h.7m-2 3.3h.7m1.6-30.4h.7m-1.2 1.2h.7m.4 .9h.7m-1.7 3.6h.7m-.8 1.1h.7m.3 .4h.7m-1 .3h.7m-.1 .4h.7m-2.2 0h.7m.3 .1h.7m-1.5 .1h.7m.1 .1h.7m-.5 1h.7m-1.2 .8h.7m-1 .1h.7m-.9 .5h.7m-.7 .1h.7m-.7 .1h.7m-.1 0h.7m-1.2 .4h.7m-.6 .7h.7m-.9 .1h.7m.1 .1h.7m-1.2 .1h.7m-1.4 .4h.7m.4 0h.7m-.2 .1h.7m-1.4 .2h.7m-1.5 .1h.7m.9 .5h.7m-2.4 1.1h.7m-.2 .1h.7m-.6 .2h.7m-.9 .1h.7m0 .3h.7m-.2 0h.7m-1.3 .3h.7m-1 .1h.7m-1.4 .2h.7m.3 .4h.7m-.6 .1h.7m-.5 .2h.7m-.1 .1h.7m-2 0h.7m-.2 .5h.7m-1 .3h.7m-.2 .9h.7m-.3 .1h.7m-1.1 .1h.7m-.5 .4h.7m-1.6 0h.7m-.9 .8h.7m-.9 .5h.7m-.7 .7h.7m-.2 0h.7m-1 .4h.7m.5 .3h.7m-1.1 .9h.7m-1.5 .6h.7m.1 .7h.7m-1.6 1.2h.7m-.4 .9h.7m-.8 1h.7m2.3-26.1h.7m-1.5 5.5h.7m.3 .9h.7m-2.2 .1h.7m.9 0h.7m-1.9 .5h.7m-.8 .1h.7m-.8 .3h.7m.3 1.2h.7m-1.1 .3h.7m-.4 .6h.7m-1.2 .5h.7m-1.4 .1h.7m.5 .2h.7m-.2 .9h.7m-1.4 .9h.7m-1.3 .4h.7m-.2 1h.7m-1 0h.7m-1.1 .4h.7m0 .1h.7m-1.6 .3h.7m.4 .2h.7m-1.2 .4h.7m-1.3 1.2h.7m-.6 .4h.7m-.2 .8h.7m.5 .2h.7m-2.6 .3h.7m-.2 0h.7m-.8 2.2h.7m.6 2h.7m-2 2.5h.7m-.1 1.7h.7m-1.3 2.4h.7m2.4-33.4h.7m-1.9 3.4h.7m-.3 .6h.7m-1.4 1.7h.7m-.1 0h.7m.3 .6h.7m-.7 0h.7m-.7 .3h.7m-2.3 .2h.7m.2 .1h.7m-1.1 2.9h.7m.2 2.2h.7m-1.9 .1h.7m.8 2h.7m-.6 1.3h.7m-2.2 .5h.7m-.3 0h.7m.4 1.7h.7m-1.9 .2h.7m0 .5h.7m-.4 0h.7m-.8 .5h.7m-1.6 .5h.7m-1.1 .2h.7m.1 .4h.7m.2 .1h.7m-1 .3h.7m-.8 1h.7m-1.8 1.8h.7m-.8 1h.7m-.6 .2h.7m.1 .3h.7m-.7 3.3h.7m-1.8 .4h.7m.7 .8h.7m-1.2 3.1h.7m-.8 1.4h.7m0 2.7h.7m-.3-30h.7m-.7 .2h.7m.1 .8h.7m-.8 .9h.7m-1.4 .1h.7m.3 .5h.7m-1.1 .9h.7m-1.1 .1h.7m.3 .8h.7m-1.4 .2h.7m.1 1.6h.7m-1.2 0h.7m0 .2h.7m-2 .9h.7m-.6 .3h.7m.3 .8h.7m-.8 .2h.7m-.5 .4h.7m-1.6 .3h.7m-.9 .1h.7m.5 1.5h.7m-1.4 3.4h.7m-1.2 1.2h.7m-.2 1h.7m-.7 .1h.7m-.2 .7h.7m-1.5 .1h.7m-1.2 .6h.7m-.4 3.2h.7m.4 .6h.7m-2.1 4h.7" stroke="#3c3c3c" stroke-width="0.7" fill="none" opacity="0.75"/>
<path d="M453.6 546.4h.7m-.4 4.1h.7m-1 12h.7m-.7 2.5h.7m-.7 2.6h.7m1.3-31.4h.7m-2.3 2.1h.7m0 2.1h.7m0 2.4h.7m-1.3 .3h.7m-1 3.8h.7m-.2 .7h.7m-.8 1.4h.7m-1 1h.7m-.7 0h.7m-1.1 .2h.7m.9 1.1h.7m-2 .1h.7m-.2 .6h.7m-.1 1.7h.7m-.4 0h.7m-1.3 .6h.7m-1.7 1h.7m-.9 .6h.7m.7 .1h.7m-1.6 1.3h.7m.1 1h.7m-1 .3h.7m-1.1 .1h.7m-1.3 2h.7m.5 .6h.7m-2 4.2h.7m.7 4.7h.7m-.9 .9h.7m1.9-38.6h.7m-1.6 4.2h.7m-.6 3.6h.7m-.7 4.2h.7m-.6 .1h.7m-.6 .1h.7m-.7 .2h.7m0 .4h.7m-1.7 .3h.7m-.2 .9h.7m-1.2 1h.7m-1.6 1.2h.7m1.2 .3h.7m-1 .3h.7m-.9 .4h.7m-1.6 1.2h.7m-.6 0h.7m.4 .3h.7m-1.9 .6h.7m.7 1.1h.7m-.7 1.4h.7m-2.2 .5h.7m-.5 .6h.7m-.8 1.9h.7m-1.2 .3h.7m-.5 .1h.7m.8 .7h.7m-2.3 2.4h.7m1.1 2.4h.7m-2.6 1.5h.7m.8 1.2h.7m1-29.7h.7m-1.3 .4h.7m-.8 4.4h.7m-.4 1.3h.7m.4 .4h.7m-1.3 6.6h.7m-2 .4h.7m0 .6h.7m-.6 .7h.7m-1.4 .9h.7m-.8 .2h.7m.1 .8h.7m-.6 1h.7m.3 .1h.7m-1.9 .7h.7m-.8 .7h.7m.6 .2h.7m-1.5 .2h.7m-.9 1.4h.7m-1.2 2h.7m-1.1 1.4h.7m.4 2.7h.7m-.3 .1h.7m-.6 .7h.7m-2 .2h.7m.3 2.2h.7m-.6 .8h.7m-.9 2.2h.7m-1.7 1.6h.7m.6 7.3h.7m-2.2 .5h.7m1.4-44.2h.7m.7 1.8h.7m-1.8 .2h.7m.8 2h.7m-2 .1h.7m.4 .4h.7m-1.6 .1h.7m-.1 .1h.7m-.2 1.2h.7m-1.3 .2h.7m-.6 2.3h.7m-1 0h.7m-.3 1.8h.7m-1.1 2h.7m-1.3 .4h.7m-.4 .8h.7m.4 .5h.7m-1.5 .1h.7m-1.8 2h.7m-.2 1.5h.7m-.4 1.1h.7m.4 .2h.7m-.8 .5h.7m-1.2 .3h.7m-.6 0h.7m-.5 .9h.7m-2.1 .8h.7m.4 1.8h.7m-.1 .2h.7m-2.2 2h.7m-.2 .3h.7m-1 1h.7m.3 1.6h.7m-2 0h.7m.5 1.3h.7m-.6 0h.7m-1.3 2.8h.7m-.9 8.3h.7m-.3 4.3h.7m.5-45.6h.7m.6 1.3h.7m-2.2 .8h.7m-.4 2.3h.7m-.5 .2h.7m-1.4 2.1h.7m-.5 0h.7m-.2 .6h.7m-1 1h.7m.2 .6h.7m-1.7 .9h.7m.1 .7h.7m.1 0h.7m-1.2 .2h.7m-1.7 .4h.7m-1 1.4h.7m.5 .2h.7m-1.5 0h.7m.7 .3h.7m-1.2 .2h.7m-2.1 .4h.7m1 .5h.7m-1.8 .4h.7m-.3 .4h.7m0 .3h.7m-1.6 2.6h.7m0 .8h.7m-1 .2h.7m-.9 1.3h.7m-.9 .1h.7m-.6 .5h.7m-1.1 0h.7m.1 .1h.7m-.8 .4h.7m-1 .5h.7m-.6 .1h.7m.2 .7h.7m-2.4 .6h.7m.3 .2h.7m0 1.3h.7m-2.5 .2h.7m.7 .2h.7m-2 .6h.7m.8 0h.7m-.8 .2h.7m-2.2 2.7h.7m.6 .2h.7m-1.2 1.3h.7m-.1 2.3h.7m-1.5 2.1h.7m-.6 3.3h.7m.4 1.7h.7m-2.2 .2h.7m2.1-39h.7m-.8 .2h.7m0 1.2h.7m-2.1 .2h.7m.6 1.4h.7m-.5 .3h.7m-2.2 .3h.7m-.7 .5h.7m.5 .6h.7m-.7 3.5h.7m-.6 2.3h.7m-1.4 .2h.7m-.4 .1h.7m-1.8 .7h.7m.6 .1h.7m-.7 .3h.7m-1.9 .1h.7m-.5 2.6h.7m-.3 1h.7m-.9 .2h.7m-.7 .3h.7m-.3 1.2h.7m-1.1 .1h.7m-.4 .1h.7m-1.3 1.4h.7m-.2 .6h.7m-.9 1.3h.7m-.7 .5h.7m.4 .5h.7m-1.4 .7h.7m.1 7.5h.7m-2 4.4h.7m-.4 .3h.7m-1.5 3.5h.7m-.4 .3h.7m.9-39.8h.7m1 .3h.7m-1.1 .3h.7m-1.7 1.8h.7m.4 1.2h.7m-.5 .3h.7m-1.5 .7h.7m-.8 3h.7m.2 .1h.7m-.5 .9h.7m-1.2 .3h.7m-.6 .5h.7m-.4 .5h.7m-2.2 1h.7m-.9 .2h.7m0 .1h.7m-1.2 .3h.7m1 .7h.7m-.8 .2h.7m-2.4 .1h.7m1 .2h.7m-1.7 .1h.7m.4 0h.7m-2 .8h.7m-1.2 .6h.7m.6 .2h.7m-.7 .8h.7m-1 1.4h.7m-.4 .5h.7m-.9 .3h.7m-1.2 .7h.7m.1 1.1h.7m-.3 .3h.7m-1.5 .2h.7m-1.4 .1h.7m-1 .1h.7m-.3 .5h.7m.1 0h.7m-1.5 .1h.7m-1 .1h.7m-.8 .4h.7m.8 0h.7m-1.2 1.4h.7m-1.4 .7h.7m.4 .6h.7m-.8 .6h.7m-1.2 .3h.7m-.1 .5h.7m-.3 .3h.7m-2.3 1h.7m-.3 2.9h.7m-.1 2.2h.7m-.1 0h.7m-.9 7.7h.7m-1.3 .2h.7m-1.8 3.6h.7m2.3-42.1h.7m-.2 .2h.7m-.7 2h.7m-1.5 .2h.7m-.6 0h.7m-.2 .6h.7m-.8 1.5h.7m-1.6 0h.7m.3 3.9h.7m-1.4 .4h.7m-.9 .9h.7m.1 .2h.7m-1.3 .1h.7m-.4 .5h.7m-.1 .5h.7m-2.1 .3h.7m-.2 .2h.7m.4 .1h.7m-2.1 0h.7m-.1 .7h.7m0 0h.7m-1.7 .6h.7m.6 .1h.7m-2 .9h.7m-.7 .4h.7m-1.3 1.4h.7m1.2 .2h.7m-.9 .7h.7m-2.3 0h.7m.1 .5h.7m-1.3 1.2h.7m.1 .3h.7m-.9 .8h.7m-1.6 .6h.7m0 .1h.7m-.9 .3h.7m-.4 .8h.7m.2 .7h.7m-1.7 1h.7m.2 .2h.7m-1.6 1.4h.7m.2 2.3h.7m-1.3 .9h.7m-.3 .1h.7m-.9 1.1h.7m-1.3 2.3h.7m-.4 1.4h.7m-.3 .2h.7m-1.3 .2h.7m-1.1 7h.7m1.4-40.3h.7m.1 .1h.7m-.6 .4h.7m-1.2 1h.7m-1.2 .1h.7m.3 .4h.7m-2 .8h.7m-.6 1h.7m.3 1.1h.7m-1.4 .8h.7m-.1 .6h.7m-1 .2h.7m.5 .8h.7m-1.5 .1h.7m-.7 1.1h.7m-1.1 1.6h.7m-.2 .3h.7m-.1 .8h.7m-2.2 0h.7m-.4 .2h.7m-.9 .8h.7m.2 1.2h.7m-1.5 .3h.7m-.5 2.3h.7m-.3 .4h.7m-.9 1h.7m.3 .7h.7m-2.2 0h.7m-.9 .6h.7m-.2 .4h.7m.4 .5h.7m-.8 1.9h.7m-2.1 .1h.7m-.1 1.5h.7m-1.3 .3h.7m.1 .6h.7m-1.4 .8h.7m.2 1h.7m-1.9 5.6h.7m.6 .7h.7m-.4 8.4h.7m-2 3.3h.7m2.3-44.6h.7m-.7 .3h.7m-.7 .3h.7m-1.1 2.2h.7m-.6 1.6h.7m-.3 1h.7m-.6 2.9h.7m-1.1 .2h.7m-1.6 4.1h.7m-.3 .5h.7m-1.3 .8h.7m.1 .1h.7m-.1 .5h.7m-1 .3h.7m-1.9 .1h.7m-.4 .3h.7m-.8 .8h.7m.8 .4h.7m-1.7 1.3h.7m.4 .3h.7m-1.2 4.8h.7m-1.6 .4h.7m-.6 .7h.7m-.8 2h.7m-.2 5.8h.7m0 .3h.7m-2.2 1h.7m-.8 2.7h.7m.6 .5h.7m-2 .1h.7m.5 3h.7m-1.9 7.4h.7m2.1-47h.7m-.2 1.2h.7m-1.5 .2h.7m-1.2 0h.7m1.1 1.2h.7m-1.2 .3h.7m-.4 .5h.7m-1.3 2.1h.7m.2 2.1h.7m-2.2 .8h.7m.6 1.6h.7m-1.3 0h.7m-.4 .1h.7m-1.6 .7h.7m.4 .3h.7m-1.8 1.2h.7m.7 .3h.7m-2.5 0h.7m.8 1.5h.7m-1.4 .4h.7m-.4 .3h.7m-.2 .2h.7m-1.9 1.7h.7m-1.2 .1h.7m.3 1h.7m-.9 .2h.7m-.1 1.7h.7m-.3 .3h.7m-.8 .4h.7m-1 .7h.7m-1 1.7h.7m-.8 .5h.7m-1.1 2.2h.7m.5 4.7h.7m-.6 1.5h.7m-2.2 2.1h.7m.7 2.1h.7m-2.4 .5h.7m.8 1.5h.7m1.5-37.1h.7m-2.1 .5h.7m.5 .2h.7m-2 .1h.7m-.8 .9h.7m-.2 .1h.7m-.4 .1h.7m.1 1.7h.7m-2.2 .5h.7m-.1 1.1h.7m-1.1 .4h.7m-.1 .3h.7m-1.5 .5h.7m-.3 1h.7m-.3 2.2h.7m-.8 1h.7m-1.6 .7h.7m-.3 .3h.7m-.8 .8h.7m.4 .5h.7m-1.8 1.7h.7m-.9 0h.7m.3 1.6h.7m-1.4 .3h.7m-.3 .7h.7m-.4 1h.7m-1.6 .4h.7m-.6 .6h.7m-.2 .3h.7m-1.1 .9h.7m-1.1 .8h.7m.9 .3h.7m-1.6 .6h.7m.2 4.8h.7m-1.1 3.3h.7m-2 .1h.7m.7 .8h.7m-1.6 .8h.7m1.4-31.8h.7m-.1 0h.7m-.6 .8h.7m-1.3 .2h.7m.1 .2h.7m-1.5 .6h.7m-.4 2.2h.7m.1 .5h.7m-2.2 .2h.7m.1 1h.7m-1 .6h.7m-.9 .2h.7m.1 1.1h.7m-.4 0h.7m-.5 .4h.7m-2.3 2h.7m.9 .8h.7m-.9 .5h.7m-2.3 .5h.7m-.3 1.5h.7m-.4 .2h.7m-1.4 3.1h.7m.6 .3h.7m-1.2 .3h.7m-1 .1h.7m.4 .1h.7m-1.5 .2h.7m-.1 .4h.7m-2.1 2.6h.7m-.1 0h.7m.2 0h.7m-1.4 1.1h.7m-1.3 1.5h.7m.6 .7h.7m-2.2 .4h.7m0 .5h.7m-.8 .1h.7m.4 1.3h.7m-1.4 5.7h.7m-1.8 3.8h.7m-.7 4h.7m1.8-40.4h.7m.2 5.1h.7m-1.1 .7h.7m.2 .3h.7m-2.6 .2h.7m-.2 .1h.7m.5 .7h.7m-2.3 0h.7m-.5 .4h.7m0 .3h.7m0 .5h.7m-2.4 1h.7m-.3 .6h.7m.8 3h.7m-2.2 1h.7m-.3 .1h.7m-1 .3h.7m.6 2.1h.7m-1.4 1.7h.7m-.8 .3h.7m-1.3 0h.7m-.3 .5h.7m-.1 1h.7m-.3 .4h.7m-.7 .2h.7m-.7 1.5h.7m-2.1 2.2h.7m.7 0h.7m-1.2 .8h.7m-.4 1.3h.7m-2 .4h.7m-.2 .9h.7m-.6 1.9h.7m-.5 .1h.7m-.8 2.9h.7m-1 .1h.7m.3 1.7h.7m0-28.5h.7m-.5 .7h.7m-1.3 .6h.7m-.5 2.4h.7m.8 1.5h.7m-1.3 1.5h.7m-1.7 3h.7m-.1 .6h.7m.5 .1h.7m-2.2 .6h.7m0 .5h.7m-.5 .2h.7m-.2 .1h.7m-2.4 .3h.7m0 2.3h.7m-1 1h.7m-.9 .1h.7m.2 3.5h.7m-1.1 .6h.7m.1 3.8h.7m-.5 1.8h.7m-2.1 2.9h.7m.8 .9h.7m-1.7 4.3h.7m-.9 6.4h.7m.6-41.1h.7m.5 6.8h.7m-1.9 .4h.7m1 3.7h.7m-1.7 .1h.7m0 1.7h.7m-.5 .6h.7m-1.2 2.4h.7m-.4 1.9h.7m-1.7 1.4h.7m.1 4.1h.7m-1.1 .2h.7m-.3 3.5h.7m0 1.5h.7m-2 1.3h.7m-.2 .1h.7m1.2-24.4h.7m-1.6 1.5h.7m-.1 1h.7m-.8 .7h.7m-.4 1.6h.7m-1.5 .4h.7m-.5 1.8h.7m.4 5.4h.7m-1.3 10.4h.7m1.7-30.2h.7m-1.7 1.7h.7m.5 3h.7m-.5 .7h.7m-.9 1.9h.7m-.4 1.5h.7m-1.9 .1h.7m.6 4.1h.7m-1.2 .7h.7m-2 .5h.7m-.5 2.4h.7m.1 3.4h.7m0 .5h.7m-1.4 3.4h.7m.4-20.4h.7m.3 8.7h.7m-1.1 .9h.7m-.2 .8h.7m-.6 2.2h.7m-.4 .8h.7m-.7 1.9h.7m-.8 1.1h.7m-1.4 .3h.7m-.6 3.7h.7m-.6 3.8h.7m1.8-25.5h.7m-.6 8.4h.7m-1.4 5.7h.7m-.3 12.6h.7m.3 4.2h.7m-.7 4.9h.7m1-15.8h.7" stroke="#f3bb62" stroke-width="0.7" fill="none" opacity="0.72"/>
<path d="M454.7 531.7h.7m1.9-18.9h.7m-.2 4.4h.7m.8 3.6h.7m-2 .4h.7m-.2 3.3h.7m.4 1.9h.7m-1 2.6h.7m-.9 1.4h.7m-.2 0h.7m-2.1 1h.7m-.9 1.1h.7m2.6-33.7h.7m-.8 16.2h.7m-.2 4.3h.7m-1.6 1h.7m-1.3 3.3h.7m-.7 1.6h.7m.3 4.5h.7m-.6 .5h.7m-1.4 .2h.7m-1.1 .1h.7m-.5 .9h.7m1.6-28.3h.7m-.2 3.4h.7m-.6 5.1h.7m-.6 2.9h.7m-.4 1.4h.7m-1.6 1.2h.7m-.2 1.4h.7m-.2 3.8h.7m-1.5 5.2h.7m-.8 2.7h.7m-.5 1.3h.7m1.5-18.6h.7m-2 .8h.7m1.2 1.1h.7m-1.8 2.4h.7m-.4 2.7h.7m-1 .3h.7m.2 .2h.7m-.6 3.9h.7m-.6 2.7h.7m-1.1 3.8h.7m-.7 .2h.7m-1.8 .9h.7m1.7-33.3h.7m.4 10h.7m-1.6 .7h.7m.1 2.3h.7m-1.8 1.2h.7m-1.4 .8h.7m1 1.1h.7m-1 .5h.7m-1.7 1.1h.7m.6 1.3h.7m-1.5 3.2h.7m-.1 1.1h.7m-.7 2.4h.7m-.7 3.4h.7m-.8 3.4h.7m-.4 .5h.7m-2.4 .4h.7m.3 .3h.7m1.5-33.3h.7m-1.2 1.5h.7m-.5 1.5h.7m-.2 2.3h.7m-2 2h.7m-.7 1.4h.7m1 2.1h.7m-1.5 .1h.7m.2 1.6h.7m-1.9 .5h.7m-.9 .1h.7m-.9 3.1h.7m.3 2.7h.7m-1.5 .6h.7m.2 4.1h.7m-1.1 4.7h.7m-.3 .1h.7m-1.5 3.6h.7m1.7-31.8h.7m-.2 1.2h.7m-2.2 6.2h.7m.5 .7h.7m-.4 2.5h.7m-.9 3.8h.7m-.4 .4h.7m-.8 .4h.7m-2 .1h.7m.2 .4h.7m-1.5 2.6h.7m.3 .5h.7m-.5 1.3h.7m-1.6 .4h.7m.4 2h.7m-2 .2h.7m.7 0h.7m-2.5 2.4h.7m-.1 .8h.7m-1 .4h.7m.5 .5h.7m-.3 .4h.7m-2.4 .8h.7m.7 .3h.7m-1 2.3h.7m-.9 .2h.7m-1.3 1.9h.7m.7 .5h.7m.7-31.5h.7m-1.4 1.6h.7m-.2 1.4h.7m-1 .4h.7m-.1 .8h.7m-.2 4.1h.7m-2 .5h.7m.4 1.6h.7m-2.1 .1h.7m-.9 .3h.7m-.7 .4h.7m.4 .4h.7m-1.2 .1h.7m-1.2 2.6h.7m-.2 .4h.7m.1 .1h.7m-2.2 .7h.7m.1 .5h.7m-.4 1.4h.7m-1.2 .4h.7m.2 2.2h.7m-1.5 .1h.7m-.2 .7h.7m-1.3 1h.7m-.5 .3h.7m.3 2.4h.7m-.7 4.7h.7m-.8 .9h.7m.9-31.3h.7m-.4 .3h.7m-1.5 1.2h.7m-1.2 0h.7m.7 1.7h.7m-1 2.6h.7m-.6 .1h.7m-2.2 1.7h.7m-.4 .3h.7m-.9 2.4h.7m1 .7h.7m-.8 .5h.7m-2 .9h.7m-.5 1h.7m-1.1 .6h.7m.5 .2h.7m-1.3 0h.7m-.1 3.8h.7m-.5 .2h.7m-1.9 2.8h.7m-.6 .4h.7m-.2 0h.7m-1 .1h.7m.3 .6h.7m-1.7 0h.7m.4 .2h.7m-2.4 3h.7m.7 .2h.7m-1.4 .3h.7m-.7 5.4h.7m0 1.1h.7m-.3 0h.7m.3-37.6h.7m0 .5h.7m-2.3 3.8h.7m.4 .5h.7m-1 1.1h.7m-1.1 .8h.7m-.6 .1h.7m.3 .5h.7m-.3 1.6h.7m-2 .8h.7m-.4 .2h.7m.3 .2h.7m-2.3 1.2h.7m.2 .5h.7m-1 2h.7m.2 1.1h.7m-1.2 .9h.7m-1.2 .2h.7m.4 .1h.7m-2.1 .4h.7m-.8 .2h.7m.6 0h.7m-2 .8h.7m-1.1 .4h.7m0 .3h.7m.4 .2h.7m-2.3 1.1h.7m.9 0h.7m-1.2 .2h.7m-.9 .6h.7m-.5 .1h.7m-.1 0h.7m-.9 .2h.7m-1.4 .4h.7m-.8 .3h.7m.1 0h.7m-1.2 .1h.7m-.3 .5h.7m-1.5 2.1h.7m.2 2.4h.7m-1.4 .7h.7m-.5 .8h.7m-.3 .6h.7m-.5 .4h.7m-2.3 .1h.7m-.6 .1h.7m.7 .3h.7m-1.8 1.4h.7m.2 1.9h.7m-1.2 .1h.7m-.8 .2h.7m-.7 1.6h.7m-.1 1.1h.7m-.3 1.3h.7m-1.5 .9h.7m-1.7 .2h.7m2.9-41.2h.7m-.9 3.6h.7m-1.4 3.4h.7m-.4 .8h.7m-.6 .8h.7m-.4 .6h.7m-.3 0h.7m-2.6 .4h.7m.8 1.1h.7m-.6 .4h.7m-2 .2h.7m-1 .8h.7m.9 .9h.7m-1.7 .5h.7m.4 .3h.7m-2 3.3h.7m-.5 1.4h.7m-.5 .1h.7m-1.5 1h.7m.4 .5h.7m-.5 .8h.7m-1.5 1.4h.7m-.9 .9h.7m.4 1.4h.7m-.9 1.5h.7m-.8 .3h.7m-.6 .3h.7m-1.8 .3h.7m-.3 2.1h.7m-1.2 .9h.7m-.5 .1h.7m.8 .3h.7m-1.8 .9h.7m-.4 .9h.7m-.3 .5h.7m-1.7 4.8h.7m-.4 .2h.7m-.9 1.5h.7m.3 1h.7m-.4 .6h.7m1.3-36.6h.7m-.9 .1h.7m-1.8 .9h.7m-.1 .8h.7m-.8 .6h.7m-.6 1.1h.7m-1.6 1.6h.7m.7 1.1h.7m-1.1 .1h.7m-.4 .3h.7m-.3 0h.7m-1.3 1h.7m0 .2h.7m-1.6 .1h.7m0 .2h.7m-2.1 .2h.7m0 1.5h.7m-1 1.1h.7m-1.4 .5h.7m-.5 .2h.7m0 .4h.7m-1 1.3h.7m-1.3 1.8h.7m1.2 .9h.7m-1.4 2.2h.7m-1.7 .6h.7m-.1 4h.7m-.5 .4h.7m-1.7 1.2h.7m1 .5h.7m-1.2 .3h.7m-1.3 .2h.7m0 .2h.7m-1.3 .4h.7m-.1 2.3h.7m-.7 1.4h.7m-.3 .3h.7m-2.2 3.3h.7m1 .1h.7m-2.1 1.5h.7m-.7 1.9h.7m2.5-42.3h.7m-1.5 6.1h.7m-.3 .9h.7m-1.3 2h.7m-.5 .2h.7m-.6 .3h.7m-.2 .6h.7m-.3 .1h.7m-1.4 .3h.7m-1.5 .6h.7m-.3 1.7h.7m-.4 .4h.7m-.6 .6h.7m-1.1 .6h.7m-.8 .1h.7m.2 .2h.7m-2.1 .7h.7m.8 .2h.7m-2.3 .3h.7m.1 1.9h.7m-1.4 .5h.7m-.6 1.8h.7m.8 1.6h.7m-2.1 1h.7m-.6 1.2h.7m.3 1.3h.7m-1.7 .2h.7m.6 .2h.7m-2.3 4.3h.7m-.5 .3h.7m-.5 .7h.7m-.8 .6h.7m-.7 .7h.7m-.4 .7h.7m-.2 .2h.7m-.4 1.9h.7m-1.6 1.1h.7m-.6 2h.7m-1.1 .9h.7m.7 .8h.7m-2 1.5h.7m.6 .8h.7m.3-40.1h.7m.1 2.6h.7m-.5 3.1h.7m-2.5 .8h.7m-.5 .5h.7m-.9 1.1h.7m.2 .2h.7m-1 .1h.7m.6 .5h.7m-1 .2h.7m-1 .4h.7m-1.1 .5h.7m-.6 .7h.7m-.9 .1h.7m-.6 .3h.7m-.9 .6h.7m-.6 .7h.7m-1 .6h.7m.6 1.6h.7m-1.8 3.6h.7m-1.4 2.1h.7m.7 2.7h.7m-.7 .1h.7m-.5 3.4h.7m-1.2 .3h.7m-1.8 .1h.7m1.2 1.6h.7m-1.2 2.5h.7m-.7 .4h.7m-.6 .1h.7m-1.2 7.3h.7m-.5 .6h.7m1.5-39.7h.7m-1 .9h.7m-.7 0h.7m-1.1 1.4h.7m-1.1 1.3h.7m.3 .2h.7m-1.7 .3h.7m.9 .1h.7m-1.3 .4h.7m-.3 .4h.7m-2.4 1.2h.7m-.3 .3h.7m.8 0h.7m-2.3 .8h.7m-.7 .7h.7m.4 .4h.7m-1.6 .2h.7m-.1 .2h.7m-.1 .4h.7m-1.7 .3h.7m-.3 .2h.7m-1.1 .3h.7m.4 .2h.7m-1.5 .2h.7m-.6 .2h.7m-1.1 .9h.7m-.8 .2h.7m-.7 .2h.7m-.6 .6h.7m-1 .9h.7m.3 0h.7m-1.1 .3h.7m-1.7 1h.7m-.7 .4h.7m.8 .4h.7m-2.1 0h.7m.5 0h.7m-.4 .3h.7m-1.1 .8h.7m-1.3 .1h.7m.1 1.2h.7m-.4 1.9h.7m-1 0h.7m-1.8 .1h.7m-.9 1.6h.7m.4 2.2h.7m0 1.6h.7m-1.9 .3h.7m-.8 1.7h.7m-1.2 .9h.7m-.4 7h.7m-.9 .6h.7m.5 4.8h.7m.4-37.7h.7m-.1 .1h.7m-.4 .1h.7m-.8 .9h.7m-1 .9h.7m-.1 .5h.7m-1.8 0h.7m.6 .3h.7m-2.3 0h.7m-.7 .5h.7m.2 0h.7m-.9 .3h.7m-.2 .3h.7m-1.4 .6h.7m-.8 .4h.7m.4 0h.7m-.6 .6h.7m-1.4 .4h.7m-.4 .2h.7m-.7 .3h.7m-.8 0h.7m-.6 .2h.7m-.5 .7h.7m-.9 .5h.7m-.9 .1h.7m-1 1.3h.7m-.7 .3h.7m-.2 1.5h.7m-1.4 2.7h.7m-.3 0h.7m0 .4h.7m-1.4 .1h.7m-.1 3.1h.7m-1.1 .8h.7m-.1 .2h.7m-2 1.5h.7m0 .9h.7m-1.7 2.2h.7m.5 3.6h.7m-1.5 .4h.7m-.9 3.3h.7m.1 1.9h.7m.8-34.3h.7m-1.2 1.7h.7m-1 .2h.7m1.1 .1h.7m-1.7 .7h.7m0 1.1h.7m-1.9 .4h.7m0 0h.7m-1.7 .4h.7m1 .3h.7m-2.3 .5h.7m-.4 .1h.7m-.2 .3h.7m-.5 0h.7m-1.1 .2h.7m.2 0h.7m-1.1 .1h.7m-1.7 .6h.7m0 0h.7m-.4 .4h.7m-.7 .1h.7m-1.6 .5h.7m.1 .1h.7m-1.5 .1h.7m.8 0h.7m-1 .1h.7m-.4 .1h.7m-2.3 .1h.7m.9 .3h.7m-1.8 .3h.7m-.9 0h.7m.5 .1h.7m-1.7 .4h.7m-.5 .2h.7m.2 .8h.7m-1.6 0h.7m-.8 .3h.7m0 .3h.7m-2.2 1h.7m.5 2.2h.7m-1.3 2.1h.7m.2 3.3h.7m-1.2 1.9h.7m-1.2 0h.7m-.2 3.1h.7m-1.7 7.2h.7m.6 1.4h.7m-.7 3.1h.7m-1.6 .4h.7m.5 .8h.7m1-39.8h.7m-1 .1h.7m-1.3 3h.7m-.5 .3h.7m.4 .6h.7m-.8 .2h.7m-.9 .9h.7m-.4 .1h.7m-.7 .8h.7m-.9 .1h.7m-.9 .4h.7m-1.3 .2h.7m0 0h.7m-1.7 .5h.7m-.9 .1h.7m1 .3h.7m-1.9 0h.7m-.8 .1h.7m.1 .6h.7m-.8 .1h.7m-.8 .1h.7m-1.2 .2h.7m-.2 .3h.7m-1.2 .2h.7m-.2 .1h.7m-1.4 .3h.7m-.1 .5h.7m-1.3 .8h.7m-.3 .2h.7m-.4 .1h.7m-.7 .2h.7m-1.9 1.1h.7m-.7 0h.7m-.7 .5h.7m.3 0h.7m0 2.1h.7m-1.3 .8h.7m-.1 4.4h.7m-2.1 1.2h.7m.4 3.3h.7m-1.7 1.8h.7m-.9 12.2h.7m.8 .4h.7m1.5-40.6h.7m-1.3 3.1h.7m-1.2 .3h.7m-.2 .7h.7m-1.6 0h.7m.1 .2h.7m-1.7 .2h.7m-.3 .3h.7m.5 0h.7m-1.7 .5h.7m.4 .1h.7m-1.1 .1h.7m-2.2 .1h.7m.2 .4h.7m-.3 .3h.7m-1.1 .5h.7m-.5 .5h.7m-.1 .1h.7m-1.5 .6h.7m-.4 .2h.7m-1.8 .2h.7m0 .1h.7m-1.4 .2h.7m-.1 .1h.7m-1.2 .3h.7m.4 0h.7m-.9 .1h.7m-1 .9h.7m-.1 .1h.7m-2.1 .5h.7m.3 .2h.7m-1 .6h.7m-.3 .1h.7m-1.2 .5h.7m0 .1h.7m-1.7 .1h.7m.5 .2h.7m-1.5 0h.7m.1 .1h.7m-2.2 .2h.7m-.6 .6h.7m1 .1h.7m-.8 1h.7m-1.9 1.2h.7m.3 .8h.7m-.6 4.1h.7m-2.2 .2h.7m-.6 9.4h.7m-.3 .4h.7m-1.1 12.4h.7m2.4-44.5h.7m-1.4 5.4h.7m.5 .7h.7m-1.2 .6h.7m-.9 .6h.7m-.4 .1h.7m-1.1 .2h.7m-.7 .3h.7m.1 .3h.7m-.6 .1h.7m-1.4 .2h.7m-.7 .1h.7m-1.3 .7h.7m-1.3 .3h.7m-.1 0h.7m-.3 .1h.7m-.1 0h.7m-1.9 .1h.7m-.7 .1h.7m0 .5h.7m-.1 .2h.7m-2 .1h.7m-.9 .1h.7m.1 .2h.7m-1.2 .3h.7m-.4 .2h.7m-.5 0h.7m-.8 0h.7m-1.5 .2h.7m0 .3h.7m-.4 .1h.7m-1.7 .3h.7m1.1 0h.7m-2.4 .2h.7m-.4 .1h.7m.6 0h.7m-2.3 .4h.7m-.3 .1h.7m.1 .1h.7m-1.4 .3h.7m-.9 .3h.7m.2 .1h.7m-2.1 .8h.7m.8 .2h.7m-1 .1h.7m-1.7 .3h.7m.4 1.5h.7m-.7 .1h.7m-.9 .3h.7m-.3 2.3h.7m-1.2 1h.7m-1.6 6.9h.7m.4 10.6h.7m.3-36.4h.7m.6 0h.7m-.6 1.3h.7m-1.4 .3h.7m-.2 0h.7m-1.2 .8h.7m0 .2h.7m-.5 .2h.7m-1.4 .2h.7m-.4 .2h.7m-1.3 0h.7m-.2 .1h.7m-.1 .3h.7m-1.4 0h.7m-.7 .4h.7m-.8 .1h.7m-.7 .1h.7m-.8 .2h.7m0 .2h.7m-2.2 .1h.7m-.5 .1h.7m-.8 0h.7m-.7 .8h.7m.9 .1h.7m-2.5 .1h.7m-.2 .1h.7m.5 .2h.7m-2.2 .1h.7m-.4 0h.7m.4 .8h.7m-1.8 .1h.7m-.7 .5h.7m-.5 0h.7m.3 0h.7m-1.8 .3h.7m-.9 .4h.7m-.7 .5h.7m-.8 0h.7m-.5 .3h.7m-.1 .3h.7m-1.7 .2h.7m.9 .1h.7m-1.8 .2h.7m.5 .2h.7m-2.1 .9h.7m0 .6h.7m-1.9 2h.7m.9 .5h.7m-1.7 3.1h.7m.5 2.1h.7m-1.3 1.3h.7m-1.2 13.6h.7m-.2 2.2h.7m1.2-37.1h.7m0 0h.7m-2.2 1.2h.7m0 .3h.7m-.9 2.7h.7m-.3 .6h.7m-1.2 .2h.7m-.4 .4h.7m-.6 .2h.7m-.2 .2h.7m-1.3 .4h.7m-.4 .1h.7m-1.3 1h.7m-.2 .2h.7m-1.8 .6h.7m-.5 .3h.7m.1 .4h.7m-1.3 0h.7m-.7 .9h.7m.7 .2h.7m-1.8 .4h.7m-1.4 .8h.7m.1 .5h.7m-1.4 .1h.7m-.4 9.3h.7m2.6-22.2h.7m-.8 2.7h.7m-1.6 1.6h.7m-.4 .1h.7m.1 .6h.7m-2.1 1.1h.7m-.3 .7h.7m-1.5 .4h.7m.8 .7h.7m-1.4 .2h.7m-1.4 0h.7m.4 .7h.7m-.9 .2h.7m.1 .9h.7m-2.1 .2h.7m-.7 1.1h.7m-1.2 .3h.7m.2 1.7h.7m-.5 .4h.7m1.5-13.1h.7m-.4 1.4h.7m-.7 .1h.7m-.5 .2h.7m-.7 .2h.7m-1.8 .2h.7m-.3 1.2h.7m-.3 .3h.7m-.6 .1h.7m-.4 .1h.7m-2.6 .2h.7m-.3 .4h.7m-.6 .4h.7m-.9 .3h.7m.5 .4h.7m-1.2 .5h.7m-.4 .6h.7m-1.2 0h.7m-.4 0h.7m-1.8 .1h.7m-.1 .1h.7m-.5 .7h.7m-.9 .1h.7m-1.1 0h.7m.2 .4h.7m-.8 .7h.7m-.6 .3h.7m-.8 1.9h.7m-1.2 .4h.7m-.9 1.2h.7m1.5-12.6h.7m-1.1 2.6h.7m.6 .2h.7m-.5 0h.7m-2.2 .1h.7m0 2.5h.7m-1.3 1.9h.7m.6 .4h.7m-.6 .4h.7m-2.1 .8h.7m.9 .1h.7m.6-9.6h.7m0 4h.7m-1.9 .2h.7m-.8 .5h.7m-.6 .2h.7m0 .9h.7m-.7 .2h.7m-.3 0h.7m-1.6 0h.7m.8-4.5h.7m.9 0h.7m-2.1 .2h.7m-.2 .6h.7m-.2 1h.7m-.9 1h.7m-1.5 1.4h.7m-1.2 1.1h.7m-.3 .6h.7m-.9 2.2h.7m-.5 2.2h.7m2-12.3h.7m-.5 2.6h.7m-.1 3.3h.7m-1.4 .3h.7m-1.3 .8h.7m.6 1.1h.7m-2.3 .1h.7m2.5-3.9h.7m-1.2 2.9h.7m1-2.5h.7m-1 .3h.7m-1.1 .4h.7m4-5.4h.7m.3 2.6h.7" stroke="#f16a30" stroke-width="0.7" fill="none" opacity="0.6"/>
<path d="M442.9 526.9h.7m3.2-1.6h.7m3.5-9.4h.7m1.5 12.8h.7m-.4 3.1h.7" stroke="#e070e0" stroke-width="0.7" fill="none" opacity="0.6"/>
<line x1="453.50" y1="484.70" x2="453.50" y2="582.00" stroke="#666" stroke-width="0.7"/>
<line x1="405.80" y1="532.50" x2="524.50" y2="532.50" stroke="#666" stroke-width="0.7"/>
<path d="M27.5 558.7V586.7H55" fill="none" stroke="#888" stroke-width="0.8"/>
<path d="M27.5 706.2V734.5H55" fill="none" stroke="#888" stroke-width="0.8"/>
<text transform="translate(25.00 563.40) rotate(-90)" font-size="10.8" text-anchor="middle" fill="#000">PE-A</text>
<text transform="translate(25.00 711.50) rotate(-90)" font-size="10.8" text-anchor="middle" fill="#000">PE-A</text>
<text x="39.20" y="598.00" font-size="10.8" text-anchor="start" fill="#000">FITC-A</text>
<text x="39.20" y="745.70" font-size="10.8" text-anchor="start" fill="#000">FITC-A</text>
<text x="214.20" y="478.00" font-size="11.2" text-anchor="middle" fill="#000">shOGT</text>
<text x="334.70" y="479.20" font-size="11.2" text-anchor="middle" fill="#000">CON</text>
<text x="463.20" y="478.00" font-size="11.2" text-anchor="middle" fill="#000">OGT</text>
<text x="214.20" y="622.20" font-size="11.2" text-anchor="middle" fill="#000">shOGT</text>
<text x="334.20" y="623.20" font-size="11.2" text-anchor="middle" fill="#000">CON</text>
<text x="465.20" y="623.20" font-size="11.2" text-anchor="middle" fill="#000">OGT</text>
<clipPath id="f2_35"><rect x="35.9" y="629.5" width="114.2" height="96.7"/></clipPath>
<rect x="35.5" y="629.5" width="115.0" height="96.7" fill="#fff" stroke="#444" stroke-width="0.8"/>
<path d="M38.5 726.0v-0.9M41.5 726.0v-0.9M44.5 726.0v-0.9M47.5 726.0v-0.9M50.5 726.0v-0.9M53.5 726.0v-0.9M56.5 726.0v-0.9M65.5 726.0v-0.9M68.5 726.0v-0.9M71.5 726.0v-0.9M74.5 726.0v-0.9M77.5 726.0v-0.9M80.5 726.0v-0.9M83.5 726.0v-0.9M92.5 726.0v-0.9M95.5 726.0v-0.9M98.5 726.0v-0.9M101.5 726.0v-0.9M104.5 726.0v-0.9M107.5 726.0v-0.9M110.5 726.0v-0.9M119.5 726.0v-0.9M122.5 726.0v-0.9M125.5 726.0v-0.9M128.5 726.0v-0.9M131.5 726.0v-0.9M134.5 726.0v-0.9M137.5 726.0v-0.9M146.5 726.0v-0.9" stroke="#777" stroke-width="0.4"/>
<g clip-path="url(#f2_35)">
<ellipse cx="44.0" cy="702.0" rx="8.8" ry="5.5" transform="rotate(-40 44.0 702.0)" fill="#3a66f5" opacity="0.9" filter="url(#b12)"/>
<path d="M35.3 692.2h.7m-1.3 0h.7m.5 .1h.7m-1 .5h.7m-.4 .8h.7m-1 3.1h.7m-1.1 .5h.7m-.1 2.2h.7m-1.6 .2h.7m-.8 .6h.7m-.8 0h.7m-.9 .2h.7m.1 .5h.7m-1.1 .4h.7m-.3 0h.7m-1.1 .4h.7m-1.3 .2h.7m.3 0h.7m-1.4 1.6h.7m.2 .2h.7m-1.4 .2h.7m-.9 .5h.7m.5 0h.7m-1 .1h.7m-.3 .2h.7m-1.2 .2h.7m-.6 0h.7m-.9 .3h.7m-.1 .4h.7m-2.1 .6h.7m-.6 .8h.7m.4 0h.7m-2.1 0h.7m.3 .1h.7m-.4 .5h.7m-1.6 .1h.7m-1 .2h.7m-.8 .4h.7m-.4 1.3h.7m-.7 .1h.7m.5 1.3h.7m-.7 .5h.7m-.7 .7h.7m-.7 .6h.7m-1.1 .2h.7m-1.5 .8h.7m-.3 1.8h.7m0 .2h.7m-.6 1.1h.7m-2.2 2.3h.7m-.4 2.8h.7m.6 2.7h.7m.5-49.4h.7m-.2 16.3h.7m-1.7 .4h.7m.1 1h.7m-.5 .7h.7m-.8 1.7h.7m-.5 .9h.7m-2.4 .1h.7m.6 .1h.7m-1.7 .3h.7m-.5 .1h.7m-.3 1h.7m-.1 .3h.7m-.4 .2h.7m-.7 .1h.7m-1.5 .2h.7m-.2 .2h.7m-1 .1h.7m-1.9 0h.7m.6 .4h.7m-1.7 .5h.7m.5 0h.7m-1.2 .1h.7m-.9 1.1h.7m-.6 .1h.7m-.4 .2h.7m-.4 .5h.7m-1.3 0h.7m-.4 .1h.7m-.9 .2h.7m-.6 .3h.7m-.6 .1h.7m-.4 .3h.7m-1.1 .2h.7m.1 .1h.7m-1.9 .1h.7m0 .1h.7m-.2 .2h.7m-1.5 .2h.7m-1.2 .6h.7m.4 .2h.7m-.9 .1h.7m-.5 .1h.7m-2 .1h.7m-.8 .3h.7m-.6 .2h.7m.4 .5h.7m-.5 .1h.7m-1.5 .2h.7m.3 .2h.7m-1.3 .1h.7m-1 0h.7m-.6 0h.7m-.2 .2h.7m-.9 0h.7m-.8 0h.7m-.2 .1h.7m-1 .2h.7m-2.2 .2h.7m.9 .2h.7m-.8 .1h.7m-.4 .3h.7m-.9 .2h.7m-1.3 .6h.7m-.3 .1h.7m-1.3 .1h.7m.2 0h.7m-1.4 .3h.7m-.9 .2h.7m-1.4 .2h.7m-.3 .5h.7m-.5 .2h.7m.3 1.1h.7m-1.6 .3h.7m-.5 0h.7m-.1 0h.7m-.7 .3h.7m-1.4 .4h.7m-.7 .4h.7m-.8 .1h.7m-.8 .3h.7m-1.1 .5h.7m.2 .2h.7m-.4 .7h.7m-1.3 1.2h.7m-1.1 .4h.7m.6 0h.7m-.9 2h.7m-.3-41.9h.7m.3 2h.7m-1.6 8.4h.7m-.3 .2h.7m-.5 2.4h.7m-.2 2.2h.7m-.8 .4h.7m-1.3 .9h.7m-.4 0h.7m-.6 .7h.7m-.3 .1h.7m-1.1 1.2h.7m-1.5 .3h.7m.4 .1h.7m-.2 .2h.7m-.5 .1h.7m-2 .3h.7m0 0h.7m-1.6 1.4h.7m-.7 .8h.7m-.8 .1h.7m.3 .2h.7m-.2 .1h.7m-2.2 0h.7m-.8 0h.7m-.7 .4h.7m.3 .3h.7m-1.9 0h.7m0 .2h.7m-1.3 .1h.7m0 .3h.7m-.3 .6h.7m-.2 0h.7m-.8 .1h.7m-2 .3h.7m0 .2h.7m-1.3 .2h.7m.5 .2h.7m-1.4 .1h.7m-.3 0h.7m-.6 .4h.7m-1.3 0h.7m.3 .1h.7m-.9 .1h.7m-.4 .1h.7m-.9 .1h.7m-1.2 0h.7m-1.7 .2h.7m.6 .3h.7m-.5 0h.7m-2 .1h.7m-.2 0h.7m-.8 0h.7m-.7 .3h.7m-1.5 .1h.7m.6 .4h.7m-.2 .2h.7m-2.3 .1h.7m-.2 .1h.7m.2 .1h.7m-1.2 .1h.7m-1.5 .2h.7m.5 .1h.7m-.4 0h.7m-.7 0h.7m-1.8 .2h.7m-.7 .1h.7m-.7 .2h.7m-.5 0h.7m-.5 0h.7m-1.1 .1h.7m.3 .2h.7m-.8 0h.7m-2 .2h.7m.5 .1h.7m-2.1 .1h.7m.3 .1h.7m-1.7 0h.7m.8 .1h.7m-.8 0h.7m-1.8 0h.7m.3 .1h.7m-.6 .2h.7m-.9 .3h.7m-.7 .3h.7m-.3 .1h.7m-2.1 0h.7m.7 .7h.7m-1.5 .3h.7m-.4 0h.7m-.1 .1h.7m-1.4 .1h.7m-1.3 .1h.7m.3 .1h.7m-.3 .1h.7m-2 .1h.7m.6 .1h.7m-1.8 .1h.7m-.3 .1h.7m-1 0h.7m-.8 .1h.7m-.3 .1h.7m-1.8 0h.7m.1 .2h.7m-.2 .2h.7m-1.6 .4h.7m.4 0h.7m-1.5 .2h.7m-.1 .2h.7m-1.5 .9h.7m-.3 .5h.7m-.1 .7h.7m-1.8 .9h.7m-1.1 1.2h.7m.5 0h.7m-.8 .2h.7m-.1 .3h.7m-1.4 .1h.7m-1.2 1.2h.7m-.4 6.4h.7m2.3-41.1h.7m-1.4 7.3h.7m-1.9 2.2h.7m-.6 .5h.7m1.1 .8h.7m-1.9 .5h.7m-1.3 0h.7m.3 .3h.7m-1.6 .8h.7m0 .1h.7m-.5 .4h.7m0 .5h.7m-1.3 .4h.7m-1.4 .9h.7m.2 .1h.7m-1.6 .2h.7m.6 .2h.7m-.6 .1h.7m-1.8 0h.7m-.8 .2h.7m-.8 .4h.7m-1.2 .1h.7m.1 .4h.7m-.8 .1h.7m.2 .2h.7m-2.1 .1h.7m-.8 .4h.7m.2 .1h.7m-1.6 0h.7m.8 .1h.7m-1.7 .1h.7m.1 .4h.7m-1 .1h.7m0 .3h.7m-.9 .1h.7m-1.5 0h.7m-.8 .2h.7m-1.1 .2h.7m-.3 .2h.7m-.2 0h.7m-2 0h.7m-.1 0h.7m-.7 .1h.7m-1.3 0h.7m.8 .2h.7m-.3 .1h.7m-1.9 0h.7m.1 .1h.7m-.6 0h.7m-1.8 0h.7m-.7 0h.7m-.2 .3h.7m.2 .2h.7m-.8 0h.7m-1.1 0h.7m-.3 .2h.7m-1.6 0h.7m.3 .4h.7m-.9 .1h.7m-1.9 0h.7m-.6 0h.7m-.2 .2h.7m-1.6 .1h.7m.2 .1h.7m-1.5 .1h.7m-.8 0h.7m-.1 .1h.7m-.5 0h.7m-1 0h.7m-.1 0h.7m-2 0h.7m.5 .1h.7m-1.3 0h.7m0 .1h.7m-1.6 0h.7m0 .1h.7m-.1 .3h.7m-.8 .1h.7m-.9 .2h.7m-1.6 .1h.7m.5 .1h.7m-1.8 0h.7m.4 .1h.7m-1.2 0h.7m-1.5 .1h.7m.6 0h.7m-1.8 .3h.7m-.4 0h.7m-.6 0h.7m-.3 .1h.7m-.8 .1h.7m-1.8 0h.7m.6 0h.7m-2.2 .2h.7m-.1 0h.7m-1.3 0h.7m-.6 0h.7m.5 0h.7m-.9 .2h.7m.1 .1h.7m-1 0h.7m-1.7 .1h.7m.4 0h.7m-2.4 0h.7m.9 .1h.7m-2 .1h.7m-.1 .3h.7m-.8 .1h.7m-1.3 .1h.7m.3 0h.7m-.7 0h.7m-1.1 0h.7m-.5 .2h.7m-1.2 .4h.7m.5 .1h.7m-1.5 .1h.7m-1.3 0h.7m-.7 .1h.7m.7 .2h.7m-.5 0h.7m-2.4 .1h.7m-.9 0h.7m-.1 .2h.7m-1.2 .1h.7m-.5 .1h.7m.9 .3h.7m-1.8 .1h.7m-.9 .1h.7m-1 0h.7m.6 0h.7m-.8 0h.7m-1.4 .1h.7m-.8 .1h.7m-1.1 .1h.7m-.9 .1h.7m-.1 .1h.7m-.5 0h.7m-.3 .2h.7m-.3 .1h.7m-1.8 0h.7m-1.1 .3h.7m-.9 .4h.7m.6 .1h.7m-1.6 .1h.7m.3 .1h.7m-.3 .2h.7m-2.3 .1h.7m-.8 .2h.7m-.4 .1h.7m.8 .1h.7m-.7 .2h.7m-2.1 .4h.7m.4 0h.7m-1.5 .1h.7m-1 .3h.7m.4 1.2h.7m-1.9 .5h.7m.5 0h.7m-1.1 .2h.7m0 .4h.7m-2.2 1.1h.7m.1 2.1h.7m-1.4 1.4h.7m-.4 4.3h.7m1.5-34h.7m-1.5 1.4h.7m-.9 .2h.7m-.2 2.2h.7m.1 .5h.7m-.7 .3h.7m-2 .5h.7m0 0h.7m0 .1h.7m-.4 .1h.7m-1.5 .3h.7m-1.2 .2h.7m.6 .3h.7m-1.4 0h.7m-.3 .5h.7m-.6 .2h.7m-.9 .4h.7m-.2 .1h.7m-1.7 0h.7m-.8 .1h.7m.2 .2h.7m-2.2 0h.7m.1 0h.7m-.5 .3h.7m-1.5 .2h.7m.6 .2h.7m-.7 .2h.7m-1.7 .5h.7m.2 .1h.7m-2.1 0h.7m.8 .1h.7m-.7 .1h.7m-1.8 0h.7m-1.2 0h.7m-.6 0h.7m1 0h.7m-1.5 .7h.7m-.9 .1h.7m-1.4 .2h.7m.3 .1h.7m-.4 .2h.7m-.5 .1h.7m-.5 .2h.7m-.7 .1h.7m-2 .1h.7m-1.2 .2h.7m.7 .1h.7m-1.6 .1h.7m-1.2 .1h.7m-.2 .2h.7m-1 .1h.7m0 0h.7m-1 0h.7m-1.3 .1h.7m1.2 .1h.7m-.8 0h.7m-1.3 .1h.7m-.8 0h.7m-.8 .2h.7m.1 0h.7m-1.2 .3h.7m-.9 0h.7m-.2 0h.7m-2.3 .1h.7m-.4 .1h.7m.3 0h.7m-.3 .1h.7m-.7 0h.7m-.8 0h.7m-1.1 .2h.7m-.3 0h.7m-1.9 0h.7m-.2 .1h.7m-1.3 0h.7m-.2 .1h.7m-1.4 0h.7m-.3 .2h.7m0 0h.7m-.7 0h.7m-1.9 .1h.7m.1 .1h.7m-.6 .1h.7m-1.4 .1h.7m.7 .2h.7m-1.4 0h.7m-1.3 0h.7m.3 0h.7m-1 .1h.7m-1.4 0h.7m.2 0h.7m-.8 .1h.7m-1.3 0h.7m.3 0h.7m-.9 .2h.7m-1.7 0h.7m-.8 .2h.7m-.1 0h.7m-1.3 .1h.7m.4 .1h.7m-.7 .2h.7m-.6 0h.7m-1.5 0h.7m.2 .1h.7m-1.9 .1h.7m.9 .1h.7m-1.5 0h.7m-1.3 .1h.7m-1.1 .1h.7m-.8 .1h.7m1 .1h.7m-1.1 0h.7m-.9 .1h.7m-1 .2h.7m-.8 .1h.7m-.6 .2h.7m.2 0h.7m-.6 .1h.7m-1.2 .1h.7m-.1 0h.7m-1.7 .1h.7m-.8 .1h.7m-1.5 .2h.7m1.1 .1h.7m-.9 0h.7m-.8 .1h.7m-1.3 .3h.7m-1.1 .3h.7m-.6 0h.7m.5 .1h.7m-1.8 0h.7m.1 .1h.7m-1.4 .3h.7m-1.3 0h.7m.2 .2h.7m-1.4 .3h.7m-1 0h.7m.6 0h.7m-.9 0h.7m-.6 .1h.7m-.2 .1h.7m-1.6 .1h.7m.1 .7h.7m-1.5 0h.7m-1.5 0h.7m-.4 0h.7m-1 .1h.7m.1 .1h.7m-.7 .2h.7m-.8 0h.7m-.5 .1h.7m.2 .3h.7m-2.5 .1h.7m-.4 .4h.7m.6 0h.7m-1 .2h.7m-.7 .2h.7m-1.2 .2h.7m-.2 .4h.7m-.4 .3h.7m-1.7 .4h.7m-1.1 0h.7m.2 1h.7m-1.4 .5h.7m-1.2 .1h.7m-.6 .1h.7m.5 .3h.7m-.4 1.1h.7m-1 .3h.7m-.5 .1h.7m-1.7 0h.7m-.4 .3h.7m-.7 6.3h.7m1.1-51.9h.7m-.6 16.9h.7m.4 .4h.7m-1.6 .8h.7m-1 1h.7m-1 .5h.7m-.7 .1h.7m-.7 .9h.7m-.9 .8h.7m.8 1.2h.7m-.6 0h.7m-2.3 .2h.7m.7 .1h.7m-1.3 .4h.7m.2 0h.7m-1.8 .4h.7m-.9 .3h.7m.6 .1h.7m-1.6 .1h.7m-.5 .2h.7m-.8 .1h.7m-1.3 .2h.7m-.2 0h.7m-.7 .7h.7m.1 .3h.7m-.6 0h.7m-2.1 0h.7m.2 .4h.7m-1 .2h.7m-.7 0h.7m0 0h.7m-.9 .2h.7m-.7 .3h.7m-1.9 .1h.7m-.9 0h.7m.5 .2h.7m-1 .1h.7m-.5 .1h.7m-1 .1h.7m.2 .4h.7m-1.2 .2h.7m-1.9 0h.7m-.8 0h.7m-.4 0h.7m-.7 .1h.7m.2 .1h.7m-.6 0h.7m-1.6 0h.7m-.1 .1h.7m-.9 0h.7m.2 .1h.7m-.9 .1h.7m-.6 .2h.7m-2.1 0h.7m0 .1h.7m-.8 .1h.7m-.8 .1h.7m.3 0h.7m-.8 .1h.7m-.7 0h.7m-1.5 .1h.7m-.1 0h.7m-.6 .1h.7m-.5 0h.7m-1.6 .1h.7m-1.4 .5h.7m0 .1h.7m.4 .1h.7m-1.5 .1h.7m.1 .2h.7m-.9 .1h.7m-.8 .2h.7m-.7 0h.7m-.6 .1h.7m-1.7 0h.7m-1.1 .1h.7m-.3 0h.7m-.4 .2h.7m-1.7 0h.7m-.4 .2h.7m-.7 0h.7m.4 .1h.7m-.3 0h.7m-1.2 .1h.7m-.7 0h.7m-2 0h.7m.1 0h.7m-.9 .1h.7m-1 .3h.7m-.2 0h.7m-.2 0h.7m-1.8 .2h.7m-.2 0h.7m-1.1 .1h.7m-.4 .1h.7m-.1 .1h.7m-1.5 .3h.7m.3 .1h.7m-1.3 .2h.7m-.1 0h.7m-1.8 .1h.7m.1 .2h.7m-1.1 .1h.7m-.1 .1h.7m-.8 .1h.7m-1.5 0h.7m-.1 0h.7m-.9 .1h.7m-.8 0h.7m-1.3 .1h.7m-.3 0h.7m-.6 .1h.7m-.6 .1h.7m-.4 .1h.7m-.8 .1h.7m-.1 0h.7m-1.5 .1h.7m-1.1 .1h.7m-.4 .1h.7m.2 .3h.7m-1.5 0h.7m-.4 .1h.7m-.3 0h.7m-1 .2h.7m-1.7 .1h.7m-.8 .1h.7m1.2 .1h.7m-1.6 0h.7m-1.2 .1h.7m-.8 .1h.7m.8 .1h.7m-2.2 .1h.7m-.9 0h.7m.6 .1h.7m-1.4 .2h.7m-.9 .1h.7m-.4 .1h.7m-1.1 .5h.7m-.3 .1h.7m-1.2 .1h.7m.6 0h.7m-1 .1h.7m-.2 0h.7m-1.6 .1h.7m-1.7 .2h.7m-.5 .1h.7m-.9 .1h.7m0 0h.7m-.6 .1h.7m-1 0h.7m-.7 0h.7m-.7 .1h.7m-.8 0h.7m-.9 .2h.7m-.4 .1h.7m-.7 .1h.7m-1 .1h.7m.2 .1h.7m-.2 .2h.7m-2 .2h.7m-.4 0h.7m-.6 .1h.7m-1.4 .1h.7m.4 .4h.7m-1.4 1h.7m-.6 .2h.7m.1 2.1h.7m-.4 0h.7m-2.2 .2h.7m1.1 .4h.7m-1 .1h.7m-1.4 .4h.7m-.2 8.1h.7m-1.8 .6h.7m1.6-39.3h.7m-.5 .6h.7m-.2 6.6h.7m-.9 .3h.7m-1.4 0h.7m-.7 1.7h.7m-.8 .6h.7m-.9 .1h.7m1 .2h.7m-2.1 .5h.7m-.2 0h.7m-.9 .1h.7m-1 .2h.7m-.2 .2h.7m.2 .6h.7m-1.3 0h.7m0 .1h.7m-1.5 .4h.7m-.7 .2h.7m-1.1 .2h.7m-.6 .2h.7m-1.2 .5h.7m-.8 0h.7m.8 .2h.7m-1.7 .1h.7m.5 0h.7m-1.6 .1h.7m-1.2 .1h.7m-.1 .2h.7m-.7 .1h.7m-1.4 .1h.7m-.8 .1h.7m0 .1h.7m.1 .1h.7m-1.2 .6h.7m-1.2 .1h.7m-.4 .4h.7m-1 .1h.7m-.1 .2h.7m-.7 0h.7m-1 .2h.7m-.4 .2h.7m-.5 .1h.7m-1.5 .1h.7m-.2 .1h.7m-1.3 0h.7m-.7 0h.7m0 .1h.7m-2 0h.7m-.6 0h.7m-.3 0h.7m-.9 .1h.7m-.1 .3h.7m0 .1h.7m-2 0h.7m-1.1 0h.7m.2 .1h.7m-1.6 0h.7m.2 .1h.7m-.1 .1h.7m-.3 0h.7m-2 .1h.7m.4 .1h.7m-1.5 0h.7m-.2 .1h.7m-1.4 .1h.7m-.4 0h.7m-.2 .1h.7m-.5 .1h.7m-.9 0h.7m-2 0h.7m.9 .2h.7m-2.2 .1h.7m-.6 0h.7m.3 0h.7m-1.2 .1h.7m-.3 0h.7m-1.6 0h.7m-.5 0h.7m.4 .3h.7m-2.1 .3h.7m-.8 .1h.7m.4 0h.7m-1.6 .5h.7m.8 0h.7m-2.1 0h.7m-.3 0h.7m.3 .1h.7m-1.5 .1h.7m-.1 .1h.7m-2.3 0h.7m.3 .4h.7m-.3 .1h.7m-1.4 .1h.7m-.4 .2h.7m-1.4 .1h.7m-.4 0h.7m-.3 .2h.7m-.6 .1h.7m-.1 0h.7m-2 0h.7m-.6 .1h.7m-.8 .2h.7m.7 0h.7m-.8 .2h.7m-2.1 .1h.7m-1 0h.7m1.1 0h.7m-1.5 .1h.7m-1.3 .1h.7m-.9 .1h.7m-.7 .2h.7m.2 .3h.7m-.3 0h.7m-2.2 0h.7m.9 .1h.7m-1.1 .2h.7m-.9 0h.7m-1.5 .1h.7m-.2 0h.7m-.7 .1h.7m-.5 .3h.7m-.4 .1h.7m-1.2 0h.7m-1.2 0h.7m.7 .1h.7m-1 .1h.7m-2.1 .1h.7m1.2 .1h.7m-2.6 .1h.7m.2 .3h.7m-.7 .1h.7m-.9 .2h.7m-.5 0h.7m-1.2 .1h.7m-.1 .4h.7m-.2 0h.7m-2.2 .1h.7m-.2 .2h.7m-1 .1h.7m-.1 .1h.7m.3 .6h.7m-.9 0h.7m-2.3 .2h.7m.3 .1h.7m-.2 .2h.7m-.9 0h.7m-.1 .1h.7m-2.2 .5h.7m.5 .4h.7m-1.9 .3h.7m-.2 .4h.7m-1.5 .2h.7m-.5 3.1h.7m.1 .2h.7m-.9 .5h.7m.4-31.7h.7m.4 2.9h.7m-.8 .1h.7m-1.7 2.1h.7m.4 .7h.7m-.9 .1h.7m-.3 .2h.7m-1.2 .3h.7m-1.5 .6h.7m-.6 .6h.7m1 .4h.7m-2.4 0h.7m.8 .6h.7m-2.1 .5h.7m-.2 .1h.7m-.4 .5h.7m-.3 .3h.7m-.8 .1h.7m-1.7 .1h.7m-.6 .1h.7m-.4 .3h.7m-1.1 .1h.7m-.1 0h.7m.3 .1h.7m-2.3 .1h.7m.4 .3h.7m-.2 .1h.7m-2.5 .1h.7m.5 .1h.7m-1.2 .1h.7m-.7 0h.7m-.9 .1h.7m.2 .5h.7m-.5 .1h.7m-2 .2h.7m-.8 .1h.7m.7 .1h.7m-1.3 0h.7m-.9 .5h.7m-.6 .2h.7m-1.3 .1h.7m-.3 0h.7m-1.1 .1h.7m-.1 .2h.7m-.8 0h.7m-.9 .1h.7m-1 0h.7m0 .5h.7m-1.1 .2h.7m-.7 .1h.7m-1.4 0h.7m.6 .1h.7m-.9 0h.7m-1.6 0h.7m.3 .1h.7m-1.9 0h.7m.4 .2h.7m-1.6 .1h.7m0 .1h.7m-1 .1h.7m-.5 .2h.7m.2 .3h.7m-1.9 .1h.7m.3 0h.7m-2.1 .1h.7m-.4 0h.7m-.9 .2h.7m-.3 .1h.7m-.3 0h.7m-1.5 0h.7m-.3 .4h.7m-1.2 0h.7m.3 .3h.7m-1.2 .1h.7m-1.1 .1h.7m.8 .2h.7m-1.6 .3h.7m-.7 0h.7m-1.1 0h.7m.5 .2h.7m-.6 0h.7m-2.3 .4h.7m-.3 .2h.7m-.6 0h.7m.3 0h.7m-2.1 0h.7m-.5 .3h.7m.8 .2h.7m-1.5 .1h.7m-1.5 .1h.7m-.7 0h.7m-.4 .1h.7m-1.1 .2h.7m.5 0h.7m-1.8 0h.7m-.9 .1h.7m.9 0h.7m-1.8 .4h.7m-1.1 .1h.7m-.9 .1h.7m.8 .1h.7m-2 .2h.7m-.4 .2h.7m.2 .1h.7m-.5 .3h.7m-1 0h.7m-1.7 .5h.7m.1 .2h.7m-.4 0h.7m-2 .1h.7m-.8 .1h.7m-.7 .3h.7m.6 .5h.7m-.1 .5h.7m-2.4 .1h.7m-.6 .8h.7m-.8 .1h.7m-.5 0h.7m.8 .1h.7m-1.8 .1h.7m-.6 .1h.7m-.3 .6h.7m-.7 .1h.7m-1 .8h.7m.1 .3h.7m-2.1 .2h.7m.2 .8h.7m-1.3 0h.7m-.9 .6h.7m.5 .8h.7m-2.2 .7h.7m.6 9.7h.7m-1.7 .3h.7m1.3-36.3h.7m.1 2.5h.7m-1.2 0h.7m.2 .5h.7m-1.6 .2h.7m0 1.3h.7m-.3 .5h.7m-1.7 0h.7m-1.2 .5h.7m-.2 0h.7m-.9 .2h.7m-1.4 0h.7m.5 .4h.7m-1.2 .1h.7m-1.1 .4h.7m-.3 1h.7m.4 .1h.7m-.7 0h.7m-.6 .2h.7m-2.1 0h.7m-.8 .1h.7m-.6 .2h.7m.2 0h.7m-1.2 .3h.7m-1.3 .1h.7m.7 .1h.7m-1 .1h.7m-1.7 .1h.7m-.2 .2h.7m-.7 .1h.7m-.5 0h.7m-1.7 .3h.7m-.7 .4h.7m-.1 .4h.7m-1 .1h.7m.6 .5h.7m-.7 .1h.7m-1.7 0h.7m-.6 .3h.7m.1 0h.7m-1.8 .1h.7m.4 .4h.7m-.5 .1h.7m-2.1 .3h.7m.6 .2h.7m-.7 .2h.7m-1.7 0h.7m-.1 .1h.7m-1.8 .1h.7m-.6 0h.7m.4 .2h.7m-1 .2h.7m-.6 .1h.7m-.1 .6h.7m-2.4 .1h.7m0 .3h.7m-.7 .5h.7m-1.5 0h.7m-.5 .4h.7m-.2 .1h.7m-1.3 0h.7m.4 .2h.7m-.7 .1h.7m-1.4 0h.7m.5 .2h.7m-.6 .2h.7m-1.6 .1h.7m-1.5 .1h.7m-.7 .1h.7m-.8 0h.7m.9 .2h.7m-1.3 .1h.7m-1.3 .2h.7m-1.1 0h.7m-.1 .4h.7m.3 .1h.7m-.9 .5h.7m-1.4 .5h.7m-.5 .9h.7m0 .6h.7m-1.6 1.5h.7m-1 .4h.7m-.4 .1h.7m-1.2 1.3h.7m.2 .1h.7m-1.5 .3h.7m-.6 .6h.7m.2 .7h.7m-.9 1.6h.7m-1.4 .2h.7m-.6 3.5h.7m1.7-36.4h.7m-.5 1.5h.7m-1.1 3.6h.7m.1 3.7h.7m-1.6 1.6h.7m-1.3 1h.7m-.3 .3h.7m-.3 .2h.7m-1 1.1h.7m.5 .3h.7m-1.6 0h.7m-.7 .2h.7m-.3 .5h.7m-.3 .6h.7m-1.8 .3h.7m.5 .7h.7m-.9 0h.7m-2.2 1.2h.7m-.4 0h.7m.2 .2h.7m-.8 0h.7m-.9 .3h.7m-.3 .1h.7m-1.8 .1h.7m.2 .2h.7m-1.6 .5h.7m.7 0h.7m-1 .1h.7m-.9 .1h.7m.1 .2h.7m-1.6 .4h.7m-1.2 .4h.7m.5 .2h.7m-2.1 .1h.7m-.3 .2h.7m-1.4 .9h.7m-.7 .4h.7m.6 .4h.7m-.3 .1h.7m-1.2 0h.7m-1.9 .1h.7m-.7 .6h.7m0 .1h.7m.3 .3h.7m-2 .1h.7m-.6 .1h.7m-1 .1h.7m.4 .1h.7m-1.4 0h.7m-.5 .3h.7m-1.4 0h.7m.8 .1h.7m-.9 .5h.7m-1 .1h.7m-.4 1h.7m-.8 .4h.7m-.9 .3h.7m-1 .9h.7m.3 1.6h.7m-2.5 1.8h.7m-.2 .8h.7m-.3 1.2h.7m1.1-34.5h.7m-.2 6h.7m-1.2 .1h.7m-1.2 .3h.7m-.8 .7h.7m.4 .2h.7m-.8 .8h.7m-1.6 2.3h.7m.8 .2h.7m-2.4 .4h.7m.3 1.7h.7m-1.5 .6h.7m-.4 1.1h.7m.6 .5h.7m-2.3 .3h.7m.4 .2h.7m-1.2 .1h.7m.1 1h.7m-.9 .2h.7m-.8 .1h.7m-.9 .1h.7m-.5 .2h.7m-.4 .5h.7m-1.9 .2h.7m.1 0h.7m-1.3 .6h.7m-.4 .7h.7m-1.5 .2h.7m-.7 .4h.7m0 .2h.7m-.9 0h.7m-.1 .3h.7m-1.4 .5h.7m-.6 1.7h.7m.2 .3h.7m-1.8 .1h.7m-.9 .4h.7m0 .6h.7m-1.4 .8h.7m-.8 .3h.7m-.4 .3h.7m-.7 0h.7m.4 .3h.7m-1.6 .9h.7m-.4 .4h.7m-.4 1.2h.7m-1.4 .5h.7m-1 .2h.7m.5 3.5h.7m-.9 3.7h.7m-.2 1.8h.7m-1.3 .4h.7m.2-31h.7m-.5 2.7h.7m-.6 1.2h.7m-.2 3.3h.7m-.1 .3h.7m-1.9 1.5h.7m-.5 .5h.7m.2 .8h.7m-.6 1.1h.7m-1.5 .3h.7m-1.1 .4h.7m.5 .5h.7m-1.9 .8h.7m-.7 .7h.7m-.9 2.9h.7m.8 1.2h.7m-1.6 .7h.7m.4 .2h.7m-.9 2.9h.7m-.4 .4h.7m-1.9 0h.7m.3 10.4h.7m1.6-31.8h.7m-2.4 .2h.7m0 0h.7m0 4.9h.7m-1.9 3.1h.7m-.6 2.8h.7m-1.1 1.4h.7m-.8 .8h.7m-.2 2.4h.7m-1.1 1.7h.7m-.4 15.1h.7m2.5-37.1h.7m-1.8 9.1h.7m.4 1.5h.7m-1 1.8h.7m-1.1 .1h.7m-.7 .3h.7m-.6 7.2h.7m0 .9h.7m-1.8 6.5h.7m1-17h.7m.7 5.8h.7m-1 2.4h.7m-1.7 .2h.7m1.5-17.5h.7m-.7 1.8h.7m-1 .5h.7m0 12.7h.7m2 2.4h.7m-.2-17h.7m.8 3.5h.7m-1.4 4h.7m4.6-1.5h.7m-.5 7.4h.7" stroke="#3d6df2" stroke-width="0.7" fill="none" opacity="0.85"/>
<path d="M34.7 668.5h.8m6.4 6.6h.8m2.8-13.9h.8m.2 .2h.8m.6 11.8h.8m4.8-4.6h.8m-.8 11.8h.8m1.2-33.3h.8m-1.4 28.9h.8m.3-22.1h.8m6.2 20.6h.8m1.1-.3h.8m3.9-2.4h.8m28.4 15.9h.8m6-1.7h.8m38.9 8.8h.8" stroke="#3a66ee" stroke-width="0.85" fill="none" opacity="0.95"/>
</g>
<line x1="75.70" y1="629.50" x2="75.70" y2="726.20" stroke="#333" stroke-width="0.8"/>
<line x1="35.50" y1="682.50" x2="75.70" y2="682.50" stroke="#444" stroke-width="0.8"/>
<line x1="75.70" y1="684.50" x2="150.50" y2="684.50" stroke="#444" stroke-width="0.8"/>
<clipPath id="f2_156"><rect x="156.70000000000002" y="629.5" width="118.4" height="97.3"/></clipPath>
<rect x="156.3" y="629.5" width="119.2" height="97.3" fill="#fff" stroke="#444" stroke-width="0.8"/>
<path d="M159.3 726.5999999999999v-0.9M162.3 726.5999999999999v-0.9M165.3 726.5999999999999v-0.9M168.3 726.5999999999999v-0.9M171.3 726.5999999999999v-0.9M174.3 726.5999999999999v-0.9M177.3 726.5999999999999v-0.9M186.3 726.5999999999999v-0.9M189.3 726.5999999999999v-0.9M192.3 726.5999999999999v-0.9M195.3 726.5999999999999v-0.9M198.3 726.5999999999999v-0.9M201.3 726.5999999999999v-0.9M204.3 726.5999999999999v-0.9M213.3 726.5999999999999v-0.9M216.3 726.5999999999999v-0.9M219.3 726.5999999999999v-0.9M222.3 726.5999999999999v-0.9M225.3 726.5999999999999v-0.9M228.3 726.5999999999999v-0.9M231.3 726.5999999999999v-0.9M240.3 726.5999999999999v-0.9M243.3 726.5999999999999v-0.9M246.3 726.5999999999999v-0.9M249.3 726.5999999999999v-0.9M252.3 726.5999999999999v-0.9M255.3 726.5999999999999v-0.9M258.3 726.5999999999999v-0.9M267.3 726.5999999999999v-0.9M270.3 726.5999999999999v-0.9" stroke="#777" stroke-width="0.4"/>
<g clip-path="url(#f2_156)">
<ellipse cx="181.5" cy="703.5" rx="12.0" ry="5.8" transform="rotate(-30 181.5 703.5)" fill="#3a66f5" opacity="0.9" filter="url(#b12)"/>
<path d="M155.2 715.2h.7m1.2-14.8h.7m-.2 3.7h.7m-1.9 6.3h.7m.4 .5h.7m-1.2 3.9h.7m-1.4 10.6h.7m2.2-33.1h.7m-1.9 3.5h.7m.6 1.9h.7m-1.9 .8h.7m1.1 .8h.7m-.7 2h.7m-1.2 1.3h.7m-.7 1.5h.7m-.6 .3h.7m-1.7 6.2h.7m.1 .9h.7m-1.6 .2h.7m-.7 0h.7m0 .1h.7m-.7 1.6h.7m-1.7 .3h.7m.3 1.4h.7m-1.3 .2h.7m-.3 .6h.7m.2 .8h.7m-1.1 .2h.7m-1.4 5.1h.7m-.8 .5h.7m2.4-26.5h.7m-1 2h.7m-1.1 3h.7m-.2 5.3h.7m-.6 0h.7m-1.7 .9h.7m.6 .7h.7m-2 .1h.7m-.6 .2h.7m-1.4 1.1h.7m.1 .7h.7m-.9 .5h.7m-.5 .8h.7m-1 .1h.7m.5 0h.7m-1.8 1.4h.7m-.1 1.1h.7m-1.6 .4h.7m-.1 .6h.7m-1.6 4.7h.7m.6 2.4h.7m1.6-26.3h.7m-1.5 3.5h.7m-1.2 1.2h.7m-.1 4.5h.7m-.5 .2h.7m-1.5 .4h.7m.4 .8h.7m-.5 .4h.7m-1 1.6h.7m-1.1 .5h.7m-1.3 .6h.7m.3 .1h.7m-2 .1h.7m1.1 .4h.7m-.9 .1h.7m-1.3 .2h.7m-.9 .4h.7m-.9 .3h.7m.4 0h.7m-.9 .1h.7m-1 2.4h.7m-1.5 .6h.7m-.6 1.4h.7m-.1 0h.7m-1.5 .5h.7m.4 1.2h.7m-1.1 .1h.7m-1 2.7h.7m-.9 3.2h.7m2.5-34.5h.7m-1.9 1.8h.7m.1 6.8h.7m-1.1 6.9h.7m-1.3 .5h.7m.6 .2h.7m-2.3 1.1h.7m-.5 .5h.7m-.4 2.1h.7m.6 1.8h.7m-1.1 .4h.7m-1 0h.7m-.1 .1h.7m-1.6 .7h.7m.3 0h.7m-1.6 .8h.7m-.6 .5h.7m.2 .1h.7m-2.6 0h.7m.4 .8h.7m-1.1 0h.7m-1.3 .8h.7m-.3 .3h.7m-.6 .2h.7m-.3 .2h.7m-.3 .5h.7m-1.2 10.1h.7m2.2-33.7h.7m-.9 6.3h.7m-1.8 .2h.7m.7 1.4h.7m-2.2 .8h.7m-.6 1.7h.7m.4 .1h.7m-.7 .7h.7m-1.2 .2h.7m-.5 .4h.7m-.1 .1h.7m-1 1.4h.7m-.4 .8h.7m-2 .4h.7m-.7 .5h.7m.5 .2h.7m-2.4 .1h.7m.3 .2h.7m-.9 .2h.7m-.1 .1h.7m-1.7 .3h.7m-.5 .1h.7m-.1 0h.7m-.3 1.1h.7m-.8 .1h.7m-1 .1h.7m-1 .2h.7m-1.6 0h.7m-.2 .4h.7m.5 .2h.7m-1.3 .5h.7m-1.2 .5h.7m-.6 .5h.7m-.9 .1h.7m.3 .4h.7m-2 .3h.7m.3 .1h.7m-2 .4h.7m.4 .1h.7m-.7 .1h.7m-1.3 .3h.7m-.9 1.1h.7m.9 .5h.7m-1.1 .1h.7m-1.7 1h.7m-.4 .7h.7m-.5 1.4h.7m-1.2 1.8h.7m-.2 .3h.7m-1.4 2.5h.7m2.4-30.4h.7m-.2 1.2h.7m-.8 2.1h.7m-2 .1h.7m.5 1.7h.7m-.7 1.4h.7m-.8 .7h.7m-1 .5h.7m-.1 .5h.7m-.7 .4h.7m-1.5 .1h.7m0 1.1h.7m-1.7 0h.7m-.6 .1h.7m.2 .1h.7m-1.6 .4h.7m-.5 .1h.7m-.9 .3h.7m-.9 .2h.7m-1.3 .1h.7m1 0h.7m-.7 .3h.7m-.8 .5h.7m-1.8 .4h.7m0 0h.7m-.8 .3h.7m-.9 .2h.7m-1.4 .1h.7m-.4 .3h.7m-.1 0h.7m-1.4 .6h.7m-.7 .2h.7m-.3 .1h.7m-.7 .2h.7m.3 .2h.7m-.7 .3h.7m-1.5 .1h.7m-1.6 .2h.7m.9 .3h.7m-1.5 .1h.7m-.5 .3h.7m-1.9 .2h.7m0 0h.7m-.6 .2h.7m-.3 .1h.7m-1.5 0h.7m-.5 .3h.7m-1 .1h.7m.8 0h.7m-2.3 .1h.7m-.7 .2h.7m-.2 .7h.7m.4 .6h.7m-1.2 .6h.7m-1.6 .4h.7m.7 0h.7m-1.9 .1h.7m-1 .3h.7m-.9 .1h.7m-.8 .2h.7m-.5 0h.7m.8 .5h.7m-.5 .1h.7m-1.7 .1h.7m-.1 .2h.7m-.9 1h.7m-1.2 .4h.7m-1.4 .2h.7m1.1 .4h.7m-1.9 .3h.7m-.9 0h.7m.7 1.1h.7m-1 .1h.7m-1.6 0h.7m.3 .3h.7m-1 .3h.7m-1.3 .8h.7m-1.1 1.2h.7m.3 3.8h.7m-1.7 .9h.7m1.9-31.8h.7m-.6 2h.7m-.1 .7h.7m-1 1h.7m-1.5 .1h.7m-.3 1.2h.7m-.1 .9h.7m-.6 0h.7m-2 .1h.7m-.4 .4h.7m.1 .5h.7m-1.5 .1h.7m-1 0h.7m.4 0h.7m-1.2 .4h.7m-.4 .2h.7m-.1 0h.7m-1.2 .1h.7m-1.1 1.2h.7m-.6 1.2h.7m-1.8 .3h.7m-.4 0h.7m0 .5h.7m-.1 .1h.7m-1.9 .2h.7m-.7 0h.7m-.1 .3h.7m-.9 0h.7m-.3 0h.7m-.1 .1h.7m-2.2 .1h.7m-.6 .3h.7m.5 .1h.7m-1.9 .3h.7m.7 .1h.7m-2 .2h.7m0 0h.7m-1.5 .6h.7m-.8 .5h.7m.4 .1h.7m-.2 0h.7m-2.1 .2h.7m.5 0h.7m-1.5 0h.7m0 .1h.7m-.9 .1h.7m-.5 .5h.7m-1.6 .3h.7m-.1 0h.7m-1 .3h.7m-1.1 0h.7m-1.2 .2h.7m.3 .1h.7m-.1 .2h.7m-.8 .1h.7m-.7 .1h.7m-1.7 0h.7m.3 .2h.7m-1 0h.7m-1.5 .2h.7m.2 .5h.7m-2 .7h.7m.6 .1h.7m-.5 0h.7m-1.4 .2h.7m.1 .4h.7m-2 .2h.7m.1 .3h.7m-1.8 .1h.7m-.7 .4h.7m-.4 0h.7m.7 0h.7m-.8 .1h.7m-1.4 0h.7m-.5 .3h.7m-.3 .5h.7m-2.1 .1h.7m-.8 .1h.7m-.5 .7h.7m-.9 0h.7m.8 .1h.7m-2.1 0h.7m-.1 .2h.7m.3 .2h.7m-1.6 .7h.7m-.9 1.2h.7m.4 .1h.7m-2.4 .7h.7m-.1 .2h.7m-.5 .1h.7m-.4 5.9h.7m1.2-36.8h.7m-.7 1.4h.7m-1.4 1.1h.7m.7 .5h.7m-.8 .3h.7m-1.3 7.1h.7m-1.4 .3h.7m.8 .9h.7m-.8 .6h.7m-1.7 .1h.7m-1.1 .3h.7m.5 .2h.7m-2.1 .6h.7m.6 .2h.7m-.6 0h.7m-.6 .1h.7m-1 .2h.7m-.6 .8h.7m-1.2 0h.7m-.9 .1h.7m.3 .3h.7m-1 .1h.7m-2.1 0h.7m.2 .1h.7m-.6 .6h.7m-1.5 .1h.7m-.2 .2h.7m.3 .2h.7m-.8 .1h.7m-1.6 .3h.7m-.9 0h.7m.5 .1h.7m-1.5 .1h.7m-1.1 0h.7m-.9 .1h.7m-.4 0h.7m-.6 0h.7m-.5 .1h.7m-.1 .1h.7m-.6 .3h.7m-.6 .2h.7m-1.8 .1h.7m-.6 .1h.7m-.1 .1h.7m-1.8 .1h.7m-.9 .1h.7m-.4 .2h.7m.5 0h.7m-1.6 .1h.7m-.6 .4h.7m-.7 .2h.7m.1 .1h.7m-1.6 0h.7m.4 0h.7m-2 .1h.7m-.7 0h.7m-1.2 .5h.7m1.1 .1h.7m-2.1 .1h.7m-.6 .2h.7m.1 0h.7m-.8 .3h.7m-.8 .1h.7m0 .1h.7m-.6 .1h.7m-2 .1h.7m-1.2 .2h.7m0 0h.7m.4 .1h.7m-.7 .1h.7m-2 .1h.7m.6 .3h.7m-2.1 .1h.7m-.4 .8h.7m-1 .3h.7m-1.1 0h.7m.3 .1h.7m.1 0h.7m-2 0h.7m0 .4h.7m-1.9 .2h.7m.3 0h.7m-.3 .3h.7m-1.5 0h.7m.4 .1h.7m-1.2 .1h.7m-.4 .3h.7m-1.1 .1h.7m-1.4 .5h.7m.4 1.1h.7m-.7 0h.7m-.9 .1h.7m-1.8 .1h.7m-.5 0h.7m.5 .6h.7m-1.5 .2h.7m-.8 .3h.7m.1 .7h.7m-1.2 .3h.7m-1.5 .2h.7m.2 .5h.7m-1.2 .2h.7m-.6 .5h.7m-.8 2.8h.7m-.3 .7h.7m-1.7 1h.7m.6 .1h.7m-2 1.2h.7m2.9-45.2h.7m-2.4 4.5h.7m-.6 12.2h.7m-.7 .1h.7m.1 .3h.7m0 0h.7m-.8 .6h.7m-1.9 .1h.7m.2 .7h.7m-.7 .8h.7m-1.3 1.3h.7m-.8 .3h.7m0 .3h.7m-.2 .4h.7m-2.1 .2h.7m.9 .1h.7m-2.6 .2h.7m.4 0h.7m-.3 .1h.7m-.4 0h.7m-1.6 .2h.7m-1.4 .2h.7m-.3 .3h.7m-.6 .2h.7m-1.1 .4h.7m.6 .1h.7m-.7 .1h.7m-.5 .1h.7m-1.6 0h.7m-.3 .3h.7m-1.3 0h.7m-1 .1h.7m-.4 0h.7m-1.2 .1h.7m.8 .1h.7m-.5 .6h.7m-1.1 0h.7m-1.4 .1h.7m.1 .2h.7m-.5 0h.7m-2.3 .1h.7m0 .1h.7m-.8 .1h.7m.1 .1h.7m-1.1 0h.7m-.5 .2h.7m-.3 0h.7m-1.5 .1h.7m.1 .1h.7m-2.4 .1h.7m-.8 .1h.7m.3 .1h.7m-1.1 0h.7m-.6 0h.7m-1.3 .1h.7m.2 .1h.7m-.4 .1h.7m-.5 0h.7m-.5 .4h.7m-1.5 .2h.7m-1.2 0h.7m.6 .2h.7m-1.1 0h.7m-1.2 .3h.7m-1.2 .1h.7m-.8 0h.7m.9 .1h.7m-1.2 0h.7m-1.9 .1h.7m.5 .4h.7m-2 0h.7m.6 0h.7m-1.1 .1h.7m-1.3 .1h.7m.1 0h.7m-.2 .1h.7m-.8 .1h.7m-2.1 .1h.7m.2 0h.7m-1.6 0h.7m.3 .1h.7m-1.3 .1h.7m-.5 .1h.7m.1 0h.7m-1.5 0h.7m-.4 .1h.7m-.9 0h.7m.3 .1h.7m-.8 .1h.7m-2.2 0h.7m.8 .6h.7m-1.2 .3h.7m-1.9 .7h.7m0 .1h.7m-1 0h.7m-.9 .1h.7m-.6 .3h.7m-.7 .5h.7m-.3 .1h.7m-.4 .1h.7m.1 0h.7m-1.7 .2h.7m-.7 0h.7m-.8 .1h.7m0 .3h.7m-1.7 0h.7m.3 .1h.7m-.2 0h.7m-2.3 .2h.7m-.3 .1h.7m-1.4 0h.7m1 .2h.7m-1.1 .1h.7m-.1 0h.7m-1.3 .1h.7m-1.7 0h.7m-.3 .1h.7m-1 .2h.7m.3 1h.7m-.8 .1h.7m-1.8 .3h.7m1 0h.7m-2.1 0h.7m.3 .2h.7m-2.2 .2h.7m.8 .1h.7m-1.6 .1h.7m-.6 .3h.7m-1.3 .1h.7m.9 .2h.7m-1.3 .3h.7m-.2 .2h.7m-2.1 .1h.7m.6 .8h.7m-.4 .1h.7m-1.5 0h.7m-.5 .4h.7m-.2 .4h.7m-.7 .7h.7m-.6 0h.7m-1.7 1.1h.7m-1.1 .7h.7m.2 .5h.7m-.4 3.8h.7m1.4-37.1h.7m-.6 5.8h.7m-.9 2.5h.7m-.5 1.2h.7m-1.6 0h.7m-1 .1h.7m.6 0h.7m-1.4 .1h.7m-1.1 .1h.7m-.8 .7h.7m-.3 .1h.7m.1 .2h.7m-1.1 .7h.7m-1.4 .1h.7m-.5 .2h.7m.1 .9h.7m-.8 .3h.7m-2.4 .1h.7m.4 0h.7m-.3 .3h.7m-1.1 .3h.7m-1.7 0h.7m-.8 .1h.7m-.7 .2h.7m-.6 0h.7m-.8 .2h.7m.1 .1h.7m.3 0h.7m-1.2 0h.7m-.9 .1h.7m-.4 .1h.7m-.6 .1h.7m-.9 .3h.7m-1.4 0h.7m.5 0h.7m-1.2 .1h.7m-1.7 0h.7m.5 .2h.7m-1.6 0h.7m-1 .4h.7m.8 1.1h.7m-2.2 .1h.7m.3 .1h.7m-.8 .1h.7m-.5 .1h.7m-1.7 .2h.7m-.9 .1h.7m.4 .2h.7m-.9 0h.7m-.7 .4h.7m-1.8 .5h.7m.7 .1h.7m-1.9 .3h.7m-.6 .1h.7m-.4 0h.7m.1 .1h.7m-1.2 .1h.7m-1.3 .1h.7m-.4 .1h.7m-1 .2h.7m-.5 .1h.7m.1 .1h.7m-.3 .2h.7m-1.1 0h.7m-.6 0h.7m-1.7 .1h.7m.3 .1h.7m-.2 0h.7m-2.5 .1h.7m-.3 0h.7m-.9 .1h.7m.7 0h.7m-.9 0h.7m-1 .2h.7m-1.2 .1h.7m.3 .1h.7m-1.9 .1h.7m-.3 .1h.7m-1.3 .5h.7m-1 .4h.7m.4 0h.7m-1.1 .1h.7m.5 .2h.7m-.9 0h.7m-1 .1h.7m-.9 0h.7m-1.5 .1h.7m-.9 .1h.7m-.2 0h.7m-.9 .1h.7m-.6 0h.7m-.3 .2h.7m0 .1h.7m-.6 0h.7m-.7 0h.7m-1.9 .1h.7m-1.3 0h.7m.2 .2h.7m.3 0h.7m-1.4 .5h.7m-1.1 .1h.7m-.9 .1h.7m.1 .1h.7m-1.2 .1h.7m-.6 .2h.7m-.4 0h.7m-1.6 .1h.7m-.9 0h.7m-.9 .1h.7m.5 .1h.7m-1 0h.7m-.4 0h.7m-1.4 .1h.7m-.9 0h.7m-.2 0h.7m-.5 .2h.7m-1.1 0h.7m.5 0h.7m-1.5 .3h.7m-1.7 0h.7m-.2 .1h.7m-1.1 .2h.7m.1 0h.7m.1 .4h.7m-1.3 .1h.7m-1.6 0h.7m-.2 0h.7m-.2 0h.7m-1.1 .1h.7m.2 .2h.7m-1.8 .9h.7m-.7 .2h.7m-.2 .3h.7m-1.7 .8h.7m.6 .2h.7m-.3 0h.7m-1.7 .1h.7m0 .2h.7m-.6 .2h.7m-1.4 .7h.7m-.7 .1h.7m-.4 1.6h.7m-1.9 .7h.7m.3 .1h.7m-1.2 2.5h.7m1-38.2h.7m-.2 5.1h.7m.3 1.2h.7m-1.9 2.1h.7m-.4 .9h.7m-1 2.1h.7m.2 1.6h.7m-.8 .4h.7m-.5 0h.7m-2.2 .2h.7m.1 .2h.7m.3 .1h.7m-1.4 .3h.7m-.2 .5h.7m-1.1 0h.7m-.1 .4h.7m-.9 .2h.7m-2 0h.7m.4 .1h.7m-1.3 .1h.7m.3 .1h.7m-2.5 .2h.7m.3 .1h.7m-1.4 .2h.7m-.4 .1h.7m-.8 .1h.7m-.3 0h.7m-1.6 .1h.7m.1 0h.7m-1.4 0h.7m.1 .3h.7m-.4 0h.7m-.1 .1h.7m-1.2 .2h.7m-.3 .2h.7m-1.6 .2h.7m.2 .2h.7m-1.4 .3h.7m-.1 .1h.7m-1.3 .1h.7m-1 .2h.7m-.1 0h.7m-1 0h.7m-.7 0h.7m.1 0h.7m-1.2 .1h.7m-1.1 0h.7m-1.2 .4h.7m.7 .1h.7m-.8 .1h.7m-.9 .1h.7m-1.1 0h.7m0 .1h.7m-.8 .1h.7m-1.1 0h.7m-.4 .1h.7m-1.1 .1h.7m-.2 .1h.7m-.6 0h.7m-2 0h.7m.4 .1h.7m-.6 .1h.7m-1.3 .1h.7m-.9 0h.7m-1.1 .2h.7m0 .3h.7m-1.7 .1h.7m.9 .1h.7m-1.3 0h.7m-.5 .1h.7m-.8 0h.7m-1.6 .3h.7m-.6 .1h.7m-.3 .2h.7m.1 .1h.7m-1.7 .1h.7m-1.4 .3h.7m.3 0h.7m-1.7 .1h.7m.7 .1h.7m-1.2 .1h.7m.3 0h.7m-1 0h.7m-1.5 0h.7m-.4 .1h.7m-1.5 0h.7m.7 .3h.7m-.9 .2h.7m-2 .1h.7m.6 .1h.7m-1.1 0h.7m-.1 .1h.7m-1 0h.7m-2.1 .2h.7m.4 .1h.7m-.1 .1h.7m-1.7 .3h.7m.2 0h.7m-.5 .2h.7m-1.8 .1h.7m-.9 .2h.7m-1.2 .2h.7m-.3 0h.7m.6 .2h.7m-1.3 .2h.7m-1.4 0h.7m-.4 .1h.7m-1.1 0h.7m-.1 .2h.7m-.6 0h.7m-1.2 0h.7m-.8 .1h.7m-1 0h.7m1.1 .1h.7m-2.6 0h.7m.2 0h.7m.1 0h.7m-1.1 0h.7m-.3 .2h.7m-1.4 .1h.7m-.7 .3h.7m-1 .2h.7m-.7 0h.7m-.5 0h.7m-1 .3h.7m-.4 .3h.7m-1.1 0h.7m-1.2 .1h.7m-.4 .1h.7m-.5 .1h.7m.4 0h.7m-2.2 .1h.7m-.5 .1h.7m-.7 .1h.7m-.5 0h.7m.5 .1h.7m-1.3 0h.7m-.2 .4h.7m-.6 0h.7m-1.8 .2h.7m-.7 .3h.7m-.9 0h.7m-.1 0h.7m-.9 .2h.7m.1 .4h.7m-2.2 .2h.7m.2 0h.7m-1.5 .1h.7m.5 .3h.7m-.5 .1h.7m-1.7 .1h.7m-1.3 .2h.7m-.6 .1h.7m.9 .1h.7m-1.6 .3h.7m.4 1.1h.7m-1.1 .2h.7m-2.2 1.5h.7m.6 5.3h.7m.4-36.9h.7m.8 4.1h.7m-1.6 .8h.7m-1.6 .8h.7m-.2 1.6h.7m-1.1 2.1h.7m.7 1h.7m-2.2 0h.7m.3 .1h.7m-1.1 .2h.7m.4 .1h.7m-1.3 .4h.7m-1.6 .1h.7m-1 .6h.7m-.1 .1h.7m-.8 .2h.7m0 .1h.7m-.2 .1h.7m-1.3 0h.7m-.5 0h.7m-1.6 .1h.7m.1 .1h.7m-1.4 .1h.7m.1 .1h.7m-.1 .4h.7m-2.5 .2h.7m-.2 0h.7m-1.3 .2h.7m1.1 0h.7m-1.8 .1h.7m-.4 .2h.7m-.8 .2h.7m-1.2 0h.7m-.8 .1h.7m.6 0h.7m-.7 .2h.7m-.4 0h.7m-2.2 0h.7m-.4 .1h.7m-1.2 .2h.7m-.3 .4h.7m-1.1 0h.7m-.3 .1h.7m-.3 .4h.7m-1.6 .1h.7m1.1 .1h.7m-1.8 .2h.7m-.7 .2h.7m-1.2 0h.7m.8 .1h.7m-.6 0h.7m-2.6 .1h.7m.6 0h.7m-1.4 .1h.7m-1.2 .1h.7m.6 0h.7m-.7 .4h.7m-1.1 0h.7m.1 .3h.7m-.8 0h.7m-1.2 0h.7m-.9 0h.7m-.2 .2h.7m-1.4 .1h.7m-1.5 .1h.7m1.1 .2h.7m-2 .1h.7m-.1 0h.7m-.4 .1h.7m-.2 .1h.7m-2.3 .1h.7m-.8 .1h.7m.7 0h.7m-.9 .1h.7m-1.7 .1h.7m-.5 .4h.7m.2 0h.7m-1.3 0h.7m-1.3 .1h.7m.2 0h.7m-.6 .2h.7m-.2 0h.7m-.7 .1h.7m-2 0h.7m-.9 .2h.7m-.9 0h.7m.4 .1h.7m-.3 .1h.7m-1.3 0h.7m-1.4 .1h.7m-.7 0h.7m.4 .1h.7m-.9 0h.7m-1.1 .1h.7m-.1 0h.7m-1.2 0h.7m-1 .1h.7m.3 .1h.7m-.9 0h.7m-.6 0h.7m-2.1 .4h.7m-.8 0h.7m.9 .1h.7m-2 0h.7m.3 .2h.7m-.6 .2h.7m-.8 0h.7m-1.1 .1h.7m-1.3 0h.7m-.1 .1h.7m0 0h.7m-1.9 0h.7m-.8 .1h.7m-.1 .1h.7m.3 .1h.7m-1.7 .1h.7m-.8 0h.7m.2 .1h.7m-1.5 0h.7m-.8 .2h.7m-1.4 0h.7m.7 .1h.7m-.8 0h.7m-1.7 0h.7m-.9 .3h.7m-.9 .1h.7m.2 .1h.7m-.5 0h.7m-1.6 .2h.7m.2 .1h.7m-1.1 0h.7m-.4 .2h.7m-1 .3h.7m-1.1 .1h.7m.8 .2h.7m-2.3 .1h.7m-.4 .2h.7m-.6 .2h.7m.3 .3h.7m-2.3 0h.7m-.1 0h.7m-1.2 .1h.7m0 0h.7m-.8 .1h.7m0 0h.7m-.6 .2h.7m-1.4 .1h.7m-.1 0h.7m-.9 0h.7m-1.4 .1h.7m-1.1 .1h.7m.4 .2h.7m-1.5 .5h.7m-.9 .7h.7m.2 .2h.7m-1.7 0h.7m.3 .1h.7m-.4 0h.7m-1.6 .3h.7m.1 .3h.7m-.1 0h.7m-.7 .1h.7m-2.5 .3h.7m1.1 0h.7m-.7 .1h.7m-1.8 0h.7m-1.5 .4h.7m.1 .5h.7m-1 2.1h.7m0 .3h.7m-1.9 2.2h.7m1.6-31.7h.7m-.9 2.9h.7m-.2 .6h.7m-1 .5h.7m-.8 1.1h.7m.8 .5h.7m-.9 0h.7m-1.4 .1h.7m.1 .7h.7m-2.1 1h.7m-.4 0h.7m-.4 .8h.7m-.6 .1h.7m-.7 .1h.7m-.8 .3h.7m-.7 .1h.7m-1 .6h.7m-1 .1h.7m.5 .5h.7m-.6 .1h.7m-.3 .5h.7m-2.1 .4h.7m-.9 0h.7m0 .1h.7m-1 .1h.7m-1.4 .1h.7m.1 .1h.7m-.7 .3h.7m-.8 .1h.7m-.3 .3h.7m-.3 0h.7m-1.9 0h.7m-.2 .1h.7m.1 0h.7m-1.3 .1h.7m-.8 0h.7m-.9 .1h.7m-.2 .6h.7m-.8 0h.7m-.8 .2h.7m0 .1h.7m-1.3 .1h.7m-.4 .1h.7m-.9 0h.7m-1.1 .2h.7m-1.4 0h.7m1 .1h.7m-.6 0h.7m-2.6 .1h.7m.5 .1h.7m-1 .1h.7m-.8 0h.7m0 .1h.7m-.8 0h.7m-1.1 0h.7m-.9 0h.7m.3 .1h.7m-1.8 0h.7m-.9 .1h.7m.6 .2h.7m-2.4 .1h.7m-.3 .1h.7m.6 .1h.7m-2.1 0h.7m.3 0h.7m-.2 .3h.7m-1 .2h.7m-1.9 .1h.7m-.7 .1h.7m.4 0h.7m-1.2 0h.7m-1.1 .1h.7m0 .2h.7m-1.2 .1h.7m-.8 .2h.7m-.5 0h.7m.3 0h.7m-2.1 .1h.7m.1 0h.7m-.1 0h.7m-2 .3h.7m-1.2 0h.7m-.6 .1h.7m.2 0h.7m-.2 .4h.7m-2.1 0h.7m-.2 .1h.7m-1.1 0h.7m-1 .2h.7m-.7 .3h.7m-.5 .1h.7m-.1 .1h.7m-.1 0h.7m-1.4 .1h.7m-1.2 .3h.7m-.3 .1h.7m.3 0h.7m-1.7 .1h.7m-1.2 .1h.7m-.4 0h.7m.3 .1h.7m-1.9 .1h.7m.3 0h.7m0 .1h.7m-1.3 0h.7m-1.2 .4h.7m-.9 .2h.7m-1.2 0h.7m-.4 .2h.7m-.8 0h.7m0 .2h.7m-1.6 0h.7m-.1 .1h.7m.1 .2h.7m-1.2 .1h.7m-1 .1h.7m-1.2 0h.7m.1 0h.7m-.3 .1h.7m-.5 .2h.7m-1.1 0h.7m-.7 .1h.7m-.3 0h.7m-2 .1h.7m-1 .1h.7m.2 .2h.7m-1.1 .3h.7m-1.1 .1h.7m1.1 0h.7m-.7 .1h.7m-1.2 .3h.7m-1.3 .3h.7m-.3 .4h.7m-.5 .1h.7m-.6 .2h.7m-.3 .1h.7m-1.5 0h.7m0 .2h.7m-1.5 0h.7m-.6 .5h.7m-1.5 .1h.7m-.6 0h.7m-.8 1.2h.7m.2 0h.7m-1.4 .1h.7m.7 .8h.7m-.8 .1h.7m-.8 0h.7m-1.5 0h.7m.2 .5h.7m-1.8 .4h.7m-1 .1h.7m.3 1.1h.7m-1.4 0h.7m.3 1.6h.7m-.5 2h.7m-1.7 .7h.7m-1 4.1h.7m1.9-41.7h.7m-.9 8.1h.7m0 .2h.7m-1.8 .9h.7m-1.2 1.2h.7m.2 .5h.7m-.4 .4h.7m-.6 .4h.7m-.3 1.1h.7m-1.2 0h.7m-.8 .4h.7m-1.9 .4h.7m.9 .2h.7m-2.1 0h.7m.7 .1h.7m-.5 1h.7m-1.2 0h.7m-.4 .3h.7m-1.6 0h.7m-.4 .2h.7m-.5 0h.7m-.7 .7h.7m-.8 0h.7m-1 .5h.7m-1.3 .2h.7m.8 .1h.7m-2.1 0h.7m.7 .1h.7m-2.2 0h.7m-.9 .4h.7m-.3 0h.7m.2 .2h.7m-1 .1h.7m-1.2 .1h.7m-1.2 0h.7m-.7 .1h.7m.2 0h.7m-1.6 .1h.7m-.2 .2h.7m-.9 .2h.7m.7 .1h.7m-1.8 0h.7m-.7 .1h.7m-.9 .2h.7m-.1 .1h.7m0 .1h.7m-2.1 .2h.7m.3 0h.7m-1.5 0h.7m-.2 0h.7m-1.6 .1h.7m-.6 .1h.7m.9 .1h.7m-2.4 0h.7m0 0h.7m-.9 .1h.7m.5 .1h.7m-.8 .2h.7m-2 .1h.7m-.3 0h.7m0 .2h.7m-.6 .1h.7m-1.5 0h.7m-1.1 .1h.7m-.7 0h.7m-1.1 0h.7m-.2 .2h.7m.5 0h.7m-1.3 .1h.7m-.4 .6h.7m-1.1 0h.7m-.2 0h.7m-.5 .4h.7m-2.3 .2h.7m.7 .1h.7m-1.5 0h.7m-.3 0h.7m-.5 .1h.7m-1.8 .1h.7m.2 .2h.7m-1.3 .1h.7m-1.2 .2h.7m-.6 .1h.7m1.1 .1h.7m-2.6 .1h.7m-.4 0h.7m-.9 .1h.7m-.7 .4h.7m-.2 0h.7m-1.1 .1h.7m.9 0h.7m-1.8 .1h.7m0 .3h.7m-1.6 .1h.7m.3 .1h.7m-1.5 0h.7m-.9 .1h.7m-.7 0h.7m-1.2 .1h.7m.5 0h.7m0 .2h.7m-.9 .1h.7m-2.3 0h.7m0 .1h.7m-.9 0h.7m.5 0h.7m-1.3 .1h.7m-.8 .3h.7m-1 0h.7m0 .3h.7m-1.4 0h.7m-.9 .1h.7m.1 .2h.7m-.5 .1h.7m-1.6 .3h.7m-.7 .1h.7m-1 .1h.7m.2 .2h.7m-1.6 0h.7m-1 0h.7m-.4 0h.7m.6 .4h.7m-1.1 0h.7m-2 .3h.7m.3 0h.7m-1.4 0h.7m-.1 .3h.7m-1.3 .2h.7m.1 .3h.7m-1.3 .1h.7m.4 .6h.7m-2 0h.7m.1 .5h.7m-1.1 0h.7m-.6 .1h.7m-.9 .6h.7m-.8 0h.7m.2 .1h.7m-.7 .4h.7m-1.6 .4h.7m.3 1.8h.7m-1.9 .6h.7m.9 1.5h.7m-.3-33h.7m.8 3.2h.7m-2 .4h.7m-.7 .3h.7m.5 3.3h.7m-2.1 1.3h.7m0 .4h.7m-.8 .4h.7m-1 .7h.7m-.7 .6h.7m.2 .1h.7m-.6 .3h.7m-1.6 .1h.7m-.3 .4h.7m-1.3 .1h.7m-.4 .3h.7m-.9 .2h.7m-.9 .2h.7m-.1 .1h.7m-.4 0h.7m-.3 .1h.7m-1 .1h.7m-.6 .2h.7m-.4 .1h.7m-1.9 .1h.7m-.6 .1h.7m-1.1 0h.7m-1 .1h.7m-.2 .1h.7m-.2 .9h.7m-1.1 .1h.7m-.7 .1h.7m-.8 .1h.7m0 .1h.7m-.1 0h.7m-.7 .2h.7m-1.9 .2h.7m-.4 .1h.7m-.3 .1h.7m-1.3 0h.7m-.6 .1h.7m-1.4 .1h.7m.1 .1h.7m-.8 .7h.7m-.4 0h.7m-.2 .1h.7m-2.2 .2h.7m.6 0h.7m-.2 .1h.7m-2.4 .1h.7m1 0h.7m-1 0h.7m-.5 .1h.7m-1.7 .1h.7m-1 0h.7m-.1 0h.7m-1.6 0h.7m-.4 0h.7m-.9 .3h.7m-.3 0h.7m-.1 0h.7m-1.5 .1h.7m.2 0h.7m-2.1 .1h.7m-.2 .1h.7m.3 0h.7m-.5 .1h.7m-1.1 .1h.7m-.5 .2h.7m-2 0h.7m.2 .1h.7m-1.1 0h.7m-.5 .2h.7m.3 0h.7m-1.5 .1h.7m-.1 .1h.7m-1.7 .1h.7m-.1 .3h.7m-1.1 .2h.7m-1.5 0h.7m.8 .2h.7m-1.5 .1h.7m-.3 .1h.7m-1 0h.7m-.3 .1h.7m-.8 .3h.7m-.7 .1h.7m-.6 0h.7m-1.1 .2h.7m-.9 .2h.7m-.2 0h.7m-.3 .2h.7m-2.2 0h.7m.9 0h.7m-.9 .3h.7m-2.2 .3h.7m-.6 .2h.7m.7 .1h.7m-2 .2h.7m.8 0h.7m-.7 0h.7m-1.5 .1h.7m-.2 .1h.7m-1.8 .2h.7m.7 .4h.7m-2.4 .3h.7m-.5 .3h.7m.5 .1h.7m-.3 .6h.7m-.9 0h.7m-1.8 .2h.7m-1 0h.7m-.5 .1h.7m-1.1 0h.7m.2 .1h.7m-1.3 .1h.7m.5 .1h.7m-.9 .1h.7m-1.9 .2h.7m.8 .3h.7m-1.3 0h.7m-.6 .3h.7m0 .1h.7m-2.3 .4h.7m.3 .7h.7m-1.8 .4h.7m.4 1.4h.7m-1.2 1.4h.7m-.5 .6h.7m-1.1 2h.7m-.7 .5h.7m.2 5.8h.7m.3-33.1h.7m-.6 .3h.7m-.7 .7h.7m.3 1.9h.7m-2.1 .1h.7m1.1 .2h.7m-2.6 .5h.7m.9 .4h.7m-1.1 .7h.7m-.5 .2h.7m-.3 .1h.7m-1.1 .1h.7m-.9 .4h.7m-.3 .2h.7m-.4 0h.7m-1.2 0h.7m-.4 .1h.7m-.8 .4h.7m-2.2 .1h.7m-.2 .2h.7m-.2 .2h.7m-1.1 .1h.7m0 .4h.7m-.5 .8h.7m-1.8 .1h.7m-.1 .1h.7m-1.7 .1h.7m.6 0h.7m-1.5 .2h.7m-.4 0h.7m0 .3h.7m-1.5 0h.7m-1.2 .4h.7m-.1 0h.7m-.5 .1h.7m-1.2 .3h.7m-.2 0h.7m-.5 .1h.7m-.9 .1h.7m-.9 0h.7m-.1 .2h.7m-1 0h.7m-.3 .1h.7m-1.7 .1h.7m.6 .2h.7m-2.6 0h.7m.3 .1h.7m-.6 .1h.7m0 .2h.7m-1.9 0h.7m.6 .1h.7m-1.4 .6h.7m-.4 .1h.7m-2 .2h.7m-.3 .5h.7m-1.2 .3h.7m.2 0h.7m-.7 .2h.7m-.7 0h.7m-.3 0h.7m-1.7 .1h.7m-.2 0h.7m-1.4 .1h.7m-.7 .1h.7m0 0h.7m-1 .1h.7m-.5 .1h.7m-1 .1h.7m-.6 .6h.7m.2 .4h.7m-2.1 .1h.7m.2 0h.7m-1.6 .1h.7m1.1 0h.7m-2.5 .2h.7m0 0h.7m-.5 .9h.7m-1.3 .1h.7m-.4 .2h.7m-1.1 .3h.7m.5 .2h.7m-1.5 0h.7m-.2 1h.7m-.1 .1h.7m-2.4 0h.7m.3 .3h.7m0 .6h.7m-2.2 .3h.7m-.9 .5h.7m-.7 .7h.7m-.3 .2h.7m-1.1 .9h.7m.4 .3h.7m-.9 .6h.7m-1.7 .3h.7m.5 .2h.7m-1.5 0h.7m-1.1 .4h.7m.4 .3h.7m-.1 .4h.7m-1.1 1.6h.7m-.4 .1h.7m-1.5 2.4h.7m-.9 3.3h.7m1.2-40.3h.7m.1 7.7h.7m-1.4 .5h.7m-.2 .8h.7m-1.1 1.9h.7m-.7 .3h.7m-1.1 .2h.7m-.1 .4h.7m0 .1h.7m-.5 2.1h.7m-1.4 .5h.7m-1.4 .1h.7m0 .2h.7m-1.5 .8h.7m.5 .2h.7m-1.3 .2h.7m-.1 .2h.7m-1.4 .9h.7m-.7 .5h.7m-1.4 .1h.7m-.2 .1h.7m-.9 .3h.7m-.6 .2h.7m-1.2 .2h.7m-.4 0h.7m-.5 .2h.7m.1 .2h.7m-1.8 .2h.7m.7 0h.7m-2.1 .2h.7m.7 .1h.7m-1.4 0h.7m-.9 0h.7m-.9 .1h.7m.1 0h.7m-1.5 .3h.7m-.1 .2h.7m-1.2 0h.7m.2 .4h.7m-1.3 .2h.7m.3 0h.7m-2.6 .1h.7m.4 .1h.7m-.5 .1h.7m-1 .3h.7m-.5 .1h.7m-1.8 .1h.7m.6 0h.7m-1.8 .5h.7m-.6 .1h.7m-.3 0h.7m-1.3 0h.7m0 .3h.7m-.6 0h.7m-.9 .1h.7m-.3 .2h.7m-.5 0h.7m-1.6 .2h.7m-1.1 .3h.7m-.1 0h.7m.5 .2h.7m-2.2 .1h.7m-.1 .3h.7m-1.4 0h.7m-.5 .6h.7m-.8 .3h.7m.4 .1h.7m-1.9 .1h.7m-.6 0h.7m-.8 .5h.7m-.5 .9h.7m-.7 .3h.7m0 0h.7m-1.1 0h.7m-1.4 .1h.7m.8 .5h.7m-.4 .5h.7m-1.7 .9h.7m-.9 0h.7m-.4 .5h.7m-1.4 1h.7m-.9 .3h.7m-.1 .2h.7m-.4 .2h.7m-1 .1h.7m-1.2 .7h.7m.8 1.2h.7m-2.1 1h.7m.2 .2h.7m-1 .1h.7m.1 .2h.7m-1.8 1.9h.7m.5 .6h.7m-1.1 5.6h.7m1.4-40.7h.7m-1.4 4.7h.7m-1.4 4.1h.7m.2 .6h.7m-.4 0h.7m-1 .5h.7m-1.3 .3h.7m-.4 .1h.7m-1.4 0h.7m1.1 1.1h.7m-1.7 .2h.7m-1 .4h.7m-.2 .1h.7m-.9 1.4h.7m-.4 0h.7m-.2 0h.7m-1.1 .3h.7m-1.2 0h.7m-1.1 .1h.7m0 .1h.7m.2 .7h.7m-2.3 .3h.7m.3 .3h.7m-.9 .1h.7m-1 .2h.7m-.1 .2h.7m-1.6 .2h.7m-.7 .2h.7m-.8 .4h.7m-.9 1.1h.7m.7 .2h.7m-1.7 .3h.7m-.6 .2h.7m-.4 .1h.7m.1 0h.7m-2.1 .4h.7m-.8 0h.7m-1 .6h.7m-.6 .1h.7m.8 0h.7m-.6 .4h.7m-1.1 .1h.7m-1.5 0h.7m-1 .2h.7m-.8 .2h.7m-.2 .3h.7m-.5 .2h.7m-1.5 .2h.7m.5 .1h.7m-1.6 .1h.7m-.8 1.1h.7m-.3 0h.7m-1.1 0h.7m-.5 .4h.7m-1 .2h.7m0 .1h.7m.3 .1h.7m-1.8 0h.7m-1.2 .2h.7m-.5 .4h.7m.7 .6h.7m-1.1 0h.7m-.6 .1h.7m-1.9 .1h.7m-1 0h.7m-.3 1h.7m-.7 .2h.7m-.3 1.2h.7m-1.4 .6h.7m.9 1.6h.7m-2.3 1.2h.7m.5 .2h.7m-.4 1.3h.7m.8-30.6h.7m-1.3 .7h.7m.1 4.6h.7m-.2 3.1h.7m-1.9 .2h.7m-.6 1h.7m-1.3 .3h.7m-.2 .5h.7m-.1 1.4h.7m-1 .3h.7m-1.4 0h.7m-.3 .2h.7m-.6 .2h.7m0 .1h.7m-1.5 .3h.7m-1.3 .6h.7m.6 .4h.7m-.6 .3h.7m-.6 .2h.7m-1.9 .2h.7m-.5 .2h.7m-.2 .7h.7m-.6 .3h.7m-1.5 .3h.7m-.2 .1h.7m-.3 .2h.7m-1 .1h.7m-1.4 .1h.7m-.5 0h.7m.8 .8h.7m-1.3 .1h.7m-1.9 .4h.7m-.2 .3h.7m.1 .1h.7m-2 .5h.7m-.8 .2h.7m.6 .4h.7m-.6 .3h.7m-1.9 .1h.7m-.6 .4h.7m-.1 .2h.7m-1.1 .8h.7m.1 .1h.7m-2 .1h.7m.5 .2h.7m-.1 .4h.7m-1.8 .1h.7m-.1 .5h.7m-.5 0h.7m-.6 .1h.7m-1 1.1h.7m-.7 .1h.7m-.4 .3h.7m-2.1 .5h.7m.2 1h.7m-.9 .1h.7m.2 1.2h.7m-2.5 .3h.7m1.1 .2h.7m-2.4 1.8h.7m.9 1.5h.7m-1.6 2.9h.7m2.3-33.4h.7m-.7 .7h.7m-2 3.7h.7m0 .4h.7m-.6 2.1h.7m-1.5 .8h.7m-.7 .5h.7m-.8 0h.7m-.2 0h.7m-.3 1.1h.7m-.9 .2h.7m-.8 .6h.7m-1.2 .1h.7m-.9 .4h.7m.3 0h.7m-1.5 .1h.7m0 .7h.7m0 .5h.7m-1 .2h.7m-1 .2h.7m-1.6 .2h.7m-.6 .1h.7m-.9 .1h.7m.7 0h.7m-1.2 .2h.7m-1.4 .2h.7m-1.2 0h.7m1.1 1.1h.7m-2.4 .9h.7m.6 .7h.7m-1.6 .5h.7m.3 .3h.7m-2.1 .8h.7m-.7 .1h.7m.7 .2h.7m-.6 .2h.7m-2.2 .6h.7m-.8 .1h.7m.5 .2h.7m0 .3h.7m-.8 .2h.7m-1.1 1.1h.7m-.6 .6h.7m-.3 1h.7m-1.9 1.7h.7m-.7 .1h.7m-.6 2.4h.7m-.8 1.6h.7m-.6 .8h.7m-1.5 0h.7m.2 .3h.7m-.8 6.1h.7m-1.3 4.5h.7m2-38.5h.7m-1.4 3.5h.7m-.9 3.1h.7m-.3 .2h.7m0 .7h.7m0 .8h.7m-1.2 0h.7m-1 .1h.7m-.2 1.8h.7m-.7 .2h.7m-1 .2h.7m-.7 1.4h.7m0 .3h.7m-2.3 .2h.7m.5 0h.7m-1.6 .2h.7m.6 .2h.7m-.7 .5h.7m-2.6 .7h.7m.7 .3h.7m-.8 .6h.7m-1.2 .4h.7m-1.3 .2h.7m-.4 .2h.7m0 .1h.7m-.7 .6h.7m-.9 1.2h.7m-1.1 .3h.7m-1 .2h.7m-.9 .6h.7m.1 .2h.7m-1.6 0h.7m2.2-20.2h.7m.1 4h.7m-.5 0h.7m-1.2 1.5h.7m-.6 .1h.7m-.6 2.5h.7m-1.5 3.1h.7m-.6 .6h.7m-1.2 .9h.7m-.2 .4h.7m.2 1.1h.7m-.8 1.5h.7m-1.1 2.9h.7m-1.9 .2h.7m-.6 .1h.7m-.7 .4h.7m.8 .2h.7m-1.9 1.2h.7m.1 .9h.7m-.6 1h.7m-.2 1.7h.7m-2.2 2.7h.7m1.8-27h.7m-1 8.8h.7m-.7 3.2h.7m-.8 .5h.7m.6 3.2h.7m-.6 1.2h.7m-1.5 2.5h.7m-.1 6.5h.7m.6-27.8h.7m-1.4 4.7h.7m-.8 4.8h.7m.1 .3h.7m-1.5 2.4h.7m-.8 .9h.7m.2 12.1h.7m1.1-31.8h.7m.1 7.4h.7m-1.7 8.1h.7m-1.2 .2h.7m-.5 1.4h.7m0 .1h.7m-1.5 .6h.7m.5 .9h.7m-1.6 .1h.7m-.4 2.2h.7m-.7 3.8h.7m.3 2.9h.7m-2.4 2h.7m0 5.6h.7m1.4-30h.7m-1.4 3.5h.7m-.1 8.8h.7m-1.5 1h.7m.5 .6h.7m-1.3 6.4h.7m1.5-15.7h.7m-.5 10.1h.7m.3-7.4h.7m-.5 0h.7m-.4 9.2h.7m-1.2 .8h.7m2.2-7.9h.7m-1.6 1.5h.7m1.4-3.5h.7m.5 4.1h.7m4 2.7h.7m8.7 7.4h.7" stroke="#3d6df2" stroke-width="0.7" fill="none" opacity="0.85"/>
<path d="M181 708.2h.8m.2-8.4h.8m2.8 4.7h.8m-.9 .7h.8m.2-5.3h.8m-1.3 3.8h.8m-.2 2.9h.8m2.3-5.1h.8m-1.7 1.7h.8m-1 .8h.8m-1.8 .4h.8m-.1 .4h.8m-1.5 .7h.8m.2 2.7h.8m.9-7.1h.8m-1.2 4.7h.8m.5-7.9h.8m.5 2.5h.8m-.7 .3h.8m-1.9 .7h.8m.5 0h.8m-1.2 .3h.8m-1.9 .6h.8m-.9 .2h.8m-.7 .5h.8m-.7 .2h.8m-1.7 .2h.8m-.9 .6h.8m.4 .3h.8m-.6 .7h.8m-2 .1h.8m-.4 2h.8m1.5-11.9h.8m-.8 3.9h.8m-.7 0h.8m-1.8 1.3h.8m-.8 .2h.8m-1.1 .2h.8m.9 1.8h.8m-1.1 .3h.8m-2.4 2.4h.8m.8 .6h.8m-.7 .3h.8m-.6-11.6h.8m.5 .3h.8m-1.2 4.1h.8m-.9 1.3h.8m-1.8 .3h.8m.4 .8h.8m-.9 1.1h.8m-1.3 .2h.8m-1.4 .1h.8m-.7 .8h.8m.3 1h.8m-.5 .2h.8m-2.2 .6h.8m-.7 1.5h.8m-.4 1.3h.8m0-11.2h.8m-.8 3.6h.8m.4 0h.8m-1.9 .2h.8m.5 .3h.8m-2 .4h.8m-1.2 .5h.8m-.2 .3h.8m-.7 .1h.8m-1.5 .1h.8m0 .3h.8m-.4 .4h.8m.4-7.5h.8m.2 1.2h.8m-1.3 .8h.8m-1.4 2.4h.8m.3 0h.8m-1.2 .9h.8m-.8 0h.8m-1.9 .6h.8m.5 .9h.8m-1.9 .2h.8m-.5 1.1h.8m-.9 2h.8m0 .1h.8m-1.8 5.8h.8m1.8-16.2h.8m-1.5 .2h.8m.3 3.7h.8m-2.5 .4h.8m.1 .1h.8m-1.2 .4h.8m-1.3 .5h.8m.2 0h.8m-.3 1.4h.8m-2.2 0h.8m.7 1.9h.8m-1.7 1.2h.8m-.3 .4h.8m-1.8 .4h.8m-1.4 .8h.8m.8 1.5h.8m1.1-12.4h.8m-1.4 .3h.8m-1 .6h.8m-.7 .1h.8m-.2 .1h.8m-2.4 1.1h.8m.5 .2h.8m-1.7 .7h.8m-.2 .7h.8m-.7 2.5h.8m-.6 .1h.8m-1.2 .1h.8m-1.1 .8h.8m-.6 .2h.8m-1.9 1.3h.8m-.7 1.1h.8m2.2-10.8h.8m-1.6 .4h.8m-.9 .2h.8m.1 .3h.8m-.9 .5h.8m-.6 1.4h.8m-1.6 .2h.8m-1.1 .2h.8m-.9 .4h.8m-.8 .3h.8m.3 0h.8m-1.5 .8h.8m-2.2 .1h.8m-.8 1.2h.8m.4 .3h.8m-1.6 .6h.8m-.2 .2h.8m-.9 .4h.8m-1.8 .4h.8m0 1.4h.8m-1.3 .5h.8m-.4 .7h.8m-.4 .9h.8m-1 .6h.8m-1.5 2.5h.8m2.5-17.7h.8m-1.1 .3h.8m-1.8 3h.8m-.7 4.5h.8m-1.4 .4h.8m-.8 .3h.8m.5 .2h.8m-2.3 .3h.8m-.1 .1h.8m-1.6 .2h.8m.2 .3h.8m-.3 1.5h.8m-1.2 .4h.8m-.5 .1h.8m-2 .3h.8m.2 1h.8m-2.4 .2h.8m.4 0h.8m-1.1 .1h.8m-1 0h.8m-.4 1.8h.8m-.3 .8h.8m-1.7 .1h.8m1.7-16.5h.8m-2.1 .7h.8m.6 4.4h.8m-2 .7h.8m-.3 .7h.8m-1.8 1.5h.8m-.4 .1h.8m-.7 .3h.8m.1 2.2h.8m-.9 1.2h.8m-1.7 .2h.8m-1.2 1.5h.8m-1.4 2.5h.8m-.2 0h.8m.3 1h.8m0-13.1h.8m.2 1.3h.8m-2.4 0h.8m0 2h.8m-1.4 .3h.8m-.5 .2h.8m.1 .2h.8m-1.6 .3h.8m-.5 1h.8m-.6 2.1h.8m-2 1.1h.8m.1 0h.8m-.8 .5h.8m-1.2 1.9h.8m-.5 .1h.8m.5-13.7h.8m-1.1 1.3h.8m.4 .4h.8m-.7 1.2h.8m-.9 1.4h.8m-2.1 .8h.8m.4 .1h.8m-2.5 .3h.8m.5 1.3h.8m-2 .3h.8m.6 1.1h.8m-2 .2h.8m-.4 .2h.8m-.1 .1h.8m-1.8 .4h.8m-1.5 1.2h.8m-.9 0h.8m.3 .6h.8m-1.4 .9h.8m-.3 .2h.8m-1.2 9.2h.8m.8-59.3h.8m-1.1 3.9h.8m.3 2.4h.8m-1.9 33.2h.8m-.3 .7h.8m-.7 1h.8m-2.1 4.2h.8m0 .8h.8m-.5 1.7h.8m-2 0h.8m-.6 4.1h.8m2.7-13.2h.8m-1.4 0h.8m-1.6 5.9h.8m.4 1.3h.8m-1.9 2.6h.8m-.1 2.2h.8m-1.8 .2h.8m-.4 1.6h.8m1.2-12.6h.8m-1.6 2.2h.8m.6 .3h.8m-2.2 .1h.8m-.8 1.6h.8m.3 .2h.8m-1.5 .1h.8m.3 3.1h.8m-1.6 2h.8m-1.6 .5h.8m-.2 .7h.8m-.2 .5h.8m-2 .1h.8m.8-7.7h.8m-.2 2.3h.8m.3 .9h.8m-1.1 5.1h.8m-1.9 3.4h.8m.9-44.4h.8m-.4 31.9h.8m-.5 .1h.8m-1.3 .4h.8m-.7 3.1h.8m-1.1 2.9h.8m1-42.3h.8m-1.1 5.7h.8m.3 28.7h.8m-1.9 .2h.8m-.2 .4h.8m-1.6 4.6h.8m.1 2.3h.8m-.9 .8h.8m.7-40h.8m-1.1 13.5h.8m-.7 21.9h.8m.5-25.8h.8m.5 26.2h.8m-2.2 2.4h.8m-.8 1.8h.8m.9 3h.8m1-27.7h.8m-1.6 10.1h.8m-.5 9.7h.8m-.5 3.7h.8m-2.6 3.3h.8m1.7-4h.8m.2 1.3h.8m1.4-7.5h.8m-1.4 2.6h.8m-.2 1h.8m.3-36.9h.8m-1.4 9.7h.8m-.6 21.8h.8m-.6 6h.8m-.2 .2h.8m.3-44.1h.8m-.6 45.8h.8m1.4-37h.8m-.8 1.9h.8m-1 2.5h.8m-1.2 22.8h.8m-1.2 5h.8m-.7 2.1h.8m-.5 3.8h.8m-.2 6h.8m1.8-44.2h.8m-2.3 29.6h.8m-1 .4h.8m-.7 .1h.8m.4 .5h.8m.1-36.8h.8m-.2 34.8h.8m1.8-15.6h.8m-2.1 18.2h.8m-1.3 .9h.8m1.3-30.9h.8m0 24.6h.8m-1.7 2h.8m-.7 9.3h.8m1.5-14.3h.8m0 5.3h.8m-.9 10.5h.8m-2.4 3.7h.8m1.3-12.5h.8m.8-1.7h.8m3.1 8.4h.8m-.6-35.2h.8m-.4 .6h.8m.4 32.4h.8m.4-9.2h.8m.9 4.3h.8m-.9 8h.8m-.9 3.4h.8m.8-12.8h.8m-.3 2.8h.8" stroke="#3a66ee" stroke-width="0.85" fill="none" opacity="0.95"/>
</g>
<line x1="198.20" y1="629.50" x2="198.20" y2="726.80" stroke="#777" stroke-width="1.3"/>
<line x1="156.30" y1="683.20" x2="198.20" y2="683.20" stroke="#444" stroke-width="0.8"/>
<line x1="198.20" y1="685.50" x2="275.50" y2="685.50" stroke="#444" stroke-width="0.8"/>
<text x="182.60" y="697.20" font-size="4.6" text-anchor="start" fill="#0a1a3a">Q3-5</text>
<clipPath id="f2_281"><rect x="281.59999999999997" y="629.5" width="118.0" height="97.0"/></clipPath>
<rect x="281.2" y="629.5" width="118.8" height="97.0" fill="#fff" stroke="#444" stroke-width="0.8"/>
<path d="M284.2 726.3v-0.9M287.2 726.3v-0.9M290.2 726.3v-0.9M293.2 726.3v-0.9M296.2 726.3v-0.9M299.2 726.3v-0.9M302.2 726.3v-0.9M311.2 726.3v-0.9M314.2 726.3v-0.9M317.2 726.3v-0.9M320.2 726.3v-0.9M323.2 726.3v-0.9M326.2 726.3v-0.9M329.2 726.3v-0.9M338.2 726.3v-0.9M341.2 726.3v-0.9M344.2 726.3v-0.9M347.2 726.3v-0.9M350.2 726.3v-0.9M353.2 726.3v-0.9M356.2 726.3v-0.9M365.2 726.3v-0.9M368.2 726.3v-0.9M371.2 726.3v-0.9M374.2 726.3v-0.9M377.2 726.3v-0.9M380.2 726.3v-0.9M383.2 726.3v-0.9M392.2 726.3v-0.9M395.2 726.3v-0.9" stroke="#777" stroke-width="0.4"/>
<g clip-path="url(#f2_281)">
<ellipse cx="313.5" cy="695.0" rx="9.5" ry="6.2" transform="rotate(-20 313.5 695.0)" fill="#3a66f5" opacity="0.9" filter="url(#b12)"/>
<path d="M280.4 676.1h.7m1.8 17.4h.7m-1.5 11.5h.7m3.5-10.9h.7m-.5 6.2h.7m.6 3h.7m1.2-37h.7m-2.1 25.8h.7m.3 11.9h.7m-1.5 .3h.7m-.9 3.1h.7m2.3-24.2h.7m-1.3 8.3h.7m-.6 3.7h.7m.3 3.2h.7m-2.5 5.3h.7m0 4.8h.7m.7-18.8h.7m.3 3.9h.7m-1.7 0h.7m-.1 3.2h.7m.2 1.4h.7m-.6 1.5h.7m-1.7 .1h.7m-.1 .8h.7m-1.2 .7h.7m-1.3 2.5h.7m.6 .6h.7m-2 4.6h.7m-.2 3.5h.7m1.3-32.3h.7m-1 5.8h.7m-.4 1.2h.7m-1.3 1.7h.7m-.2 3.2h.7m-1 .7h.7m0 2h.7m-1.6 1.6h.7m.1 .3h.7m-.3 4.1h.7m-.8 1h.7m-.7 .7h.7m-.3 2.4h.7m-2.3 .9h.7m.9 1.1h.7m-1.9 2.3h.7m-.7 .3h.7m-.3 2.5h.7m-1.3 2.3h.7m2.1-31.5h.7m-1.5 .7h.7m0 1.4h.7m.1 2.8h.7m-.5 .9h.7m-.9 1.1h.7m-.8 .1h.7m-.4 .5h.7m-1.4 .4h.7m-.9 0h.7m-1.4 2.1h.7m.6 .3h.7m-.9 3.7h.7m-.3 1.4h.7m-.9 1.8h.7m-.8 .1h.7m-.9 .5h.7m-1.6 .3h.7m-.4 .1h.7m-.4 1.1h.7m-.3 .2h.7m-.7 1.2h.7m-1.3 .2h.7m-1 5.3h.7m-.6 1.8h.7m.6 4.8h.7m-.4-29.5h.7m.8 1.6h.7m-.9 2.8h.7m-.7 .4h.7m-1.7 .4h.7m-1.2 2.2h.7m.5 .7h.7m-1.9 .5h.7m.5 .7h.7m-1.7 .3h.7m.5 .2h.7m-1.7 .6h.7m-.3 .6h.7m-1.5 .1h.7m-.2 .1h.7m.3 .1h.7m-1.2 .1h.7m-1.2 .9h.7m.3 .3h.7m-.3 .2h.7m-2 0h.7m-.8 .4h.7m-1.1 .1h.7m-.4 .2h.7m.5 .1h.7m-.4 .3h.7m-.8 .2h.7m-1 0h.7m-1.3 .1h.7m-.2 .1h.7m-.3 1h.7m-2.2 0h.7m0 0h.7m-1.5 .2h.7m.1 .1h.7m-.8 .1h.7m-1.6 .7h.7m-.7 .1h.7m.2 2.4h.7m.1 1.3h.7m-1.4 1.1h.7m-1.6 .6h.7m-.5 8.8h.7m2.4-43.4h.7m-1.1 3.6h.7m0 4.9h.7m-.5 .5h.7m-1.8 2.5h.7m.1 .2h.7m-.7 .4h.7m-2.2 1.7h.7m-.1 3.3h.7m-1.1 .8h.7m-.5 .1h.7m-.6 .7h.7m-.4 .1h.7m0 .2h.7m-2.2 .1h.7m-.5 .1h.7m-.7 .8h.7m-.1 .2h.7m-1.5 .2h.7m.6 .8h.7m-1.1 .5h.7m-.1 .5h.7m-1.9 1.2h.7m-.4 .6h.7m-1.2 .2h.7m0 .2h.7m-1 .5h.7m-.1 1h.7m-1.5 .5h.7m-.8 0h.7m-.2 .9h.7m.4 .4h.7m-.9 .5h.7m-2 .1h.7m-.2 .1h.7m-1.2 0h.7m.7 .8h.7m-1 .2h.7m-.6 .7h.7m-.8 .8h.7m-.3 .5h.7m-2.6 .4h.7m.4 1.5h.7m-.2 .6h.7m-2.2 .3h.7m2.9-31.8h.7m-1.2 4h.7m-.8 3.3h.7m-1.4 3.2h.7m-.7 .2h.7m.2 .6h.7m-.6 .4h.7m-.8 .7h.7m-1.5 .5h.7m.3 .5h.7m-1 0h.7m-.6 .4h.7m-1.2 .3h.7m-1.2 .6h.7m-.4 .8h.7m.5 0h.7m-1.9 .1h.7m-1.2 .3h.7m-.2 .4h.7m.4 .5h.7m-1 0h.7m-.2 0h.7m-1.1 .4h.7m-1.1 0h.7m-1.1 .3h.7m.1 0h.7m-2.2 .3h.7m-.3 0h.7m.6 .3h.7m-1.5 0h.7m0 .5h.7m-.6 .2h.7m-1.8 0h.7m-.9 .9h.7m.5 0h.7m-.9 0h.7m-1.4 .3h.7m.1 0h.7m-1.6 .3h.7m-.2 .3h.7m-1 .2h.7m-.3 .2h.7m-1.2 .3h.7m-.5 .2h.7m.2 .2h.7m-1.4 .3h.7m-1.8 .1h.7m0 0h.7m-.8 .5h.7m.5 .1h.7m-1.9 0h.7m-1.2 0h.7m.2 .1h.7m-.2 0h.7m-1.5 .4h.7m.5 .4h.7m-.9 .3h.7m-2.1 .6h.7m.8 .6h.7m-1.2 .3h.7m-.4 .1h.7m-1.2 0h.7m-1 .1h.7m-.6 0h.7m-1.3 .6h.7m-1 .2h.7m.9 .1h.7m-2 2h.7m-.6 .4h.7m-.8 .4h.7m-.4 0h.7m-.8 .4h.7m-1 .6h.7m.6 .5h.7m-1.1 .2h.7m-1 .7h.7m-.7 1.8h.7m0 0h.7m.6-26h.7m.3 .7h.7m-1 3.7h.7m-1.4 .2h.7m-.1 .2h.7m-1.5 .2h.7m0 .6h.7m-1.3 .2h.7m0 .6h.7m-1.5 .5h.7m-.5 .6h.7m-.9 .4h.7m-.3 .1h.7m-1.1 0h.7m-.9 1.2h.7m-1.1 .1h.7m1.2 0h.7m-1.1 0h.7m-.7 .2h.7m-.3 .4h.7m-2 0h.7m.2 .6h.7m-1.7 0h.7m-.6 .2h.7m.3 0h.7m-.6 .1h.7m-1.9 0h.7m-.9 0h.7m-.3 .1h.7m-1.2 .2h.7m-.9 .2h.7m-.6 .1h.7m.4 0h.7m-.5 .3h.7m-1.1 .1h.7m-1.6 .3h.7m-.3 0h.7m.7 .4h.7m-1 0h.7m-2.3 .1h.7m1.2 0h.7m-2.2 0h.7m0 .1h.7m-1.6 .1h.7m.3 .1h.7m-1.9 .1h.7m.4 0h.7m.1 .6h.7m-1.5 0h.7m-.8 0h.7m0 .2h.7m-1 .1h.7m-1.8 .2h.7m-.1 .2h.7m-1.2 0h.7m.3 0h.7m-.7 .1h.7m-.5 .1h.7m-2.2 .1h.7m.6 .1h.7m-.5 .1h.7m-1.3 0h.7m-1.6 .4h.7m1.1 0h.7m-1.3 .1h.7m-.1 0h.7m-1.2 .4h.7m-1.2 .5h.7m-1.4 .4h.7m-.6 .4h.7m-.6 .3h.7m.7 0h.7m-1.2 0h.7m-1.5 .2h.7m-.3 .3h.7m-.6 .1h.7m-1.3 .3h.7m-.2 .2h.7m.2 .2h.7m-1.7 0h.7m.1 .2h.7m-2.2 .1h.7m-.3 .4h.7m-.3 .1h.7m-.9 0h.7m-.9 .1h.7m-.9 .4h.7m.3 .4h.7m-.7 .1h.7m-.5 1.2h.7m-1.7 1.3h.7m-.5 .2h.7m-1.2 .4h.7m.8 .4h.7m-1.5 .1h.7m-.9 2.5h.7m-.9 1.2h.7m.8-35h.7m0 6.5h.7m-.8 2.4h.7m-1 .5h.7m.5 .3h.7m-1.5 .2h.7m-.6 .3h.7m-.4 .4h.7m-1.8 .5h.7m.9 .9h.7m-.5 .1h.7m-.6 .5h.7m-2.4 .5h.7m.3 .1h.7m-1.8 0h.7m-.3 .1h.7m-.1 0h.7m0 .3h.7m-1.1 .4h.7m-1.3 .3h.7m.1 .1h.7m-.7 .1h.7m-.5 0h.7m-2.4 .3h.7m-.1 .1h.7m-.1 .1h.7m-.2 .3h.7m-1.3 0h.7m-.9 .1h.7m-.7 0h.7m-1.7 .1h.7m.6 .2h.7m-1 0h.7m-1.3 .1h.7m-.7 .1h.7m.6 .1h.7m-1.7 .3h.7m-1.2 0h.7m.7 .2h.7m-2.2 0h.7m-.4 .3h.7m-.1 .1h.7m-.5 0h.7m-.9 .1h.7m-.1 .6h.7m-.9 .1h.7m-1.1 0h.7m-.4 .4h.7m-1.7 .3h.7m.1 0h.7m-1.5 .1h.7m.3 .1h.7m-2 0h.7m.9 .1h.7m-1.3 .1h.7m-.5 0h.7m0 .2h.7m-.7 .4h.7m-2.5 .1h.7m.8 .3h.7m-2.1 0h.7m-.4 .2h.7m-.3 .1h.7m-1.4 .1h.7m.4 .1h.7m-1.4 0h.7m-.2 .1h.7m-.9 0h.7m0 .1h.7m-.7 .3h.7m-1.3 0h.7m-1.3 .1h.7m.1 .1h.7m-1.6 .1h.7m0 .3h.7m-.9 .1h.7m0 0h.7m-1.9 .2h.7m-.5 0h.7m-.5 .4h.7m-.7 0h.7m.4 .1h.7m-2.5 .1h.7m-.6 .1h.7m-.2 .3h.7m.2 0h.7m-.6 .1h.7m-2.2 0h.7m-.8 .2h.7m-.6 .1h.7m.1 .3h.7m.2 .1h.7m-1.4 .8h.7m-1.3 .8h.7m.7 .2h.7m-1.5 .1h.7m-1.2 .1h.7m0 0h.7m-.1 .4h.7m-2.4 0h.7m.8 .2h.7m-.8 .1h.7m-.5 .7h.7m-.9 .2h.7m-2.3 0h.7m-.7 .1h.7m-.3 .2h.7m-.7 .5h.7m.7 1.3h.7m-2.3 .1h.7m.5 .2h.7m-1.3 .1h.7m-1.3 1h.7m.7 .3h.7m-.6 .5h.7m-1.7 1.4h.7m-.4 2.1h.7m-.6 1.8h.7m.1 .1h.7m-2.4 3.4h.7m2.2-34.3h.7m-1.2 1.1h.7m-.6 0h.7m-.6 .7h.7m-1.4 2.3h.7m1 .5h.7m-1.7 .1h.7m-.3 .7h.7m-.8 .3h.7m-.2 .3h.7m-2 .1h.7m-.8 .1h.7m1 .1h.7m-1.9 0h.7m-.1 0h.7m-.4 .5h.7m-2.1 .4h.7m.9 .1h.7m-.9 .3h.7m-1 .2h.7m-1.3 .6h.7m-1 .1h.7m-.3 .4h.7m-1.3 .2h.7m-.3 .2h.7m-1.1 0h.7m-.9 .1h.7m.3 .1h.7m0 0h.7m-1.4 .3h.7m-1.2 .2h.7m-1 0h.7m-.3 .1h.7m-.2 0h.7m.1 .1h.7m-1.1 .2h.7m-1.4 0h.7m-.8 0h.7m-1.1 .1h.7m.6 0h.7m-1.8 .1h.7m-.5 .1h.7m.5 .3h.7m-1.8 .1h.7m-.3 .1h.7m-.7 .2h.7m0 .4h.7m-.7 .1h.7m-2.5 0h.7m.6 .1h.7m-1.1 .1h.7m.2 .2h.7m-2.6 .1h.7m.3 .1h.7m-.6 0h.7m-1.4 0h.7m.6 .1h.7m-.6 .1h.7m-2.1 0h.7m.4 .1h.7m-.3 .1h.7m-1.2 .1h.7m-1.7 0h.7m-.2 0h.7m-.4 .1h.7m-1.6 .1h.7m-.3 .1h.7m-1.4 0h.7m1.1 .3h.7m-2.1 .1h.7m.1 .1h.7m-1.6 .1h.7m-1 0h.7m-.1 .1h.7m.4 .1h.7m-.7 .2h.7m-1.2 .1h.7m-.7 0h.7m-.1 .1h.7m-.7 .2h.7m-2.4 .1h.7m-.8 .1h.7m-.6 0h.7m-.6 .1h.7m-.2 .1h.7m.4 .1h.7m-.6 0h.7m-1.9 .1h.7m-.6 0h.7m-.5 0h.7m-.1 .3h.7m-1.3 .1h.7m-1 .1h.7m-.4 .2h.7m-.1 .1h.7m-.7 .1h.7m-1.2 .2h.7m-1.7 0h.7m.3 0h.7m-.3 .1h.7m-.3 .1h.7m-2.3 .3h.7m-.5 0h.7m0 .1h.7m-1.3 .1h.7m-1.2 .1h.7m.9 .1h.7m-.8 .3h.7m-.6 .1h.7m-2.2 .3h.7m-.6 .1h.7m-.1 .2h.7m-1.5 0h.7m.1 0h.7m-1.4 .2h.7m-.2 0h.7m-.2 .2h.7m-1 0h.7m-1.1 .1h.7m.3 .1h.7m-.7 .3h.7m-.7 .2h.7m-1.2 .1h.7m-1 .3h.7m-.4 .2h.7m.1 .4h.7m-1.4 .1h.7m-1.7 .3h.7m-.2 .1h.7m.1 .1h.7m-1.1 .2h.7m-1 .9h.7m-.6 0h.7m-1.5 .1h.7m-.1 .4h.7m-1.1 .1h.7m.7 1h.7m-1.8 1.3h.7m-1.2 .1h.7m.1 1.7h.7m-.3 0h.7m-1.8 .5h.7m-.5 3.4h.7m1-35.2h.7m-.2 .3h.7m.1 2h.7m-.4 0h.7m-.8 .1h.7m-1.1 3.2h.7m.1 0h.7m-1.5 0h.7m-.3 .4h.7m-1.7 .6h.7m.2 .1h.7m-2.1 1.5h.7m.6 1.2h.7m-.6 .2h.7m-1.3 .8h.7m0 .4h.7m-.4 .1h.7m-2.5 0h.7m-.6 .3h.7m-.5 .7h.7m.7 .3h.7m-2.2 .1h.7m.6 0h.7m-.9 .6h.7m-.2 .1h.7m-1.2 .2h.7m-2 .1h.7m.1 0h.7m-.4 0h.7m-.3 .1h.7m-.4 .2h.7m-1.2 .1h.7m-1.2 .1h.7m-.3 .1h.7m-1.5 0h.7m.3 .3h.7m-.6 .3h.7m-1.3 0h.7m.3 0h.7m-.9 0h.7m-.5 .1h.7m-1.5 .1h.7m-1.5 .2h.7m.9 0h.7m-2.2 .3h.7m-.8 .2h.7m-.2 0h.7m-.4 .4h.7m-.9 .1h.7m.2 0h.7m-1.9 0h.7m-.1 0h.7m-1.7 .1h.7m-.3 .1h.7m.1 0h.7m-.6 .1h.7m-1.2 .1h.7m-.4 0h.7m-.5 .2h.7m-1.5 0h.7m-1 .1h.7m.4 0h.7m-1.3 .1h.7m-1.6 .1h.7m.8 .1h.7m-1.2 .3h.7m-.4 0h.7m-1.9 .2h.7m.2 0h.7m-.2 0h.7m-1.1 .2h.7m0 0h.7m-.9 .1h.7m-1 0h.7m-1 .1h.7m-.5 .2h.7m-.6 .1h.7m-1.9 .1h.7m.1 .2h.7m-1 .1h.7m-.4 0h.7m-1.5 .5h.7m.1 0h.7m-1.6 0h.7m-.3 .2h.7m-.1 .1h.7m-1.7 .1h.7m.8 0h.7m-2.2 .3h.7m0 0h.7m.4 0h.7m-1 0h.7m-2.1 .1h.7m-.6 0h.7m1 .1h.7m-1.3 .1h.7m-1.4 0h.7m-.2 .1h.7m-1.8 .1h.7m-.4 0h.7m-.7 .2h.7m.7 .1h.7m-.7 0h.7m-1.3 .1h.7m-1.8 0h.7m-.6 .1h.7m.7 0h.7m-.8 0h.7m-1.5 0h.7m-.9 .1h.7m.6 .1h.7m-1.6 .1h.7m-1.4 .1h.7m-.3 .1h.7m-.5 0h.7m-.6 0h.7m-1 .1h.7m-.7 0h.7m-.2 0h.7m-1 .1h.7m-.5 .2h.7m-1 0h.7m-.2 .1h.7m-.5 .1h.7m-1.2 .1h.7m-.4 .2h.7m-1.3 .1h.7m.5 0h.7m-2.3 .1h.7m-.6 0h.7m.6 .2h.7m-1.1 0h.7m-1.2 .1h.7m-.1 0h.7m-.2 .4h.7m-1.5 0h.7m-.4 .2h.7m-.2 .3h.7m-1.4 0h.7m-.6 .1h.7m-1.2 .1h.7m-.5 0h.7m-.7 0h.7m.2 .1h.7m-1.1 0h.7m-.8 .1h.7m-.7 .3h.7m-.8 0h.7m-1.4 0h.7m-.5 0h.7m-.1 .2h.7m-1.4 .2h.7m.3 .2h.7m-1.9 .1h.7m.9 .2h.7m-1 .3h.7m-.7 .5h.7m-.6 .3h.7m-1.2 .1h.7m-1.6 .1h.7m-.6 .4h.7m.6 0h.7m-1.5 .6h.7m-.8 .4h.7m-.9 .1h.7m-.9 .1h.7m-.8 .1h.7m-.7 .5h.7m.6 .1h.7m-1.2 .6h.7m-.3 1.4h.7m-.6 1.4h.7m.4-38.8h.7m-.2 7h.7m-.7 4h.7m-.1 1.1h.7m-1.5 .4h.7m0 .4h.7m-.9 .3h.7m-.6 .2h.7m-1.3 .3h.7m-1.1 .3h.7m-.7 0h.7m-.4 .4h.7m.3 .2h.7m-1.8 .9h.7m.4 .1h.7m-2.1 .2h.7m-.1 .1h.7m.1 .1h.7m-2.3 .1h.7m-.1 .3h.7m-.6 .1h.7m-1.4 .1h.7m.4 .3h.7m-1.6 .1h.7m-.4 .1h.7m-.2 .4h.7m-.3 .4h.7m-2 .1h.7m.8 .1h.7m-1.1 0h.7m-.4 .7h.7m-.8 0h.7m-1.5 .2h.7m-.1 .1h.7m-1.2 0h.7m-1.6 .4h.7m-.4 .2h.7m-.7 .1h.7m.2 .1h.7m-1.1 0h.7m-.2 .1h.7m-.2 .2h.7m-2.3 .1h.7m.7 0h.7m-2.4 0h.7m-.7 .2h.7m.7 .2h.7m-1.5 .1h.7m.3 .1h.7m-1.3 .1h.7m-.9 .1h.7m-.6 .2h.7m-.3 0h.7m-1.2 .1h.7m-.6 .1h.7m-.8 0h.7m-.6 0h.7m-.1 .1h.7m-1.6 0h.7m.5 .1h.7m-.6 0h.7m-1.6 .1h.7m-1.3 0h.7m-.7 0h.7m.2 .1h.7m-1.4 0h.7m.1 .1h.7m-1.6 .1h.7m-.5 .3h.7m-.3 0h.7m-1.5 0h.7m.8 0h.7m-1.3 .3h.7m0 .1h.7m-1.9 .2h.7m-1.4 .1h.7m-.1 0h.7m-.8 .1h.7m-.7 .2h.7m.6 .1h.7m-1 .1h.7m-2 0h.7m-.4 .1h.7m-1.2 .1h.7m-.7 .1h.7m0 .2h.7m-1.1 0h.7m.5 .3h.7m-.8 .1h.7m-1.7 0h.7m-.8 .1h.7m.9 .1h.7m-2.2 0h.7m-.2 .1h.7m-1.5 0h.7m.7 .1h.7m-1 0h.7m-1.7 .1h.7m-.7 0h.7m-.7 .2h.7m-.9 0h.7m.3 0h.7m0 .2h.7m-1.5 .1h.7m.3 0h.7m-.8 .2h.7m-1.4 0h.7m-.5 .1h.7m-1.1 .1h.7m-.1 .2h.7m-.8 .1h.7m-2 0h.7m-.2 .1h.7m-.5 0h.7m.4 .1h.7m-2.6 .1h.7m-.7 .1h.7m-.3 0h.7m.3 .1h.7m-1.3 0h.7m.3 0h.7m-1.4 .2h.7m-.6 0h.7m-1.8 .1h.7m.3 .1h.7m-1.1 0h.7m-1.2 0h.7m-.6 0h.7m-.5 .1h.7m.4 0h.7m-1.3 .2h.7m.1 .2h.7m-2 0h.7m0 .1h.7m-1.7 0h.7m-.8 .1h.7m.7 .2h.7m-2.2 .1h.7m.3 0h.7m-1.5 .1h.7m.7 .1h.7m-2.2 0h.7m.7 .1h.7m-1.6 .1h.7m-.1 0h.7m-1.2 .2h.7m-.2 .2h.7m0 0h.7m-2.6 0h.7m0 .3h.7m.1 0h.7m-1.1 .2h.7m-.9 0h.7m-1.5 .1h.7m.4 0h.7m-.6 0h.7m-.7 .2h.7m-.2 .1h.7m-2.3 .2h.7m.3 .1h.7m-1.4 0h.7m-.1 0h.7m-.3 0h.7m-1.4 .1h.7m-1.1 .2h.7m-.4 .1h.7m.5 .2h.7m-2.2 0h.7m.6 .2h.7m-1.8 0h.7m-.4 0h.7m-.2 .3h.7m-1.8 0h.7m-.9 0h.7m.7 .3h.7m-2.2 .1h.7m1.1 1.2h.7m-2.5 0h.7m1.2 .2h.7m-.8 .6h.7m-.9 .2h.7m-1.8 .1h.7m-.8 0h.7m.1 .1h.7m-.4 .2h.7m-1.8 .2h.7m-1 1.2h.7m-.3 .3h.7m-1.2 1.8h.7m.8 2.8h.7m-1 1.1h.7m2-37.8h.7m-1.1 5.4h.7m-2.1 1.7h.7m.5 .9h.7m-1.9 .3h.7m.9 .6h.7m-1.5 .6h.7m.2 .1h.7m-2 .8h.7m.6 .5h.7m-2.5 0h.7m-.3 .1h.7m-1.1 .3h.7m.1 .1h.7m-1.2 .3h.7m-.4 0h.7m-.4 0h.7m-.8 .2h.7m-.3 .1h.7m-1.5 .1h.7m-.9 .1h.7m-.4 .5h.7m-.9 0h.7m-1 .1h.7m-.4 .1h.7m.3 .1h.7m-1.5 .3h.7m-.7 .1h.7m0 0h.7m-1.8 .1h.7m.2 .4h.7m-1.3 .1h.7m.1 0h.7m-.4 .1h.7m-1.5 0h.7m.4 .1h.7m-1.9 0h.7m0 .2h.7m-1 .2h.7m-1 0h.7m-.4 .2h.7m-1.3 0h.7m.3 .2h.7m-1.4 .1h.7m-1.4 0h.7m.2 .1h.7m-1 .1h.7m-1 .1h.7m.7 0h.7m-.9 .1h.7m-1 .2h.7m-.7 0h.7m-1.5 0h.7m.3 .4h.7m-.8 0h.7m-1 .1h.7m-.8 0h.7m-.3 .3h.7m-1.8 0h.7m.4 0h.7m-1 .1h.7m-1.6 .1h.7m1.1 0h.7m-1.2 .1h.7m-.9 .5h.7m-.6 .2h.7m-.8 .1h.7m-.6 .1h.7m-1.3 .2h.7m-.4 .2h.7m-.7 0h.7m-.4 .1h.7m-1.3 0h.7m.1 .4h.7m-.6 .1h.7m-1.8 .1h.7m-.1 0h.7m-1 0h.7m-.2 .1h.7m-2 .1h.7m-.7 .1h.7m.3 0h.7m-1.5 .1h.7m-.9 0h.7m1.2 0h.7m-1.7 .2h.7m-1.5 .1h.7m.8 .1h.7m-1.7 .2h.7m.1 .2h.7m-.8 .2h.7m-1.5 0h.7m0 .1h.7m-.2 .2h.7m-2.2 .1h.7m1 0h.7m-2.6 0h.7m.3 0h.7m-.5 .4h.7m-1.5 0h.7m-.9 0h.7m.4 0h.7m-.2 .1h.7m-1.9 0h.7m-1 0h.7m-.7 0h.7m-.5 .1h.7m-.2 0h.7m-1.5 .1h.7m.2 0h.7m-1 .1h.7m-1 0h.7m.5 .1h.7m-1.4 .2h.7m-.7 .1h.7m.1 0h.7m-1.3 .1h.7m-1.3 .2h.7m.3 0h.7m-1.4 .1h.7m-1.4 .1h.7m.3 0h.7m0 0h.7m-1.1 0h.7m-1.1 .1h.7m-.1 0h.7m-2.2 .3h.7m.2 0h.7m-.5 0h.7m-.4 0h.7m-1 0h.7m-1.8 .4h.7m.4 .1h.7m-1.5 .1h.7m.6 .1h.7m-.6 .1h.7m-1.6 .1h.7m-1.7 .1h.7m.2 0h.7m-.7 .2h.7m-.6 .1h.7m-.1 .1h.7m-.7 0h.7m-1 .2h.7m-1.7 0h.7m-.5 .2h.7m.3 .2h.7m-.4 .1h.7m-1.7 .6h.7m.4 .2h.7m-1.5 0h.7m-1.2 .1h.7m.1 0h.7m-.8 .2h.7m-1.8 .1h.7m-.4 .1h.7m.4 .1h.7m-2 0h.7m.6 .4h.7m-1.1 .1h.7m-.6 .2h.7m-1.4 0h.7m-.3 .6h.7m-.6 .2h.7m.1 .2h.7m-1.4 .2h.7m-1.9 .1h.7m.1 .1h.7m-1.1 1h.7m.5 .8h.7m-1.4 .1h.7m-1.6 .7h.7m-.1 1.5h.7m.5 0h.7m-1.7 1.4h.7m.4 .8h.7m-.8 1.1h.7m-1.5 .4h.7m-1.3 .6h.7m2.7-38.1h.7m-2 3.8h.7m-1 0h.7m-.3 1.5h.7m0 1.1h.7m-.4 2.3h.7m-.8 .3h.7m-2 .3h.7m.1 .8h.7m-1.7 .5h.7m.5 .5h.7m-1.8 .1h.7m.5 0h.7m-1.5 .5h.7m-.1 .1h.7m-1.1 .1h.7m-.5 .7h.7m.3 .3h.7m-2.4 .5h.7m-.2 .3h.7m-.1 .3h.7m-1.3 0h.7m.2 .3h.7m-1.9 .2h.7m-.1 0h.7m-.5 .4h.7m-.5 .1h.7m-.9 0h.7m-1.2 .1h.7m.2 .1h.7m-2.2 .6h.7m.4 0h.7m-.3 .4h.7m-2.3 .1h.7m.4 0h.7m-1 0h.7m-1.2 .2h.7m.3 .3h.7m-1.2 .2h.7m.1 .6h.7m-2.2 0h.7m.7 .3h.7m-1 .2h.7m-1.3 .2h.7m-.1 .1h.7m-1.6 .1h.7m.9 .1h.7m-2.4 0h.7m0 .1h.7m-.8 .1h.7m-1 0h.7m-.9 0h.7m.3 .2h.7m-1.5 .1h.7m-.6 .1h.7m-.3 0h.7m-1.6 .2h.7m.1 0h.7m.1 0h.7m-1.6 .1h.7m-.5 0h.7m-.9 .2h.7m.2 .1h.7m-1.1 0h.7m-1 .1h.7m-1.6 0h.7m.6 .1h.7m-1.7 .1h.7m.6 0h.7m-1 .1h.7m-1.2 0h.7m-.3 0h.7m-1.5 0h.7m.6 .1h.7m-2.3 .2h.7m-.1 0h.7m0 .1h.7m-1.4 0h.7m-.1 0h.7m-1.8 .1h.7m-.9 .1h.7m.8 .1h.7m-1.2 0h.7m-.3 0h.7m-1 0h.7m-1.1 0h.7m-1.3 .1h.7m-.3 .2h.7m-.2 .1h.7m.1 .1h.7m-2.2 0h.7m-.2 .1h.7m-1.5 .1h.7m.2 .2h.7m-.5 .1h.7m-1.8 0h.7m-.1 .1h.7m-1 0h.7m.8 .2h.7m-.9 0h.7m-2 .1h.7m0 .1h.7m-1.1 .1h.7m.5 .1h.7m-.9 .1h.7m-2.1 0h.7m.5 .3h.7m-2.2 0h.7m.1 0h.7m-1.5 0h.7m0 .4h.7m.2 0h.7m-1.7 .1h.7m-.7 0h.7m-.8 .1h.7m.3 0h.7m-1.7 .2h.7m-.8 0h.7m-.1 .1h.7m-.6 .1h.7m-1 .1h.7m-.5 .1h.7m.1 .4h.7m-1.6 0h.7m-1.6 .1h.7m.5 .1h.7m-1.4 0h.7m-.4 .6h.7m-.2 0h.7m-1.2 .1h.7m.4 .1h.7m-2.6 .3h.7m1.1 .2h.7m-1.4 .1h.7m-1.4 .1h.7m.6 .2h.7m-2.2 .1h.7m-.5 .1h.7m.6 0h.7m-.9 .1h.7m-1.6 .6h.7m-1 .3h.7m.4 .2h.7m-2.1 .3h.7m1 0h.7m-1.5 .2h.7m-1.5 .1h.7m-.5 .3h.7m-.3 .3h.7m-.5 0h.7m-1.1 .3h.7m-1.2 .1h.7m-.2 .2h.7m-.6 1h.7m0 1.2h.7m-1 1.2h.7m-.5 2h.7m-.8 3.2h.7m-1.6 1.4h.7m2.7-35h.7m-.6 2.2h.7m-2.1 .1h.7m-.5 .5h.7m.1 1.2h.7m-1 .3h.7m.2 1.5h.7m-1.3 .1h.7m-1.3 .1h.7m-1.2 1h.7m.7 .4h.7m-.5 0h.7m-2.5 0h.7m-.7 .4h.7m-.4 .1h.7m.2 .1h.7m-.6 .9h.7m-1.1 .7h.7m-.9 .1h.7m-.6 0h.7m-.8 .2h.7m-.6 .1h.7m-.2 .3h.7m-1.3 0h.7m.2 .2h.7m-2.1 .3h.7m-.1 0h.7m-.7 .3h.7m-1.1 .4h.7m-.3 .2h.7m-1.3 .2h.7m.1 .2h.7m-1.4 0h.7m.7 0h.7m-1 .1h.7m-1.5 0h.7m-.4 0h.7m-.8 .2h.7m-1.2 .2h.7m-.6 .1h.7m.1 0h.7m-.9 .1h.7m-1.4 .1h.7m.5 .1h.7m-1.2 0h.7m-1.3 0h.7m-1 .1h.7m.9 .1h.7m-1.5 0h.7m-1.5 0h.7m.4 0h.7m-.6 .4h.7m-1.2 0h.7m-.7 0h.7m-.4 .1h.7m-.6 .1h.7m-.7 .3h.7m-1 .1h.7m.2 .1h.7m-2.4 .1h.7m.9 .2h.7m-2.4 .1h.7m.1 0h.7m.2 0h.7m-2.3 .1h.7m-.6 .1h.7m-.9 0h.7m.4 .1h.7m-.3 0h.7m-1.9 .1h.7m-.9 .3h.7m-.1 0h.7m-.8 .1h.7m-.4 0h.7m-.6 0h.7m-.7 .1h.7m-1 0h.7m-.6 .1h.7m-.8 .2h.7m.4 .1h.7m-2.3 .2h.7m.1 .1h.7m-.4 0h.7m-.4 0h.7m-1.6 .2h.7m-.7 0h.7m-1.3 .1h.7m-.7 0h.7m.5 .1h.7m-1.5 .1h.7m-1.2 .2h.7m-.1 0h.7m-.3 .1h.7m-1.6 .2h.7m.3 0h.7m-1.5 .1h.7m-.9 .1h.7m-.5 0h.7m-.7 .1h.7m.3 0h.7m-.2 .1h.7m-.9 .1h.7m-1.1 .1h.7m-1.2 .2h.7m-1.3 0h.7m-.6 .2h.7m.9 0h.7m-2.4 .1h.7m0 .1h.7m-.2 0h.7m-1.4 .1h.7m-.4 0h.7m.1 .1h.7m-1.3 .1h.7m-.4 .1h.7m-.8 .2h.7m-.8 0h.7m-1.6 .2h.7m.8 0h.7m-1.4 .4h.7m.1 .3h.7m-2.5 .1h.7m-.6 .2h.7m-.9 .2h.7m-.6 0h.7m-.3 0h.7m-.7 0h.7m-1.1 .3h.7m.9 .4h.7m-.8 .2h.7m-1.9 .5h.7m-.6 .2h.7m.1 .1h.7m-.2 0h.7m-2.5 .2h.7m.5 .1h.7m-1.1 .6h.7m.1 .2h.7m-.4 .2h.7m-1.9 0h.7m-.1 1h.7m-1.7 0h.7m.9 .2h.7m-2 .7h.7m0 .1h.7m-.5 .1h.7m-1.7 .5h.7m-1.2 1.9h.7m.3 .7h.7m-1.4 .5h.7m-.8 .7h.7m.3 1.3h.7m-1.1 .8h.7m.4 1.9h.7m.9-31.1h.7m-1.4 2.7h.7m-.4 .7h.7m-1.7 .5h.7m-.5 .5h.7m-.9 .1h.7m-.1 .1h.7m-.8 .4h.7m-.5 .2h.7m-1.4 .8h.7m-.2 .3h.7m-.9 .2h.7m-.5 .3h.7m-.1 .1h.7m-.5 .5h.7m-2.1 .2h.7m.7 .2h.7m-1.3 .3h.7m-.6 .1h.7m-.3 .1h.7m-2 .5h.7m1.2 .1h.7m-2.2 .1h.7m-.9 .1h.7m.3 0h.7m-1.3 .1h.7m-.8 .1h.7m-.2 .1h.7m-1.2 .1h.7m-.1 0h.7m-.8 0h.7m-1 .2h.7m.5 .1h.7m-2.5 .1h.7m-.6 .1h.7m.9 0h.7m-.6 .2h.7m-1.8 .1h.7m-1.2 .6h.7m-1 .2h.7m1.1 .1h.7m-1 .1h.7m-1.2 .1h.7m-.7 0h.7m-.4 .2h.7m-.6 0h.7m-1 0h.7m-.7 .5h.7m.1 .2h.7m-1.8 0h.7m-.9 .1h.7m-.1 .3h.7m-.2 .1h.7m-.5 .1h.7m-2.1 .1h.7m.6 0h.7m-2.1 .2h.7m.5 .2h.7m-1.5 .1h.7m-.3 0h.7m-1.9 0h.7m.1 .1h.7m-.1 .2h.7m-2 .1h.7m.8 .1h.7m-1.5 .1h.7m.4 .2h.7m-2.6 .1h.7m.6 .1h.7m-.8 .2h.7m-1.4 .2h.7m-.8 .1h.7m.6 .2h.7m-2.2 .5h.7m-.6 .3h.7m.2 .2h.7m-.3 .1h.7m-.7 .1h.7m-1.8 .1h.7m0 .1h.7m-1 0h.7m-1 .3h.7m-.7 .1h.7m-1.1 .1h.7m-.1 .2h.7m0 0h.7m-1.4 .5h.7m-1.1 .2h.7m.1 0h.7m-.7 .2h.7m-.2 .4h.7m-1.4 .1h.7m-1.7 .4h.7m-.7 .1h.7m-.6 .4h.7m.4 .1h.7m-.9 .1h.7m-.4 0h.7m-1.6 .5h.7m.8 .4h.7m-1.9 .1h.7m-.5 .1h.7m-.3 .1h.7m-.3 0h.7m-2.3 .4h.7m-.2 1h.7m0 .3h.7m-1.9 1.7h.7m-.4 .7h.7m.6 2.3h.7m-.9 .2h.7m-1.4 .3h.7m-1.4 2.7h.7m1.2-40.1h.7m-.4 .2h.7m.3 7.6h.7m-.1 .3h.7m-.9 1.5h.7m-1 1.9h.7m-.6 .6h.7m-1.5 1.7h.7m-.7 .3h.7m.5 .5h.7m-1.5 .9h.7m-1.1 .3h.7m.2 1.3h.7m-1.9 .1h.7m-.5 .1h.7m-.4 .3h.7m0 .1h.7m-2.3 .1h.7m.9 .2h.7m-1 .1h.7m-.3 .3h.7m-2.3 .1h.7m.8 .1h.7m-1.9 .3h.7m0 .4h.7m-1.3 .2h.7m.6 0h.7m-1 .3h.7m-1.3 0h.7m-1.1 .1h.7m-.6 .1h.7m-.6 .5h.7m0 .9h.7m-1.9 .2h.7m.3 .1h.7m-1.8 0h.7m-.8 0h.7m.1 .2h.7m.1 .2h.7m-1 0h.7m-1.6 .2h.7m-1.1 .1h.7m-.7 .4h.7m.7 0h.7m-.2 .1h.7m-.8 .1h.7m-.8 0h.7m-2.2 .3h.7m-.5 .1h.7m-1 .1h.7m-.7 .1h.7m-.8 .1h.7m-.4 .7h.7m.4 0h.7m-1.4 .3h.7m.4 .8h.7m-2.1 .1h.7m-.9 .2h.7m-.8 0h.7m.9 .1h.7m-2 .1h.7m.8 .3h.7m-1.9 .1h.7m-.6 .1h.7m-1.1 .1h.7m-.4 .2h.7m-1.4 .4h.7m.7 .4h.7m-.7 .6h.7m-.8 .6h.7m-1.4 .5h.7m-.3 1.1h.7m-1.4 .5h.7m-.9 .5h.7m.8 0h.7m-1.4 1.4h.7m-1.4 .7h.7m-.7 .5h.7m.2 2.1h.7m-.4 .6h.7m1.5-40.3h.7m-1.6 11.6h.7m-1.4 2.4h.7m-.7 2.1h.7m-.7 .7h.7m.1 .7h.7m-.9 .8h.7m-.4 .7h.7m-.7 .1h.7m-1.4 .2h.7m-.6 .2h.7m.8 .3h.7m-1.2 .3h.7m-1.1 .5h.7m-1.6 .1h.7m.1 .2h.7m-1.1 .7h.7m.8 .2h.7m-2.6 .1h.7m.6 .1h.7m-.3 .1h.7m-.8 .2h.7m-1.5 .4h.7m-1 0h.7m-.7 .9h.7m0 .1h.7m-1.2 .2h.7m-1.4 .3h.7m-.3 0h.7m-.8 .1h.7m-.4 .3h.7m-.6 .5h.7m-1.2 0h.7m-.6 .2h.7m.4 .2h.7m-1.4 .2h.7m.5 .1h.7m-.7 0h.7m-1.6 0h.7m-.4 .3h.7m-1.7 .2h.7m-.5 0h.7m-.7 0h.7m-.1 .1h.7m-1 .2h.7m-.6 .5h.7m-1.5 .4h.7m-.5 .3h.7m.8 .3h.7m-1.8 .3h.7m-1.1 .2h.7m.7 .3h.7m-.6 .8h.7m-1 .2h.7m-1.3 .3h.7m-.8 .1h.7m-1.1 .9h.7m-.8 0h.7m.8 0h.7m-1.2 .2h.7m-.3 0h.7m-1.1 .3h.7m-1.6 .3h.7m-.1 0h.7m-.2 1.4h.7m-1.3 .1h.7m-.4 .5h.7m-1.6 0h.7m.7 1h.7m-1.8 3.8h.7m-1.2 14.2h.7m1.4-51.6h.7m-.4 11.7h.7m-.8 3h.7m-.8 1.2h.7m-.5 1.3h.7m.4 .5h.7m-1.6 0h.7m-.1 .2h.7m-.2 .2h.7m-1.5 0h.7m-1.4 .1h.7m.5 .2h.7m-1.3 .7h.7m-1.5 .7h.7m1 .5h.7m-2.3 1.6h.7m-.2 .1h.7m-1.2 .2h.7m-.8 1.5h.7m1 .2h.7m-2.2 1.1h.7m-.2 .2h.7m-1.5 .6h.7m.7 .4h.7m-1.2 .5h.7m.1 .5h.7m-2.3 .8h.7m-.3 .2h.7m.4 .6h.7m-1 .3h.7m-2 .1h.7m.4 .1h.7m-1.4 .1h.7m.6 .3h.7m-1.3 .2h.7m-1.7 .1h.7m-.2 1.1h.7m-.9 1.3h.7m-.7 .6h.7m.4 4.1h.7m-.3 18.9h.7m-.6-49.4h.7m-.2 .4h.7m-1 3.5h.7m-.4 5.1h.7m.7 2.5h.7m-2.3 .7h.7m-.6 0h.7m0 .6h.7m-.2 .2h.7m-1.6 .3h.7m-.3 .4h.7m-.4 .5h.7m-2 1.9h.7m-.4 .2h.7m.2 .4h.7m-1.1 .1h.7m-.2 0h.7m-1.6 .3h.7m-.3 .1h.7m-1.1 .2h.7m.4 1h.7m-1.4 .4h.7m-1.1 .2h.7m-.6 1.8h.7m.4 .2h.7m-1 1.2h.7m-1.9 .5h.7m-.3 .2h.7m-.9 .2h.7m-.5 2.6h.7m-1 1.6h.7m-.2 3.8h.7m-.8 1.1h.7m.9-38.8h.7m-.1 8.3h.7m-1.5 4.2h.7m-.6 3.1h.7m-.4 4.1h.7m0 .3h.7m-.7 .2h.7m-.9 1.7h.7m-.9 .7h.7m-.4 .5h.7m-1 .4h.7m-.8 .3h.7m-1 1h.7m-.5 .1h.7m-1.2 .3h.7m.9 .2h.7m-1.6 .3h.7m-.5 1.2h.7m-.5 1.6h.7m-.3 .9h.7m-.8 2.8h.7m-.4 5.1h.7m-2.2 3h.7m-1 .4h.7m2.1-35.7h.7m-1.5 10.3h.7m-.2 7.7h.7m.1 1.3h.7m-.4 1.8h.7m-1.5 1.5h.7m-.8 .9h.7m.2 1h.7m-2.2 .5h.7m-.5 2.6h.7m-.6 1.9h.7m2.8-32.7h.7m-2.2 4.6h.7m.2 3.7h.7m-2 2h.7m-.4 3.3h.7m-.4 1.8h.7m-.6 5.1h.7m-1.1 .8h.7m0 1.2h.7m-1.7 4.2h.7m1.2 1.4h.7m-2.2 .7h.7m0 .8h.7m-.9 8.1h.7m1.6-23.3h.7m-.5 1.5h.7m-1.7 1.5h.7m-.6 5.8h.7m-.6 .5h.7m-.5 .7h.7m-1.1 5.8h.7m.4 .3h.7m1-26.6h.7m0 12.1h.7m-1.4 1.6h.7m-1.7 10.5h.7m2.4-20.5h.7m-1.6 8.7h.7m-1.1 14.6h.7m2.2-15.5h.7m-.3 5.3h.7m1.8 5.7h.7m-2.5 7.1h.7m4.2-34.3h.7m5.2 5.9h.7" stroke="#3d6df2" stroke-width="0.7" fill="none" opacity="0.85"/>
<path d="M284.1 699.9h.8m18.6-9.3h.8m3.1 2h.8m1.3-6.7h.8m-.7 13.6h.8m-1.7 5.2h.8m1.3-12.6h.8m.8-3.7h.8m-.5 1.2h.8m-2.2 1.7h.8m.1 2.7h.8m-1.2 5.2h.8m1.5 .1h.8m-.7 1.1h.8m.6-6.1h.8m.1 2.9h.8m1-14.3h.8m-1.2 6.4h.8m-1.3 .1h.8m.2 .1h.8m-1.5 1.3h.8m-.3 .7h.8m-2.2 .4h.8m.5 .8h.8m-2.2 2.3h.8m-1.2 .5h.8m.7 3.7h.8m-.9 2h.8m-1.1 .8h.8m1-36.1h.8m-1.2 19h.8m-1.6 1.3h.8m-.9 2.7h.8m.6 .6h.8m-1 .6h.8m-2.4 .8h.8m-.5 .1h.8m-.9 1.2h.8m-.1 2h.8m-.2 1h.8m-2.6 6h.8m0 3.2h.8m.2-21.9h.8m-.4 .4h.8m-.1 2.3h.8m-1.2 4.2h.8m-.2 0h.8m-1.9 .2h.8m-.1 1.2h.8m-1.8 0h.8m-.2 0h.8m-.6 .3h.8m-.1 .1h.8m-1.1 .1h.8m-2.3 1.1h.8m0 .5h.8m-.9 .2h.8m-1.8 .1h.8m-.4 2.7h.8m-.2 .7h.8m-.3 1h.8m-2.2 .3h.8m1.5-14.8h.8m-.5 1.6h.8m-.3 .2h.8m-2.3 1.4h.8m-.7 2.8h.8m-.9 1.6h.8m-.2 .4h.8m-1.9 .5h.8m-.4 1h.8m-.5 1.3h.8m-1.4 2.3h.8m-1.1 .4h.8m0 0h.8m-1.8 .3h.8m.5 1.2h.8m1.3-37.5h.8m-1.3 24.4h.8m-2 1.4h.8m-.4 0h.8m-1.4 2.8h.8m0 0h.8m-1 .1h.8m-.8 .5h.8m-.4 1.3h.8m-2.1 .6h.8m.7 .7h.8m-.7 .3h.8m-2.1 .6h.8m-.4 .4h.8m-.3 1.2h.8m-1.1 1.6h.8m-2 5.9h.8m2.7-21.1h.8m-1.5 1.1h.8m-1.5 1.2h.8m-1.3 2.5h.8m.7 .1h.8m-1.2 .5h.8m-1.7 0h.8m.2 .8h.8m-1.8 .4h.8m-1.4 0h.8m-1.1 .3h.8m-.9 0h.8m.5 .1h.8m-1.7 .3h.8m-.5 0h.8m-.9 .1h.8m-1.3 .1h.8m-.2 .4h.8m-1.2 .6h.8m-.6 1.3h.8m-1.4 1.5h.8m-.7 .2h.8m-.7 3.3h.8m-1.7 .1h.8m.1 1.1h.8m.3-18h.8m.2 1.8h.8m-2.3 1.9h.8m.3 .1h.8m-2.1 .1h.8m-.9 1.6h.8m-.3 2.6h.8m-1.4 .1h.8m.2 .3h.8m-1.7 1.5h.8m-.6 .6h.8m-1.3 .4h.8m-.2 .3h.8m-.9 .9h.8m.1 .4h.8m-.9 .3h.8m-1.9 1.4h.8m-.6 4h.8m-.7 5.1h.8m1-27h.8m-.5 2.2h.8m-1.8 3h.8m-.3 .8h.8m-.8 2.5h.8m-.2 1.7h.8m-2.3 .4h.8m.6 .1h.8m-1.5 .2h.8m-1 .9h.8m0 .1h.8m-.9 .8h.8m-1.6 .8h.8m-.9 .2h.8m-2 .3h.8m-.2 1.3h.8m-.9 2.8h.8m-.7 0h.8m-1.6 .3h.8m-.3 1.2h.8m1.4-47.9h.8m-.7 22.6h.8m-1.3 6.3h.8m-.4 3.8h.8m-1.7 1h.8m-1.1 5.7h.8m-.3 1h.8m-1.5 .9h.8m.2 .4h.8m-.5 1.2h.8m-1.5 1.5h.8m-.4 4h.8m1.1-15h.8m-1.6 1.2h.8m-.6 .3h.8m-.7 1.8h.8m-.2 .3h.8m-2 .2h.8m-.2 0h.8m-1.3 1h.8m-.1 .8h.8m-1.7 .1h.8m-1.5 2.3h.8m-1.1 .2h.8m.4 1.1h.8m-1.5 .2h.8m-1.2 1.2h.8m-.1 .3h.8m.5-34h.8m.3 22.2h.8m-2.6 .4h.8m.5 .1h.8m-2 .2h.8m.5 3h.8m-.5 1.9h.8m-2.1 .3h.8m-.3 2h.8m-.6 0h.8m-2.3 7.1h.8m.3 6.2h.8m.9-56.8h.8m-2 36.9h.8m.6 1.6h.8m-2.2 .9h.8m-.6 .1h.8m-.9 .5h.8m-.4 .5h.8m-1.3 .1h.8m.5 2.3h.8m-1.3 0h.8m-1.8 .4h.8m.5 1.1h.8m-.3-20.9h.8m-.7 2h.8m-.1 11h.8m-2 2.5h.8m.7 0h.8m-.8 .2h.8m-2.7 .2h.8m-.7 3.7h.8m.6 .1h.8m-1.9 6.9h.8m-1.5 3.3h.8m2.2-24.1h.8m-1.3 9.9h.8m-.7 .4h.8m-.6 1.1h.8m-1.6 .7h.8m.3 0h.8m-1.7 .2h.8m-.7 2.4h.8m-.1 3.1h.8m-1.8 5.8h.8m-1.2 6.1h.8m1.1-41h.8m-.3 1.2h.8m-1.5 1.3h.8m.8 9.6h.8m-1.6 13h.8m-1 .3h.8m1.2-37.9h.8m-1.1 17.9h.8m-.1 12.3h.8m-1.7 9.3h.8m-1.4 10.2h.8m2.1-7.6h.8m-.1-40.4h.8m1 12.3h.8m-2.2 14.4h.8m-.9 6.3h.8m-1.4 .3h.8m1.4-50h.8m-.8 6.1h.8m-1 30.8h.8m.6 4.2h.8m-1.2 10.8h.8m1-52.8h.8m.1 8.4h.8m-2.8 1.2h.8m.8 24.7h.8m-1 5.8h.8m-.6 10.2h.8m-2.4 1.5h.8m1.8-23.1h.8m-.4 13.6h.8m-1.6 3.7h.8m-1.5 5.2h.8m-.9 3.3h.8m.5 .5h.8m0-52.9h.8m-.8 4.3h.8m-.6 .1h.8m-.6 .7h.8m-1.3 6.3h.8m.3 31.1h.8m.4-41.2h.8m-.3 1h.8m-.8 0h.8m-.9 1.2h.8m-2.1 2.7h.8m-.8 .6h.8m-.1 .2h.8m-1.3 .8h.8m-.7 3.1h.8m-1.1 31.2h.8m.4 2.8h.8m-2.2 .6h.8m.5 .8h.8m-1.5 3.3h.8m-.1 .3h.8m-2.2 3.9h.8m-.9 2.3h.8m2.1-51.2h.8m-.8 1.8h.8m-1.1 1.1h.8m-1.9 34.2h.8m-.5 .5h.8m1.5-33.7h.8m-.3 38.7h.8m0-45.3h.8m-.7 .6h.8m-1.7 2.5h.8m.4 31.4h.8m1.5-38.9h.8m-1.5 .3h.8m-1.4 2.6h.8m-.4 4.1h.8m-1.7 38.6h.8m2.7-41.3h.8m1.9 44.8h.8m-1.1 .2h.8m.8-3.2h.8m-.8 1.4h.8m1.1 2.9h.8m1.3-4.7h.8m4.8-.5h.8m1.4 2.6h.8" stroke="#3a66ee" stroke-width="0.85" fill="none" opacity="0.95"/>
</g>
<line x1="322.50" y1="629.50" x2="322.50" y2="726.50" stroke="#444" stroke-width="0.8"/>
<line x1="281.20" y1="683.70" x2="322.50" y2="683.70" stroke="#444" stroke-width="0.8"/>
<line x1="322.50" y1="684.50" x2="400.00" y2="684.50" stroke="#444" stroke-width="0.8"/>
<text x="307.20" y="696.70" font-size="4.6" text-anchor="start" fill="#0a1a3a">Q3-5</text>
<clipPath id="f2_406"><rect x="406.59999999999997" y="629.5" width="118.0" height="98.5"/></clipPath>
<rect x="406.2" y="629.5" width="118.8" height="98.5" fill="#fff" stroke="#444" stroke-width="0.8"/>
<path d="M409.2 727.8v-0.9M412.2 727.8v-0.9M415.2 727.8v-0.9M418.2 727.8v-0.9M421.2 727.8v-0.9M424.2 727.8v-0.9M427.2 727.8v-0.9M436.2 727.8v-0.9M439.2 727.8v-0.9M442.2 727.8v-0.9M445.2 727.8v-0.9M448.2 727.8v-0.9M451.2 727.8v-0.9M454.2 727.8v-0.9M463.2 727.8v-0.9M466.2 727.8v-0.9M469.2 727.8v-0.9M472.2 727.8v-0.9M475.2 727.8v-0.9M478.2 727.8v-0.9M481.2 727.8v-0.9M490.2 727.8v-0.9M493.2 727.8v-0.9M496.2 727.8v-0.9M499.2 727.8v-0.9M502.2 727.8v-0.9M505.2 727.8v-0.9M508.2 727.8v-0.9M517.2 727.8v-0.9M520.2 727.8v-0.9" stroke="#777" stroke-width="0.4"/>
<g clip-path="url(#f2_406)">
<ellipse cx="440.0" cy="696.0" rx="9.2" ry="6.0" transform="rotate(-32 440.0 696.0)" fill="#3a66f5" opacity="0.9" filter="url(#b12)"/>
<path d="M408.5 703.4h.7m.4 7.4h.7m.8-14.4h.7m-.1 15h.7m.7-7.5h.7m-1.3 15.3h.7m1.3-9.1h.7m1-19.3h.7m.6 1h.7m-1.7 4.9h.7m.2 4.7h.7m-.3 2.9h.7m-2.5 1h.7m1.2 5.2h.7m-2.3 .3h.7m1-19.7h.7m1.2 3.9h.7m-1.4 6.6h.7m-.8 .5h.7m-.3 .2h.7m-2 1.7h.7m.4 2.3h.7m-1.7 1.8h.7m.8 .6h.7m-1.7 1.9h.7m.2 .8h.7m-.8 6.1h.7m1.3-37.7h.7m-1.5 5.5h.7m.3 0h.7m-1.5 3.2h.7m-1.3 2.8h.7m-1.1 .1h.7m-.4 1.8h.7m.2 3.1h.7m-.2 .3h.7m-.7 2.9h.7m-1.4 3.1h.7m0 1.2h.7m-1.3 3h.7m-.5 .8h.7m-1.8 2.3h.7m.6 1.6h.7m-.4 2.4h.7m.5-37.3h.7m-1.7 9.7h.7m.1 8.1h.7m.4 1.1h.7m-2.4 .6h.7m-.8 1.2h.7m-.7 2.4h.7m.1 .2h.7m-.8 .7h.7m-.9 .3h.7m-.6 2.1h.7m-.3 3.2h.7m-1.7 .2h.7m.1 2.7h.7m-1.5 5.1h.7m-.3 .9h.7m-1.2 9.3h.7m2.2-41h.7m.1 3.4h.7m-2.1 1.2h.7m.6 4.7h.7m-.5 .2h.7m-1.1 1.1h.7m-1.8 .1h.7m.4 .3h.7m-.6 .8h.7m-.9 .2h.7m-.9 1.1h.7m-.2 .5h.7m-2.1 1.7h.7m.8 1.4h.7m-1.7 .8h.7m-1.4 .1h.7m1.1 .1h.7m-1.4 .7h.7m0 2.9h.7m-1.6 1.3h.7m-1.4 .5h.7m-.2 .5h.7m0 .1h.7m-.6 2.4h.7m-1.6 .2h.7m.5 .6h.7m-1.8 1.1h.7m0 1.2h.7m-.9 .1h.7m-1.4 4.6h.7m-.9 3.5h.7m-.8 3.6h.7m2.6-43h.7m-.4 1.9h.7m-2.2 1.6h.7m.6 2.7h.7m-.4 1h.7m-1.3 .5h.7m-.5 .8h.7m-1.5 1.5h.7m-1 1h.7m-.6 0h.7m-1.1 .2h.7m.9 1h.7m-.9 .6h.7m-.4 .5h.7m-1.5 .3h.7m-1.5 .1h.7m-.2 .6h.7m-.8 .4h.7m-.4 .5h.7m0 .2h.7m-.5 .2h.7m-1.5 .1h.7m.2 .5h.7m-2.1 .9h.7m.1 0h.7m-.3 .1h.7m-2.3 .2h.7m-.7 0h.7m.5 .3h.7m-.3 .1h.7m-2.4 .5h.7m.5 .5h.7m-1.1 .1h.7m-.2 .5h.7m-.6 .8h.7m-1 .7h.7m.1 .8h.7m-1.2 .4h.7m-1.6 .7h.7m.3 0h.7m-1 1.5h.7m-1 .3h.7m-1.2 .2h.7m.6 .9h.7m-2.4 1.9h.7m.5 2.1h.7m-.2 2.7h.7m-1.1 1.4h.7m-1.2 1.3h.7m2.4-29.8h.7m-1.4 2.7h.7m-.8 1.2h.7m-1.3 .2h.7m.4 2.2h.7m-.9 0h.7m-1.7 .5h.7m.6 .5h.7m-.7 .6h.7m-.7 .2h.7m-1.4 .1h.7m.2 .1h.7m-1.4 .2h.7m0 .2h.7m-.8 .2h.7m-1.8 .1h.7m-.6 .4h.7m.4 .2h.7m-1.9 .2h.7m-1.2 .3h.7m.3 .1h.7m-.9 .2h.7m-.4 0h.7m-.9 .6h.7m-.6 .8h.7m-1.6 .2h.7m-.1 .2h.7m-.7 .3h.7m.1 .2h.7m-2.3 .6h.7m-.5 .2h.7m-.1 .1h.7m.3 .2h.7m-2.6 .4h.7m-.1 .3h.7m.6 .1h.7m-2.3 .7h.7m-.4 1.4h.7m-.7 .2h.7m.3 .4h.7m-.4 .6h.7m-2.6 2.4h.7m1.2 .6h.7m-1.6 .2h.7m-.6 .8h.7m-.5 .4h.7m-.9 1.1h.7m-.9 .6h.7m.1 1.7h.7m-2.1 3.4h.7m.6 7.1h.7m-2.3 2.6h.7m2.4-42.8h.7m-.5 2.4h.7m-1.9 .6h.7m.1 1.9h.7m0 .3h.7m-1.9 0h.7m-.9 .7h.7m-.6 .8h.7m-.5 .1h.7m-.6 2.2h.7m.6 .6h.7m-1.6 .3h.7m-.5 .6h.7m-.1 .1h.7m-1.2 .2h.7m-.1 .2h.7m-1.2 .6h.7m-1.5 .3h.7m-.2 .3h.7m.1 .2h.7m-1.3 .1h.7m-1.1 1.1h.7m-1.1 .1h.7m.2 .1h.7m-1.4 0h.7m-.4 .1h.7m-.3 .4h.7m-.8 0h.7m-.4 .5h.7m-.9 .1h.7m-1.1 .2h.7m-.2 .2h.7m-1.6 .2h.7m-.7 0h.7m-1.2 .1h.7m.9 .1h.7m-.8 0h.7m-2.1 .2h.7m.8 .1h.7m-1 0h.7m-1.5 .2h.7m.5 0h.7m-1.4 .1h.7m-.2 .1h.7m-1.6 .1h.7m.5 .2h.7m-1.5 0h.7m.1 .1h.7m-.9 .2h.7m-1.4 .1h.7m-.8 .3h.7m-1.2 .2h.7m.3 .1h.7m-.9 .1h.7m-.1 .1h.7m-2.2 .5h.7m-.8 0h.7m-.5 0h.7m-.8 .1h.7m.3 .2h.7m-.8 0h.7m-.6 .1h.7m-1.9 .1h.7m.8 0h.7m-.9 .4h.7m-1.6 0h.7m.7 .2h.7m-1.5 .1h.7m-1.4 .4h.7m-.5 0h.7m-1 .1h.7m-.8 .7h.7m-.2 .1h.7m-1.3 0h.7m-.2 .1h.7m-.2 .1h.7m-.7 .1h.7m0 .1h.7m-1.3 0h.7m-1.7 .2h.7m1 .2h.7m-.7 0h.7m-1.7 0h.7m-.5 .4h.7m-.6 0h.7m-1.1 .1h.7m-.2 .6h.7m-2 0h.7m-.1 .2h.7m.1 .1h.7m-1.1 .2h.7m0 .3h.7m-2.3 .3h.7m.9 .5h.7m-1.7 .5h.7m.2 .4h.7m-.8 1.6h.7m-1.1 .1h.7m-.1 .5h.7m-1.9 1.4h.7m-.2 .1h.7m-.7 1h.7m.2 9.9h.7m.9-41.8h.7m-1.9 3.1h.7m-.2 .3h.7m-.5 .3h.7m-1.1 3.8h.7m.3 1.7h.7m-.6 .2h.7m-.7 .4h.7m-1.4 .1h.7m0 0h.7m-.6 .1h.7m-1.4 0h.7m-1.1 .5h.7m-.7 .4h.7m-.1 .1h.7m-1 0h.7m-.7 .3h.7m-.4 .5h.7m-1 .2h.7m-.3 .1h.7m-.9 0h.7m0 .2h.7m-1.1 .1h.7m-2.2 0h.7m.2 .3h.7m-.9 .2h.7m.3 .2h.7m-2.3 .2h.7m-.3 .1h.7m0 .1h.7m-.7 .3h.7m-1.5 .2h.7m-.8 .2h.7m.8 0h.7m-2.2 .1h.7m.9 .3h.7m-1 .1h.7m-.7 .1h.7m-2.3 .1h.7m1 .1h.7m-1.1 0h.7m-.6 .1h.7m-.6 .2h.7m-2.2 .2h.7m1.1 .1h.7m-1.9 0h.7m-.1 .2h.7m-.7 .2h.7m-.9 .1h.7m0 .2h.7m-.8 0h.7m-.7 0h.7m-1.5 .1h.7m-1.3 .1h.7m.6 .3h.7m-.5 .3h.7m-.8 0h.7m-1.6 .1h.7m-1.2 .2h.7m-.2 .1h.7m.5 .1h.7m-1 .4h.7m-.9 .4h.7m-1.2 0h.7m-.6 .1h.7m-.6 0h.7m-.1 0h.7m-1.4 .1h.7m-.7 0h.7m-1.3 .2h.7m-.1 0h.7m0 .4h.7m-1.9 .1h.7m0 .4h.7m0 .1h.7m-1.9 0h.7m0 0h.7m-.9 .1h.7m-1.6 0h.7m-.6 .1h.7m-.4 0h.7m-.6 .1h.7m-.7 0h.7m0 .3h.7m-.6 0h.7m-1.5 0h.7m.3 .2h.7m-1.1 0h.7m-1.2 .2h.7m.2 .1h.7m-.8 .2h.7m-1.7 .6h.7m-.8 .1h.7m.4 .1h.7m-.7 .2h.7m-.9 .1h.7m-1.6 .5h.7m-1.3 0h.7m-.1 .1h.7m-.4 .5h.7m-1.6 .1h.7m-.1 .5h.7m.2 .2h.7m-2.2 1.8h.7m-.5 .6h.7m.8 .7h.7m-.9 2h.7m-.4 2.3h.7m-.7 .2h.7m.8-40.2h.7m-.7 12.6h.7m-1.2 .1h.7m-.8 .1h.7m-.4 .1h.7m-.2 .4h.7m-.8 .1h.7m-1.4 .2h.7m-.5 1h.7m-1 1.8h.7m-.2 .1h.7m-1.5 .5h.7m.6 .1h.7m-.5 .1h.7m-1.3 0h.7m-1.3 .1h.7m-.7 .2h.7m.2 .1h.7m-.3 1h.7m-1.3 .5h.7m-1.8 0h.7m-.9 .3h.7m.9 .1h.7m-.4 .1h.7m-1.8 0h.7m-1.1 .2h.7m-.9 .7h.7m.3 .4h.7m-1.1 .1h.7m-1.1 0h.7m.2 .2h.7m-.5 .1h.7m-1.8 0h.7m.6 .1h.7m-1.7 .1h.7m-1 0h.7m.6 0h.7m-1.9 .2h.7m.1 .1h.7m-.4 .2h.7m-1.1 0h.7m-.7 .3h.7m-1.1 0h.7m-.9 .1h.7m.1 .1h.7m-1 .1h.7m0 0h.7m-1.6 .1h.7m-.6 .1h.7m.1 0h.7m-2.3 0h.7m-.6 .1h.7m.5 .1h.7m-2.1 0h.7m.3 .2h.7m-1.4 0h.7m-.5 0h.7m.2 .1h.7m-.3 .1h.7m-.8 0h.7m-2 0h.7m-.7 .1h.7m-1 0h.7m-.1 .1h.7m.4 0h.7m-1.9 .2h.7m-1.1 .2h.7m-.1 .1h.7m-1.2 0h.7m-.6 0h.7m-.1 0h.7m-1.2 0h.7m0 .1h.7m-1.2 .1h.7m-1.5 0h.7m.7 .1h.7m-.5 .1h.7m-1.2 0h.7m-1.6 .1h.7m-.4 0h.7m0 .1h.7m-1.2 .2h.7m.4 .4h.7m-2.1 0h.7m.6 .1h.7m-2.1 0h.7m-.8 0h.7m.4 .2h.7m-.2 .2h.7m-1.1 0h.7m-.8 0h.7m-.2 0h.7m-1.1 .1h.7m-.2 0h.7m-1.6 0h.7m-.2 .4h.7m-.4 0h.7m-.8 0h.7m-.7 .3h.7m-2.4 0h.7m-.6 .1h.7m.4 0h.7m-.2 .1h.7m-2.4 0h.7m-.5 .2h.7m-.6 .1h.7m.7 .2h.7m-1.7 .1h.7m-.7 .1h.7m-.2 .1h.7m-1.7 .3h.7m-.6 0h.7m-.6 .1h.7m-.3 .1h.7m.1 0h.7m-.8 0h.7m-1.6 .1h.7m-.2 .5h.7m-.5 .5h.7m-.8 .1h.7m-1.8 .1h.7m.1 .1h.7m-1.3 .1h.7m-.7 0h.7m-.2 .1h.7m-.4 .2h.7m-1.1 .2h.7m-.7 .2h.7m-1.1 .4h.7m-.8 .1h.7m0 .1h.7m-1.2 .3h.7m.1 .5h.7m-1.5 .1h.7m.7 0h.7m-.9 .4h.7m-.6 .4h.7m-1.9 0h.7m-.7 .3h.7m-.4 .5h.7m-.9 0h.7m.1 .3h.7m-1.2 .6h.7m-1.1 .1h.7m.4 .2h.7m-2.2 .3h.7m.5 .3h.7m-1.5 .3h.7m-.2 .4h.7m-.7 0h.7m-1 0h.7m-1.1 .5h.7m-.4 .6h.7m-1.2 2.9h.7m0 .1h.7m0 1h.7m-1.9 3.5h.7m-.7 7.3h.7m1.1-48.5h.7m-.7 2.4h.7m0 .6h.7m-.2 1.8h.7m-.8 2.8h.7m-1.5 .3h.7m.5 .1h.7m-.8 .2h.7m-.6 .5h.7m-.8 .6h.7m-1.4 1.1h.7m-.3 .5h.7m-.2 .2h.7m-2.3 .4h.7m.8 .3h.7m-.5 .2h.7m-.9 .1h.7m-1.5 .4h.7m-.3 .3h.7m-.1 0h.7m-2.3 .1h.7m.4 .1h.7m-.8 .5h.7m-1.8 .1h.7m1.1 0h.7m-1.5 .4h.7m-1.2 .3h.7m-.6 .5h.7m0 0h.7m-.3 0h.7m-1.2 .1h.7m-1.1 .2h.7m0 .1h.7m-1.2 .2h.7m-1 .1h.7m-.1 .4h.7m-1.2 .1h.7m-1.3 .3h.7m-.9 .1h.7m.7 0h.7m-.4 .2h.7m-2 .6h.7m-.4 .2h.7m-1.1 .1h.7m-.5 0h.7m-.2 0h.7m-.6 .1h.7m-.5 .1h.7m-.7 .1h.7m-.2 .1h.7m-1.1 0h.7m-2.1 0h.7m.8 .1h.7m-1.5 .1h.7m.3 0h.7m-1.1 0h.7m-2 .2h.7m-.2 0h.7m-.3 .1h.7m.2 .2h.7m-2.4 0h.7m-.5 .3h.7m.5 .2h.7m-.4 .1h.7m-1.9 .3h.7m-.4 0h.7m-.1 .1h.7m-.6 .4h.7m-2 0h.7m.8 .1h.7m-1 0h.7m-.7 .1h.7m-1 .1h.7m-1.5 0h.7m0 .1h.7m-.6 0h.7m-.7 .1h.7m-1 .1h.7m-.3 .1h.7m-.4 .1h.7m-.7 .1h.7m-1.7 .3h.7m.5 .1h.7m-2.1 0h.7m.2 0h.7m-1.7 0h.7m-.9 .1h.7m.3 .1h.7m-.1 .3h.7m-.6 0h.7m-2.3 .1h.7m-1 0h.7m.6 .1h.7m-1.9 .1h.7m1.1 .2h.7m-1.8 .1h.7m-.7 .1h.7m-.4 0h.7m-1.8 .1h.7m-.4 0h.7m-.1 0h.7m-1.6 0h.7m.7 .1h.7m-1.5 0h.7m.6 .1h.7m-2.2 0h.7m-.7 0h.7m.2 0h.7m-1.2 .1h.7m-1.4 .1h.7m-.1 .1h.7m-.9 0h.7m-.5 0h.7m-.2 0h.7m-.8 .2h.7m-.8 .1h.7m-.7 .1h.7m.1 0h.7m-2.1 0h.7m.1 .2h.7m-1.4 0h.7m.3 0h.7m-1.9 .1h.7m-.4 .3h.7m-.5 .1h.7m-1.1 0h.7m.1 .2h.7m-1.1 0h.7m-.3 0h.7m-1.7 .1h.7m-.3 .1h.7m-.4 .1h.7m-.7 0h.7m-1.6 0h.7m.5 .2h.7m-1 .2h.7m-1.5 .1h.7m-.2 .1h.7m-1.3 .1h.7m.6 0h.7m-1.7 .1h.7m.5 0h.7m-1 .1h.7m-.2 .1h.7m-2.4 0h.7m-.7 .1h.7m.2 .1h.7m-1.2 .2h.7m-1.1 .1h.7m.5 0h.7m-.7 .1h.7m-1 .2h.7m-1.3 .3h.7m.5 .5h.7m-1.7 .3h.7m-1.2 0h.7m.5 .1h.7m-.2 .1h.7m-1.5 .1h.7m-.1 .1h.7m-.9 .1h.7m-.1 .1h.7m-1.2 .2h.7m-.9 0h.7m0 .3h.7m-1.5 .2h.7m-.4 .1h.7m-1.8 .2h.7m-.7 .2h.7m-.9 0h.7m-.8 .3h.7m1.1 1.7h.7m-2.1 .1h.7m-.6 .2h.7m-.1 1.5h.7m-.4 .4h.7m-1 .8h.7m-1.3 1.7h.7m-.6 .5h.7m0 .6h.7m-.3 1.4h.7m-2.2 2h.7m2.8-38h.7m-.6 .1h.7m-1.4 2.8h.7m-.1 1.4h.7m-.9 .1h.7m-.3 .3h.7m-1.6 .7h.7m-.5 0h.7m-1.9 1.7h.7m-.2 .2h.7m-.8 .1h.7m-.8 .3h.7m.5 .4h.7m-.7 .4h.7m-1.9 .4h.7m-1 .4h.7m.3 .1h.7m.1 0h.7m-.7 .2h.7m-1.2 .3h.7m-1.9 .1h.7m.8 0h.7m-2.3 .6h.7m.6 .1h.7m-.1 .2h.7m-1.4 0h.7m-.2 .4h.7m-2.2 0h.7m1 .2h.7m-.9 .1h.7m-.8 .3h.7m-1.5 .3h.7m.2 .1h.7m-1.8 .2h.7m0 .2h.7m-.8 .3h.7m-1.9 0h.7m-.7 .1h.7m.3 .1h.7m-1.4 0h.7m0 .2h.7m-1.1 .2h.7m.6 0h.7m-2.5 .1h.7m.6 .1h.7m-2.1 0h.7m1.1 .1h.7m-2.5 0h.7m.6 0h.7m-.4 0h.7m-.9 .2h.7m-1.8 .1h.7m-.2 0h.7m-.2 .1h.7m-2 .1h.7m-.1 0h.7m.2 .2h.7m-.6 .2h.7m-1.8 .1h.7m.5 .1h.7m-.9 0h.7m-.4 .2h.7m-.6 0h.7m-2.5 0h.7m1 .1h.7m-.9 .2h.7m-.7 .1h.7m-1.2 0h.7m-.3 .1h.7m-.8 0h.7m-.4 .1h.7m-1.5 0h.7m-.9 0h.7m-.9 0h.7m-1.2 0h.7m-.6 .1h.7m-.1 0h.7m.4 0h.7m-2 .1h.7m.4 0h.7m-1.3 .1h.7m-.9 .2h.7m-1.2 0h.7m-.2 .3h.7m-1.1 .1h.7m.8 0h.7m-.9 .2h.7m-2.3 .1h.7m0 .2h.7m-.2 .1h.7m-.2 .1h.7m-1.6 0h.7m-.1 0h.7m-.9 0h.7m-.3 0h.7m-1.9 .2h.7m.2 0h.7m-1.8 .1h.7m0 0h.7m-.9 .1h.7m-.6 0h.7m-1.5 0h.7m-.2 .1h.7m.3 .1h.7m-1.9 0h.7m-.6 .1h.7m-.9 .1h.7m-.3 .1h.7m-.8 .2h.7m.3 0h.7m-1.2 0h.7m-.4 .1h.7m-1.1 .1h.7m.2 0h.7m-1.4 0h.7m-.6 0h.7m-1.5 .2h.7m-.9 0h.7m.8 .1h.7m-1.4 .2h.7m-.9 0h.7m-.2 .1h.7m-1.2 .1h.7m-.6 .3h.7m-.6 0h.7m-1 0h.7m-1 .1h.7m-.7 0h.7m-.5 .1h.7m-.8 .2h.7m-.4 0h.7m-1 .1h.7m-1.2 .2h.7m0 .1h.7m-.1 .2h.7m-1 .1h.7m-.7 0h.7m-.5 .1h.7m-.5 .1h.7m-.9 0h.7m-1.1 .1h.7m-1.6 0h.7m.8 .1h.7m-.6 .1h.7m-1.8 0h.7m.4 0h.7m-2.2 0h.7m1 .1h.7m-2.1 .1h.7m-.3 .1h.7m-.5 0h.7m-.1 0h.7m-.8 0h.7m-1.7 0h.7m-.4 .1h.7m-1.2 .3h.7m-.8 0h.7m.7 .2h.7m-.6 0h.7m-1.9 .3h.7m-1 .1h.7m.3 0h.7m-1.5 0h.7m.4 .5h.7m-.7 .1h.7m-.7 .1h.7m-.7 0h.7m-2 .1h.7m-.7 .1h.7m-.7 0h.7m1 .3h.7m-1.5 .1h.7m-.9 0h.7m-1.3 .1h.7m0 0h.7m-.9 0h.7m-1.5 .1h.7m-.2 0h.7m-.8 0h.7m.2 0h.7m-.3 0h.7m-.5 .5h.7m-1.7 0h.7m-1 0h.7m-.7 0h.7m0 .4h.7m-1.5 0h.7m.7 .1h.7m-2.6 0h.7m-.1 .3h.7m-1 .1h.7m-.6 .2h.7m0 .2h.7m-1.6 .2h.7m.3 .3h.7m-1 .3h.7m.1 .1h.7m-.7 0h.7m-.7 .3h.7m-.9 .2h.7m-1 .3h.7m-.8 .3h.7m0 .3h.7m-2.3 0h.7m.4 .8h.7m-1.9 .3h.7m-.1 .5h.7m-.5 .3h.7m-1.1 1.1h.7m.7 2.6h.7m-2.6 5.5h.7m-.3 7.5h.7m2.1-63h.7m-.5 15.1h.7m-.3 4.5h.7m-2.1 .3h.7m.2 .4h.7m-.8 .3h.7m-1.5 .2h.7m.3 .4h.7m-.8 2.2h.7m-.6 .2h.7m-1.5 .4h.7m-.2 1.1h.7m-.2 0h.7m-1.8 .3h.7m-.8 .1h.7m-.6 0h.7m.2 .1h.7m-1.2 0h.7m.1 .1h.7m-2.4 .1h.7m-.1 .1h.7m-1.3 .3h.7m-.2 .1h.7m.3 0h.7m-.8 .3h.7m-1.8 .3h.7m-.4 .1h.7m-.3 .1h.7m-1.3 0h.7m0 .3h.7m-1.2 .2h.7m-1.2 0h.7m0 0h.7m-1.1 0h.7m-.9 .2h.7m0 0h.7m-.7 0h.7m-.4 .3h.7m-1.3 .1h.7m-.3 0h.7m-1.4 .1h.7m.9 .1h.7m-2 .2h.7m.6 .1h.7m-.8 .4h.7m-1.6 .1h.7m-.3 .2h.7m-1.9 .1h.7m0 .1h.7m.1 .1h.7m-.9 .3h.7m-1.9 .1h.7m.1 0h.7m-1.2 .1h.7m-1 .1h.7m-.6 0h.7m-.9 0h.7m-.7 0h.7m-.7 .1h.7m.2 0h.7m-1.7 0h.7m.3 .4h.7m-.6 0h.7m-1.3 .1h.7m.5 .3h.7m-1.5 .1h.7m-.6 .1h.7m-1.4 .3h.7m.1 .2h.7m0 .1h.7m-1.4 0h.7m-.7 0h.7m-.1 .4h.7m-1.4 .1h.7m-.4 0h.7m-.5 .2h.7m-1.2 .1h.7m-.8 .1h.7m0 0h.7m-1.7 0h.7m.2 .1h.7m-2.2 0h.7m.9 0h.7m-2.3 .1h.7m-.5 .1h.7m.3 0h.7m-.6 .1h.7m-.8 0h.7m-.6 .1h.7m-.3 0h.7m-1.6 .2h.7m.2 0h.7m-.6 0h.7m-2.3 .1h.7m.4 0h.7m-1.2 .1h.7m-1.4 0h.7m-.2 0h.7m.5 0h.7m-2.5 .1h.7m0 0h.7m-1.1 .1h.7m-.1 .1h.7m.2 .1h.7m-1.7 0h.7m-.5 .1h.7m-1.1 0h.7m.3 0h.7m-1.7 .2h.7m-1 .1h.7m-.3 .1h.7m-1.3 0h.7m-.4 .1h.7m-.4 0h.7m-1.2 .1h.7m.3 0h.7m-1.8 .1h.7m-.1 .1h.7m-.9 .1h.7m.4 .1h.7m-.9 .1h.7m-.2 .2h.7m-1.1 0h.7m-.7 .1h.7m-1.9 0h.7m.4 .1h.7m-.9 .2h.7m-.8 0h.7m-1.1 .1h.7m.1 0h.7m-1 .1h.7m-.5 .1h.7m-.7 .1h.7m-1.6 .5h.7m-1 .3h.7m0 0h.7m-.8 .1h.7m-1.1 .1h.7m-.6 .1h.7m-.4 .1h.7m-.2 0h.7m-1.8 .1h.7m-.1 0h.7m-.3 0h.7m-.9 .1h.7m-.3 .2h.7m-.5 0h.7m-1.2 .4h.7m-.4 .1h.7m-2.1 .1h.7m-.6 0h.7m.3 0h.7m-1.6 .1h.7m1 .2h.7m-1.4 .1h.7m-1.7 .1h.7m.5 0h.7m-.3 0h.7m-1.6 .2h.7m-.1 .2h.7m-1.1 .1h.7m-1.1 .5h.7m-.9 .1h.7m-1.1 .4h.7m-.6 .2h.7m.5 .1h.7m-1 .1h.7m-.4 .1h.7m-.7 0h.7m-1.4 0h.7m-.2 .2h.7m-.1 .1h.7m-.7 0h.7m-.8 .7h.7m-1.6 0h.7m-.2 .1h.7m-1 .1h.7m-.4 .8h.7m-.8 .4h.7m-.4 .1h.7m-2 .4h.7m.2 .8h.7m-1.5 2.3h.7m.1 .2h.7m-.9 12.3h.7m1.1-45.3h.7m-.4 .5h.7m-1 5.3h.7m0 .3h.7m-1.1 1.3h.7m-1.1 .8h.7m-1.2 .3h.7m-.5 .5h.7m.6 .6h.7m-2 .4h.7m-.3 0h.7m0 .5h.7m-.6 1h.7m-2 .2h.7m.8 .1h.7m-2.2 .4h.7m-.1 .1h.7m.4 0h.7m-1.3 .1h.7m-1.1 .1h.7m-1.2 .3h.7m-.9 .1h.7m-.8 0h.7m.3 .2h.7m-1.1 .3h.7m.2 .1h.7m-.8 .1h.7m-.4 .2h.7m-1.8 .1h.7m-.6 .1h.7m0 .4h.7m-.8 0h.7m-.2 .1h.7m-2.5 .1h.7m1.1 0h.7m-2.4 .1h.7m.7 .2h.7m-1 0h.7m-1.8 0h.7m-.5 0h.7m.3 0h.7m-.6 .1h.7m-1.5 .1h.7m-1 .1h.7m.3 .1h.7m-1.3 0h.7m-.6 .1h.7m-.8 .3h.7m.1 .3h.7m-1.9 0h.7m.1 0h.7m-1.9 .1h.7m.6 .2h.7m-.6 .1h.7m-1.1 .2h.7m-1.5 .1h.7m.8 0h.7m-.9 .3h.7m-1 .1h.7m-.2 0h.7m-1.2 .1h.7m-.4 0h.7m-.6 .2h.7m-1.1 .1h.7m-1.6 0h.7m-1 0h.7m.6 .2h.7m-.1 .1h.7m-2.4 0h.7m0 .1h.7m-.8 0h.7m-1.1 .3h.7m-.9 .1h.7m-.4 .3h.7m-.6 0h.7m-1.2 0h.7m-.2 .1h.7m.5 0h.7m-1.2 0h.7m-1 .1h.7m-1.5 .1h.7m.7 0h.7m-.9 0h.7m-.2 .2h.7m-1.1 0h.7m-1.2 .1h.7m-.7 .1h.7m-.2 0h.7m-.5 .1h.7m-.6 0h.7m-2.1 .1h.7m.6 .1h.7m-1.9 0h.7m.3 0h.7m-1.7 .2h.7m-1.1 .2h.7m-.8 .1h.7m.1 .1h.7m-.9 0h.7m.6 0h.7m-1.7 0h.7m-1.1 .2h.7m.4 0h.7m-1.1 0h.7m-.4 0h.7m-1.7 .1h.7m-.7 0h.7m-.8 0h.7m-.1 .2h.7m-1.4 .1h.7m-.7 .1h.7m.5 0h.7m-1.9 .1h.7m.7 .1h.7m-2.3 0h.7m0 .2h.7m-.2 .2h.7m-1 0h.7m-.9 0h.7m-.4 .2h.7m-.3 .1h.7m-1.1 0h.7m-.8 0h.7m-.1 .1h.7m-1.8 0h.7m.3 0h.7m-.3 0h.7m-1.6 0h.7m.1 .1h.7m-2.4 0h.7m.1 0h.7m-1 .6h.7m-.1 .1h.7m-1.4 0h.7m-.9 .2h.7m-.3 .1h.7m-.7 .2h.7m-.6 0h.7m-.1 .2h.7m-1.3 0h.7m-.5 .1h.7m.2 0h.7m-2.6 .2h.7m-.5 .1h.7m.1 0h.7m-1.5 .1h.7m.1 0h.7m-.9 .1h.7m-.2 .2h.7m-1.7 .2h.7m.5 .1h.7m-.6 .2h.7m-1.7 .1h.7m-.4 .1h.7m-.6 .4h.7m-1.7 .4h.7m-.4 .5h.7m.7 .1h.7m-2.1 .3h.7m-.8 .1h.7m-.4 .4h.7m-.6 .6h.7m.6 .2h.7m-1.2 .1h.7m-1.7 .2h.7m-.2 .4h.7m-.4 0h.7m-1 .3h.7m.1 .7h.7m-1.2 .8h.7m-.7 1.2h.7m-1.7 .6h.7m0 3.8h.7m-1.3 3.4h.7m-.4 .6h.7m1.5-41.6h.7m-1.1 5.6h.7m.8 .3h.7m-2.2 .5h.7m-.5 .5h.7m.1 .6h.7m-.9 .6h.7m-1 .1h.7m-1.1 .9h.7m-1.2 .2h.7m1.2 .4h.7m-.8 .1h.7m-.6 .2h.7m-2 .8h.7m-.5 .2h.7m-1.2 0h.7m-.9 .1h.7m-.8 .4h.7m.8 .4h.7m-.5 .9h.7m-2.1 .8h.7m-.5 .1h.7m.5 .2h.7m-2.3 .5h.7m.6 .3h.7m-2.1 0h.7m.5 .4h.7m-1.8 .4h.7m1.1 .1h.7m-1.7 .1h.7m-1.3 0h.7m-.7 .6h.7m-.5 .3h.7m.4 .1h.7m-1.8 .1h.7m-.8 .2h.7m.2 .2h.7m-1 .2h.7m-.8 0h.7m0 .2h.7m-1.3 .2h.7m.2 .1h.7m-.8 0h.7m-2.2 0h.7m.4 .2h.7m-1.8 .1h.7m.2 .1h.7m-1.9 .2h.7m-.5 0h.7m.3 .2h.7m-.2 .1h.7m-1.3 0h.7m-1.8 .1h.7m.7 0h.7m-1.1 .2h.7m.1 .1h.7m-2.3 0h.7m-.6 0h.7m.6 0h.7m-1.2 .2h.7m-1.3 .3h.7m.6 0h.7m-1.6 .4h.7m-1.3 0h.7m-1 .1h.7m.2 .1h.7m0 .1h.7m-2.1 .3h.7m-.1 0h.7m-.6 0h.7m-1.5 .1h.7m-.1 .2h.7m-.3 .1h.7m-1.7 .2h.7m-.6 0h.7m-.3 .1h.7m.2 .1h.7m-1.5 0h.7m-.9 .1h.7m-1.2 0h.7m.7 .3h.7m-1.8 0h.7m0 0h.7m.1 .1h.7m-.8 .2h.7m-1.4 .1h.7m-1.1 0h.7m-.9 .1h.7m-1 .1h.7m-.8 .1h.7m.2 .2h.7m-1.5 .2h.7m.9 .1h.7m-1.6 .2h.7m-1.1 0h.7m.3 .1h.7m-.5 .1h.7m-2 .4h.7m0 .1h.7m-.3 0h.7m-2 .2h.7m.2 0h.7m-1.6 .1h.7m.3 .1h.7m-1.3 0h.7m-.3 .1h.7m-.9 .2h.7m.4 .2h.7m-2.3 .1h.7m-.9 0h.7m.8 .2h.7m-2 0h.7m.8 .2h.7m-.8 .5h.7m-1.1 .3h.7m-1.8 .3h.7m.6 0h.7m-2 .5h.7m.4 0h.7m-1.6 .2h.7m.1 .3h.7m.1 .1h.7m-1.3 .1h.7m-1.2 .3h.7m-1.5 .4h.7m-.1 .1h.7m.5 0h.7m-1.9 .6h.7m.6 .2h.7m-1.5 .5h.7m-.2 .1h.7m-1.5 1.3h.7m-1.1 .3h.7m.8 .4h.7m-2.4 .3h.7m.5 .2h.7m-.8 2.5h.7m-1.8 1.2h.7m2.1-30.2h.7m0 .1h.7m-1.5 1.2h.7m-.5 0h.7m-1.5 .2h.7m-.9 .8h.7m.9 .9h.7m-.6 .4h.7m-2.5 .2h.7m-.4 .1h.7m-.4 .1h.7m-1.2 .3h.7m-.4 .2h.7m-1.1 .2h.7m-.4 .2h.7m.4 .6h.7m-1.8 .3h.7m.4 .6h.7m-.5 .3h.7m-1.9 .2h.7m.2 .1h.7m-1.8 .1h.7m-.7 .1h.7m.5 .1h.7m-1 0h.7m-.9 .1h.7m.3 .4h.7m-1.2 .1h.7m-1.9 0h.7m-.4 0h.7m-.9 .2h.7m-.5 .1h.7m.4 0h.7m-1.8 .4h.7m-.9 .2h.7m.8 .1h.7m-1.7 .4h.7m-.8 .1h.7m-1.2 .1h.7m-.5 0h.7m-.1 .2h.7m-1.2 0h.7m-.1 .1h.7m-.1 .1h.7m-1.7 .2h.7m-1.3 0h.7m-.8 0h.7m-.1 .2h.7m-.9 .1h.7m-.9 .2h.7m-.4 .1h.7m.3 .2h.7m-2.1 0h.7m.3 0h.7m-1.6 .1h.7m.6 .2h.7m-.4 .2h.7m-2.4 .2h.7m.5 .1h.7m-.7 .2h.7m-1.9 .1h.7m.1 .3h.7m-.5 .2h.7m-1.4 .6h.7m-.6 .2h.7m-.7 0h.7m-.9 .2h.7m-.6 .1h.7m-.4 .1h.7m.5 .1h.7m-2.2 0h.7m-1.1 .1h.7m1 .2h.7m-1.1 0h.7m-1.6 .1h.7m-.5 .1h.7m-1.2 0h.7m-.1 0h.7m.4 .1h.7m-.8 .1h.7m-2.4 0h.7m.3 .1h.7m-1.5 0h.7m.5 0h.7m-2 .1h.7m.3 .3h.7m-.4 .1h.7m-1.3 0h.7m.1 .1h.7m-1.6 .2h.7m-.5 .3h.7m-.2 0h.7m-1.8 .2h.7m-.3 .2h.7m-.9 .2h.7m.2 .2h.7m-2 .2h.7m.2 .1h.7m-1 0h.7m.5 .1h.7m-2.2 .3h.7m-.8 0h.7m-.2 .1h.7m.3 0h.7m-1.2 .2h.7m-.1 0h.7m-2.1 0h.7m.3 .3h.7m-.8 .1h.7m-.8 .2h.7m-.1 .2h.7m-1.9 .3h.7m.1 .1h.7m-1.9 0h.7m-.2 .1h.7m-1.5 .3h.7m-.2 .4h.7m-1.1 0h.7m.4 .1h.7m0 .6h.7m-.7 0h.7m-2.4 .3h.7m-.6 .2h.7m-.9 .2h.7m1.1 0h.7m-2.6 .4h.7m.8 .4h.7m-.8 .1h.7m-.2 .2h.7m-2.2 .1h.7m-.4 .9h.7m.1 .4h.7m-1.2 .1h.7m-1.6 .1h.7m1.1 .8h.7m-1.2 1.6h.7m.1-37.5h.7m-.7 8.1h.7m-.6 3.5h.7m-.4 .5h.7m-1.2 .9h.7m1.1 .4h.7m-2.5 .9h.7m.7 .6h.7m-.7 1.5h.7m-.7 .4h.7m-.6 .2h.7m-2 0h.7m-.6 .2h.7m-.1 .3h.7m-1.2 .1h.7m.1 0h.7m-.7 0h.7m-.2 .1h.7m-.9 .1h.7m-1.5 .2h.7m-1.5 .4h.7m1 .4h.7m-1.3 .7h.7m-1.4 .6h.7m.1 .2h.7m-1 0h.7m-.5 .2h.7m-.3 .3h.7m-1.1 0h.7m.1 .1h.7m-2.3 .3h.7m0 0h.7m-.9 0h.7m-.7 .1h.7m-1 .1h.7m.2 .1h.7m-1.8 .2h.7m-.5 .1h.7m-.1 0h.7m-.2 .7h.7m-1.1 .1h.7m-1.4 .1h.7m.1 0h.7m-1.6 .1h.7m-.8 1h.7m-.7 0h.7m.2 .2h.7m-1.8 0h.7m.1 0h.7m-.5 .3h.7m-.1 .4h.7m-2.4 .1h.7m.9 .1h.7m-.5 .1h.7m-1.2 .1h.7m-.7 .1h.7m-1.2 .2h.7m-.2 .1h.7m-.8 .1h.7m-.5 .1h.7m-1.4 0h.7m0 .2h.7m-.6 .2h.7m-1.7 .8h.7m.4 .2h.7m-2.2 .3h.7m-.7 .2h.7m-.1 .2h.7m-.6 .2h.7m.2 .1h.7m-1.7 .2h.7m-.4 .2h.7m0 .2h.7m-1.8 .1h.7m-.3 .1h.7m-.6 .5h.7m-.4 .1h.7m-1.1 .3h.7m-1.5 .6h.7m.5 .6h.7m-1.3 .1h.7m0 .6h.7m-1.1 0h.7m-1.5 .5h.7m-.4 .4h.7m-.6 .2h.7m-.7 .1h.7m-1.3 1h.7m-.6 1.7h.7m-.6 0h.7m-.3 .7h.7m-.2 1.1h.7m-.9 .3h.7m-1.7 1h.7m2.9-30h.7m-1.8 1.2h.7m-.7 1.9h.7m-.8 1.4h.7m-.7 .2h.7m0 .6h.7m-1.5 .8h.7m.8 1.7h.7m-2 .1h.7m-.3 .5h.7m.1 .4h.7m-.9 .5h.7m-1.4 .1h.7m.1 1.5h.7m-2.3 .3h.7m.4 .2h.7m-.9 .7h.7m-1.4 .7h.7m-.9 .5h.7m.1 .1h.7m-.9 .5h.7m-1.1 .1h.7m.3 .1h.7m-1.3 0h.7m.1 .1h.7m-1.4 .2h.7m.1 0h.7m-.7 .1h.7m-1.5 .8h.7m-.1 .1h.7m-.5 1.4h.7m-.8 .9h.7m-2 .4h.7m.4 .4h.7m-1.9 .1h.7m-.5 0h.7m.4 .9h.7m-1.1 .1h.7m.3 0h.7m-1 .3h.7m-1.1 .2h.7m-1.5 1h.7m-.9 .3h.7m.9 .3h.7m-1.3 .5h.7m-1.7 1.2h.7m-.1 1.2h.7m-.4 .1h.7m-.6 .1h.7m-1.3 1.3h.7m-.1 .1h.7m-1.1 1.4h.7m-.2 .6h.7m-.6 .8h.7m-1.3 7.3h.7m-1.2 .1h.7m1.5-39.3h.7m.5 4.3h.7m-1.5 2.8h.7m-1.5 1.2h.7m.7 .8h.7m-1.6 .7h.7m.5 .8h.7m-1.4 0h.7m-1.6 2h.7m1 0h.7m-1.4 .3h.7m-.4 .3h.7m-.3 0h.7m-2.6 0h.7m.4 .8h.7m-.8 .6h.7m-1.7 .3h.7m.8 .7h.7m-1.4 .2h.7m-.4 1h.7m-1.5 .4h.7m.9 .3h.7m-2.4 .4h.7m0 0h.7m-.2 .2h.7m-.5 .6h.7m-1.2 0h.7m-.8 0h.7m-1.7 .4h.7m-.4 0h.7m.3 0h.7m-.1 0h.7m-1.2 .2h.7m-1.6 .3h.7m-.5 .1h.7m-.5 .2h.7m-1.3 0h.7m-.2 .7h.7m-1 .1h.7m.3 1.3h.7m-1.5 0h.7m-1 .5h.7m.4 .1h.7m-1.5 .5h.7m-.3 .4h.7m-1.6 .1h.7m.7 3h.7m-1.8 1.6h.7m-.4 5.1h.7m-1.3 .1h.7m2.8-30.2h.7m-1.5 1.8h.7m-1.4 2.4h.7m-.7 1.3h.7m1 2h.7m-1.3 2h.7m-.9 .5h.7m-1.8 1.3h.7m.5 0h.7m-1 .1h.7m0 2.9h.7m-2.1 .9h.7m.5 1h.7m-2.1 .3h.7m-.5 1.1h.7m1 .1h.7m-.9 1.6h.7m-1.9 1.5h.7m0 1.4h.7m-1.7 1.3h.7m.7 4.3h.7m.4-29.1h.7m-.6 1.3h.7m-1.4 2.1h.7m.1 2.3h.7m.1 4.6h.7m-1.4 1.2h.7m-.2 .7h.7m-1.8 4.4h.7m-.5 .9h.7m.2 1.3h.7m-1.2 1.2h.7m-1.3 .3h.7m.6 1.2h.7m-1.9 0h.7m.3 1.6h.7m-1.4 5.5h.7m-.8 .7h.7m-.5 .9h.7m0 .8h.7m-.4 .7h.7m-2.6 1.3h.7m.9 2.5h.7m.1-39.9h.7m-.4 4.2h.7m-1.4 8.3h.7m-.6 2.1h.7m-.2 .2h.7m-.3 1h.7m.1 2.2h.7m-1.2 .5h.7m-1.5 11.8h.7m.1 1.6h.7m-1.6 1h.7m1.5-28.6h.7m-.6 10.9h.7m-1.4 5.6h.7m0 3.2h.7m.4 1.2h.7m-2.2 1.7h.7m.3 .8h.7m-1.2 1.4h.7m-1.1 .6h.7m-.9 0h.7m2.7-7.1h.7m-1.1 9.4h.7m.8-24.2h.7m-1.4 1.9h.7m1 .6h.7m-1.4 12.4h.7m1.6-15.5h.7m-1.1 11h.7m4 3.7h.7m.8-15.1h.7" stroke="#3d6df2" stroke-width="0.7" fill="none" opacity="0.85"/>
<path d="M427 669h.8m-1.8 26.8h.8m1.6-55.2h.8m-1 63.7h.8m1.3-10.3h.8m4.5-2.1h.8m-1.7 5.2h.8m1.6-16.2h.8m-1.8 6.2h.8m-.2 2h.8m-1.7 9h.8m-.4 .4h.8m2.3-13.7h.8m-2.6 14.4h.8m.6 1.3h.8m-1.7 2h.8m1-12.5h.8m-1.3 4.6h.8m-.3 5.5h.8m-.1 .8h.8m-.7 3.3h.8m.6-14.9h.8m-1.2 .2h.8m-.8 3.7h.8m-.3 2.1h.8m-1.9 4.7h.8m-.1 2h.8m1.5-34.9h.8m-1.3 18.3h.8m-2.1 1.1h.8m-.9 3.1h.8m-.5 1.2h.8m-1.2 .2h.8m-.3 .5h.8m-.5 0h.8m-1.8 .3h.8m.1 2.9h.8m-1.4 2h.8m.4 1.8h.8m-2.4 1.1h.8m-.4 3.6h.8m.5-24.1h.8m.9 .8h.8m-1.9 5.9h.8m-.4 2.1h.8m-1.9 .1h.8m-.2 1.2h.8m-.4 1.9h.8m-1.9 1.3h.8m.2 1.8h.8m-1.8 .1h.8m.2 .4h.8m-1.6 1h.8m-1.3 .8h.8m-1.2 .1h.8m-.8 .1h.8m0 .9h.8m.3 .6h.8m-1.2 1.8h.8m-1.6 1.4h.8m1.9-21.2h.8m-2 4.6h.8m.7 1.7h.8m-1 1.6h.8m-1.1 .4h.8m-1.1 .5h.8m-.7 .5h.8m-1.7 .3h.8m.1 .1h.8m-2.6 1h.8m1.1 .1h.8m-1 .6h.8m-1 1.5h.8m-.5 .5h.8m-1.9 .9h.8m-.4 1.2h.8m-1.5 .9h.8m1.3-14.5h.8m-1.8 2.7h.8m1.1 .4h.8m-1.4 1.8h.8m-2.3 6.3h.8m.8 0h.8m-.9 1.1h.8m-2.2 .9h.8m.8 .2h.8m-2 .1h.8m-1.1 .5h.8m.3 .1h.8m-1.9 4.3h.8m1.2-57.1h.8m.4 20.1h.8m-.8 17.6h.8m-2.2 6.1h.8m-.9 .5h.8m-.8 .9h.8m-.8 .3h.8m-1.1 0h.8m-1 .4h.8m-.1 1h.8m-1.6 .3h.8m.3 1.1h.8m-1.8 .4h.8m-.7 0h.8m-.6 .7h.8m-1.5 .2h.8m.3 .6h.8m-1.9 1h.8m-.8 1h.8m.5 0h.8m-.7 .4h.8m-.9 3.7h.8m-.5-20.4h.8m0 6.1h.8m-.3 .5h.8m-.7 .8h.8m-1.4 .1h.8m-.4 1.5h.8m-2.6 .3h.8m-.5 0h.8m-1 .2h.8m.5 .8h.8m-1.1 1h.8m-2.3 .2h.8m-.3 2.8h.8m-1 1.8h.8m-.6 .5h.8m-1.6 0h.8m2.3-15.7h.8m-1.3 1.9h.8m-.4 2.1h.8m-1.2 .2h.8m-1.4 0h.8m-.5 1.5h.8m.2 .6h.8m-1.9 .6h.8m.1 .2h.8m-2 .9h.8m-.2 .5h.8m-.6 .6h.8m-2 .2h.8m.2 2.2h.8m-.2 .1h.8m-1.8 .4h.8m-.8 1.9h.8m-1.4 2.9h.8m2.7-37.2h.8m-2.3 19.4h.8m.7 1.2h.8m-2.6 2.8h.8m-.8 1.8h.8m.1 1.3h.8m-1 .5h.8m-.5 .8h.8m-.6 .4h.8m-1.6 1.4h.8m-.5 .6h.8m-.7 .3h.8m-1.5 .6h.8m-.5 .7h.8m-.8 .7h.8m-1 2h.8m-1.4 2.3h.8m-.1 2.9h.8m-.3 .8h.8m.5-19.1h.8m-1.7 3.4h.8m.4 .2h.8m-.7 2.1h.8m-2.2 0h.8m-1.1 .6h.8m-.6 .2h.8m.3 2.9h.8m-1.6 .8h.8m-1 .3h.8m-1.4 2h.8m.3 1.1h.8m0-22.9h.8m.6 9.5h.8m-2.1 1.3h.8m.2 3h.8m-1.9 .3h.8m.5 .7h.8m-1.7 .8h.8m.1 2h.8m-.5-18.4h.8m.6 5.4h.8m-2.2 2.6h.8m.7 1.8h.8m-1.9 2.9h.8m-.9 .5h.8m-.7 2.4h.8m-1.3 .3h.8m-.2 1.5h.8m-1 .1h.8m-1.8 .5h.8m-.3 .3h.8m-1.4 0h.8m.9 .2h.8m-2 .1h.8m-1.1 .4h.8m-.9 3h.8m1.4-25.2h.8m-.8 3.2h.8m-.6 .5h.8m-.1 3.1h.8m-1.3 7.1h.8m-.5 3h.8m-.7 .2h.8m-1.7 .3h.8m-1.7 .4h.8m.3 2.7h.8m-1.1 1.9h.8m-.6 4.1h.8m-1.6 2.1h.8m.4 16h.8m.3-41.3h.8m-.9 16.5h.8m-1.3 0h.8m-1 3.3h.8m-.8 1.1h.8m-.1 2.7h.8m-.3 9.9h.8m.1-61.9h.8m-1.2 .7h.8m-.4 9h.8m-.2 4.3h.8m-1 6.8h.8m-2.2 9h.8m-.3 20.4h.8m2-34.5h.8m-1.1 5.5h.8m-.2 4.2h.8m-1.9 2.1h.8m-.6 2.8h.8m-1.6 .8h.8m.5 17.4h.8m1.3-15.2h.8m-.9 .7h.8m-.9 .1h.8m-1 10.9h.8m.2-39.5h.8m-1 27.9h.8m-.5 1.1h.8m.1 5.9h.8m-1.6 8.6h.8m.5-35.7h.8m.6 6.8h.8m-2.1 7.5h.8m-.3 3.4h.8m0-32.8h.8m-.2 27.2h.8m.1 .1h.8m-.8 1.4h.8m-.8 13.8h.8m-1.6 3.9h.8m-.6 .5h.8m.4-29.1h.8m.2 14.4h.8m-1.9 3.5h.8m.4 3h.8m-1.4 8h.8m-1.4 4.1h.8m-.8 5.2h.8m1.4-54.4h.8m-.4 26.2h.8m-.3 9.9h.8m-2.2 10.6h.8m2.6-11.8h.8m-1.2 7.3h.8m1.6-17.9h.8m-1.2 10.3h.8m1.4-46.4h.8m-1.9 19.3h.8m-.5 1.3h.8m-.7 2.6h.8m-1.1 11.6h.8m-1.5 9.6h.8m.5 1.3h.8m-.8 .1h.8m.5 8.5h.8m.2-40.9h.8m-.4 13.9h.8m-.9 13.9h.8m-1.1 10.8h.8m1.6-48.1h.8m-.4 8.5h.8m-.3 1.1h.8m-1.2 6.1h.8m-.5 6h.8m-1.4 13.2h.8m.3-30.8h.8m.5 15.4h.8m-.1-10.1h.8m-.3 12.8h.8m.6-5.2h.8m-.3 1.3h.8m-.4 9.3h.8m-2.1 8.6h.8m2.6-20.3h.8m-1.6 4.3h.8m-.6 3h.8m-1.1 1.8h.8m.2 30.3h.8m.1-16.3h.8m-.5 1.6h.8m.3-44.7h.8m.4 16.8h.8m-2.1 7.8h.8m2.4 11h.8m-2.4 4.2h.8m1.5-32.6h.8m-.8 8.5h.8m-1.2 16.9h.8m0 3.2h.8m-.9 .8h.8m3.6-5.2h.8m3.8-10.9h.8" stroke="#3a66ee" stroke-width="0.85" fill="none" opacity="0.95"/>
</g>
<line x1="447.50" y1="629.50" x2="447.50" y2="728.00" stroke="#444" stroke-width="0.8"/>
<line x1="406.20" y1="685.50" x2="447.50" y2="685.50" stroke="#444" stroke-width="0.8"/>
<line x1="447.50" y1="685.50" x2="525.00" y2="685.50" stroke="#444" stroke-width="0.8"/>
<text x="431.20" y="697.70" font-size="4.6" text-anchor="start" fill="#0a1a3a">Q3-5</text>
<line x1="582.70" y1="476.50" x2="582.70" y2="582.00" stroke="#000" stroke-width="1"/>
<line x1="582.20" y1="581.50" x2="685.00" y2="581.50" stroke="#000" stroke-width="1"/>
<line x1="577.40" y1="477.00" x2="582.70" y2="477.00" stroke="#000" stroke-width="1"/>
<text x="576.20" y="480.90" font-size="11" text-anchor="end" fill="#000">80</text>
<line x1="577.40" y1="512.00" x2="582.70" y2="512.00" stroke="#000" stroke-width="1"/>
<text x="576.20" y="515.90" font-size="11" text-anchor="end" fill="#000">60</text>
<line x1="577.40" y1="546.70" x2="582.70" y2="546.70" stroke="#000" stroke-width="1"/>
<text x="576.20" y="550.60" font-size="11" text-anchor="end" fill="#000">40</text>
<line x1="577.40" y1="581.50" x2="582.70" y2="581.50" stroke="#000" stroke-width="1"/>
<text x="576.20" y="585.40" font-size="11" text-anchor="end" fill="#000">20</text>
<rect x="596.1" y="509.2" width="23.9" height="72.3" fill="#000" stroke="#000" stroke-width="1"/>
<rect x="622.1" y="544.7" width="23.3" height="36.8" fill="#fff" stroke="#000" stroke-width="1"/>
<rect x="647.0" y="557.8" width="23.9" height="23.7" fill="#9b9b9b" stroke="#000" stroke-width="1"/>
<line x1="608.00" y1="504.60" x2="608.00" y2="509.00" stroke="#000" stroke-width="0.8"/>
<line x1="602.40" y1="504.60" x2="613.60" y2="504.60" stroke="#000" stroke-width="0.8"/>
<line x1="634.00" y1="539.70" x2="634.00" y2="545.00" stroke="#000" stroke-width="0.8"/>
<line x1="628.30" y1="539.70" x2="639.70" y2="539.70" stroke="#000" stroke-width="0.8"/>
<line x1="658.70" y1="552.30" x2="658.70" y2="558.00" stroke="#000" stroke-width="0.8"/>
<line x1="652.30" y1="552.30" x2="665.10" y2="552.30" stroke="#000" stroke-width="0.8"/>
<circle cx="604.0" cy="503.4" r="1.9" fill="#000"/>
<circle cx="611.5" cy="505.3" r="1.9" fill="#000"/>
<circle cx="629.6" cy="539.2" r="1.9" fill="#000"/>
<circle cx="637.0" cy="539.6" r="1.9" fill="#000"/>
<circle cx="633.4" cy="551.7" r="1.9" fill="#000"/>
<circle cx="658.8" cy="550.5" r="1.9" fill="#000"/>
<circle cx="658.8" cy="556.2" r="1.9" fill="#000"/>
<circle cx="658.8" cy="565.7" r="1.9" fill="#000"/>
<path d="M607.6 484.9V479.7H630.7V484.9" fill="none" stroke="#000" stroke-width="1.2"/>
<path d="M635.7 484.9V479.7H659.0V484.9" fill="none" stroke="#000" stroke-width="1.2"/>
<text x="619.40" y="479.10" font-size="12.5" text-anchor="middle" fill="#000" font-weight="bold">***</text>
<text x="647.20" y="479.10" font-size="12.5" text-anchor="middle" fill="#000" font-weight="bold">*</text>
<text transform="translate(546.00 528.70) rotate(-90)" font-size="10" text-anchor="middle" fill="#000">ATDC5</text>
<text transform="translate(557.60 528.20) rotate(-90)" font-size="10" text-anchor="middle" fill="#000">Death cells %</text>
<line x1="578.70" y1="619.20" x2="578.70" y2="724.70" stroke="#000" stroke-width="1"/>
<line x1="578.20" y1="724.20" x2="680.50" y2="724.20" stroke="#000" stroke-width="1"/>
<line x1="573.40" y1="619.70" x2="578.70" y2="619.70" stroke="#000" stroke-width="1"/>
<text x="572.20" y="623.60" font-size="11" text-anchor="end" fill="#000">50</text>
<line x1="573.40" y1="640.90" x2="578.70" y2="640.90" stroke="#000" stroke-width="1"/>
<text x="572.20" y="644.80" font-size="11" text-anchor="end" fill="#000">40</text>
<line x1="573.40" y1="661.50" x2="578.70" y2="661.50" stroke="#000" stroke-width="1"/>
<text x="572.20" y="665.40" font-size="11" text-anchor="end" fill="#000">30</text>
<line x1="573.40" y1="682.30" x2="578.70" y2="682.30" stroke="#000" stroke-width="1"/>
<text x="572.20" y="686.20" font-size="11" text-anchor="end" fill="#000">20</text>
<line x1="573.40" y1="703.20" x2="578.70" y2="703.20" stroke="#000" stroke-width="1"/>
<text x="572.20" y="707.10" font-size="11" text-anchor="end" fill="#000">10</text>
<line x1="573.40" y1="724.20" x2="578.70" y2="724.20" stroke="#000" stroke-width="1"/>
<text x="572.20" y="728.10" font-size="11" text-anchor="end" fill="#000">0</text>
<rect x="591.6" y="649.5" width="24.3" height="74.7" fill="#000" stroke="#000" stroke-width="1"/>
<rect x="618.1" y="695.3" width="23.0" height="28.9" fill="#fff" stroke="#000" stroke-width="1"/>
<rect x="643.0" y="710.7" width="23.6" height="13.5" fill="#9b9b9b" stroke="#000" stroke-width="1"/>
<line x1="603.70" y1="642.30" x2="603.70" y2="650.00" stroke="#000" stroke-width="0.8"/>
<line x1="597.20" y1="642.30" x2="610.20" y2="642.30" stroke="#000" stroke-width="0.8"/>
<line x1="629.60" y1="692.90" x2="629.60" y2="695.00" stroke="#000" stroke-width="0.8"/>
<line x1="624.60" y1="692.90" x2="634.60" y2="692.90" stroke="#000" stroke-width="0.8"/>
<line x1="654.80" y1="708.40" x2="654.80" y2="711.00" stroke="#000" stroke-width="0.8"/>
<line x1="649.80" y1="708.40" x2="659.80" y2="708.40" stroke="#000" stroke-width="0.8"/>
<circle cx="603.5" cy="638.9" r="1.9" fill="#000"/>
<circle cx="603.5" cy="646.1" r="1.9" fill="#000"/>
<circle cx="625.0" cy="693.0" r="1.9" fill="#000"/>
<circle cx="633.4" cy="693.6" r="1.9" fill="#000"/>
<circle cx="629.1" cy="698.2" r="1.9" fill="#000"/>
<circle cx="651.0" cy="707.2" r="1.9" fill="#000"/>
<circle cx="658.3" cy="710.2" r="1.9" fill="#000"/>
<circle cx="651.0" cy="712.9" r="1.9" fill="#000"/>
<path d="M603.1 631.4V624.0H626.6V631.4" fill="none" stroke="#000" stroke-width="1.2"/>
<path d="M631.2 631.4V624.0H654.5V631.4" fill="none" stroke="#000" stroke-width="1.2"/>
<text x="615.30" y="623.90" font-size="12.5" text-anchor="middle" fill="#000" font-weight="bold">*</text>
<text x="643.10" y="623.90" font-size="12.5" text-anchor="middle" fill="#000" font-weight="bold">**</text>
<text transform="translate(541.20 669.50) rotate(-90)" font-size="10" text-anchor="middle" fill="#000">SW1353</text>
<text transform="translate(553.40 669.80) rotate(-90)" font-size="10" text-anchor="middle" fill="#000">Death cells %</text>
</svg>
</body></html>
